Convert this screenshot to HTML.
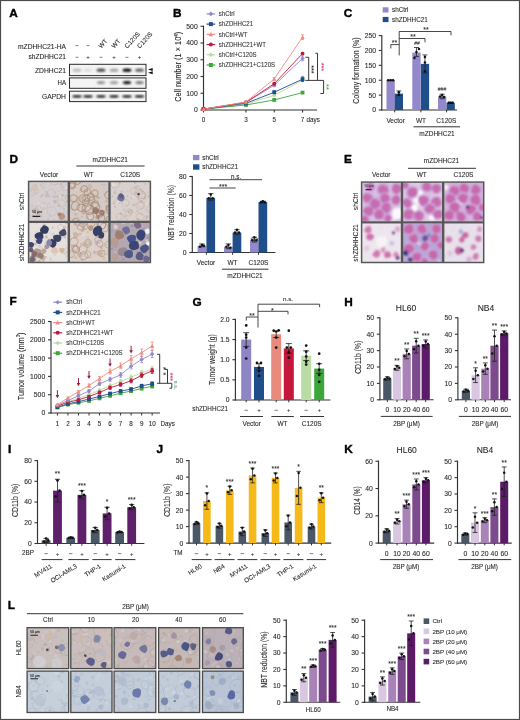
<!DOCTYPE html>
<html><head><meta charset="utf-8"><style>
html,body{margin:0;padding:0;background:#fff;overflow:hidden;}
svg{display:block;font-family:"Liberation Sans", sans-serif;filter:blur(0.35px);}
text{stroke-width:0.08px;}
</style></head><body>
<svg width="520" height="720" viewBox="0 0 520 720">
<rect width="520" height="720" fill="#fff"/>
<text x="9.20" y="16.72" font-size="11.8" font-weight="bold" fill="#000" stroke="#000" style="stroke-width:0.4px">A</text>
<text x="66.00" y="48.76" font-size="6.3" text-anchor="end" fill="#262626" textLength="48.00" lengthAdjust="spacingAndGlyphs" stroke="#262626">mZDHHC21-HA</text>
<text x="66.00" y="59.26" font-size="6.3" text-anchor="end" fill="#262626" textLength="37.50" lengthAdjust="spacingAndGlyphs" stroke="#262626">shZDHHC21</text>
<line x1="75.50" y1="45.60" x2="78.50" y2="45.60" stroke="#555" stroke-width="0.75"/>
<line x1="86.50" y1="45.60" x2="89.50" y2="45.60" stroke="#555" stroke-width="0.75"/>
<line x1="75.50" y1="57.30" x2="78.50" y2="57.30" stroke="#555" stroke-width="0.75"/>
<text x="88.00" y="59.45" font-size="6" text-anchor="middle" fill="#262626" stroke="#262626">+</text>
<line x1="99.50" y1="57.30" x2="102.50" y2="57.30" stroke="#555" stroke-width="0.75"/>
<text x="114.00" y="59.45" font-size="6" text-anchor="middle" fill="#262626" stroke="#262626">+</text>
<line x1="125.50" y1="57.30" x2="128.50" y2="57.30" stroke="#555" stroke-width="0.75"/>
<text x="139.50" y="59.45" font-size="6" text-anchor="middle" fill="#262626" stroke="#262626">+</text>
<text transform="translate(101.30,48.8) rotate(-48)" font-size="6.4" fill="#262626" stroke="#262626">WT</text>
<text transform="translate(114.30,48.8) rotate(-48)" font-size="6.4" fill="#262626" stroke="#262626">WT</text>
<text transform="translate(127.30,48.8) rotate(-48)" font-size="6.4" fill="#262626" stroke="#262626">C120S</text>
<text transform="translate(139.80,48.8) rotate(-48)" font-size="6.4" fill="#262626" stroke="#262626">C120S</text>
<text x="66.00" y="72.56" font-size="6.3" text-anchor="end" fill="#262626" textLength="31.00" lengthAdjust="spacingAndGlyphs" stroke="#262626">ZDHHC21</text>
<text x="66.00" y="85.46" font-size="6.3" text-anchor="end" fill="#262626" textLength="8.50" lengthAdjust="spacingAndGlyphs" stroke="#262626">HA</text>
<text x="66.00" y="98.76" font-size="6.3" text-anchor="end" fill="#262626" textLength="24.00" lengthAdjust="spacingAndGlyphs" stroke="#262626">GAPDH</text>
<defs><filter id="bl" x="-50%" y="-50%" width="200%" height="200%"><feGaussianBlur stdDeviation="0.9"/></filter><filter id="bl2" x="-50%" y="-50%" width="200%" height="200%"><feGaussianBlur stdDeviation="1.6"/></filter></defs>
<rect x="69.50" y="64.30" width="76.50" height="11.30" fill="#f4f4f4"/>
<rect x="69.50" y="77.90" width="76.50" height="10.40" fill="#f4f4f4"/>
<rect x="69.50" y="91.20" width="76.50" height="10.40" fill="#f4f4f4"/>
<ellipse cx="77.00" cy="70.20" rx="4.50" ry="1.60" fill="#000" opacity="0.24" filter="url(#bl)"/>
<ellipse cx="88.00" cy="70.20" rx="4.50" ry="1.60" fill="#000" opacity="0.09" filter="url(#bl)"/>
<ellipse cx="101.00" cy="70.20" rx="4.50" ry="1.60" fill="#000" opacity="0.72" filter="url(#bl)"/>
<ellipse cx="114.00" cy="70.20" rx="4.50" ry="1.60" fill="#000" opacity="0.34" filter="url(#bl)"/>
<ellipse cx="127.00" cy="70.20" rx="4.50" ry="1.60" fill="#000" opacity="1.0" filter="url(#bl)"/>
<ellipse cx="139.50" cy="70.20" rx="4.50" ry="1.60" fill="#000" opacity="0.62" filter="url(#bl)"/>
<ellipse cx="101.00" cy="82.60" rx="4.25" ry="1.60" fill="#000" opacity="0.4" filter="url(#bl)"/>
<ellipse cx="114.00" cy="82.60" rx="4.25" ry="1.60" fill="#000" opacity="0.36" filter="url(#bl)"/>
<ellipse cx="127.00" cy="82.60" rx="4.25" ry="1.60" fill="#000" opacity="0.95" filter="url(#bl)"/>
<ellipse cx="139.50" cy="82.60" rx="4.25" ry="1.60" fill="#000" opacity="0.5" filter="url(#bl)"/>
<ellipse cx="77.00" cy="96.40" rx="4.75" ry="1.10" fill="#000" opacity="1.0" filter="url(#bl)"/>
<ellipse cx="88.00" cy="96.40" rx="4.75" ry="1.10" fill="#000" opacity="1.0" filter="url(#bl)"/>
<ellipse cx="101.00" cy="96.40" rx="4.75" ry="1.10" fill="#000" opacity="1.0" filter="url(#bl)"/>
<ellipse cx="114.00" cy="96.40" rx="4.75" ry="1.10" fill="#000" opacity="1.0" filter="url(#bl)"/>
<ellipse cx="127.00" cy="96.40" rx="4.75" ry="1.10" fill="#000" opacity="1.0" filter="url(#bl)"/>
<ellipse cx="139.50" cy="96.40" rx="4.75" ry="1.10" fill="#000" opacity="1.0" filter="url(#bl)"/>
<rect x="69.50" y="64.30" width="76.50" height="11.30" fill="none" stroke="#2a2a2a" stroke-width="1.0"/>
<rect x="69.50" y="77.90" width="76.50" height="10.40" fill="none" stroke="#2a2a2a" stroke-width="1.0"/>
<rect x="69.50" y="91.20" width="76.50" height="10.40" fill="none" stroke="#2a2a2a" stroke-width="1.0"/>
<path d="M148,69.4 L152.7,67.9 L152.7,70.9 Z M148,72.7 L152.7,71.2 L152.7,74.2 Z" fill="#111"/>
<text x="172.90" y="16.82" font-size="11.8" font-weight="bold" fill="#000" stroke="#000" style="stroke-width:0.4px">B</text>
<line x1="203.50" y1="110.55" x2="203.50" y2="25.65" stroke="#333" stroke-width="1.15"/>
<line x1="200.50" y1="110.00" x2="203.50" y2="110.00" stroke="#333" stroke-width="1.1"/>
<text x="197.70" y="112.43" font-size="6.8" text-anchor="end" fill="#262626" stroke="#262626">0</text>
<line x1="200.50" y1="93.25" x2="203.50" y2="93.25" stroke="#333" stroke-width="1.1"/>
<text x="197.70" y="95.68" font-size="6.8" text-anchor="end" fill="#262626" stroke="#262626">100</text>
<line x1="200.50" y1="76.50" x2="203.50" y2="76.50" stroke="#333" stroke-width="1.1"/>
<text x="197.70" y="78.93" font-size="6.8" text-anchor="end" fill="#262626" stroke="#262626">200</text>
<line x1="200.50" y1="59.75" x2="203.50" y2="59.75" stroke="#333" stroke-width="1.1"/>
<text x="197.70" y="62.18" font-size="6.8" text-anchor="end" fill="#262626" stroke="#262626">300</text>
<line x1="200.50" y1="43.00" x2="203.50" y2="43.00" stroke="#333" stroke-width="1.1"/>
<text x="197.70" y="45.43" font-size="6.8" text-anchor="end" fill="#262626" stroke="#262626">400</text>
<line x1="200.50" y1="26.25" x2="203.50" y2="26.25" stroke="#333" stroke-width="1.1"/>
<text x="197.70" y="28.68" font-size="6.8" text-anchor="end" fill="#262626" stroke="#262626">500</text>
<line x1="203.00" y1="110.00" x2="317.00" y2="110.00" stroke="#333" stroke-width="1.1"/>
<line x1="203.50" y1="110.00" x2="203.50" y2="112.50" stroke="#333" stroke-width="1.1"/>
<text x="203.50" y="122.26" font-size="6.3" text-anchor="middle" fill="#262626" stroke="#262626">0</text>
<line x1="245.95" y1="110.00" x2="245.95" y2="112.50" stroke="#333" stroke-width="1.1"/>
<text x="245.95" y="122.26" font-size="6.3" text-anchor="middle" fill="#262626" stroke="#262626">3</text>
<line x1="274.25" y1="110.00" x2="274.25" y2="112.50" stroke="#333" stroke-width="1.1"/>
<text x="274.25" y="122.26" font-size="6.3" text-anchor="middle" fill="#262626" stroke="#262626">5</text>
<line x1="302.55" y1="110.00" x2="302.55" y2="112.50" stroke="#333" stroke-width="1.1"/>
<text x="302.55" y="122.26" font-size="6.3" text-anchor="middle" fill="#262626" stroke="#262626">7</text>
<text x="306.55" y="122.26" font-size="6.3" text-anchor="start" fill="#262626" stroke="#262626"> days</text>
<text transform="translate(178.0,66.8) rotate(-90)" font-size="9.2" fill="#262626" text-anchor="middle" x="0" y="3.3" textLength="70" lengthAdjust="spacingAndGlyphs" stroke="#262626">Cell number (1 × 10<tspan font-size="5.5" dy="-3.3">4</tspan><tspan dy="3.3">)</tspan></text>
<line x1="206.50" y1="13.90" x2="215.20" y2="13.90" stroke="#9488cc" stroke-width="1.2"/>
<path d="M208.60,13.90 L210.90,11.60 L213.20,13.90 L210.90,16.20Z" fill="#9488cc"/>
<text x="218.80" y="16.19" font-size="6.4" text-anchor="start" fill="#333" textLength="15.79" lengthAdjust="spacingAndGlyphs" stroke="#333">shCtrl</text>
<line x1="206.50" y1="24.12" x2="215.20" y2="24.12" stroke="#1f4e8b" stroke-width="1.2"/>
<rect x="208.90" y="22.12" width="4.00" height="4.00" fill="#1f4e8b"/>
<text x="218.80" y="26.41" font-size="6.4" text-anchor="start" fill="#333" textLength="34.28" lengthAdjust="spacingAndGlyphs" stroke="#333">shZDHHC21</text>
<line x1="206.50" y1="34.34" x2="215.20" y2="34.34" stroke="#ec8d80" stroke-width="1.2"/>
<path d="M208.70,36.34 L210.90,32.04 L213.10,36.34Z" fill="#ec8d80"/>
<text x="218.80" y="36.63" font-size="6.4" text-anchor="start" fill="#333" textLength="28.73" lengthAdjust="spacingAndGlyphs" stroke="#333">shCtrl+WT</text>
<line x1="206.50" y1="44.56" x2="215.20" y2="44.56" stroke="#c2163f" stroke-width="1.2"/>
<circle cx="210.90" cy="44.56" r="2.00" fill="#c2163f"/>
<text x="218.80" y="46.85" font-size="6.4" text-anchor="start" fill="#333" textLength="47.22" lengthAdjust="spacingAndGlyphs" stroke="#333">shZDHHC21+WT</text>
<line x1="206.50" y1="54.78" x2="215.20" y2="54.78" stroke="#b7dba3" stroke-width="1.2"/>
<path d="M208.60,54.78 L210.90,52.48 L213.20,54.78 L210.90,57.08Z" fill="#b7dba3"/>
<text x="218.80" y="57.07" font-size="6.4" text-anchor="start" fill="#333" textLength="37.82" lengthAdjust="spacingAndGlyphs" stroke="#333">shCtrl+C120S</text>
<line x1="206.50" y1="65.00" x2="215.20" y2="65.00" stroke="#3ea63c" stroke-width="1.2"/>
<rect x="208.90" y="63.00" width="4.00" height="4.00" fill="#3ea63c"/>
<text x="218.80" y="67.29" font-size="6.4" text-anchor="start" fill="#333" textLength="56.31" lengthAdjust="spacingAndGlyphs" stroke="#333">shZDHHC21+C120S</text>
<polyline points="203.50,109.16 245.95,104.14 274.25,95.26 302.55,80.19" stroke="#b7dba3" stroke-width="0.9" fill="none"/>
<path d="M201.30,109.16 L203.50,106.96 L205.70,109.16 L203.50,111.36Z" fill="#b7dba3"/>
<line x1="245.95" y1="104.64" x2="245.95" y2="103.64" stroke="#b7dba3" stroke-width="0.8"/>
<line x1="244.45" y1="103.64" x2="247.45" y2="103.64" stroke="#b7dba3" stroke-width="0.8"/>
<line x1="244.45" y1="104.64" x2="247.45" y2="104.64" stroke="#b7dba3" stroke-width="0.8"/>
<path d="M243.75,104.14 L245.95,101.94 L248.15,104.14 L245.95,106.34Z" fill="#b7dba3"/>
<line x1="274.25" y1="96.10" x2="274.25" y2="94.42" stroke="#b7dba3" stroke-width="0.8"/>
<line x1="272.75" y1="94.42" x2="275.75" y2="94.42" stroke="#b7dba3" stroke-width="0.8"/>
<line x1="272.75" y1="96.10" x2="275.75" y2="96.10" stroke="#b7dba3" stroke-width="0.8"/>
<path d="M272.05,95.26 L274.25,93.06 L276.45,95.26 L274.25,97.46Z" fill="#b7dba3"/>
<line x1="302.55" y1="81.19" x2="302.55" y2="79.18" stroke="#b7dba3" stroke-width="0.8"/>
<line x1="301.05" y1="79.18" x2="304.05" y2="79.18" stroke="#b7dba3" stroke-width="0.8"/>
<line x1="301.05" y1="81.19" x2="304.05" y2="81.19" stroke="#b7dba3" stroke-width="0.8"/>
<path d="M300.35,80.19 L302.55,77.98 L304.75,80.19 L302.55,82.39Z" fill="#b7dba3"/>
<polyline points="203.50,109.16 245.95,104.97 274.25,99.95 302.55,92.58" stroke="#3ea63c" stroke-width="0.9" fill="none"/>
<rect x="201.60" y="107.26" width="3.80" height="3.80" fill="#3ea63c"/>
<line x1="245.95" y1="105.48" x2="245.95" y2="104.47" stroke="#3ea63c" stroke-width="0.8"/>
<line x1="244.45" y1="104.47" x2="247.45" y2="104.47" stroke="#3ea63c" stroke-width="0.8"/>
<line x1="244.45" y1="105.48" x2="247.45" y2="105.48" stroke="#3ea63c" stroke-width="0.8"/>
<rect x="244.05" y="103.07" width="3.80" height="3.80" fill="#3ea63c"/>
<line x1="274.25" y1="100.79" x2="274.25" y2="99.11" stroke="#3ea63c" stroke-width="0.8"/>
<line x1="272.75" y1="99.11" x2="275.75" y2="99.11" stroke="#3ea63c" stroke-width="0.8"/>
<line x1="272.75" y1="100.79" x2="275.75" y2="100.79" stroke="#3ea63c" stroke-width="0.8"/>
<rect x="272.35" y="98.05" width="3.80" height="3.80" fill="#3ea63c"/>
<line x1="302.55" y1="93.58" x2="302.55" y2="91.58" stroke="#3ea63c" stroke-width="0.8"/>
<line x1="301.05" y1="91.58" x2="304.05" y2="91.58" stroke="#3ea63c" stroke-width="0.8"/>
<line x1="301.05" y1="93.58" x2="304.05" y2="93.58" stroke="#3ea63c" stroke-width="0.8"/>
<rect x="300.65" y="90.68" width="3.80" height="3.80" fill="#3ea63c"/>
<polyline points="203.50,109.16 245.95,103.30 274.25,92.25 302.55,79.18" stroke="#1f4e8b" stroke-width="0.9" fill="none"/>
<rect x="201.60" y="107.26" width="3.80" height="3.80" fill="#1f4e8b"/>
<line x1="245.95" y1="103.97" x2="245.95" y2="102.63" stroke="#1f4e8b" stroke-width="0.8"/>
<line x1="244.45" y1="102.63" x2="247.45" y2="102.63" stroke="#1f4e8b" stroke-width="0.8"/>
<line x1="244.45" y1="103.97" x2="247.45" y2="103.97" stroke="#1f4e8b" stroke-width="0.8"/>
<rect x="244.05" y="101.40" width="3.80" height="3.80" fill="#1f4e8b"/>
<line x1="274.25" y1="93.59" x2="274.25" y2="90.91" stroke="#1f4e8b" stroke-width="0.8"/>
<line x1="272.75" y1="90.91" x2="275.75" y2="90.91" stroke="#1f4e8b" stroke-width="0.8"/>
<line x1="272.75" y1="93.59" x2="275.75" y2="93.59" stroke="#1f4e8b" stroke-width="0.8"/>
<rect x="272.35" y="90.34" width="3.80" height="3.80" fill="#1f4e8b"/>
<line x1="302.55" y1="81.53" x2="302.55" y2="76.84" stroke="#1f4e8b" stroke-width="0.8"/>
<line x1="301.05" y1="76.84" x2="304.05" y2="76.84" stroke="#1f4e8b" stroke-width="0.8"/>
<line x1="301.05" y1="81.53" x2="304.05" y2="81.53" stroke="#1f4e8b" stroke-width="0.8"/>
<rect x="300.65" y="77.28" width="3.80" height="3.80" fill="#1f4e8b"/>
<polyline points="203.50,109.16 245.95,102.46 274.25,85.21 302.55,58.41" stroke="#9488cc" stroke-width="0.9" fill="none"/>
<path d="M201.30,109.16 L203.50,106.96 L205.70,109.16 L203.50,111.36Z" fill="#9488cc"/>
<line x1="245.95" y1="103.13" x2="245.95" y2="101.79" stroke="#9488cc" stroke-width="0.8"/>
<line x1="244.45" y1="101.79" x2="247.45" y2="101.79" stroke="#9488cc" stroke-width="0.8"/>
<line x1="244.45" y1="103.13" x2="247.45" y2="103.13" stroke="#9488cc" stroke-width="0.8"/>
<path d="M243.75,102.46 L245.95,100.26 L248.15,102.46 L245.95,104.66Z" fill="#9488cc"/>
<line x1="274.25" y1="86.55" x2="274.25" y2="83.87" stroke="#9488cc" stroke-width="0.8"/>
<line x1="272.75" y1="83.87" x2="275.75" y2="83.87" stroke="#9488cc" stroke-width="0.8"/>
<line x1="272.75" y1="86.55" x2="275.75" y2="86.55" stroke="#9488cc" stroke-width="0.8"/>
<path d="M272.05,85.21 L274.25,83.01 L276.45,85.21 L274.25,87.41Z" fill="#9488cc"/>
<line x1="302.55" y1="60.75" x2="302.55" y2="56.06" stroke="#9488cc" stroke-width="0.8"/>
<line x1="301.05" y1="56.06" x2="304.05" y2="56.06" stroke="#9488cc" stroke-width="0.8"/>
<line x1="301.05" y1="60.75" x2="304.05" y2="60.75" stroke="#9488cc" stroke-width="0.8"/>
<path d="M300.35,58.41 L302.55,56.21 L304.75,58.41 L302.55,60.61Z" fill="#9488cc"/>
<polyline points="203.50,109.16 245.95,102.30 274.25,83.70 302.55,53.55" stroke="#c2163f" stroke-width="0.9" fill="none"/>
<circle cx="203.50" cy="109.16" r="1.90" fill="#c2163f"/>
<line x1="245.95" y1="102.80" x2="245.95" y2="101.79" stroke="#c2163f" stroke-width="0.8"/>
<line x1="244.45" y1="101.79" x2="247.45" y2="101.79" stroke="#c2163f" stroke-width="0.8"/>
<line x1="244.45" y1="102.80" x2="247.45" y2="102.80" stroke="#c2163f" stroke-width="0.8"/>
<circle cx="245.95" cy="102.30" r="1.90" fill="#c2163f"/>
<line x1="274.25" y1="84.54" x2="274.25" y2="82.86" stroke="#c2163f" stroke-width="0.8"/>
<line x1="272.75" y1="82.86" x2="275.75" y2="82.86" stroke="#c2163f" stroke-width="0.8"/>
<line x1="272.75" y1="84.54" x2="275.75" y2="84.54" stroke="#c2163f" stroke-width="0.8"/>
<circle cx="274.25" cy="83.70" r="1.90" fill="#c2163f"/>
<line x1="302.55" y1="54.56" x2="302.55" y2="52.55" stroke="#c2163f" stroke-width="0.8"/>
<line x1="301.05" y1="52.55" x2="304.05" y2="52.55" stroke="#c2163f" stroke-width="0.8"/>
<line x1="301.05" y1="54.56" x2="304.05" y2="54.56" stroke="#c2163f" stroke-width="0.8"/>
<circle cx="302.55" cy="53.55" r="1.90" fill="#c2163f"/>
<polyline points="203.50,109.16 245.95,101.96 274.25,78.84 302.55,37.14" stroke="#ec8d80" stroke-width="0.9" fill="none"/>
<path d="M201.40,111.06 L203.50,106.96 L205.60,111.06Z" fill="#ec8d80"/>
<line x1="245.95" y1="102.63" x2="245.95" y2="101.29" stroke="#ec8d80" stroke-width="0.8"/>
<line x1="244.45" y1="101.29" x2="247.45" y2="101.29" stroke="#ec8d80" stroke-width="0.8"/>
<line x1="244.45" y1="102.63" x2="247.45" y2="102.63" stroke="#ec8d80" stroke-width="0.8"/>
<path d="M243.85,103.86 L245.95,99.76 L248.05,103.86Z" fill="#ec8d80"/>
<line x1="274.25" y1="80.19" x2="274.25" y2="77.50" stroke="#ec8d80" stroke-width="0.8"/>
<line x1="272.75" y1="77.50" x2="275.75" y2="77.50" stroke="#ec8d80" stroke-width="0.8"/>
<line x1="272.75" y1="80.19" x2="275.75" y2="80.19" stroke="#ec8d80" stroke-width="0.8"/>
<path d="M272.15,80.75 L274.25,76.64 L276.35,80.75Z" fill="#ec8d80"/>
<line x1="302.55" y1="39.48" x2="302.55" y2="34.79" stroke="#ec8d80" stroke-width="0.8"/>
<line x1="301.05" y1="34.79" x2="304.05" y2="34.79" stroke="#ec8d80" stroke-width="0.8"/>
<line x1="301.05" y1="39.48" x2="304.05" y2="39.48" stroke="#ec8d80" stroke-width="0.8"/>
<path d="M300.45,39.04 L302.55,34.94 L304.65,39.04Z" fill="#ec8d80"/>
<polyline points="305.40,57.30 308.70,57.30 308.70,80.40" stroke="#222" stroke-width="0.9" fill="none"/>
<polyline points="315.40,53.30 317.50,53.30 317.50,80.40" stroke="#222" stroke-width="0.9" fill="none"/>
<polyline points="305.40,80.40 323.60,80.40 323.60,93.50 320.40,93.50" stroke="#222" stroke-width="0.9" fill="none"/>
<text transform="translate(311.90,69.40) rotate(90)" x="0" y="2.58" font-size="7.2" text-anchor="middle" fill="#2a2a2a" stroke="#2a2a2a">***</text>
<text transform="translate(321.20,66.90) rotate(90)" x="0" y="2.58" font-size="7.2" text-anchor="middle" fill="#d83a62" stroke="#d83a62">***</text>
<text transform="translate(326.80,86.90) rotate(90)" x="0" y="2.58" font-size="7.2" text-anchor="middle" fill="#4aa848" stroke="#4aa848">**</text>
<text x="343.80" y="16.72" font-size="11.8" font-weight="bold" fill="#000" stroke="#000" style="stroke-width:0.4px">C</text>
<rect x="382.70" y="7.30" width="5.80" height="5.20" fill="#9488cc"/>
<text x="392.00" y="12.26" font-size="6.3" text-anchor="start" fill="#262626" stroke="#262626">shCtrl</text>
<rect x="382.70" y="16.90" width="5.80" height="5.20" fill="#1f4e8b"/>
<text x="392.00" y="21.86" font-size="6.3" text-anchor="start" fill="#262626" stroke="#262626">shZDHHC21</text>
<line x1="381.80" y1="110.55" x2="381.80" y2="35.00" stroke="#333" stroke-width="1.15"/>
<line x1="378.80" y1="110.00" x2="381.80" y2="110.00" stroke="#333" stroke-width="1.1"/>
<text x="376.00" y="112.43" font-size="6.8" text-anchor="end" fill="#262626" stroke="#262626">0</text>
<line x1="378.80" y1="95.12" x2="381.80" y2="95.12" stroke="#333" stroke-width="1.1"/>
<text x="376.00" y="97.55" font-size="6.8" text-anchor="end" fill="#262626" stroke="#262626">50</text>
<line x1="378.80" y1="80.24" x2="381.80" y2="80.24" stroke="#333" stroke-width="1.1"/>
<text x="376.00" y="82.67" font-size="6.8" text-anchor="end" fill="#262626" stroke="#262626">100</text>
<line x1="378.80" y1="65.36" x2="381.80" y2="65.36" stroke="#333" stroke-width="1.1"/>
<text x="376.00" y="67.79" font-size="6.8" text-anchor="end" fill="#262626" stroke="#262626">150</text>
<line x1="378.80" y1="50.48" x2="381.80" y2="50.48" stroke="#333" stroke-width="1.1"/>
<text x="376.00" y="52.91" font-size="6.8" text-anchor="end" fill="#262626" stroke="#262626">200</text>
<line x1="378.80" y1="35.60" x2="381.80" y2="35.60" stroke="#333" stroke-width="1.1"/>
<text x="376.00" y="38.03" font-size="6.8" text-anchor="end" fill="#262626" stroke="#262626">250</text>
<line x1="381.30" y1="110.00" x2="457.00" y2="110.00" stroke="#333" stroke-width="1.1"/>
<text transform="translate(356.1,70.6) rotate(-90)" font-size="9.2" fill="#262626" text-anchor="middle" y="3.3" textLength="66.3" lengthAdjust="spacingAndGlyphs" stroke="#262626">Colony formation (%)</text>
<rect x="386.50" y="80.24" width="8.30" height="29.76" fill="#9488cc"/>
<line x1="390.65" y1="80.24" x2="390.65" y2="80.24" stroke="#222" stroke-width="0.8"/>
<line x1="388.16" y1="80.24" x2="393.14" y2="80.24" stroke="#222" stroke-width="0.8"/>
<line x1="388.16" y1="80.24" x2="393.14" y2="80.24" stroke="#222" stroke-width="0.8"/>
<circle cx="388.15" cy="80.24" r="1.25" fill="#111"/>
<circle cx="390.65" cy="80.24" r="1.25" fill="#111"/>
<circle cx="393.15" cy="80.24" r="1.25" fill="#111"/>
<rect x="394.70" y="93.63" width="8.30" height="16.37" fill="#1f4e8b"/>
<line x1="398.85" y1="95.72" x2="398.85" y2="90.95" stroke="#222" stroke-width="0.8"/>
<line x1="396.36" y1="90.95" x2="401.34" y2="90.95" stroke="#222" stroke-width="0.8"/>
<line x1="396.36" y1="95.72" x2="401.34" y2="95.72" stroke="#222" stroke-width="0.8"/>
<circle cx="398.85" cy="94.82" r="1.25" fill="#111"/>
<circle cx="398.85" cy="92.14" r="1.25" fill="#111"/>
<rect x="412.30" y="52.56" width="8.30" height="57.44" fill="#9488cc"/>
<line x1="416.45" y1="56.43" x2="416.45" y2="47.50" stroke="#222" stroke-width="0.8"/>
<line x1="413.96" y1="47.50" x2="418.94" y2="47.50" stroke="#222" stroke-width="0.8"/>
<line x1="413.96" y1="56.43" x2="418.94" y2="56.43" stroke="#222" stroke-width="0.8"/>
<circle cx="414.45" cy="57.92" r="1.25" fill="#111"/>
<circle cx="416.45" cy="51.97" r="1.25" fill="#111"/>
<circle cx="418.95" cy="48.99" r="1.25" fill="#111"/>
<rect x="420.80" y="63.87" width="8.30" height="46.13" fill="#1f4e8b"/>
<line x1="424.95" y1="72.80" x2="424.95" y2="54.94" stroke="#222" stroke-width="0.8"/>
<line x1="422.46" y1="54.94" x2="427.44" y2="54.94" stroke="#222" stroke-width="0.8"/>
<line x1="422.46" y1="72.80" x2="427.44" y2="72.80" stroke="#222" stroke-width="0.8"/>
<circle cx="424.95" cy="71.31" r="1.25" fill="#111"/>
<circle cx="424.95" cy="62.38" r="1.25" fill="#111"/>
<circle cx="424.95" cy="57.03" r="1.25" fill="#111"/>
<rect x="438.00" y="96.61" width="8.30" height="13.39" fill="#9488cc"/>
<line x1="442.15" y1="98.69" x2="442.15" y2="94.23" stroke="#222" stroke-width="0.8"/>
<line x1="439.66" y1="94.23" x2="444.64" y2="94.23" stroke="#222" stroke-width="0.8"/>
<line x1="439.66" y1="98.69" x2="444.64" y2="98.69" stroke="#222" stroke-width="0.8"/>
<circle cx="440.15" cy="96.61" r="1.25" fill="#111"/>
<circle cx="442.15" cy="95.12" r="1.25" fill="#111"/>
<circle cx="444.15" cy="96.91" r="1.25" fill="#111"/>
<rect x="446.50" y="102.86" width="8.30" height="7.14" fill="#1f4e8b"/>
<line x1="450.65" y1="103.45" x2="450.65" y2="102.26" stroke="#222" stroke-width="0.8"/>
<line x1="448.16" y1="102.26" x2="453.14" y2="102.26" stroke="#222" stroke-width="0.8"/>
<line x1="448.16" y1="103.45" x2="453.14" y2="103.45" stroke="#222" stroke-width="0.8"/>
<circle cx="448.65" cy="102.86" r="1.25" fill="#111"/>
<circle cx="450.65" cy="102.86" r="1.25" fill="#111"/>
<circle cx="452.65" cy="102.86" r="1.25" fill="#111"/>
<line x1="394.70" y1="110.00" x2="394.70" y2="112.30" stroke="#333" stroke-width="1.0"/>
<line x1="420.90" y1="110.00" x2="420.90" y2="112.30" stroke="#333" stroke-width="1.0"/>
<line x1="446.60" y1="110.00" x2="446.60" y2="112.30" stroke="#333" stroke-width="1.0"/>
<text x="395.60" y="122.53" font-size="6.5" text-anchor="middle" fill="#262626" stroke="#262626">Vector</text>
<text x="421.00" y="122.53" font-size="6.5" text-anchor="middle" fill="#262626" stroke="#262626">WT</text>
<text x="446.30" y="122.53" font-size="6.5" text-anchor="middle" fill="#262626" stroke="#262626">C120S</text>
<line x1="413.50" y1="126.80" x2="460.00" y2="126.80" stroke="#333" stroke-width="1.0"/>
<text x="437.00" y="136.13" font-size="6.5" text-anchor="middle" fill="#262626" stroke="#262626">mZDHHC21</text>
<polyline points="399.20,55.40 399.20,31.50 451.00,31.50 451.00,35.40" stroke="#333" stroke-width="0.9" fill="none"/>
<polyline points="399.20,38.50 425.00,38.50 425.00,42.30" stroke="#333" stroke-width="0.9" fill="none"/>
<polyline points="390.80,48.50 390.80,44.60 399.20,44.60" stroke="#333" stroke-width="0.9" fill="none"/>
<text x="426.00" y="32.31" font-size="7" text-anchor="middle" fill="#262626" stroke="#262626">**</text>
<text x="413.00" y="39.21" font-size="7" text-anchor="middle" fill="#262626" stroke="#262626">**</text>
<text x="394.60" y="45.31" font-size="7" text-anchor="middle" fill="#262626" stroke="#262626">**</text>
<text x="417.00" y="44.79" font-size="5" text-anchor="middle" fill="#444" stroke="#444">##</text>
<text x="442.00" y="90.79" font-size="5" text-anchor="middle" fill="#444" stroke="#444">###</text>
<text x="9.60" y="162.62" font-size="11.8" font-weight="bold" fill="#000" stroke="#000" style="stroke-width:0.4px">D</text>
<text x="49.00" y="176.73" font-size="6.5" text-anchor="middle" fill="#262626" stroke="#262626">Vector</text>
<text x="88.80" y="176.73" font-size="6.5" text-anchor="middle" fill="#262626" stroke="#262626">WT</text>
<text x="130.20" y="176.73" font-size="6.5" text-anchor="middle" fill="#262626" stroke="#262626">C120S</text>
<line x1="76.30" y1="166.00" x2="144.60" y2="166.00" stroke="#333" stroke-width="1.0"/>
<text x="110.30" y="161.53" font-size="6.5" text-anchor="middle" fill="#262626" stroke="#262626">mZDHHC21</text>
<text transform="translate(21.60,201.40) rotate(-90)" x="0" y="2.65" font-size="7.4" text-anchor="middle" fill="#262626" textLength="17.50" lengthAdjust="spacingAndGlyphs" stroke="#262626">shCtrl</text>
<text transform="translate(21.60,242.50) rotate(-90)" x="0" y="2.65" font-size="7.4" text-anchor="middle" fill="#262626" textLength="37.50" lengthAdjust="spacingAndGlyphs" stroke="#262626">shZDHHC21</text>
<rect x="193.00" y="155.00" width="6.40" height="5.20" fill="#9488cc"/>
<text x="202.30" y="159.96" font-size="6.3" text-anchor="start" fill="#262626" stroke="#262626">shCtrl</text>
<rect x="193.00" y="164.30" width="6.40" height="5.40" fill="#1f4e8b"/>
<text x="202.30" y="169.26" font-size="6.3" text-anchor="start" fill="#262626" stroke="#262626">shZDHHC21</text>
<line x1="192.30" y1="253.05" x2="192.30" y2="175.90" stroke="#333" stroke-width="1.15"/>
<line x1="189.30" y1="252.50" x2="192.30" y2="252.50" stroke="#333" stroke-width="1.1"/>
<text x="186.50" y="254.93" font-size="6.8" text-anchor="end" fill="#262626" stroke="#262626">0</text>
<line x1="189.30" y1="233.50" x2="192.30" y2="233.50" stroke="#333" stroke-width="1.1"/>
<text x="186.50" y="235.93" font-size="6.8" text-anchor="end" fill="#262626" stroke="#262626">20</text>
<line x1="189.30" y1="214.50" x2="192.30" y2="214.50" stroke="#333" stroke-width="1.1"/>
<text x="186.50" y="216.93" font-size="6.8" text-anchor="end" fill="#262626" stroke="#262626">40</text>
<line x1="189.30" y1="195.50" x2="192.30" y2="195.50" stroke="#333" stroke-width="1.1"/>
<text x="186.50" y="197.93" font-size="6.8" text-anchor="end" fill="#262626" stroke="#262626">60</text>
<line x1="189.30" y1="176.50" x2="192.30" y2="176.50" stroke="#333" stroke-width="1.1"/>
<text x="186.50" y="178.93" font-size="6.8" text-anchor="end" fill="#262626" stroke="#262626">80</text>
<line x1="191.80" y1="252.50" x2="275.40" y2="252.50" stroke="#333" stroke-width="1.1"/>
<text transform="translate(170.5,212.8) rotate(-90)" font-size="9.2" fill="#262626" text-anchor="middle" y="3.3" textLength="55.6" lengthAdjust="spacingAndGlyphs" stroke="#262626">NBT reduction (%)</text>
<rect x="197.60" y="245.85" width="8.70" height="6.65" fill="#9488cc"/>
<line x1="201.95" y1="246.80" x2="201.95" y2="243.95" stroke="#222" stroke-width="0.8"/>
<line x1="199.34" y1="243.95" x2="204.56" y2="243.95" stroke="#222" stroke-width="0.8"/>
<line x1="199.34" y1="246.80" x2="204.56" y2="246.80" stroke="#222" stroke-width="0.8"/>
<circle cx="199.95" cy="246.80" r="1.25" fill="#111"/>
<circle cx="201.95" cy="244.90" r="1.25" fill="#111"/>
<circle cx="203.95" cy="245.85" r="1.25" fill="#111"/>
<rect x="206.40" y="197.88" width="8.70" height="54.62" fill="#1f4e8b"/>
<line x1="210.75" y1="200.25" x2="210.75" y2="193.60" stroke="#222" stroke-width="0.8"/>
<line x1="208.14" y1="193.60" x2="213.36" y2="193.60" stroke="#222" stroke-width="0.8"/>
<line x1="208.14" y1="200.25" x2="213.36" y2="200.25" stroke="#222" stroke-width="0.8"/>
<circle cx="208.75" cy="198.35" r="1.25" fill="#111"/>
<circle cx="210.75" cy="194.55" r="1.25" fill="#111"/>
<circle cx="212.75" cy="198.35" r="1.25" fill="#111"/>
<rect x="224.00" y="246.80" width="8.70" height="5.70" fill="#9488cc"/>
<line x1="228.35" y1="248.70" x2="228.35" y2="243.95" stroke="#222" stroke-width="0.8"/>
<line x1="225.74" y1="243.95" x2="230.96" y2="243.95" stroke="#222" stroke-width="0.8"/>
<line x1="225.74" y1="248.70" x2="230.96" y2="248.70" stroke="#222" stroke-width="0.8"/>
<circle cx="226.35" cy="246.80" r="1.25" fill="#111"/>
<circle cx="228.35" cy="244.90" r="1.25" fill="#111"/>
<circle cx="230.35" cy="247.75" r="1.25" fill="#111"/>
<rect x="232.60" y="232.55" width="8.70" height="19.95" fill="#1f4e8b"/>
<line x1="236.95" y1="234.45" x2="236.95" y2="229.70" stroke="#222" stroke-width="0.8"/>
<line x1="234.34" y1="229.70" x2="239.56" y2="229.70" stroke="#222" stroke-width="0.8"/>
<line x1="234.34" y1="234.45" x2="239.56" y2="234.45" stroke="#222" stroke-width="0.8"/>
<circle cx="234.95" cy="232.55" r="1.25" fill="#111"/>
<circle cx="236.95" cy="229.70" r="1.25" fill="#111"/>
<circle cx="238.95" cy="232.55" r="1.25" fill="#111"/>
<rect x="250.00" y="240.15" width="8.70" height="12.35" fill="#9488cc"/>
<line x1="254.35" y1="242.05" x2="254.35" y2="237.30" stroke="#222" stroke-width="0.8"/>
<line x1="251.74" y1="237.30" x2="256.96" y2="237.30" stroke="#222" stroke-width="0.8"/>
<line x1="251.74" y1="242.05" x2="256.96" y2="242.05" stroke="#222" stroke-width="0.8"/>
<circle cx="252.35" cy="240.15" r="1.25" fill="#111"/>
<circle cx="254.35" cy="237.30" r="1.25" fill="#111"/>
<circle cx="256.35" cy="240.15" r="1.25" fill="#111"/>
<rect x="258.50" y="202.15" width="8.70" height="50.35" fill="#1f4e8b"/>
<line x1="262.85" y1="203.10" x2="262.85" y2="201.20" stroke="#222" stroke-width="0.8"/>
<line x1="260.24" y1="201.20" x2="265.46" y2="201.20" stroke="#222" stroke-width="0.8"/>
<line x1="260.24" y1="203.10" x2="265.46" y2="203.10" stroke="#222" stroke-width="0.8"/>
<circle cx="260.85" cy="202.15" r="1.25" fill="#111"/>
<circle cx="262.85" cy="201.20" r="1.25" fill="#111"/>
<circle cx="264.85" cy="202.15" r="1.25" fill="#111"/>
<line x1="206.40" y1="252.50" x2="206.40" y2="254.80" stroke="#333" stroke-width="1.0"/>
<line x1="232.60" y1="252.50" x2="232.60" y2="254.80" stroke="#333" stroke-width="1.0"/>
<line x1="258.50" y1="252.50" x2="258.50" y2="254.80" stroke="#333" stroke-width="1.0"/>
<text x="206.00" y="264.63" font-size="6.5" text-anchor="middle" fill="#262626" stroke="#262626">Vector</text>
<text x="232.50" y="264.63" font-size="6.5" text-anchor="middle" fill="#262626" stroke="#262626">WT</text>
<text x="258.50" y="264.63" font-size="6.5" text-anchor="middle" fill="#262626" stroke="#262626">C120S</text>
<line x1="222.00" y1="269.20" x2="268.50" y2="269.20" stroke="#333" stroke-width="1.0"/>
<text x="245.00" y="278.33" font-size="6.5" text-anchor="middle" fill="#262626" stroke="#262626">mZDHHC21</text>
<line x1="209.40" y1="179.70" x2="262.10" y2="179.70" stroke="#333" stroke-width="0.9"/>
<line x1="209.40" y1="188.00" x2="235.70" y2="188.00" stroke="#333" stroke-width="0.9"/>
<text x="236.10" y="178.76" font-size="6.3" text-anchor="middle" fill="#262626" stroke="#262626">n.s.</text>
<text x="223.10" y="189.11" font-size="7" text-anchor="middle" fill="#262626" stroke="#262626">***</text>
<text x="254.50" y="242.51" font-size="7" text-anchor="middle" fill="#262626" stroke="#262626">***</text>
<text x="344.00" y="162.62" font-size="11.8" font-weight="bold" fill="#000" stroke="#000" style="stroke-width:0.4px">E</text>
<text x="381.30" y="176.93" font-size="6.5" text-anchor="middle" fill="#262626" stroke="#262626">Vector</text>
<text x="421.70" y="176.93" font-size="6.5" text-anchor="middle" fill="#262626" stroke="#262626">WT</text>
<text x="463.50" y="177.33" font-size="6.5" text-anchor="middle" fill="#262626" stroke="#262626">C120S</text>
<line x1="408.00" y1="168.30" x2="476.00" y2="168.30" stroke="#333" stroke-width="1.0"/>
<text x="441.50" y="163.13" font-size="6.5" text-anchor="middle" fill="#262626" stroke="#262626">mZDHHC21</text>
<text transform="translate(355.10,201.40) rotate(-90)" x="0" y="2.65" font-size="7.4" text-anchor="middle" fill="#262626" textLength="17.50" lengthAdjust="spacingAndGlyphs" stroke="#262626">shCtrl</text>
<text transform="translate(355.10,243.00) rotate(-90)" x="0" y="2.65" font-size="7.4" text-anchor="middle" fill="#262626" textLength="37.50" lengthAdjust="spacingAndGlyphs" stroke="#262626">shZDHHC21</text>
<defs><filter id="mb" x="-20%" y="-20%" width="140%" height="140%"><feGaussianBlur stdDeviation="0.75"/></filter><filter id="mb2" x="-20%" y="-20%" width="140%" height="140%"><feGaussianBlur stdDeviation="0.45"/></filter><filter id="mbE" x="-20%" y="-20%" width="140%" height="140%"><feGaussianBlur stdDeviation="0.95"/></filter></defs>
<clipPath id="mc1"><rect x="28.90" y="181.70" width="38.90" height="39.20"/></clipPath>
<g clip-path="url(#mc1)">
<rect x="27.90" y="180.70" width="40.90" height="41.20" fill="#d5cfd1"/>
<g filter="url(#mb)">
<circle cx="33.40" cy="215.61" r="1.44" fill="#bcaca4" opacity="0.40"/>
<circle cx="59.02" cy="200.16" r="1.02" fill="#e8e2e2" opacity="0.39"/>
<circle cx="29.06" cy="215.13" r="1.08" fill="#c8b8ae" opacity="0.66"/>
<circle cx="38.79" cy="213.74" r="1.25" fill="#c8b8ae" opacity="0.76"/>
<circle cx="29.15" cy="181.75" r="1.20" fill="#d0c8d2" opacity="0.66"/>
<circle cx="67.53" cy="210.61" r="1.18" fill="#d0c8d2" opacity="0.77"/>
<circle cx="50.51" cy="194.94" r="1.34" fill="#d0c8d2" opacity="0.78"/>
<circle cx="65.79" cy="197.85" r="1.61" fill="#c8b8ae" opacity="0.43"/>
<circle cx="68.50" cy="216.13" r="0.73" fill="#bcaca4" opacity="0.75"/>
<circle cx="67.71" cy="201.33" r="1.66" fill="#c4b09e" opacity="0.72"/>
<circle cx="55.32" cy="193.20" r="1.25" fill="#d0c8d2" opacity="0.73"/>
<circle cx="48.57" cy="204.97" r="0.64" fill="#e8e2e2" opacity="0.68"/>
<circle cx="44.44" cy="208.09" r="1.00" fill="#bcaca4" opacity="0.39"/>
<circle cx="55.05" cy="185.15" r="0.78" fill="#d0c8d2" opacity="0.52"/>
<circle cx="57.87" cy="200.04" r="0.94" fill="#c4b09e" opacity="0.62"/>
<circle cx="44.00" cy="187.72" r="1.15" fill="#c8b8ae" opacity="0.70"/>
<circle cx="49.97" cy="216.14" r="0.86" fill="#c4b09e" opacity="0.50"/>
<circle cx="62.56" cy="195.25" r="1.60" fill="#c4b09e" opacity="0.62"/>
<circle cx="57.73" cy="196.51" r="1.54" fill="#c4b09e" opacity="0.71"/>
<circle cx="49.11" cy="203.83" r="1.07" fill="#c8b8ae" opacity="0.57"/>
<circle cx="42.82" cy="203.54" r="1.64" fill="#d0c8d2" opacity="0.57"/>
<circle cx="42.49" cy="194.96" r="1.19" fill="#c4b09e" opacity="0.70"/>
<circle cx="41.44" cy="205.41" r="1.49" fill="#e8e2e2" opacity="0.60"/>
<circle cx="35.29" cy="184.47" r="1.21" fill="#bcaca4" opacity="0.36"/>
<circle cx="66.49" cy="183.60" r="1.55" fill="#d0c8d2" opacity="0.36"/>
<circle cx="58.80" cy="190.98" r="0.72" fill="#c4b09e" opacity="0.43"/>
<circle cx="39.77" cy="187.60" r="0.88" fill="#e8e2e2" opacity="0.65"/>
<circle cx="54.41" cy="192.83" r="1.37" fill="#d0c8d2" opacity="0.56"/>
<circle cx="28.87" cy="196.63" r="1.06" fill="#e8e2e2" opacity="0.47"/>
<circle cx="38.27" cy="210.78" r="1.67" fill="#c4b09e" opacity="0.54"/>
<circle cx="67.80" cy="189.99" r="1.04" fill="#c8b8ae" opacity="0.67"/>
<circle cx="34.45" cy="209.73" r="1.35" fill="#c4b09e" opacity="0.72"/>
<circle cx="67.86" cy="206.69" r="1.36" fill="#d0c8d2" opacity="0.45"/>
<circle cx="54.42" cy="196.97" r="1.23" fill="#bcaca4" opacity="0.65"/>
<circle cx="45.34" cy="211.08" r="0.74" fill="#e8e2e2" opacity="0.74"/>
<circle cx="40.43" cy="216.07" r="0.94" fill="#bcaca4" opacity="0.68"/>
<circle cx="44.92" cy="191.10" r="0.61" fill="#c8b8ae" opacity="0.62"/>
<circle cx="36.80" cy="217.81" r="1.11" fill="#c4b09e" opacity="0.58"/>
<circle cx="43.36" cy="194.99" r="0.83" fill="#d0c8d2" opacity="0.62"/>
<circle cx="48.04" cy="219.34" r="1.03" fill="#c4b09e" opacity="0.57"/>
<circle cx="41.21" cy="216.61" r="1.59" fill="#c8b8ae" opacity="0.42"/>
<circle cx="62.97" cy="214.12" r="1.22" fill="#e8e2e2" opacity="0.50"/>
<circle cx="36.61" cy="208.49" r="1.52" fill="#c4b09e" opacity="0.50"/>
<circle cx="63.99" cy="209.01" r="1.13" fill="#c4b09e" opacity="0.46"/>
<circle cx="57.57" cy="184.19" r="0.79" fill="#c4b09e" opacity="0.45"/>
<circle cx="58.95" cy="205.43" r="1.53" fill="#bcaca4" opacity="0.50"/>
<circle cx="32.56" cy="190.39" r="1.64" fill="#d0c8d2" opacity="0.41"/>
<circle cx="50.44" cy="185.00" r="0.64" fill="#c8b8ae" opacity="0.52"/>
<circle cx="68.44" cy="186.77" r="0.74" fill="#c8b8ae" opacity="0.63"/>
<circle cx="59.88" cy="196.28" r="1.23" fill="#e8e2e2" opacity="0.60"/>
<circle cx="66.85" cy="195.73" r="0.93" fill="#c4b09e" opacity="0.77"/>
<circle cx="46.62" cy="192.12" r="1.47" fill="#bcaca4" opacity="0.36"/>
<circle cx="55.32" cy="184.48" r="0.73" fill="#c8b8ae" opacity="0.43"/>
<circle cx="60.03" cy="204.88" r="0.78" fill="#d0c8d2" opacity="0.43"/>
<circle cx="37.77" cy="211.35" r="0.71" fill="#d0c8d2" opacity="0.71"/>
<circle cx="50.11" cy="214.42" r="1.21" fill="#d0c8d2" opacity="0.49"/>
<circle cx="36.39" cy="193.78" r="0.63" fill="#bcaca4" opacity="0.68"/>
<circle cx="41.00" cy="196.82" r="1.04" fill="#c8b8ae" opacity="0.76"/>
<circle cx="67.57" cy="220.66" r="0.72" fill="#e8e2e2" opacity="0.70"/>
<circle cx="59.72" cy="217.42" r="1.55" fill="#d0c8d2" opacity="0.65"/>
<circle cx="38.50" cy="203.01" r="0.94" fill="#e8e2e2" opacity="0.51"/>
<circle cx="61.44" cy="184.38" r="1.43" fill="#c8b8ae" opacity="0.64"/>
<circle cx="54.22" cy="219.46" r="1.03" fill="#bcaca4" opacity="0.37"/>
<circle cx="35.54" cy="213.36" r="1.24" fill="#bcaca4" opacity="0.46"/>
<circle cx="32.03" cy="205.89" r="1.49" fill="#c8b8ae" opacity="0.46"/>
<circle cx="28.73" cy="190.74" r="0.68" fill="#c4b09e" opacity="0.74"/>
<circle cx="57.72" cy="181.59" r="0.61" fill="#bcaca4" opacity="0.57"/>
<circle cx="63.18" cy="187.05" r="1.15" fill="#bcaca4" opacity="0.38"/>
<circle cx="66.72" cy="187.84" r="1.45" fill="#e8e2e2" opacity="0.72"/>
<circle cx="40.98" cy="185.10" r="1.17" fill="#c4b09e" opacity="0.48"/>
<path d="M69.0,183.0Q69.8,184.7 68.9,187.5Q68.1,190.2 66.1,190.6Q64.2,191.0 62.7,190.0Q61.2,188.9 60.9,187.8Q60.5,186.6 60.8,184.7Q61.1,182.9 63.3,182.1Q65.6,181.3 66.9,181.3Q68.1,181.3 69.0,183.0Z" fill="none" stroke="#b0907c" stroke-width="0.7" opacity="0.3"/>
<path d="M65.4,202.6Q65.8,204.2 65.2,205.2Q64.7,206.2 63.3,206.7Q62.0,207.2 60.2,206.7Q58.4,206.2 58.0,204.7Q57.7,203.3 58.2,202.1Q58.6,200.9 59.7,200.1Q60.8,199.4 62.9,200.2Q65.0,201.0 65.4,202.6Z" fill="none" stroke="#b0907c" stroke-width="0.7" opacity="0.3"/>
<path d="M47.5,204.7Q47.9,205.2 47.4,207.1Q46.9,209.0 45.6,209.6Q44.2,210.2 42.8,209.3Q41.3,208.4 40.8,207.3Q40.3,206.2 40.7,205.0Q41.1,203.9 42.7,202.9Q44.2,201.9 45.7,203.1Q47.2,204.2 47.5,204.7Z" fill="none" stroke="#b0907c" stroke-width="0.7" opacity="0.3"/>
<path d="M58.2,180.8Q58.6,181.8 58.2,182.9Q57.8,184.0 55.9,184.6Q54.0,185.2 52.8,184.7Q51.6,184.3 51.2,183.1Q50.9,182.0 51.6,180.5Q52.3,178.9 53.8,178.4Q55.3,177.9 56.5,178.9Q57.7,179.8 58.2,180.8Z" fill="none" stroke="#b0907c" stroke-width="0.7" opacity="0.3"/>
<path d="M38.3,189.4Q38.5,190.7 38.2,191.7Q37.8,192.7 36.0,193.4Q34.1,194.2 33.0,193.6Q32.0,193.0 31.5,191.6Q31.1,190.1 31.7,188.6Q32.3,187.0 33.5,187.0Q34.7,186.9 36.4,187.6Q38.0,188.2 38.3,189.4Z" fill="none" stroke="#b0907c" stroke-width="0.7" opacity="0.3"/>
<path d="M37.1,211.8Q37.8,213.6 37.3,215.2Q36.7,216.8 34.2,217.3Q31.8,217.7 30.4,216.9Q29.1,216.0 28.7,215.0Q28.4,214.0 28.5,212.1Q28.5,210.3 31.2,209.6Q33.9,209.0 35.1,209.5Q36.3,210.1 37.1,211.8Z" fill="none" stroke="#b0907c" stroke-width="0.7" opacity="0.3"/>
<path d="M35.3,191.4Q35.4,192.9 35.2,193.8Q35.0,194.7 34.0,195.5Q32.9,196.3 30.9,195.8Q28.9,195.3 28.6,194.1Q28.3,193.0 28.9,191.4Q29.4,189.8 30.8,189.3Q32.1,188.8 33.6,189.3Q35.2,189.8 35.3,191.4Z" fill="none" stroke="#b0907c" stroke-width="0.7" opacity="0.3"/>
<path d="M65.2,220.0Q66.3,221.7 65.3,223.5Q64.3,225.3 63.0,225.6Q61.8,225.8 60.4,225.7Q59.0,225.6 58.1,224.1Q57.1,222.6 57.7,220.5Q58.3,218.3 60.2,217.6Q62.2,217.0 63.1,217.6Q64.0,218.2 65.2,220.0Z" fill="none" stroke="#b0907c" stroke-width="0.7" opacity="0.3"/>
<path d="M55.0,191.3Q55.7,192.8 55.4,194.1Q55.1,195.3 53.3,196.2Q51.6,197.2 50.0,196.9Q48.4,196.5 47.8,194.6Q47.2,192.8 48.0,191.4Q48.8,190.0 49.8,189.7Q50.9,189.4 52.5,189.6Q54.2,189.7 55.0,191.3Z" fill="none" stroke="#b0907c" stroke-width="0.7" opacity="0.3"/>
<path d="M68.3,214.3Q68.8,216.6 68.0,217.7Q67.1,218.9 65.6,219.6Q64.1,220.3 63.2,219.4Q62.2,218.6 61.3,216.9Q60.4,215.3 61.2,214.2Q61.9,213.1 63.2,212.2Q64.5,211.3 66.2,211.7Q67.8,212.1 68.3,214.3Z" fill="none" stroke="#b0907c" stroke-width="0.7" opacity="0.3"/>
<path d="M56.1,210.1Q56.8,212.0 55.9,213.7Q55.1,215.4 53.3,215.9Q51.6,216.4 50.1,215.7Q48.6,215.1 47.6,213.1Q46.6,211.0 47.7,209.1Q48.8,207.2 50.7,206.7Q52.7,206.2 54.1,207.3Q55.4,208.3 56.1,210.1Z" fill="none" stroke="#b0907c" stroke-width="0.7" opacity="0.3"/>
<path d="M42.3,208.8Q42.7,210.4 41.8,212.3Q41.0,214.2 39.7,214.4Q38.3,214.6 36.5,214.2Q34.6,213.9 34.1,212.2Q33.6,210.5 34.5,208.8Q35.5,207.1 36.9,206.0Q38.3,205.0 40.1,206.1Q41.9,207.3 42.3,208.8Z" fill="none" stroke="#b0907c" stroke-width="0.7" opacity="0.3"/>
<path d="M65.0,215.5Q65.6,217.1 65.1,217.7Q64.6,218.4 63.2,219.2Q61.8,220.0 61.3,220.3Q60.7,220.5 59.7,219.2Q58.7,217.8 58.5,216.6Q58.2,215.3 58.9,214.6Q59.5,213.8 61.2,213.3Q63.0,212.8 63.7,213.4Q64.5,214.0 65.0,215.5Z" fill="#b89682"/>
<path d="M61.2,213.6Q61.4,213.9 61.4,214.6Q61.3,215.3 60.3,215.7Q59.4,216.1 59.0,216.2Q58.5,216.4 57.9,215.6Q57.2,214.7 57.2,214.3Q57.1,213.9 57.8,213.2Q58.6,212.5 59.1,212.3Q59.7,212.0 60.3,212.6Q60.9,213.3 61.2,213.6Z" fill="#a08068" opacity="0.8"/>
<path d="M38.2,186.8Q38.4,187.9 37.8,189.4Q37.2,190.9 36.0,191.4Q34.8,192.0 33.8,191.4Q32.9,190.8 32.3,189.8Q31.6,188.8 31.1,187.9Q30.7,187.0 31.6,185.5Q32.5,184.1 33.8,183.7Q35.1,183.4 36.5,184.5Q38.0,185.6 38.2,186.8Z" fill="#d4c2ae" opacity="0.7"/>
<path d="M45.3,184.2Q45.7,185.1 45.3,186.2Q44.9,187.3 44.3,187.7Q43.7,188.1 42.4,188.3Q41.0,188.6 40.9,187.7Q40.7,186.9 40.3,185.6Q39.9,184.2 40.9,183.5Q42.0,182.7 42.6,182.5Q43.2,182.4 44.1,182.8Q44.9,183.2 45.3,184.2Z" fill="#d6c6b0" opacity="0.6"/>
<path d="M49.3,194.7Q49.3,195.2 49.0,196.2Q48.7,197.2 48.2,197.5Q47.7,197.8 46.5,197.7Q45.3,197.6 45.1,197.0Q44.8,196.4 44.8,195.5Q44.8,194.7 45.2,193.9Q45.6,193.2 46.7,193.5Q47.8,193.8 48.5,194.0Q49.3,194.2 49.3,194.7Z" fill="#b8b0c4" opacity="0.5"/>
<path d="M56.8,201.0Q56.8,201.5 56.7,202.4Q56.6,203.2 56.0,203.6Q55.4,203.9 54.6,203.5Q53.8,203.1 53.6,202.5Q53.3,201.9 53.0,201.6Q52.8,201.3 53.2,200.8Q53.6,200.3 54.2,200.0Q54.9,199.7 55.9,200.1Q56.9,200.5 56.8,201.0Z" fill="#c0a898" opacity="0.6"/>
</g>
<text x="32.10" y="212.99" font-size="3.6" text-anchor="start" fill="#222" stroke="#222">50 μm</text>
<line x1="32.50" y1="216.30" x2="40.20" y2="216.30" stroke="#222" stroke-width="1.2"/>
</g>
<clipPath id="mc2"><rect x="69.80" y="181.70" width="38.70" height="39.20"/></clipPath>
<g clip-path="url(#mc2)">
<rect x="68.80" y="180.70" width="40.70" height="41.20" fill="#d4c9c3"/>
<g filter="url(#mb)">
<circle cx="107.71" cy="219.75" r="0.66" fill="#c8b8ae" opacity="0.51"/>
<circle cx="75.68" cy="214.03" r="1.54" fill="#bcaca4" opacity="0.62"/>
<circle cx="93.50" cy="204.65" r="0.77" fill="#d0c8d2" opacity="0.64"/>
<circle cx="101.51" cy="216.14" r="1.16" fill="#bcaca4" opacity="0.59"/>
<circle cx="86.91" cy="191.75" r="0.64" fill="#c8b8ae" opacity="0.51"/>
<circle cx="106.73" cy="218.10" r="1.07" fill="#c4b09e" opacity="0.42"/>
<circle cx="76.02" cy="190.20" r="0.79" fill="#e8e2e2" opacity="0.41"/>
<circle cx="89.57" cy="221.85" r="1.34" fill="#e8e2e2" opacity="0.80"/>
<circle cx="86.94" cy="197.78" r="1.18" fill="#bcaca4" opacity="0.71"/>
<circle cx="83.20" cy="221.12" r="1.66" fill="#e8e2e2" opacity="0.78"/>
<circle cx="85.07" cy="211.13" r="1.32" fill="#e8e2e2" opacity="0.57"/>
<circle cx="106.44" cy="201.33" r="1.51" fill="#bcaca4" opacity="0.65"/>
<circle cx="87.31" cy="217.91" r="0.99" fill="#c4b09e" opacity="0.68"/>
<circle cx="88.60" cy="189.84" r="0.96" fill="#e8e2e2" opacity="0.74"/>
<circle cx="93.89" cy="212.55" r="1.13" fill="#bcaca4" opacity="0.78"/>
<circle cx="97.54" cy="201.48" r="1.17" fill="#c4b09e" opacity="0.61"/>
<circle cx="81.49" cy="189.26" r="1.16" fill="#c4b09e" opacity="0.75"/>
<circle cx="100.72" cy="194.77" r="0.61" fill="#e8e2e2" opacity="0.80"/>
<circle cx="73.12" cy="204.37" r="0.65" fill="#c4b09e" opacity="0.45"/>
<circle cx="104.43" cy="185.08" r="1.17" fill="#bcaca4" opacity="0.46"/>
<circle cx="77.37" cy="216.98" r="1.07" fill="#c8b8ae" opacity="0.38"/>
<circle cx="83.46" cy="190.98" r="0.63" fill="#c8b8ae" opacity="0.78"/>
<circle cx="69.83" cy="210.75" r="0.62" fill="#bcaca4" opacity="0.41"/>
<circle cx="106.89" cy="210.97" r="1.18" fill="#c8b8ae" opacity="0.52"/>
<circle cx="70.56" cy="221.49" r="0.77" fill="#c8b8ae" opacity="0.35"/>
<circle cx="107.00" cy="206.56" r="1.42" fill="#bcaca4" opacity="0.50"/>
<circle cx="70.05" cy="199.18" r="1.44" fill="#c8b8ae" opacity="0.76"/>
<circle cx="99.56" cy="216.23" r="1.38" fill="#d0c8d2" opacity="0.78"/>
<circle cx="72.60" cy="209.02" r="1.52" fill="#c8b8ae" opacity="0.55"/>
<circle cx="104.40" cy="185.95" r="1.24" fill="#d0c8d2" opacity="0.57"/>
<circle cx="82.15" cy="216.73" r="0.98" fill="#bcaca4" opacity="0.62"/>
<circle cx="85.88" cy="181.44" r="1.21" fill="#e8e2e2" opacity="0.65"/>
<circle cx="79.10" cy="186.13" r="0.79" fill="#d0c8d2" opacity="0.64"/>
<circle cx="89.49" cy="221.22" r="1.63" fill="#e8e2e2" opacity="0.45"/>
<circle cx="86.90" cy="191.03" r="1.25" fill="#c4b09e" opacity="0.71"/>
<circle cx="94.19" cy="195.52" r="1.35" fill="#bcaca4" opacity="0.59"/>
<circle cx="69.00" cy="182.16" r="1.05" fill="#c8b8ae" opacity="0.58"/>
<circle cx="72.37" cy="184.90" r="0.62" fill="#e8e2e2" opacity="0.40"/>
<circle cx="69.79" cy="208.28" r="1.10" fill="#c4b09e" opacity="0.64"/>
<circle cx="77.45" cy="218.05" r="1.66" fill="#d0c8d2" opacity="0.54"/>
<circle cx="69.67" cy="205.06" r="1.57" fill="#c4b09e" opacity="0.61"/>
<circle cx="106.27" cy="208.03" r="1.13" fill="#c8b8ae" opacity="0.58"/>
<circle cx="106.30" cy="205.85" r="0.92" fill="#bcaca4" opacity="0.49"/>
<circle cx="104.39" cy="197.68" r="0.72" fill="#e8e2e2" opacity="0.73"/>
<circle cx="96.17" cy="181.35" r="1.10" fill="#d0c8d2" opacity="0.64"/>
<circle cx="87.66" cy="217.35" r="1.27" fill="#c8b8ae" opacity="0.48"/>
<circle cx="83.98" cy="219.23" r="0.68" fill="#d0c8d2" opacity="0.44"/>
<circle cx="92.06" cy="196.84" r="1.11" fill="#bcaca4" opacity="0.53"/>
<circle cx="73.75" cy="185.72" r="0.69" fill="#bcaca4" opacity="0.64"/>
<circle cx="107.86" cy="209.24" r="0.63" fill="#d0c8d2" opacity="0.70"/>
<circle cx="98.25" cy="201.22" r="0.99" fill="#d0c8d2" opacity="0.41"/>
<circle cx="84.06" cy="200.65" r="1.55" fill="#d0c8d2" opacity="0.77"/>
<circle cx="102.83" cy="192.93" r="0.85" fill="#d0c8d2" opacity="0.62"/>
<circle cx="91.13" cy="209.36" r="1.37" fill="#c8b8ae" opacity="0.61"/>
<circle cx="102.09" cy="184.65" r="0.99" fill="#c4b09e" opacity="0.42"/>
<circle cx="85.76" cy="183.45" r="0.69" fill="#c8b8ae" opacity="0.41"/>
<circle cx="80.86" cy="190.25" r="1.34" fill="#bcaca4" opacity="0.55"/>
<circle cx="90.13" cy="185.32" r="1.19" fill="#d0c8d2" opacity="0.39"/>
<circle cx="89.82" cy="210.17" r="0.88" fill="#e8e2e2" opacity="0.56"/>
<circle cx="97.42" cy="197.35" r="1.69" fill="#c4b09e" opacity="0.68"/>
<circle cx="87.79" cy="210.32" r="1.49" fill="#d0c8d2" opacity="0.75"/>
<circle cx="76.14" cy="201.72" r="1.13" fill="#d0c8d2" opacity="0.46"/>
<circle cx="98.56" cy="197.68" r="1.31" fill="#bcaca4" opacity="0.78"/>
<circle cx="82.26" cy="211.42" r="1.32" fill="#e8e2e2" opacity="0.59"/>
<circle cx="76.45" cy="214.33" r="1.02" fill="#c8b8ae" opacity="0.49"/>
<circle cx="90.11" cy="218.06" r="1.11" fill="#e8e2e2" opacity="0.72"/>
<circle cx="69.50" cy="219.56" r="1.40" fill="#c4b09e" opacity="0.52"/>
<circle cx="77.57" cy="220.77" r="1.03" fill="#c4b09e" opacity="0.70"/>
<circle cx="76.92" cy="211.36" r="1.24" fill="#e8e2e2" opacity="0.57"/>
<circle cx="93.71" cy="181.05" r="1.35" fill="#d0c8d2" opacity="0.46"/>
<path d="M94.8,199.2Q95.1,200.6 95.0,201.1Q95.0,201.7 93.2,202.6Q91.4,203.5 90.3,202.8Q89.2,202.0 88.9,200.8Q88.6,199.6 88.9,198.6Q89.2,197.7 90.2,197.2Q91.2,196.8 92.9,197.3Q94.5,197.9 94.8,199.2Z" fill="none" stroke="#a8866f" stroke-width="1.1" opacity="0.65"/>
<path d="M103.3,212.2Q103.9,213.9 102.9,215.2Q101.8,216.5 101.1,216.9Q100.5,217.3 98.9,216.7Q97.3,216.2 96.7,215.4Q96.1,214.5 97.0,212.5Q97.9,210.4 98.9,210.1Q99.9,209.8 101.3,210.2Q102.7,210.5 103.3,212.2Z" fill="none" stroke="#a8866f" stroke-width="1.1" opacity="0.65"/>
<path d="M84.9,206.6Q85.3,207.8 85.0,208.9Q84.6,210.1 83.0,210.9Q81.4,211.8 79.5,211.0Q77.7,210.2 77.2,209.1Q76.7,208.0 77.1,206.7Q77.5,205.5 79.1,204.6Q80.8,203.7 82.6,204.5Q84.5,205.3 84.9,206.6Z" fill="none" stroke="#a8866f" stroke-width="1.1" opacity="0.65"/>
<path d="M98.0,191.9Q98.0,192.9 97.9,194.2Q97.7,195.5 96.6,196.1Q95.4,196.8 93.9,196.2Q92.4,195.6 91.9,194.4Q91.5,193.3 91.9,192.0Q92.3,190.7 93.4,190.2Q94.6,189.6 96.2,190.2Q97.9,190.8 98.0,191.9Z" fill="none" stroke="#a8866f" stroke-width="1.1" opacity="0.65"/>
<path d="M90.9,205.7Q90.9,207.0 90.5,208.5Q90.1,210.0 88.2,210.9Q86.3,211.9 84.8,211.5Q83.4,211.1 82.5,209.6Q81.7,208.0 82.7,205.9Q83.7,203.9 85.5,203.4Q87.4,202.9 89.2,203.7Q90.9,204.4 90.9,205.7Z" fill="none" stroke="#a8866f" stroke-width="1.1" opacity="0.65"/>
<path d="M93.5,208.0Q94.2,210.1 93.2,212.0Q92.2,213.8 90.4,214.3Q88.6,214.7 87.4,214.0Q86.2,213.3 85.5,211.2Q84.7,209.1 85.4,207.9Q86.0,206.6 88.2,205.8Q90.3,205.1 91.6,205.4Q92.9,205.8 93.5,208.0Z" fill="none" stroke="#a8866f" stroke-width="1.1" opacity="0.65"/>
<path d="M78.6,219.4Q79.0,220.4 78.8,222.0Q78.6,223.7 76.8,224.2Q75.1,224.8 74.2,224.2Q73.4,223.7 72.8,222.7Q72.1,221.7 72.7,220.4Q73.4,219.0 74.7,218.6Q76.0,218.1 77.1,218.2Q78.2,218.3 78.6,219.4Z" fill="none" stroke="#a8866f" stroke-width="1.1" opacity="0.65"/>
<path d="M74.9,184.7Q75.3,185.4 74.9,186.7Q74.5,187.9 73.4,188.5Q72.3,189.1 70.8,188.6Q69.3,188.1 68.7,187.1Q68.1,186.1 68.6,185.1Q69.1,184.1 70.8,183.3Q72.5,182.4 73.4,183.2Q74.4,183.9 74.9,184.7Z" fill="none" stroke="#a8866f" stroke-width="1.1" opacity="0.65"/>
<path d="M93.5,215.4Q93.9,216.7 93.6,217.9Q93.2,219.0 91.8,219.5Q90.3,219.9 88.9,219.3Q87.5,218.6 86.9,217.1Q86.4,215.6 87.0,214.5Q87.6,213.4 89.4,212.8Q91.1,212.2 92.1,213.1Q93.2,214.1 93.5,215.4Z" fill="none" stroke="#a8866f" stroke-width="1.1" opacity="0.65"/>
<path d="M88.3,201.1Q89.0,201.7 88.7,203.0Q88.4,204.4 86.7,205.2Q85.1,206.0 84.4,205.5Q83.7,205.0 83.1,203.5Q82.5,201.9 82.6,201.3Q82.8,200.6 83.8,200.0Q84.9,199.4 86.3,199.9Q87.6,200.5 88.3,201.1Z" fill="none" stroke="#a8866f" stroke-width="1.1" opacity="0.65"/>
<path d="M111.8,207.0Q112.3,208.4 112.0,209.2Q111.7,210.1 110.8,210.5Q109.9,211.0 108.8,210.7Q107.7,210.3 106.7,208.7Q105.8,207.0 106.4,206.2Q106.9,205.3 108.4,205.1Q109.8,204.8 110.6,205.2Q111.4,205.6 111.8,207.0Z" fill="none" stroke="#a8866f" stroke-width="1.1" opacity="0.65"/>
<path d="M75.5,182.7Q76.0,183.6 75.7,185.2Q75.5,186.8 73.8,187.5Q72.1,188.2 71.0,187.4Q70.0,186.6 69.8,185.1Q69.6,183.7 69.6,183.0Q69.6,182.3 71.3,181.7Q73.0,181.1 74.0,181.5Q75.0,181.9 75.5,182.7Z" fill="none" stroke="#a8866f" stroke-width="1.1" opacity="0.65"/>
<path d="M89.4,196.9Q90.3,198.8 89.5,199.9Q88.8,201.0 87.7,201.6Q86.6,202.2 84.9,201.1Q83.1,200.0 82.7,198.9Q82.2,197.8 83.1,196.7Q84.0,195.6 85.1,195.1Q86.3,194.6 87.4,194.8Q88.5,195.0 89.4,196.9Z" fill="none" stroke="#a8866f" stroke-width="1.1" opacity="0.65"/>
<path d="M99.6,205.7Q99.7,207.2 99.5,208.2Q99.3,209.2 96.9,210.3Q94.6,211.4 93.5,210.4Q92.5,209.3 91.9,208.3Q91.4,207.3 91.9,205.3Q92.4,203.4 93.5,202.6Q94.6,201.9 97.0,203.1Q99.5,204.2 99.6,205.7Z" fill="none" stroke="#a8866f" stroke-width="1.1" opacity="0.65"/>
<path d="M90.5,191.2Q91.3,192.9 90.9,193.8Q90.6,194.7 89.1,195.2Q87.5,195.8 86.3,195.4Q85.1,195.0 84.5,193.7Q83.9,192.4 84.2,191.3Q84.5,190.2 85.9,189.3Q87.2,188.4 88.4,189.0Q89.6,189.6 90.5,191.2Z" fill="none" stroke="#a8866f" stroke-width="1.1" opacity="0.65"/>
<path d="M94.0,195.7Q94.4,197.4 93.9,198.7Q93.3,200.0 91.8,200.3Q90.2,200.6 89.1,200.0Q88.1,199.5 87.5,198.1Q87.0,196.7 87.2,195.5Q87.5,194.3 88.8,193.5Q90.2,192.7 91.9,193.4Q93.6,194.0 94.0,195.7Z" fill="none" stroke="#a8866f" stroke-width="1.1" opacity="0.65"/>
<path d="M78.9,203.6Q79.7,205.2 79.0,207.4Q78.3,209.6 76.5,209.9Q74.7,210.2 73.4,210.0Q72.1,209.8 71.6,208.0Q71.1,206.2 71.9,204.3Q72.7,202.3 73.7,201.9Q74.7,201.5 76.4,201.8Q78.0,202.0 78.9,203.6Z" fill="none" stroke="#a8866f" stroke-width="1.1" opacity="0.65"/>
<path d="M85.2,197.5Q85.8,199.3 85.3,200.3Q84.8,201.3 84.0,202.0Q83.1,202.6 81.6,202.0Q80.1,201.3 79.2,199.9Q78.2,198.5 79.0,197.2Q79.9,195.8 81.5,195.2Q83.1,194.5 83.8,195.1Q84.6,195.7 85.2,197.5Z" fill="none" stroke="#a8866f" stroke-width="1.1" opacity="0.65"/>
<path d="M112.1,218.6Q112.8,220.1 112.2,221.3Q111.5,222.4 110.2,222.7Q109.0,223.0 108.0,222.6Q107.1,222.2 106.4,220.8Q105.8,219.4 106.3,218.3Q106.7,217.1 107.8,216.5Q108.9,215.8 110.1,216.4Q111.3,217.1 112.1,218.6Z" fill="none" stroke="#a8866f" stroke-width="1.1" opacity="0.65"/>
<path d="M87.4,187.8Q87.9,189.1 87.6,190.1Q87.3,191.2 85.5,191.7Q83.7,192.2 82.5,191.7Q81.3,191.2 81.1,190.1Q80.8,189.0 81.2,187.7Q81.5,186.5 83.0,185.9Q84.5,185.4 85.7,186.0Q86.9,186.6 87.4,187.8Z" fill="none" stroke="#a8866f" stroke-width="1.1" opacity="0.65"/>
<path d="M80.5,179.2Q80.8,180.1 80.6,181.7Q80.3,183.3 78.7,184.1Q77.0,184.9 75.6,183.8Q74.2,182.7 73.9,181.7Q73.7,180.7 74.2,179.2Q74.7,177.8 75.6,177.4Q76.6,177.0 78.4,177.6Q80.2,178.2 80.5,179.2Z" fill="none" stroke="#a8866f" stroke-width="1.1" opacity="0.65"/>
<path d="M111.0,193.8Q111.9,195.8 111.7,196.6Q111.5,197.3 109.9,198.2Q108.4,199.2 106.8,198.4Q105.1,197.7 104.8,196.0Q104.4,194.3 105.4,193.3Q106.4,192.2 107.1,191.6Q107.8,191.0 109.0,191.4Q110.1,191.7 111.0,193.8Z" fill="none" stroke="#a8866f" stroke-width="1.1" opacity="0.65"/>
<path d="M113.9,208.3Q115.0,209.6 114.2,211.8Q113.5,214.0 112.1,214.7Q110.7,215.5 109.4,214.7Q108.1,213.9 106.7,212.1Q105.4,210.4 106.5,208.5Q107.7,206.7 108.8,206.2Q110.0,205.6 111.3,206.3Q112.7,206.9 113.9,208.3Z" fill="none" stroke="#a8866f" stroke-width="1.1" opacity="0.65"/>
<path d="M104.6,217.1Q104.9,219.1 104.3,220.0Q103.8,220.9 102.8,221.4Q101.9,221.9 100.7,221.7Q99.5,221.6 98.7,220.0Q97.8,218.4 98.5,217.0Q99.2,215.7 100.3,215.1Q101.5,214.5 102.9,214.9Q104.3,215.2 104.6,217.1Z" fill="none" stroke="#a8866f" stroke-width="1.1" opacity="0.65"/>
<path d="M77.1,196.6Q77.6,197.9 76.7,199.4Q75.9,201.0 74.6,201.5Q73.3,202.0 71.5,201.2Q69.6,200.4 69.6,199.1Q69.6,197.9 70.2,196.7Q70.8,195.5 71.9,195.1Q72.9,194.7 74.8,195.0Q76.6,195.4 77.1,196.6Z" fill="none" stroke="#a8866f" stroke-width="1.1" opacity="0.65"/>
<path d="M98.2,203.0Q98.6,204.2 98.1,205.4Q97.5,206.6 96.6,207.4Q95.6,208.1 93.7,207.2Q91.7,206.4 91.8,205.2Q91.8,204.1 91.9,203.0Q92.0,201.8 94.0,201.3Q95.9,200.8 96.8,201.3Q97.8,201.7 98.2,203.0Z" fill="none" stroke="#a8866f" stroke-width="1.1" opacity="0.65"/>
<path d="M99.0,209.8Q99.5,210.2 99.3,211.6Q99.0,213.0 97.7,213.7Q96.5,214.3 95.2,214.0Q93.9,213.7 93.0,212.9Q92.0,212.2 92.4,210.7Q92.8,209.1 93.3,208.2Q93.8,207.2 95.3,207.2Q96.9,207.2 97.7,208.3Q98.5,209.3 99.0,209.8Z" fill="#8e6a58" opacity="0.75"/>
<path d="M104.7,211.6Q104.9,212.9 104.7,213.9Q104.5,214.9 103.1,215.2Q101.6,215.6 100.8,215.5Q100.0,215.4 99.5,214.4Q99.0,213.4 99.2,212.4Q99.3,211.3 99.5,210.8Q99.8,210.3 101.1,210.1Q102.5,209.9 103.5,210.2Q104.5,210.4 104.7,211.6Z" fill="#8c6a58" opacity="0.7"/>
<path d="M100.1,216.1Q100.2,217.1 99.8,217.9Q99.4,218.7 98.9,219.0Q98.4,219.3 97.2,219.1Q96.0,218.9 95.6,218.2Q95.2,217.4 95.5,216.7Q95.8,216.1 96.2,215.5Q96.7,214.9 97.7,214.7Q98.7,214.5 99.3,214.8Q100.0,215.1 100.1,216.1Z" fill="#9a7868" opacity="0.6"/>
<path d="M82.0,197.6Q82.1,198.2 81.5,199.2Q80.9,200.2 80.0,200.9Q79.2,201.6 78.0,201.2Q76.8,200.9 76.8,200.4Q76.7,200.0 76.3,199.2Q75.8,198.4 76.8,197.4Q77.8,196.4 78.4,196.1Q79.1,195.7 80.5,196.4Q81.9,197.0 82.0,197.6Z" fill="#c4a794" opacity="0.6"/>
<path d="M92.5,186.4Q92.9,187.3 92.3,187.9Q91.8,188.5 91.0,188.9Q90.1,189.3 89.3,189.5Q88.4,189.8 87.6,188.7Q86.7,187.7 87.0,186.8Q87.2,185.8 87.7,184.9Q88.3,184.0 89.1,183.7Q90.0,183.3 91.1,184.4Q92.2,185.5 92.5,186.4Z" fill="#c8b0a0" opacity="0.6"/>
<path d="M86.9,210.7Q87.1,211.3 86.4,212.5Q85.7,213.7 84.9,214.0Q84.2,214.4 83.0,214.2Q81.8,214.1 81.6,213.3Q81.3,212.6 81.1,211.7Q81.0,210.8 81.6,210.2Q82.3,209.5 83.1,209.0Q83.9,208.5 85.3,209.3Q86.8,210.1 86.9,210.7Z" fill="#b09080" opacity="0.5"/>
</g>
</g>
<clipPath id="mc3"><rect x="110.50" y="181.70" width="39.60" height="39.20"/></clipPath>
<g clip-path="url(#mc3)">
<rect x="109.50" y="180.70" width="41.60" height="41.20" fill="#d9d1ce"/>
<g filter="url(#mb)">
<circle cx="119.40" cy="203.12" r="1.01" fill="#c4b09e" opacity="0.56"/>
<circle cx="133.66" cy="205.65" r="1.60" fill="#d0c8d2" opacity="0.47"/>
<circle cx="119.25" cy="221.72" r="1.12" fill="#c4b09e" opacity="0.56"/>
<circle cx="136.09" cy="186.91" r="1.30" fill="#c4b09e" opacity="0.53"/>
<circle cx="110.13" cy="212.72" r="0.78" fill="#c4b09e" opacity="0.37"/>
<circle cx="141.95" cy="214.63" r="0.90" fill="#c4b09e" opacity="0.67"/>
<circle cx="146.06" cy="210.12" r="1.61" fill="#d0c8d2" opacity="0.68"/>
<circle cx="133.50" cy="220.42" r="0.75" fill="#bcaca4" opacity="0.39"/>
<circle cx="115.16" cy="189.64" r="1.66" fill="#d0c8d2" opacity="0.70"/>
<circle cx="145.08" cy="198.05" r="1.52" fill="#c4b09e" opacity="0.51"/>
<circle cx="133.84" cy="204.77" r="1.59" fill="#c8b8ae" opacity="0.74"/>
<circle cx="150.73" cy="208.36" r="0.78" fill="#bcaca4" opacity="0.78"/>
<circle cx="147.14" cy="204.15" r="1.39" fill="#e8e2e2" opacity="0.63"/>
<circle cx="150.60" cy="191.70" r="0.74" fill="#d0c8d2" opacity="0.73"/>
<circle cx="150.68" cy="184.35" r="1.48" fill="#d0c8d2" opacity="0.75"/>
<circle cx="110.34" cy="198.30" r="1.06" fill="#c8b8ae" opacity="0.37"/>
<circle cx="135.06" cy="182.55" r="1.39" fill="#bcaca4" opacity="0.60"/>
<circle cx="147.85" cy="192.20" r="0.86" fill="#c8b8ae" opacity="0.49"/>
<circle cx="112.70" cy="205.41" r="0.63" fill="#e8e2e2" opacity="0.79"/>
<circle cx="121.63" cy="191.55" r="1.36" fill="#bcaca4" opacity="0.49"/>
<circle cx="149.38" cy="217.64" r="1.02" fill="#d0c8d2" opacity="0.74"/>
<circle cx="125.57" cy="216.41" r="1.35" fill="#c8b8ae" opacity="0.63"/>
<circle cx="148.63" cy="201.59" r="1.07" fill="#e8e2e2" opacity="0.77"/>
<circle cx="127.70" cy="191.34" r="0.93" fill="#bcaca4" opacity="0.36"/>
<circle cx="126.77" cy="204.59" r="0.62" fill="#c4b09e" opacity="0.62"/>
<circle cx="115.04" cy="206.80" r="0.97" fill="#bcaca4" opacity="0.66"/>
<circle cx="124.17" cy="209.83" r="1.41" fill="#c8b8ae" opacity="0.62"/>
<circle cx="149.22" cy="181.58" r="1.01" fill="#d0c8d2" opacity="0.48"/>
<circle cx="134.52" cy="188.01" r="0.80" fill="#bcaca4" opacity="0.73"/>
<circle cx="120.49" cy="213.14" r="0.72" fill="#c8b8ae" opacity="0.79"/>
<circle cx="137.94" cy="186.11" r="1.15" fill="#bcaca4" opacity="0.46"/>
<circle cx="117.30" cy="198.63" r="1.37" fill="#c8b8ae" opacity="0.62"/>
<circle cx="148.98" cy="208.51" r="0.85" fill="#e8e2e2" opacity="0.39"/>
<circle cx="140.37" cy="189.68" r="1.23" fill="#bcaca4" opacity="0.45"/>
<circle cx="114.53" cy="202.52" r="0.81" fill="#c4b09e" opacity="0.43"/>
<circle cx="121.09" cy="213.96" r="1.31" fill="#c4b09e" opacity="0.51"/>
<circle cx="114.90" cy="192.73" r="1.47" fill="#bcaca4" opacity="0.56"/>
<circle cx="135.88" cy="192.66" r="1.23" fill="#c8b8ae" opacity="0.76"/>
<circle cx="115.99" cy="180.89" r="1.64" fill="#c4b09e" opacity="0.79"/>
<circle cx="127.57" cy="219.85" r="1.62" fill="#e8e2e2" opacity="0.36"/>
<circle cx="128.50" cy="211.74" r="1.42" fill="#bcaca4" opacity="0.59"/>
<circle cx="146.51" cy="216.20" r="1.54" fill="#bcaca4" opacity="0.40"/>
<circle cx="119.67" cy="182.15" r="1.48" fill="#c4b09e" opacity="0.77"/>
<circle cx="146.80" cy="217.77" r="1.23" fill="#c8b8ae" opacity="0.57"/>
<circle cx="114.53" cy="201.43" r="0.86" fill="#c8b8ae" opacity="0.59"/>
<circle cx="126.71" cy="219.39" r="1.27" fill="#bcaca4" opacity="0.41"/>
<circle cx="149.93" cy="202.99" r="1.49" fill="#c8b8ae" opacity="0.51"/>
<circle cx="117.71" cy="202.73" r="1.50" fill="#e8e2e2" opacity="0.46"/>
<circle cx="120.89" cy="217.35" r="0.74" fill="#c8b8ae" opacity="0.57"/>
<circle cx="133.25" cy="197.19" r="1.43" fill="#e8e2e2" opacity="0.47"/>
<circle cx="131.43" cy="198.13" r="1.12" fill="#c8b8ae" opacity="0.74"/>
<circle cx="141.75" cy="182.60" r="0.65" fill="#d0c8d2" opacity="0.79"/>
<circle cx="145.05" cy="184.25" r="1.15" fill="#bcaca4" opacity="0.42"/>
<circle cx="112.49" cy="196.59" r="1.03" fill="#bcaca4" opacity="0.51"/>
<circle cx="117.45" cy="194.25" r="0.74" fill="#c4b09e" opacity="0.35"/>
<circle cx="139.58" cy="213.47" r="1.22" fill="#c8b8ae" opacity="0.52"/>
<circle cx="134.64" cy="212.94" r="1.02" fill="#c8b8ae" opacity="0.63"/>
<circle cx="127.45" cy="196.04" r="1.15" fill="#bcaca4" opacity="0.54"/>
<circle cx="138.38" cy="199.69" r="0.87" fill="#c4b09e" opacity="0.47"/>
<circle cx="134.04" cy="213.79" r="0.85" fill="#e8e2e2" opacity="0.75"/>
<circle cx="148.46" cy="196.12" r="1.59" fill="#bcaca4" opacity="0.40"/>
<circle cx="138.23" cy="219.39" r="1.40" fill="#c4b09e" opacity="0.71"/>
<circle cx="137.27" cy="210.93" r="1.22" fill="#c8b8ae" opacity="0.72"/>
<circle cx="139.31" cy="200.21" r="0.86" fill="#d0c8d2" opacity="0.37"/>
<circle cx="113.32" cy="184.79" r="1.57" fill="#e8e2e2" opacity="0.72"/>
<circle cx="123.71" cy="215.81" r="0.63" fill="#c8b8ae" opacity="0.65"/>
<circle cx="144.29" cy="219.94" r="1.24" fill="#c8b8ae" opacity="0.37"/>
<circle cx="141.42" cy="201.77" r="1.39" fill="#c8b8ae" opacity="0.60"/>
<circle cx="113.66" cy="203.50" r="1.21" fill="#c4b09e" opacity="0.43"/>
<circle cx="112.72" cy="221.83" r="1.31" fill="#d0c8d2" opacity="0.63"/>
<path d="M145.0,195.2Q145.3,196.5 144.6,197.8Q144.0,199.2 142.7,200.2Q141.4,201.2 139.9,200.5Q138.5,199.9 137.8,198.6Q137.2,197.4 138.0,195.4Q138.8,193.4 140.1,193.0Q141.4,192.7 143.0,193.2Q144.7,193.8 145.0,195.2Z" fill="none" stroke="#b0907c" stroke-width="0.8" opacity="0.35"/>
<path d="M119.0,182.5Q119.6,184.8 119.0,186.0Q118.5,187.2 117.1,187.7Q115.7,188.2 114.0,187.9Q112.2,187.6 111.5,185.9Q110.7,184.2 111.2,182.1Q111.7,179.9 113.1,179.5Q114.5,179.0 116.5,179.6Q118.4,180.1 119.0,182.5Z" fill="none" stroke="#b0907c" stroke-width="0.8" opacity="0.35"/>
<path d="M137.2,189.5Q137.7,190.3 137.2,192.0Q136.6,193.6 135.4,194.2Q134.2,194.9 132.7,194.1Q131.2,193.4 130.7,191.8Q130.3,190.3 130.9,189.4Q131.4,188.4 133.1,187.8Q134.7,187.2 135.7,187.9Q136.8,188.6 137.2,189.5Z" fill="none" stroke="#b0907c" stroke-width="0.8" opacity="0.35"/>
<path d="M144.0,215.7Q144.4,217.2 143.6,218.3Q142.7,219.4 141.6,220.2Q140.5,221.0 138.5,220.3Q136.4,219.6 136.3,217.8Q136.1,216.0 136.5,215.2Q136.8,214.4 138.0,213.4Q139.3,212.5 141.4,213.3Q143.6,214.1 144.0,215.7Z" fill="none" stroke="#b0907c" stroke-width="0.8" opacity="0.35"/>
<path d="M123.3,215.5Q123.8,216.9 123.2,218.0Q122.6,219.0 120.8,219.9Q119.0,220.8 118.0,220.5Q117.0,220.1 116.6,218.4Q116.1,216.8 116.4,215.7Q116.6,214.5 118.1,214.0Q119.6,213.4 121.2,213.7Q122.9,214.1 123.3,215.5Z" fill="none" stroke="#b0907c" stroke-width="0.8" opacity="0.35"/>
<path d="M128.7,201.5Q129.3,202.8 129.1,204.1Q128.9,205.5 126.9,206.0Q124.9,206.5 123.7,205.8Q122.5,205.1 122.1,203.9Q121.7,202.7 122.1,201.7Q122.6,200.8 124.2,200.0Q125.8,199.3 126.9,199.7Q128.0,200.2 128.7,201.5Z" fill="none" stroke="#b0907c" stroke-width="0.8" opacity="0.35"/>
<path d="M153.7,206.7Q154.6,207.9 154.2,209.8Q153.8,211.7 151.9,212.4Q150.0,213.1 148.9,212.7Q147.8,212.4 147.1,210.4Q146.4,208.5 147.2,206.8Q147.9,205.1 148.7,204.6Q149.5,204.1 151.1,204.7Q152.8,205.4 153.7,206.7Z" fill="none" stroke="#b0907c" stroke-width="0.8" opacity="0.35"/>
<path d="M143.5,204.2Q144.2,205.8 143.6,206.9Q143.0,208.1 141.9,209.0Q140.9,210.0 138.7,209.1Q136.4,208.2 136.1,206.6Q135.8,205.0 136.2,204.0Q136.6,202.9 138.6,202.3Q140.6,201.7 141.7,202.2Q142.8,202.6 143.5,204.2Z" fill="none" stroke="#b0907c" stroke-width="0.8" opacity="0.35"/>
<path d="M145.7,193.6Q146.1,194.8 145.2,196.4Q144.4,198.1 142.9,198.3Q141.4,198.6 140.6,198.2Q139.8,197.8 138.8,196.8Q137.8,195.8 138.8,194.0Q139.7,192.1 140.6,191.6Q141.4,191.1 143.4,191.7Q145.4,192.3 145.7,193.6Z" fill="none" stroke="#b0907c" stroke-width="0.8" opacity="0.35"/>
<path d="M144.4,203.8Q144.6,205.1 144.2,206.5Q143.8,208.0 142.7,208.4Q141.7,208.7 140.1,208.0Q138.5,207.3 137.8,206.0Q137.1,204.7 138.2,203.4Q139.2,202.2 140.2,201.8Q141.2,201.5 142.8,202.0Q144.3,202.5 144.4,203.8Z" fill="none" stroke="#b0907c" stroke-width="0.8" opacity="0.35"/>
<path d="M142.6,190.8Q143.3,192.6 142.2,194.3Q141.1,195.9 139.4,196.8Q137.8,197.6 136.4,196.8Q135.0,196.1 134.5,194.4Q134.0,192.7 134.7,191.2Q135.5,189.6 137.0,188.6Q138.4,187.7 140.1,188.4Q141.8,189.1 142.6,190.8Z" fill="none" stroke="#b0907c" stroke-width="0.8" opacity="0.35"/>
<path d="M153.8,217.5Q154.1,218.8 153.7,219.5Q153.3,220.1 152.0,220.8Q150.8,221.5 149.1,221.3Q147.4,221.1 146.8,219.8Q146.3,218.6 147.2,217.1Q148.2,215.6 149.6,215.1Q151.0,214.5 152.3,215.3Q153.6,216.1 153.8,217.5Z" fill="none" stroke="#b0907c" stroke-width="0.8" opacity="0.35"/>
<path d="M145.0,193.6Q145.8,195.6 145.1,196.8Q144.4,198.0 142.6,198.4Q140.8,198.8 139.6,198.5Q138.5,198.1 137.5,196.7Q136.5,195.2 136.9,193.1Q137.3,191.1 139.0,190.5Q140.8,189.9 142.5,190.8Q144.2,191.6 145.0,193.6Z" fill="none" stroke="#b0907c" stroke-width="0.8" opacity="0.35"/>
<path d="M132.1,210.5Q133.2,211.7 132.2,213.6Q131.2,215.5 130.1,216.0Q129.0,216.5 127.5,215.8Q125.9,215.0 125.5,214.2Q125.0,213.3 125.8,211.4Q126.5,209.4 127.6,209.0Q128.7,208.6 129.8,209.0Q131.0,209.4 132.1,210.5Z" fill="none" stroke="#b0907c" stroke-width="0.8" opacity="0.35"/>
<path d="M124.2,196.2Q124.9,197.5 124.6,198.4Q124.4,199.4 123.4,200.6Q122.5,201.8 121.2,201.5Q119.9,201.2 118.5,200.2Q117.0,199.3 117.4,197.7Q117.7,196.1 118.2,195.1Q118.7,194.1 119.7,193.4Q120.7,192.6 122.1,193.7Q123.5,194.9 124.2,196.2Z" fill="#727299"/>
<path d="M123.4,195.4Q123.8,196.2 123.5,197.0Q123.3,197.9 122.8,198.1Q122.3,198.2 121.2,198.2Q120.1,198.1 119.5,197.4Q119.0,196.7 119.2,195.8Q119.5,194.9 119.8,194.6Q120.1,194.3 121.2,194.0Q122.4,193.6 122.7,194.1Q123.1,194.6 123.4,195.4Z" fill="#565e88"/>
<path d="M139.8,194.0Q140.1,194.3 139.7,194.7Q139.3,195.0 139.2,195.1Q139.0,195.3 138.5,195.3Q138.1,195.3 137.7,195.1Q137.3,195.0 137.3,194.3Q137.4,193.5 137.8,193.2Q138.1,192.9 138.6,192.8Q139.0,192.7 139.3,193.2Q139.5,193.7 139.8,194.0Z" fill="#4a3a5a"/>
<path d="M133.3,210.9Q133.6,211.4 132.8,212.6Q132.0,213.7 131.7,214.3Q131.4,214.9 130.5,214.7Q129.6,214.4 128.6,213.7Q127.6,213.0 127.9,211.7Q128.3,210.3 128.7,209.5Q129.2,208.7 130.4,208.8Q131.5,208.8 132.3,209.6Q133.0,210.4 133.3,210.9Z" fill="#c8b4a8" opacity="0.6"/>
</g>
</g>
<clipPath id="mc4"><rect x="28.90" y="222.90" width="38.90" height="39.30"/></clipPath>
<g clip-path="url(#mc4)">
<rect x="27.90" y="221.90" width="40.90" height="41.30" fill="#e6e0dd"/>
<g filter="url(#mb)">
<circle cx="37.55" cy="226.16" r="1.04" fill="#e8e2e2" opacity="0.39"/>
<circle cx="28.71" cy="244.59" r="0.92" fill="#c8b8ae" opacity="0.45"/>
<circle cx="49.85" cy="233.33" r="0.79" fill="#c8b8ae" opacity="0.47"/>
<circle cx="66.47" cy="222.96" r="1.30" fill="#bcaca4" opacity="0.71"/>
<circle cx="35.81" cy="234.70" r="1.29" fill="#bcaca4" opacity="0.39"/>
<circle cx="52.68" cy="249.64" r="1.16" fill="#e8e2e2" opacity="0.46"/>
<circle cx="39.35" cy="260.91" r="1.50" fill="#c4b09e" opacity="0.73"/>
<circle cx="28.19" cy="233.96" r="1.38" fill="#bcaca4" opacity="0.73"/>
<circle cx="48.69" cy="239.00" r="1.26" fill="#d0c8d2" opacity="0.55"/>
<circle cx="37.44" cy="232.62" r="1.48" fill="#c8b8ae" opacity="0.37"/>
<circle cx="53.52" cy="233.48" r="1.19" fill="#d0c8d2" opacity="0.67"/>
<circle cx="33.83" cy="249.73" r="0.67" fill="#e8e2e2" opacity="0.64"/>
<circle cx="45.94" cy="229.49" r="1.08" fill="#c4b09e" opacity="0.49"/>
<circle cx="50.74" cy="259.25" r="0.71" fill="#c8b8ae" opacity="0.67"/>
<circle cx="39.25" cy="245.94" r="1.55" fill="#c8b8ae" opacity="0.50"/>
<circle cx="35.16" cy="240.86" r="0.65" fill="#c8b8ae" opacity="0.75"/>
<circle cx="66.95" cy="252.25" r="1.66" fill="#c8b8ae" opacity="0.50"/>
<circle cx="41.06" cy="228.22" r="1.32" fill="#c4b09e" opacity="0.66"/>
<circle cx="31.08" cy="247.41" r="1.58" fill="#bcaca4" opacity="0.41"/>
<circle cx="43.51" cy="261.62" r="0.96" fill="#c8b8ae" opacity="0.51"/>
<circle cx="46.50" cy="236.98" r="1.48" fill="#bcaca4" opacity="0.61"/>
<circle cx="45.87" cy="230.46" r="1.61" fill="#c8b8ae" opacity="0.38"/>
<circle cx="30.16" cy="228.87" r="1.34" fill="#e8e2e2" opacity="0.62"/>
<circle cx="50.24" cy="245.96" r="0.95" fill="#c8b8ae" opacity="0.41"/>
<circle cx="49.55" cy="253.86" r="1.05" fill="#e8e2e2" opacity="0.56"/>
<circle cx="37.79" cy="238.86" r="0.64" fill="#d0c8d2" opacity="0.55"/>
<circle cx="54.38" cy="239.57" r="0.84" fill="#e8e2e2" opacity="0.36"/>
<circle cx="38.30" cy="231.91" r="0.83" fill="#e8e2e2" opacity="0.54"/>
<circle cx="38.60" cy="235.32" r="1.58" fill="#bcaca4" opacity="0.60"/>
<circle cx="68.41" cy="238.54" r="1.59" fill="#c8b8ae" opacity="0.57"/>
<circle cx="31.70" cy="230.61" r="1.56" fill="#e8e2e2" opacity="0.50"/>
<circle cx="54.77" cy="254.92" r="1.31" fill="#d0c8d2" opacity="0.59"/>
<circle cx="54.68" cy="250.23" r="0.90" fill="#d0c8d2" opacity="0.78"/>
<circle cx="30.94" cy="262.01" r="1.66" fill="#e8e2e2" opacity="0.37"/>
<circle cx="64.67" cy="227.17" r="1.67" fill="#c8b8ae" opacity="0.74"/>
<circle cx="56.03" cy="241.09" r="1.12" fill="#d0c8d2" opacity="0.77"/>
<circle cx="36.84" cy="222.04" r="1.61" fill="#c8b8ae" opacity="0.62"/>
<circle cx="38.43" cy="238.25" r="1.45" fill="#d0c8d2" opacity="0.75"/>
<circle cx="50.42" cy="258.19" r="0.82" fill="#c4b09e" opacity="0.50"/>
<circle cx="64.37" cy="253.85" r="1.12" fill="#c4b09e" opacity="0.55"/>
<circle cx="31.13" cy="250.62" r="0.72" fill="#c4b09e" opacity="0.74"/>
<circle cx="52.77" cy="227.63" r="1.00" fill="#c4b09e" opacity="0.76"/>
<circle cx="40.04" cy="236.23" r="0.68" fill="#c4b09e" opacity="0.55"/>
<circle cx="36.30" cy="262.23" r="1.03" fill="#d0c8d2" opacity="0.73"/>
<circle cx="44.26" cy="225.09" r="1.61" fill="#bcaca4" opacity="0.58"/>
<circle cx="45.65" cy="257.33" r="1.45" fill="#c8b8ae" opacity="0.63"/>
<circle cx="66.38" cy="248.21" r="1.62" fill="#d0c8d2" opacity="0.54"/>
<circle cx="60.55" cy="228.81" r="1.56" fill="#e8e2e2" opacity="0.67"/>
<circle cx="41.26" cy="257.41" r="0.88" fill="#c8b8ae" opacity="0.67"/>
<circle cx="28.13" cy="234.78" r="1.20" fill="#d0c8d2" opacity="0.70"/>
<circle cx="52.48" cy="243.64" r="1.17" fill="#d0c8d2" opacity="0.73"/>
<circle cx="42.49" cy="253.56" r="1.68" fill="#c8b8ae" opacity="0.65"/>
<circle cx="52.83" cy="234.84" r="1.60" fill="#d0c8d2" opacity="0.70"/>
<circle cx="51.15" cy="260.59" r="1.16" fill="#d0c8d2" opacity="0.63"/>
<circle cx="45.98" cy="227.71" r="1.45" fill="#bcaca4" opacity="0.79"/>
<circle cx="41.81" cy="239.80" r="1.27" fill="#c4b09e" opacity="0.43"/>
<circle cx="64.79" cy="237.26" r="1.23" fill="#bcaca4" opacity="0.65"/>
<circle cx="64.02" cy="225.08" r="1.31" fill="#e8e2e2" opacity="0.50"/>
<circle cx="43.11" cy="229.11" r="1.57" fill="#c4b09e" opacity="0.36"/>
<circle cx="66.73" cy="256.17" r="1.48" fill="#c8b8ae" opacity="0.42"/>
<circle cx="51.79" cy="242.35" r="1.23" fill="#c8b8ae" opacity="0.69"/>
<circle cx="67.51" cy="226.72" r="1.32" fill="#e8e2e2" opacity="0.63"/>
<circle cx="61.90" cy="234.41" r="1.62" fill="#d0c8d2" opacity="0.75"/>
<circle cx="37.61" cy="242.13" r="0.84" fill="#bcaca4" opacity="0.45"/>
<circle cx="41.26" cy="247.79" r="1.70" fill="#d0c8d2" opacity="0.58"/>
<circle cx="67.55" cy="234.83" r="1.08" fill="#c4b09e" opacity="0.36"/>
<circle cx="35.42" cy="244.21" r="1.36" fill="#c4b09e" opacity="0.72"/>
<circle cx="44.43" cy="237.95" r="0.63" fill="#c4b09e" opacity="0.38"/>
<circle cx="67.73" cy="262.70" r="1.61" fill="#c4b09e" opacity="0.71"/>
<circle cx="65.13" cy="253.10" r="1.13" fill="#d0c8d2" opacity="0.75"/>
<path d="M63.0,225.6Q63.8,227.0 63.5,228.2Q63.1,229.3 61.5,230.0Q60.0,230.6 58.8,229.8Q57.7,229.0 57.5,228.1Q57.3,227.3 57.6,226.5Q57.9,225.8 58.9,225.1Q60.0,224.4 61.1,224.3Q62.2,224.3 63.0,225.6Z" fill="none" stroke="#b0907c" stroke-width="0.8" opacity="0.35"/>
<path d="M42.4,258.0Q43.1,259.9 42.3,261.4Q41.4,262.9 40.2,263.0Q38.9,263.2 37.6,262.6Q36.3,261.9 35.9,260.6Q35.6,259.4 35.8,258.2Q36.0,257.1 37.6,256.6Q39.3,256.1 40.5,256.1Q41.6,256.2 42.4,258.0Z" fill="none" stroke="#b0907c" stroke-width="0.8" opacity="0.35"/>
<path d="M41.0,236.8Q41.4,238.5 41.0,239.4Q40.6,240.3 39.7,241.0Q38.8,241.7 37.3,241.5Q35.8,241.3 35.2,239.9Q34.6,238.4 35.1,236.5Q35.6,234.6 36.5,234.4Q37.4,234.1 39.0,234.6Q40.6,235.1 41.0,236.8Z" fill="none" stroke="#b0907c" stroke-width="0.8" opacity="0.35"/>
<path d="M38.1,255.1Q39.2,257.1 38.1,258.5Q36.9,259.9 35.5,260.4Q34.1,260.9 33.1,260.0Q32.2,259.1 31.3,257.7Q30.5,256.4 31.1,255.2Q31.6,254.0 33.6,253.3Q35.6,252.6 36.3,252.9Q37.0,253.1 38.1,255.1Z" fill="none" stroke="#b0907c" stroke-width="0.8" opacity="0.35"/>
<path d="M40.9,256.2Q41.9,257.7 41.0,259.2Q40.2,260.7 38.7,261.3Q37.2,262.0 35.9,261.1Q34.5,260.3 34.3,259.0Q34.0,257.7 34.7,256.5Q35.4,255.3 37.1,255.0Q38.7,254.6 39.3,254.7Q40.0,254.8 40.9,256.2Z" fill="none" stroke="#b0907c" stroke-width="0.8" opacity="0.35"/>
<path d="M50.9,242.7Q51.6,244.1 51.5,245.4Q51.5,246.6 49.5,247.4Q47.5,248.2 46.8,248.0Q46.0,247.9 45.4,245.9Q44.7,243.9 44.8,243.2Q44.9,242.5 46.7,241.7Q48.5,240.8 49.4,241.1Q50.2,241.3 50.9,242.7Z" fill="none" stroke="#b0907c" stroke-width="0.8" opacity="0.35"/>
<path d="M41.4,250.8Q41.5,251.8 41.2,253.5Q40.9,255.2 38.8,256.6Q36.8,258.1 35.4,257.2Q34.1,256.4 33.2,255.6Q32.3,254.9 32.3,253.6Q32.3,252.4 33.9,250.1Q35.4,247.9 36.9,248.3Q38.5,248.7 39.9,249.3Q41.3,249.9 41.4,250.8Z" fill="#b39a8c"/>
<path d="M46.3,250.0Q46.8,251.2 46.4,251.7Q46.0,252.2 44.9,253.3Q43.8,254.4 43.2,254.1Q42.6,253.9 41.8,253.0Q41.0,252.1 41.2,250.8Q41.5,249.5 42.1,249.0Q42.7,248.5 43.5,248.5Q44.3,248.4 45.1,248.7Q45.8,248.9 46.3,250.0Z" fill="#c0a597"/>
<path d="M35.6,257.9Q36.1,259.6 35.6,260.4Q35.1,261.3 33.9,261.8Q32.7,262.2 32.3,262.2Q31.8,262.1 30.4,260.8Q28.9,259.4 29.3,258.2Q29.7,256.9 30.1,256.6Q30.5,256.2 32.1,255.3Q33.6,254.5 34.4,255.4Q35.1,256.3 35.6,257.9Z" fill="#9f8c8c"/>
<path d="M45.3,257.1Q45.6,258.4 45.1,259.3Q44.7,260.3 44.0,260.8Q43.4,261.3 42.2,260.6Q41.1,259.9 40.6,259.2Q40.1,258.4 40.3,257.6Q40.5,256.7 41.2,256.0Q41.8,255.3 42.4,255.3Q43.0,255.2 44.0,255.5Q45.0,255.8 45.3,257.1Z" fill="#c9b2a4"/>
<path d="M57.7,249.7Q58.5,251.3 58.4,252.1Q58.3,252.9 57.1,253.2Q56.0,253.4 54.0,253.5Q52.0,253.5 51.4,252.5Q50.8,251.5 50.8,250.7Q50.8,249.9 52.1,248.4Q53.3,246.9 54.6,247.2Q55.9,247.5 56.5,247.8Q57.0,248.1 57.7,249.7Z" fill="#e0c6ae"/>
<path d="M64.9,249.4Q64.9,250.4 64.5,251.3Q64.0,252.3 63.1,253.0Q62.1,253.8 61.2,253.1Q60.4,252.4 60.0,252.1Q59.6,251.7 59.2,250.7Q58.9,249.7 59.4,248.8Q59.9,248.0 61.1,247.8Q62.2,247.6 63.5,248.0Q64.8,248.5 64.9,249.4Z" fill="#d6b69e"/>
<path d="M48.7,227.9Q49.3,229.1 48.3,231.2Q47.3,233.3 46.9,233.6Q46.4,233.8 43.9,233.8Q41.3,233.9 40.6,232.2Q39.8,230.4 40.0,229.8Q40.2,229.3 41.5,227.4Q42.8,225.5 43.7,225.3Q44.7,225.1 46.4,225.9Q48.2,226.7 48.7,227.9Z" fill="#373e60"/>
<path d="M43.2,234.6Q43.2,236.0 43.5,237.1Q43.7,238.3 41.7,239.3Q39.6,240.4 38.9,240.2Q38.1,240.0 36.4,238.8Q34.6,237.7 34.6,236.0Q34.5,234.4 36.0,233.5Q37.5,232.7 39.0,232.2Q40.4,231.7 41.8,232.4Q43.2,233.2 43.2,234.6Z" fill="#353d62"/>
<path d="M42.3,239.2Q42.8,240.1 42.1,241.7Q41.5,243.2 41.1,243.5Q40.7,243.8 39.3,244.0Q38.0,244.1 37.0,243.3Q36.0,242.5 36.0,241.4Q36.1,240.3 37.0,238.9Q37.9,237.6 39.4,237.3Q41.0,237.1 41.4,237.7Q41.7,238.4 42.3,239.2Z" fill="#3d4a78"/>
<path d="M66.0,230.9Q66.6,232.7 66.4,233.9Q66.2,235.1 65.1,235.6Q64.0,236.1 62.7,236.3Q61.4,236.6 60.0,235.2Q58.6,233.9 58.8,232.9Q58.9,231.9 60.1,230.9Q61.4,229.8 62.8,229.2Q64.2,228.6 64.8,228.9Q65.4,229.2 66.0,230.9Z" fill="#464c6e"/>
<path d="M61.3,237.1Q61.6,238.9 60.9,239.9Q60.2,240.9 59.5,241.6Q58.8,242.2 56.8,241.7Q54.7,241.2 54.1,240.5Q53.5,239.7 53.1,237.9Q52.7,236.1 54.3,235.3Q55.9,234.5 56.8,234.7Q57.7,234.8 59.3,235.0Q61.0,235.2 61.3,237.1Z" fill="#3b4266"/>
<path d="M56.4,241.9Q56.7,243.7 56.3,244.5Q56.0,245.4 55.1,246.6Q54.1,247.9 52.6,247.7Q51.1,247.5 49.7,245.6Q48.3,243.7 48.3,242.9Q48.3,242.1 49.9,240.2Q51.5,238.3 52.2,238.9Q52.9,239.6 54.5,239.8Q56.1,240.0 56.4,241.9Z" fill="#383e64"/>
<path d="M51.9,241.4Q52.2,242.3 52.0,243.6Q51.9,245.0 50.7,245.4Q49.6,245.9 48.4,245.7Q47.3,245.6 46.8,244.9Q46.3,244.2 46.3,243.1Q46.2,241.9 47.1,240.6Q47.9,239.4 48.7,239.3Q49.5,239.2 50.5,239.9Q51.6,240.6 51.9,241.4Z" fill="#8886a8"/>
<path d="M34.1,244.0Q34.1,245.1 33.6,246.1Q33.1,247.1 32.3,247.6Q31.5,248.1 30.8,247.8Q30.0,247.5 29.1,246.9Q28.2,246.3 28.3,245.0Q28.4,243.8 28.9,243.0Q29.4,242.2 30.4,242.0Q31.4,241.7 32.7,242.4Q34.0,243.0 34.1,244.0Z" fill="#3a4a7a"/>
<path d="M33.1,249.0Q33.5,250.0 33.4,250.7Q33.4,251.4 32.3,252.0Q31.1,252.6 30.2,252.1Q29.2,251.7 29.0,251.3Q28.8,250.9 28.7,250.1Q28.7,249.3 29.1,248.7Q29.6,248.1 30.4,247.8Q31.3,247.6 32.0,247.8Q32.8,248.1 33.1,249.0Z" fill="#6a5a70"/>
<path d="M37.5,252.9Q38.0,253.5 37.0,255.0Q36.1,256.4 35.0,256.8Q33.9,257.1 33.2,257.5Q32.6,257.9 32.0,256.7Q31.4,255.5 31.4,254.0Q31.4,252.4 31.8,251.5Q32.3,250.6 33.2,250.6Q34.0,250.6 35.5,251.5Q37.0,252.3 37.5,252.9Z" fill="#7a6264" opacity="0.8"/>
<path d="M43.5,254.9Q44.0,255.5 43.5,256.8Q42.9,258.1 42.6,258.6Q42.2,259.2 41.1,258.8Q40.1,258.4 38.9,258.2Q37.8,258.0 37.7,256.4Q37.6,254.8 38.4,253.7Q39.1,252.6 40.2,252.7Q41.2,252.9 42.1,253.6Q43.1,254.4 43.5,254.9Z" fill="#8a7068" opacity="0.8"/>
<path d="M35.0,258.9Q35.2,259.7 34.6,260.8Q34.1,261.9 32.9,262.4Q31.8,262.8 31.0,262.5Q30.2,262.2 29.8,261.8Q29.5,261.4 29.5,260.4Q29.5,259.4 29.9,258.6Q30.4,257.8 31.4,257.2Q32.4,256.7 33.6,257.4Q34.8,258.1 35.0,258.9Z" fill="#6a5a6a" opacity="0.8"/>
<path d="M49.2,246.2Q49.5,246.7 49.0,247.7Q48.4,248.8 47.6,248.9Q46.8,249.0 45.9,249.0Q45.0,249.0 44.6,248.1Q44.1,247.2 44.4,246.5Q44.7,245.8 45.2,245.1Q45.8,244.3 46.6,244.3Q47.5,244.3 48.2,245.1Q48.9,245.8 49.2,246.2Z" fill="#8a7a88" opacity="0.7"/>
</g>
</g>
<clipPath id="mc5"><rect x="69.80" y="222.90" width="38.70" height="39.30"/></clipPath>
<g clip-path="url(#mc5)">
<rect x="68.80" y="221.90" width="40.70" height="41.30" fill="#dbd1ca"/>
<g filter="url(#mb)">
<circle cx="94.15" cy="252.54" r="1.47" fill="#c4b09e" opacity="0.36"/>
<circle cx="87.75" cy="260.86" r="1.31" fill="#e8e2e2" opacity="0.40"/>
<circle cx="87.89" cy="232.08" r="1.20" fill="#c4b09e" opacity="0.46"/>
<circle cx="98.56" cy="238.76" r="0.80" fill="#d0c8d2" opacity="0.42"/>
<circle cx="101.24" cy="227.63" r="1.28" fill="#e8e2e2" opacity="0.41"/>
<circle cx="108.37" cy="222.12" r="1.45" fill="#e8e2e2" opacity="0.74"/>
<circle cx="80.57" cy="261.61" r="1.19" fill="#e8e2e2" opacity="0.43"/>
<circle cx="108.22" cy="230.03" r="1.66" fill="#d0c8d2" opacity="0.48"/>
<circle cx="83.50" cy="228.75" r="0.76" fill="#c8b8ae" opacity="0.50"/>
<circle cx="102.07" cy="246.11" r="1.26" fill="#bcaca4" opacity="0.38"/>
<circle cx="83.26" cy="234.54" r="1.37" fill="#e8e2e2" opacity="0.57"/>
<circle cx="97.48" cy="224.25" r="1.67" fill="#c8b8ae" opacity="0.78"/>
<circle cx="83.36" cy="238.60" r="1.20" fill="#d0c8d2" opacity="0.51"/>
<circle cx="92.35" cy="222.27" r="0.65" fill="#e8e2e2" opacity="0.63"/>
<circle cx="107.64" cy="226.82" r="0.87" fill="#d0c8d2" opacity="0.50"/>
<circle cx="83.24" cy="243.57" r="1.45" fill="#c8b8ae" opacity="0.62"/>
<circle cx="100.59" cy="237.07" r="0.93" fill="#d0c8d2" opacity="0.78"/>
<circle cx="72.51" cy="235.97" r="1.27" fill="#e8e2e2" opacity="0.50"/>
<circle cx="106.41" cy="244.41" r="0.94" fill="#bcaca4" opacity="0.49"/>
<circle cx="101.31" cy="247.79" r="1.39" fill="#bcaca4" opacity="0.80"/>
<circle cx="75.37" cy="223.91" r="1.69" fill="#c4b09e" opacity="0.77"/>
<circle cx="70.10" cy="252.49" r="0.98" fill="#bcaca4" opacity="0.56"/>
<circle cx="85.97" cy="224.20" r="1.61" fill="#c8b8ae" opacity="0.71"/>
<circle cx="82.40" cy="230.45" r="1.68" fill="#c4b09e" opacity="0.78"/>
<circle cx="94.46" cy="254.44" r="0.72" fill="#d0c8d2" opacity="0.52"/>
<circle cx="71.19" cy="239.27" r="0.76" fill="#c4b09e" opacity="0.73"/>
<circle cx="108.52" cy="240.63" r="1.14" fill="#bcaca4" opacity="0.57"/>
<circle cx="80.64" cy="238.58" r="0.76" fill="#d0c8d2" opacity="0.72"/>
<circle cx="90.44" cy="229.31" r="1.63" fill="#bcaca4" opacity="0.43"/>
<circle cx="88.82" cy="243.18" r="1.20" fill="#c4b09e" opacity="0.51"/>
<circle cx="100.79" cy="253.90" r="1.36" fill="#c8b8ae" opacity="0.69"/>
<circle cx="83.59" cy="250.99" r="0.91" fill="#d0c8d2" opacity="0.47"/>
<circle cx="108.72" cy="251.47" r="1.65" fill="#bcaca4" opacity="0.64"/>
<circle cx="92.43" cy="222.38" r="1.20" fill="#bcaca4" opacity="0.50"/>
<circle cx="79.94" cy="233.83" r="1.15" fill="#bcaca4" opacity="0.51"/>
<circle cx="95.01" cy="252.37" r="1.51" fill="#bcaca4" opacity="0.77"/>
<circle cx="75.82" cy="257.71" r="1.09" fill="#bcaca4" opacity="0.78"/>
<circle cx="89.89" cy="243.76" r="0.78" fill="#bcaca4" opacity="0.77"/>
<circle cx="88.22" cy="250.46" r="1.39" fill="#d0c8d2" opacity="0.43"/>
<circle cx="100.56" cy="245.89" r="1.33" fill="#d0c8d2" opacity="0.49"/>
<circle cx="91.32" cy="257.71" r="0.90" fill="#c8b8ae" opacity="0.44"/>
<circle cx="92.67" cy="247.67" r="0.80" fill="#e8e2e2" opacity="0.63"/>
<circle cx="70.50" cy="241.38" r="0.85" fill="#c8b8ae" opacity="0.75"/>
<circle cx="73.31" cy="261.88" r="1.13" fill="#c4b09e" opacity="0.37"/>
<circle cx="87.74" cy="237.61" r="1.27" fill="#c4b09e" opacity="0.44"/>
<circle cx="98.02" cy="237.35" r="0.99" fill="#bcaca4" opacity="0.74"/>
<circle cx="104.06" cy="250.35" r="1.20" fill="#c8b8ae" opacity="0.60"/>
<circle cx="81.07" cy="234.10" r="1.16" fill="#c4b09e" opacity="0.48"/>
<circle cx="83.11" cy="227.23" r="1.05" fill="#c4b09e" opacity="0.64"/>
<circle cx="83.84" cy="227.77" r="1.26" fill="#c4b09e" opacity="0.56"/>
<circle cx="76.91" cy="227.39" r="0.70" fill="#c8b8ae" opacity="0.52"/>
<circle cx="82.07" cy="259.75" r="1.19" fill="#bcaca4" opacity="0.63"/>
<circle cx="105.08" cy="237.42" r="1.07" fill="#e8e2e2" opacity="0.57"/>
<circle cx="88.32" cy="251.15" r="1.02" fill="#e8e2e2" opacity="0.62"/>
<circle cx="79.37" cy="262.41" r="1.15" fill="#d0c8d2" opacity="0.36"/>
<circle cx="107.27" cy="234.60" r="1.62" fill="#e8e2e2" opacity="0.56"/>
<circle cx="73.76" cy="247.58" r="1.09" fill="#bcaca4" opacity="0.37"/>
<circle cx="74.35" cy="238.11" r="1.13" fill="#c4b09e" opacity="0.47"/>
<circle cx="106.86" cy="254.19" r="0.87" fill="#bcaca4" opacity="0.73"/>
<circle cx="98.16" cy="233.70" r="1.14" fill="#d0c8d2" opacity="0.58"/>
<circle cx="103.94" cy="258.27" r="1.58" fill="#c8b8ae" opacity="0.69"/>
<circle cx="81.04" cy="243.93" r="0.97" fill="#bcaca4" opacity="0.68"/>
<circle cx="69.88" cy="236.35" r="1.35" fill="#c4b09e" opacity="0.41"/>
<circle cx="68.92" cy="244.75" r="1.35" fill="#c8b8ae" opacity="0.75"/>
<circle cx="91.01" cy="222.50" r="1.46" fill="#d0c8d2" opacity="0.62"/>
<circle cx="96.84" cy="261.27" r="1.31" fill="#d0c8d2" opacity="0.56"/>
<circle cx="96.57" cy="251.62" r="1.59" fill="#d0c8d2" opacity="0.72"/>
<circle cx="71.49" cy="256.44" r="1.36" fill="#d0c8d2" opacity="0.61"/>
<circle cx="95.19" cy="241.41" r="0.94" fill="#e8e2e2" opacity="0.57"/>
<circle cx="91.15" cy="242.45" r="0.96" fill="#e8e2e2" opacity="0.54"/>
<path d="M94.9,221.4Q94.8,222.5 94.9,224.1Q95.0,225.6 93.1,226.4Q91.3,227.3 89.9,226.9Q88.6,226.6 87.8,224.8Q86.9,223.0 87.1,221.8Q87.2,220.5 89.4,219.8Q91.6,219.1 93.3,219.7Q95.0,220.3 94.9,221.4Z" fill="none" stroke="#b0907c" stroke-width="1.0" opacity="0.65"/>
<path d="M101.1,238.5Q101.6,239.3 101.2,240.4Q100.7,241.6 99.3,242.6Q97.8,243.5 96.6,242.7Q95.3,241.9 95.0,240.8Q94.8,239.8 95.0,238.6Q95.3,237.5 96.2,237.1Q97.2,236.8 98.9,237.2Q100.6,237.6 101.1,238.5Z" fill="none" stroke="#b0907c" stroke-width="1.0" opacity="0.65"/>
<path d="M87.0,247.6Q87.3,248.5 86.7,250.7Q86.2,252.9 84.8,253.7Q83.4,254.4 81.6,253.4Q79.7,252.3 79.2,251.3Q78.6,250.3 79.5,248.0Q80.3,245.7 82.2,245.1Q84.1,244.4 85.4,245.6Q86.7,246.7 87.0,247.6Z" fill="none" stroke="#b0907c" stroke-width="1.0" opacity="0.65"/>
<path d="M87.4,225.6Q87.7,226.3 87.5,227.4Q87.4,228.4 85.9,229.1Q84.4,229.8 83.3,229.4Q82.3,229.0 81.9,227.4Q81.6,225.9 81.8,225.1Q82.1,224.2 83.2,223.7Q84.2,223.1 85.6,224.0Q87.1,224.9 87.4,225.6Z" fill="none" stroke="#b0907c" stroke-width="1.0" opacity="0.65"/>
<path d="M104.7,252.5Q105.0,254.0 104.8,254.7Q104.5,255.4 103.2,256.2Q101.9,257.0 100.7,256.6Q99.4,256.2 98.8,254.6Q98.2,253.0 98.6,252.0Q99.1,251.0 100.3,250.6Q101.5,250.2 103.0,250.6Q104.5,250.9 104.7,252.5Z" fill="none" stroke="#b0907c" stroke-width="1.0" opacity="0.65"/>
<path d="M87.0,220.3Q87.6,221.8 87.3,223.3Q86.9,224.8 85.4,225.8Q84.0,226.9 81.8,226.5Q79.5,226.2 79.1,224.2Q78.7,222.1 79.3,220.7Q79.9,219.4 82.2,218.3Q84.4,217.3 85.4,218.1Q86.3,218.8 87.0,220.3Z" fill="none" stroke="#b0907c" stroke-width="1.0" opacity="0.65"/>
<path d="M78.6,248.1Q79.5,249.9 79.0,250.7Q78.4,251.5 77.5,252.1Q76.7,252.7 75.0,252.0Q73.3,251.3 72.9,250.7Q72.5,250.0 72.9,248.5Q73.3,246.9 74.5,246.6Q75.7,246.2 76.7,246.3Q77.7,246.4 78.6,248.1Z" fill="none" stroke="#b0907c" stroke-width="1.0" opacity="0.65"/>
<path d="M107.6,225.4Q108.4,227.3 108.2,229.0Q108.0,230.7 106.6,231.5Q105.1,232.2 102.9,231.5Q100.7,230.8 99.9,229.1Q99.2,227.4 100.1,225.7Q101.1,224.0 102.2,223.7Q103.4,223.4 105.0,223.4Q106.7,223.5 107.6,225.4Z" fill="none" stroke="#b0907c" stroke-width="1.0" opacity="0.65"/>
<path d="M90.6,253.2Q90.9,254.0 90.5,255.6Q90.2,257.2 89.2,257.6Q88.2,257.9 86.7,257.5Q85.3,257.1 85.0,256.1Q84.7,255.0 85.2,253.2Q85.6,251.4 86.8,251.0Q87.9,250.6 89.1,251.5Q90.3,252.5 90.6,253.2Z" fill="none" stroke="#b0907c" stroke-width="1.0" opacity="0.65"/>
<path d="M105.5,223.3Q106.2,225.3 105.6,226.6Q105.1,227.9 104.1,228.5Q103.1,229.0 101.2,228.4Q99.3,227.8 98.5,226.0Q97.8,224.1 98.3,223.2Q98.8,222.4 100.6,221.8Q102.4,221.2 103.5,221.3Q104.7,221.4 105.5,223.3Z" fill="none" stroke="#b0907c" stroke-width="1.0" opacity="0.65"/>
<path d="M105.8,223.1Q105.8,223.9 105.2,226.2Q104.6,228.5 103.2,228.9Q101.7,229.3 99.9,228.8Q98.1,228.4 97.7,226.5Q97.2,224.6 97.2,223.3Q97.2,222.0 99.6,220.8Q102.1,219.5 103.9,220.8Q105.7,222.2 105.8,223.1Z" fill="none" stroke="#b0907c" stroke-width="1.0" opacity="0.65"/>
<path d="M77.9,240.2Q78.0,241.3 77.7,242.8Q77.4,244.4 75.6,245.4Q73.8,246.5 71.8,245.6Q69.7,244.8 69.6,243.1Q69.5,241.5 70.1,240.2Q70.8,238.9 72.5,238.0Q74.2,237.1 76.0,238.1Q77.8,239.1 77.9,240.2Z" fill="none" stroke="#b0907c" stroke-width="1.0" opacity="0.65"/>
<path d="M73.9,253.2Q74.2,254.7 74.2,255.8Q74.1,256.9 72.8,257.2Q71.5,257.5 70.0,257.5Q68.6,257.5 68.1,255.6Q67.5,253.7 67.6,253.0Q67.7,252.2 68.9,251.2Q70.1,250.2 71.8,251.0Q73.5,251.7 73.9,253.2Z" fill="none" stroke="#b0907c" stroke-width="1.0" opacity="0.65"/>
<path d="M83.8,225.1Q84.4,226.5 84.1,228.2Q83.8,229.9 82.8,230.1Q81.7,230.4 79.5,229.7Q77.2,229.1 77.2,228.0Q77.1,227.0 78.1,225.4Q79.0,223.9 80.0,223.5Q80.9,223.2 82.1,223.5Q83.2,223.7 83.8,225.1Z" fill="none" stroke="#b0907c" stroke-width="1.0" opacity="0.65"/>
<path d="M77.6,247.1Q77.9,248.5 77.6,249.4Q77.2,250.4 76.3,250.9Q75.4,251.3 73.9,250.8Q72.4,250.2 71.9,249.1Q71.4,248.0 71.7,246.8Q72.0,245.6 73.1,245.1Q74.3,244.7 75.7,245.2Q77.2,245.7 77.6,247.1Z" fill="none" stroke="#b0907c" stroke-width="1.0" opacity="0.65"/>
<path d="M91.1,240.8Q91.4,241.5 90.7,243.0Q89.9,244.5 89.4,245.0Q88.9,245.6 87.4,245.2Q86.0,244.8 85.4,243.6Q84.8,242.4 85.0,241.3Q85.2,240.1 86.5,239.6Q87.7,239.0 89.2,239.5Q90.7,240.1 91.1,240.8Z" fill="none" stroke="#b0907c" stroke-width="1.0" opacity="0.65"/>
<path d="M87.7,254.8Q88.4,256.3 87.8,257.3Q87.3,258.3 85.5,259.2Q83.8,260.0 82.3,259.7Q80.8,259.4 80.0,258.1Q79.2,256.8 80.0,254.7Q80.8,252.5 82.7,251.9Q84.5,251.2 85.7,252.2Q87.0,253.2 87.7,254.8Z" fill="none" stroke="#b0907c" stroke-width="1.0" opacity="0.65"/>
<path d="M91.0,242.7Q91.3,243.5 91.0,244.7Q90.7,245.9 89.2,246.8Q87.7,247.6 86.9,247.3Q86.1,247.0 85.3,245.4Q84.5,243.8 85.0,242.7Q85.5,241.6 86.8,241.2Q88.2,240.7 89.4,241.3Q90.6,242.0 91.0,242.7Z" fill="none" stroke="#b0907c" stroke-width="1.0" opacity="0.65"/>
<path d="M110.2,243.2Q110.9,244.5 110.1,246.0Q109.3,247.5 108.3,247.8Q107.3,248.1 106.6,247.7Q105.9,247.3 105.1,245.9Q104.4,244.6 105.0,243.3Q105.6,242.0 106.6,241.7Q107.6,241.4 108.6,241.6Q109.6,241.9 110.2,243.2Z" fill="none" stroke="#b0907c" stroke-width="1.0" opacity="0.65"/>
<path d="M80.6,221.9Q80.9,223.3 80.7,224.1Q80.5,224.9 78.8,225.4Q77.1,225.9 76.2,225.3Q75.4,224.8 75.1,224.0Q74.8,223.2 75.0,221.7Q75.1,220.2 76.4,219.5Q77.7,218.8 79.0,219.6Q80.3,220.4 80.6,221.9Z" fill="none" stroke="#b0907c" stroke-width="1.0" opacity="0.65"/>
<path d="M102.5,242.5Q103.2,244.1 103.0,245.2Q102.8,246.2 101.0,246.8Q99.1,247.4 98.1,246.4Q97.0,245.5 96.8,245.0Q96.6,244.4 97.1,242.6Q97.6,240.7 98.3,240.3Q99.0,240.0 100.4,240.4Q101.7,240.9 102.5,242.5Z" fill="none" stroke="#b0907c" stroke-width="1.0" opacity="0.65"/>
<path d="M79.2,247.8Q80.0,249.6 79.2,250.9Q78.5,252.2 77.4,252.8Q76.3,253.4 74.6,252.6Q72.9,251.9 72.4,250.7Q72.0,249.5 72.8,247.7Q73.5,246.0 74.5,245.8Q75.6,245.5 77.0,245.8Q78.3,246.1 79.2,247.8Z" fill="none" stroke="#b0907c" stroke-width="1.0" opacity="0.65"/>
<path d="M102.1,229.3Q102.4,231.1 101.7,232.3Q100.9,233.5 99.2,234.6Q97.5,235.8 96.4,236.2Q95.4,236.7 94.1,235.1Q92.8,233.5 92.8,231.9Q92.7,230.3 93.7,228.5Q94.7,226.6 97.1,226.0Q99.5,225.4 100.7,226.4Q101.9,227.5 102.1,229.3Z" fill="#363f6a"/>
<path d="M104.2,234.8Q104.2,235.9 103.9,236.7Q103.5,237.6 102.8,238.2Q102.2,238.7 100.6,238.5Q99.1,238.3 98.6,237.5Q98.2,236.6 98.3,235.3Q98.5,233.9 99.3,232.9Q100.1,231.9 101.1,231.7Q102.2,231.4 103.2,232.6Q104.3,233.7 104.2,234.8Z" fill="#3a4064"/>
<path d="M93.3,227.0Q93.4,228.3 93.2,228.9Q93.0,229.4 91.8,230.4Q90.7,231.4 89.9,230.7Q89.1,230.1 88.5,229.2Q87.9,228.3 87.6,227.9Q87.3,227.5 88.7,226.5Q90.0,225.4 90.3,225.2Q90.6,225.0 91.9,225.3Q93.1,225.6 93.3,227.0Z" fill="#b08e72" opacity="0.8"/>
<path d="M79.1,234.2Q79.9,234.9 78.8,235.9Q77.8,237.0 76.8,238.0Q75.9,239.0 74.9,238.2Q73.9,237.4 73.5,236.8Q73.0,236.2 72.8,234.6Q72.7,233.0 73.7,232.6Q74.7,232.1 75.2,231.8Q75.7,231.5 77.1,232.5Q78.4,233.5 79.1,234.2Z" fill="#c4a48e" opacity="0.6"/>
<path d="M88.3,244.2Q88.5,244.8 88.0,246.0Q87.4,247.1 86.7,247.3Q86.0,247.5 84.8,247.3Q83.7,247.1 83.5,246.5Q83.3,245.9 83.1,244.6Q82.9,243.2 83.4,242.9Q84.0,242.6 84.9,242.5Q85.8,242.3 86.9,243.0Q88.0,243.6 88.3,244.2Z" fill="#c8ad9c" opacity="0.6"/>
<path d="M82.1,253.8Q82.3,255.3 82.3,256.3Q82.4,257.2 81.1,257.3Q79.8,257.4 78.9,257.1Q78.0,256.8 77.7,256.1Q77.4,255.4 77.0,254.5Q76.5,253.7 77.4,252.8Q78.3,251.9 79.2,252.2Q80.2,252.4 81.1,252.4Q81.9,252.4 82.1,253.8Z" fill="#bea08c" opacity="0.6"/>
<path d="M102.9,251.8Q103.8,252.9 102.9,254.4Q102.0,255.8 101.1,256.2Q100.2,256.5 99.4,256.3Q98.5,256.1 97.3,254.9Q96.0,253.8 96.4,252.5Q96.8,251.2 97.9,250.7Q98.9,250.2 99.8,250.1Q100.8,250.0 101.5,250.3Q102.1,250.6 102.9,251.8Z" fill="#c3a896" opacity="0.6"/>
<path d="M99.0,241.7Q99.6,242.5 99.2,243.2Q98.9,244.0 98.1,244.5Q97.3,245.1 96.7,245.1Q96.0,245.1 95.3,244.8Q94.6,244.4 94.5,243.0Q94.4,241.6 94.7,241.3Q95.0,240.9 95.8,240.7Q96.7,240.5 97.6,240.7Q98.5,240.9 99.0,241.7Z" fill="#b0a8c0" opacity="0.5"/>
</g>
</g>
<clipPath id="mc6"><rect x="110.50" y="222.90" width="39.60" height="39.30"/></clipPath>
<g clip-path="url(#mc6)">
<rect x="109.50" y="221.90" width="41.60" height="41.30" fill="#b4a8b0"/>
<g filter="url(#mb)">
<circle cx="142.50" cy="255.85" r="1.13" fill="#8a8aa8" opacity="0.37"/>
<circle cx="115.56" cy="246.12" r="1.66" fill="#8a8aa8" opacity="0.49"/>
<circle cx="110.41" cy="242.09" r="0.82" fill="#c8b0a8" opacity="0.76"/>
<circle cx="131.93" cy="225.79" r="1.22" fill="#8a8aa8" opacity="0.65"/>
<circle cx="134.88" cy="225.54" r="1.07" fill="#b8a0a0" opacity="0.51"/>
<circle cx="126.55" cy="232.25" r="1.37" fill="#d8d0d8" opacity="0.67"/>
<circle cx="142.63" cy="225.93" r="0.65" fill="#d8d0d8" opacity="0.72"/>
<circle cx="147.47" cy="242.00" r="1.52" fill="#d8d0d8" opacity="0.58"/>
<circle cx="136.31" cy="250.72" r="1.49" fill="#b8a0a0" opacity="0.64"/>
<circle cx="119.69" cy="239.65" r="0.99" fill="#b8a0a0" opacity="0.39"/>
<circle cx="146.11" cy="243.59" r="0.73" fill="#8a8aa8" opacity="0.49"/>
<circle cx="117.66" cy="241.88" r="0.75" fill="#d8d0d8" opacity="0.73"/>
<circle cx="145.94" cy="243.46" r="0.81" fill="#d8d0d8" opacity="0.36"/>
<circle cx="123.35" cy="259.25" r="1.28" fill="#8a8aa8" opacity="0.52"/>
<circle cx="131.44" cy="233.84" r="1.35" fill="#c8b0a8" opacity="0.37"/>
<circle cx="127.09" cy="252.72" r="1.04" fill="#c8b0a8" opacity="0.46"/>
<circle cx="150.24" cy="258.75" r="1.34" fill="#c8b0a8" opacity="0.55"/>
<circle cx="144.08" cy="254.78" r="1.17" fill="#c8b0a8" opacity="0.49"/>
<circle cx="143.47" cy="260.75" r="0.81" fill="#8a8aa8" opacity="0.55"/>
<circle cx="139.56" cy="261.76" r="0.62" fill="#b8a0a0" opacity="0.46"/>
<circle cx="142.85" cy="229.65" r="1.15" fill="#8a8aa8" opacity="0.77"/>
<circle cx="120.10" cy="238.86" r="1.57" fill="#c8b0a8" opacity="0.47"/>
<circle cx="129.25" cy="241.66" r="0.76" fill="#c8b0a8" opacity="0.57"/>
<circle cx="135.89" cy="241.20" r="1.00" fill="#d8d0d8" opacity="0.79"/>
<circle cx="147.90" cy="237.43" r="1.26" fill="#8a8aa8" opacity="0.64"/>
<circle cx="150.06" cy="252.02" r="0.77" fill="#8a8aa8" opacity="0.60"/>
<circle cx="135.45" cy="261.74" r="0.80" fill="#b8a0a0" opacity="0.66"/>
<circle cx="124.93" cy="262.48" r="1.15" fill="#b8a0a0" opacity="0.76"/>
<circle cx="115.92" cy="233.02" r="0.62" fill="#c8b0a8" opacity="0.38"/>
<circle cx="119.15" cy="237.22" r="1.66" fill="#d8d0d8" opacity="0.62"/>
<circle cx="115.50" cy="247.84" r="0.71" fill="#b8a0a0" opacity="0.37"/>
<circle cx="129.38" cy="251.81" r="0.68" fill="#b8a0a0" opacity="0.67"/>
<circle cx="114.78" cy="256.29" r="0.69" fill="#8a8aa8" opacity="0.76"/>
<circle cx="146.66" cy="240.57" r="1.36" fill="#d8d0d8" opacity="0.72"/>
<circle cx="117.35" cy="260.48" r="1.13" fill="#c8b0a8" opacity="0.55"/>
<circle cx="121.00" cy="251.33" r="0.67" fill="#8a8aa8" opacity="0.79"/>
<circle cx="121.40" cy="260.71" r="0.69" fill="#8a8aa8" opacity="0.48"/>
<circle cx="149.69" cy="239.69" r="1.61" fill="#b8a0a0" opacity="0.67"/>
<circle cx="119.88" cy="246.87" r="0.86" fill="#b8a0a0" opacity="0.68"/>
<circle cx="123.49" cy="223.22" r="1.65" fill="#d8d0d8" opacity="0.67"/>
<circle cx="123.79" cy="225.10" r="1.40" fill="#b8a0a0" opacity="0.53"/>
<circle cx="115.14" cy="252.59" r="1.30" fill="#d8d0d8" opacity="0.38"/>
<circle cx="131.14" cy="223.16" r="1.18" fill="#d8d0d8" opacity="0.43"/>
<circle cx="140.24" cy="242.85" r="1.54" fill="#d8d0d8" opacity="0.78"/>
<circle cx="138.44" cy="251.44" r="0.74" fill="#d8d0d8" opacity="0.69"/>
<circle cx="150.83" cy="245.07" r="0.61" fill="#c8b0a8" opacity="0.43"/>
<circle cx="123.03" cy="237.64" r="1.09" fill="#c8b0a8" opacity="0.73"/>
<circle cx="131.58" cy="257.01" r="0.75" fill="#d8d0d8" opacity="0.64"/>
<circle cx="143.00" cy="237.27" r="1.33" fill="#d8d0d8" opacity="0.42"/>
<circle cx="135.52" cy="237.79" r="0.67" fill="#b8a0a0" opacity="0.56"/>
<circle cx="111.96" cy="248.78" r="1.19" fill="#8a8aa8" opacity="0.62"/>
<circle cx="111.99" cy="231.18" r="1.05" fill="#8a8aa8" opacity="0.39"/>
<circle cx="112.72" cy="245.58" r="0.66" fill="#c8b0a8" opacity="0.40"/>
<circle cx="114.17" cy="262.51" r="0.66" fill="#b8a0a0" opacity="0.69"/>
<circle cx="137.62" cy="252.03" r="1.32" fill="#8a8aa8" opacity="0.47"/>
<circle cx="119.15" cy="255.59" r="1.32" fill="#d8d0d8" opacity="0.48"/>
<circle cx="110.05" cy="243.67" r="1.41" fill="#8a8aa8" opacity="0.70"/>
<circle cx="113.40" cy="246.49" r="0.64" fill="#8a8aa8" opacity="0.66"/>
<circle cx="118.91" cy="253.41" r="1.00" fill="#8a8aa8" opacity="0.55"/>
<circle cx="144.13" cy="224.04" r="0.75" fill="#b8a0a0" opacity="0.50"/>
<path d="M123.4,233.4Q124.4,234.9 124.2,236.3Q123.9,237.8 122.0,238.6Q120.0,239.4 118.9,239.5Q117.8,239.7 116.3,238.5Q114.8,237.3 115.1,234.8Q115.5,232.2 116.1,231.1Q116.7,230.0 119.0,230.4Q121.2,230.7 121.8,231.3Q122.4,231.9 123.4,233.4Z" fill="#a07e72"/>
<path d="M118.6,241.3Q118.8,243.5 118.5,244.3Q118.2,245.1 116.3,246.0Q114.3,247.0 113.7,247.0Q113.0,247.0 111.5,245.9Q109.9,244.8 109.9,242.5Q109.8,240.1 110.8,239.1Q111.8,238.1 113.3,237.8Q114.7,237.6 116.6,238.4Q118.5,239.1 118.6,241.3Z" fill="#b89c94"/>
<path d="M127.4,249.7Q128.2,251.5 127.5,252.6Q126.9,253.7 125.3,254.9Q123.7,256.1 121.7,256.1Q119.6,256.1 118.6,255.1Q117.6,254.2 117.7,252.4Q117.8,250.7 119.1,249.1Q120.5,247.6 122.0,247.4Q123.6,247.3 125.1,247.6Q126.5,247.9 127.4,249.7Z" fill="#9a8890"/>
<path d="M118.9,256.0Q118.9,257.6 118.2,258.6Q117.6,259.6 116.9,260.5Q116.3,261.5 114.4,260.9Q112.5,260.3 112.0,259.5Q111.6,258.7 111.8,257.3Q112.0,255.8 112.7,254.3Q113.5,252.7 114.6,253.1Q115.7,253.6 117.2,254.0Q118.8,254.4 118.9,256.0Z" fill="#b8a09a"/>
<path d="M129.5,229.0Q130.4,231.1 129.9,232.0Q129.5,232.8 127.9,233.8Q126.3,234.7 125.5,234.5Q124.7,234.3 123.7,232.5Q122.6,230.8 122.1,229.8Q121.6,228.8 123.2,227.7Q124.8,226.6 126.2,226.6Q127.5,226.7 128.1,226.8Q128.6,226.9 129.5,229.0Z" fill="#6e6e98"/>
<path d="M141.0,224.6Q141.9,226.2 141.0,227.0Q140.2,227.8 138.9,228.3Q137.6,228.9 136.9,228.6Q136.3,228.4 135.4,227.6Q134.5,226.8 134.0,225.8Q133.5,224.7 134.2,223.5Q134.9,222.2 136.7,221.7Q138.5,221.2 139.3,222.1Q140.1,223.0 141.0,224.6Z" fill="#7a6a88"/>
<path d="M145.4,233.7Q145.4,236.1 144.7,237.6Q144.1,239.0 142.8,240.0Q141.5,240.9 140.4,240.7Q139.4,240.4 137.8,239.0Q136.2,237.5 136.2,235.1Q136.3,232.8 137.9,231.3Q139.5,229.9 140.4,229.6Q141.2,229.4 143.3,230.4Q145.3,231.4 145.4,233.7Z" fill="#3a4474"/>
<path d="M136.0,237.8Q135.9,240.1 135.5,241.1Q135.1,242.1 133.9,243.0Q132.6,243.8 131.2,243.8Q129.9,243.8 128.6,241.7Q127.3,239.6 126.8,238.6Q126.4,237.7 128.2,236.2Q130.0,234.8 131.4,234.7Q132.9,234.7 134.5,235.1Q136.2,235.6 136.0,237.8Z" fill="#46528a"/>
<path d="M138.6,243.7Q139.1,246.2 139.0,247.4Q139.0,248.7 136.4,249.6Q133.8,250.5 132.3,250.0Q130.9,249.5 130.0,248.8Q129.1,248.1 128.9,246.1Q128.6,244.1 130.3,242.8Q132.0,241.6 133.2,241.2Q134.4,240.9 136.3,241.1Q138.2,241.3 138.6,243.7Z" fill="#3a4476"/>
<path d="M148.6,246.6Q149.4,248.5 148.6,249.6Q147.8,250.7 146.2,252.3Q144.7,253.8 143.5,253.1Q142.3,252.4 141.3,251.4Q140.2,250.5 140.0,248.8Q139.8,247.1 141.3,246.2Q142.9,245.3 144.5,244.5Q146.1,243.8 146.9,244.2Q147.7,244.7 148.6,246.6Z" fill="#485284"/>
<path d="M132.8,252.0Q132.9,253.3 132.9,255.0Q133.0,256.7 131.7,257.5Q130.3,258.3 128.3,258.1Q126.2,257.8 125.1,256.7Q124.0,255.5 123.9,254.0Q123.7,252.5 125.4,251.4Q127.0,250.4 128.4,250.1Q129.8,249.7 131.3,250.3Q132.7,250.8 132.8,252.0Z" fill="#505a88"/>
<path d="M143.3,254.4Q143.9,254.9 143.4,257.4Q143.0,259.9 142.1,260.1Q141.3,260.3 139.8,260.2Q138.2,260.1 136.8,259.3Q135.4,258.4 135.6,256.6Q135.8,254.9 136.8,253.4Q137.8,252.0 138.9,251.6Q140.1,251.1 141.4,252.5Q142.8,254.0 143.3,254.4Z" fill="#5a5a84"/>
<path d="M150.0,257.7Q150.3,258.2 149.7,259.5Q149.0,260.9 148.3,261.7Q147.5,262.6 145.7,262.2Q143.9,261.8 143.6,260.9Q143.3,260.0 143.3,259.1Q143.3,258.2 144.1,256.8Q144.9,255.5 145.6,255.6Q146.3,255.7 148.0,256.5Q149.7,257.3 150.0,257.7Z" fill="#6a6a90"/>
<path d="M149.7,230.1Q149.8,230.7 149.9,231.8Q149.9,232.8 148.8,233.5Q147.6,234.3 147.1,234.2Q146.5,234.1 145.7,232.9Q144.9,231.8 144.9,230.8Q145.0,229.8 145.5,229.4Q146.1,229.0 147.0,228.7Q148.0,228.3 148.8,228.8Q149.7,229.4 149.7,230.1Z" fill="#eeeef4"/>
<path d="M149.9,243.1Q150.1,243.5 149.8,244.3Q149.5,245.1 148.9,245.4Q148.4,245.7 147.6,245.4Q146.9,245.1 146.3,244.5Q145.7,243.9 146.0,243.4Q146.3,242.8 146.5,242.4Q146.7,242.1 147.9,241.7Q149.1,241.3 149.4,242.0Q149.7,242.6 149.9,243.1Z" fill="#f2f2f6"/>
<path d="M117.8,226.0Q118.3,226.6 117.9,227.8Q117.6,229.0 116.8,229.1Q116.0,229.2 115.1,229.1Q114.2,229.1 113.8,228.3Q113.5,227.5 113.5,226.8Q113.5,226.0 113.7,225.4Q113.9,224.8 114.8,224.6Q115.6,224.4 116.5,224.9Q117.4,225.4 117.8,226.0Z" fill="#d8cccc"/>
</g>
</g>
<rect x="28.60" y="181.40" width="121.80" height="81.10" fill="none" stroke="#575757" stroke-width="1.5"/>
<line x1="68.80" y1="181.40" x2="68.80" y2="262.50" stroke="#575757" stroke-width="2.4"/>
<line x1="109.50" y1="181.40" x2="109.50" y2="262.50" stroke="#575757" stroke-width="2.4"/>
<line x1="28.60" y1="221.90" x2="150.40" y2="221.90" stroke="#575757" stroke-width="2.4"/>
<clipPath id="mc7"><rect x="361.90" y="182.40" width="39.10" height="39.00"/></clipPath>
<g clip-path="url(#mc7)">
<rect x="360.90" y="181.40" width="41.10" height="41.00" fill="#d6c2e2"/>
<g filter="url(#mbE)">
<circle cx="379.49" cy="204.35" r="1.52" fill="#d8b8e0" opacity="0.48"/>
<circle cx="396.04" cy="189.19" r="1.40" fill="#d8b8e0" opacity="0.55"/>
<circle cx="393.49" cy="185.26" r="0.90" fill="#c0b0dc" opacity="0.52"/>
<circle cx="397.49" cy="207.41" r="1.20" fill="#d8b8e0" opacity="0.69"/>
<circle cx="387.78" cy="206.64" r="0.76" fill="#c0b0dc" opacity="0.63"/>
<circle cx="363.50" cy="182.86" r="1.48" fill="#c0b0dc" opacity="0.61"/>
<circle cx="374.31" cy="205.63" r="0.80" fill="#e8d8ee" opacity="0.56"/>
<circle cx="381.44" cy="208.56" r="1.06" fill="#b8a8d8" opacity="0.46"/>
<circle cx="383.56" cy="219.60" r="0.68" fill="#b8a8d8" opacity="0.43"/>
<circle cx="370.34" cy="193.25" r="0.67" fill="#c0b0dc" opacity="0.46"/>
<circle cx="395.69" cy="197.25" r="1.56" fill="#c0b0dc" opacity="0.39"/>
<circle cx="399.00" cy="183.55" r="0.98" fill="#d8b8e0" opacity="0.47"/>
<circle cx="384.17" cy="189.54" r="1.27" fill="#b8a8d8" opacity="0.33"/>
<circle cx="374.57" cy="220.93" r="1.36" fill="#c0b0dc" opacity="0.35"/>
<circle cx="389.96" cy="181.85" r="1.06" fill="#d8b8e0" opacity="0.37"/>
<circle cx="383.89" cy="199.74" r="0.79" fill="#e8d8ee" opacity="0.47"/>
<circle cx="376.67" cy="197.59" r="1.59" fill="#c0b0dc" opacity="0.41"/>
<circle cx="400.81" cy="214.34" r="0.90" fill="#c0b0dc" opacity="0.38"/>
<circle cx="377.10" cy="216.43" r="1.24" fill="#c0b0dc" opacity="0.32"/>
<circle cx="366.92" cy="199.50" r="0.61" fill="#b8a8d8" opacity="0.63"/>
<circle cx="376.77" cy="184.45" r="0.81" fill="#e8d8ee" opacity="0.31"/>
<circle cx="376.05" cy="206.91" r="0.73" fill="#d8b8e0" opacity="0.63"/>
<circle cx="366.48" cy="197.23" r="1.23" fill="#b8a8d8" opacity="0.66"/>
<circle cx="394.51" cy="191.63" r="0.79" fill="#e8d8ee" opacity="0.57"/>
<circle cx="376.86" cy="201.18" r="0.68" fill="#c0b0dc" opacity="0.34"/>
<circle cx="362.49" cy="220.87" r="0.84" fill="#d8b8e0" opacity="0.40"/>
<circle cx="394.75" cy="205.86" r="0.89" fill="#e8d8ee" opacity="0.67"/>
<circle cx="401.06" cy="186.58" r="1.08" fill="#c0b0dc" opacity="0.41"/>
<circle cx="398.60" cy="189.76" r="0.62" fill="#b8a8d8" opacity="0.46"/>
<circle cx="371.14" cy="183.31" r="0.88" fill="#e8d8ee" opacity="0.34"/>
<circle cx="366.59" cy="199.86" r="0.93" fill="#e8d8ee" opacity="0.54"/>
<circle cx="398.86" cy="200.87" r="0.96" fill="#b8a8d8" opacity="0.69"/>
<circle cx="361.77" cy="207.48" r="1.08" fill="#b8a8d8" opacity="0.43"/>
<circle cx="401.97" cy="184.49" r="1.15" fill="#c0b0dc" opacity="0.66"/>
<circle cx="391.19" cy="210.25" r="1.39" fill="#b8a8d8" opacity="0.44"/>
<circle cx="389.06" cy="218.33" r="1.47" fill="#d8b8e0" opacity="0.68"/>
<circle cx="362.14" cy="201.90" r="0.61" fill="#d8b8e0" opacity="0.45"/>
<circle cx="361.41" cy="184.36" r="0.69" fill="#c0b0dc" opacity="0.70"/>
<circle cx="397.06" cy="211.26" r="0.99" fill="#d8b8e0" opacity="0.48"/>
<circle cx="395.36" cy="184.84" r="1.35" fill="#c0b0dc" opacity="0.42"/>
<circle cx="364.51" cy="182.31" r="1.56" fill="#c0b0dc" opacity="0.50"/>
<circle cx="386.16" cy="219.14" r="0.86" fill="#c0b0dc" opacity="0.45"/>
<circle cx="366.79" cy="206.48" r="1.12" fill="#b8a8d8" opacity="0.56"/>
<circle cx="379.06" cy="217.96" r="0.93" fill="#b8a8d8" opacity="0.38"/>
<circle cx="378.61" cy="214.45" r="1.51" fill="#e8d8ee" opacity="0.45"/>
<circle cx="384.87" cy="194.38" r="0.74" fill="#d8b8e0" opacity="0.44"/>
<circle cx="397.71" cy="183.06" r="0.66" fill="#b8a8d8" opacity="0.63"/>
<circle cx="365.54" cy="200.73" r="1.53" fill="#d8b8e0" opacity="0.45"/>
<circle cx="382.27" cy="208.96" r="1.32" fill="#d8b8e0" opacity="0.43"/>
<circle cx="394.96" cy="192.80" r="1.21" fill="#b8a8d8" opacity="0.53"/>
<path d="M403.4,212.4Q404.5,213.7 403.5,215.3Q402.5,216.9 400.5,218.3Q398.5,219.7 396.1,219.3Q393.7,218.9 393.2,218.0Q392.7,217.1 392.1,214.5Q391.6,211.8 393.0,210.0Q394.4,208.2 397.1,207.7Q399.8,207.2 401.0,209.2Q402.2,211.1 403.4,212.4Z" fill="#fbf8fb"/>
<path d="M394.6,218.4Q394.4,219.4 394.4,220.2Q394.5,221.1 392.8,222.0Q391.1,222.9 390.3,222.9Q389.4,222.9 388.2,221.6Q387.0,220.4 386.9,219.0Q386.9,217.7 387.7,216.7Q388.5,215.7 390.3,216.0Q392.2,216.2 393.4,216.8Q394.7,217.4 394.6,218.4Z" fill="#f6f0f6"/>
<path d="M388.8,185.9Q389.6,188.1 389.0,191.3Q388.4,194.5 386.5,195.2Q384.6,196.0 381.4,195.4Q378.2,194.8 377.3,192.5Q376.3,190.2 376.8,188.4Q377.2,186.7 378.7,184.6Q380.1,182.6 382.4,182.5Q384.7,182.4 386.4,183.1Q388.0,183.7 388.8,185.9Z" fill="#cea8da"/>
<path d="M388.2,188.8Q389.1,190.8 388.3,192.0Q387.5,193.2 386.1,194.2Q384.6,195.3 382.1,194.3Q379.6,193.3 379.0,192.7Q378.4,192.2 377.9,189.6Q377.5,187.1 379.0,186.2Q380.6,185.2 382.6,185.0Q384.5,184.8 385.9,185.7Q387.2,186.7 388.2,188.8Z" fill="#c66cb0"/>
<path d="M402.7,186.3Q403.5,187.9 402.7,189.7Q401.8,191.4 399.8,193.3Q397.8,195.2 395.1,194.4Q392.4,193.6 391.4,191.5Q390.4,189.3 391.1,187.3Q391.9,185.4 392.3,184.4Q392.7,183.4 395.0,182.6Q397.2,181.8 399.5,183.2Q401.9,184.7 402.7,186.3Z" fill="#cea8da"/>
<path d="M401.5,187.8Q401.8,189.4 401.3,190.3Q400.7,191.3 398.7,192.8Q396.7,194.2 395.7,194.0Q394.6,193.7 393.1,191.4Q391.6,189.1 392.0,187.9Q392.4,186.8 393.3,185.4Q394.2,184.0 396.0,184.1Q397.7,184.2 399.5,185.2Q401.3,186.2 401.5,187.8Z" fill="#c66cb0"/>
<path d="M373.4,196.0Q374.6,197.9 373.5,200.2Q372.5,202.5 370.3,203.2Q368.2,203.9 366.3,203.7Q364.5,203.6 362.6,201.3Q360.7,199.0 361.1,197.9Q361.5,196.7 362.6,195.1Q363.6,193.4 366.8,192.5Q370.0,191.6 371.2,192.9Q372.3,194.2 373.4,196.0Z" fill="#cea8da"/>
<path d="M371.9,196.1Q372.9,197.4 371.7,199.6Q370.5,201.8 369.2,202.2Q367.9,202.6 366.9,202.6Q366.0,202.6 364.5,201.0Q363.0,199.4 362.8,198.1Q362.6,196.8 363.4,195.4Q364.1,194.1 365.9,193.6Q367.6,193.1 369.2,193.9Q370.9,194.8 371.9,196.1Z" fill="#c66cb0"/>
<path d="M390.4,196.8Q390.9,198.3 390.3,200.1Q389.6,201.9 387.6,203.0Q385.5,204.0 383.9,204.2Q382.2,204.3 380.3,202.2Q378.4,200.0 378.7,197.4Q378.9,194.9 380.7,193.7Q382.6,192.6 384.6,192.1Q386.6,191.6 388.3,193.5Q390.0,195.3 390.4,196.8Z" fill="#cea8da"/>
<path d="M388.8,196.1Q390.3,197.7 389.9,199.5Q389.6,201.3 387.0,202.0Q384.5,202.7 383.5,203.0Q382.5,203.2 381.6,201.7Q380.6,200.2 380.4,198.0Q380.3,195.7 381.6,194.9Q382.9,194.0 384.1,193.4Q385.3,192.9 386.3,193.7Q387.3,194.5 388.8,196.1Z" fill="#c66cb0"/>
<path d="M400.9,198.0Q402.4,200.4 400.7,202.2Q399.1,204.1 398.0,205.0Q397.0,206.0 394.9,205.6Q392.8,205.1 392.0,203.7Q391.3,202.4 391.0,200.7Q390.7,199.0 391.9,196.8Q393.1,194.6 395.0,194.6Q397.0,194.5 398.3,195.1Q399.5,195.7 400.9,198.0Z" fill="#cea8da"/>
<path d="M400.0,198.5Q401.1,200.7 399.7,201.8Q398.4,203.0 398.1,203.8Q397.9,204.6 395.7,204.4Q393.5,204.1 392.6,202.9Q391.8,201.7 391.7,200.0Q391.7,198.2 392.9,197.3Q394.1,196.3 395.7,195.6Q397.3,194.9 398.1,195.6Q398.9,196.4 400.0,198.5Z" fill="#c66cb0"/>
<path d="M380.8,201.5Q381.5,204.6 380.9,205.8Q380.2,207.0 378.1,208.4Q375.9,209.7 373.0,209.5Q370.1,209.3 368.9,207.4Q367.7,205.6 368.3,203.4Q368.8,201.1 370.3,199.4Q371.8,197.7 374.8,197.4Q377.8,197.1 378.9,197.7Q380.0,198.3 380.8,201.5Z" fill="#cea8da"/>
<path d="M380.2,202.5Q380.8,204.5 379.6,206.2Q378.4,207.8 376.6,208.9Q374.8,209.9 373.1,209.3Q371.4,208.6 370.6,206.8Q369.7,204.9 370.1,203.3Q370.6,201.7 371.2,200.5Q371.8,199.3 373.2,198.9Q374.5,198.6 377.0,199.5Q379.5,200.4 380.2,202.5Z" fill="#c66cb0"/>
<path d="M391.8,205.1Q393.2,207.0 391.9,209.6Q390.6,212.2 388.7,213.3Q386.8,214.4 384.9,213.8Q383.0,213.2 381.3,210.9Q379.6,208.6 379.8,206.7Q380.1,204.9 382.3,203.7Q384.6,202.5 386.2,201.9Q387.8,201.3 389.1,202.3Q390.5,203.3 391.8,205.1Z" fill="#cea8da"/>
<path d="M390.2,205.1Q390.7,206.9 390.3,208.7Q389.8,210.6 388.8,212.0Q387.9,213.4 385.7,212.8Q383.5,212.3 382.3,210.4Q381.0,208.5 381.4,206.7Q381.8,204.9 383.2,204.3Q384.6,203.7 386.0,203.1Q387.4,202.5 388.5,202.9Q389.7,203.3 390.2,205.1Z" fill="#c66cb0"/>
<path d="M373.6,208.5Q374.8,210.0 374.4,212.2Q374.0,214.3 371.6,215.6Q369.2,216.8 366.7,216.2Q364.2,215.7 363.3,214.5Q362.3,213.3 362.5,211.3Q362.7,209.4 364.2,207.3Q365.7,205.2 367.3,204.8Q368.9,204.4 370.7,205.7Q372.4,207.0 373.6,208.5Z" fill="#cea8da"/>
<path d="M372.9,209.0Q372.9,210.5 373.1,212.2Q373.2,213.9 371.5,215.3Q369.8,216.7 367.8,215.6Q365.8,214.6 364.3,213.2Q362.8,211.7 362.8,211.0Q362.8,210.3 364.3,208.6Q365.8,206.8 368.1,206.8Q370.4,206.8 371.7,207.1Q373.0,207.4 372.9,209.0Z" fill="#c66cb0"/>
<path d="M384.6,212.7Q385.3,215.0 384.2,217.4Q383.1,219.9 381.4,220.0Q379.7,220.1 377.6,219.8Q375.5,219.6 374.7,218.3Q374.0,217.0 373.8,214.6Q373.6,212.2 374.5,210.4Q375.5,208.6 377.7,208.5Q379.9,208.3 381.9,209.4Q384.0,210.5 384.6,212.7Z" fill="#cea8da"/>
<path d="M383.5,213.4Q384.1,215.0 383.2,217.0Q382.4,219.0 380.8,219.0Q379.3,219.0 378.2,219.3Q377.1,219.7 375.5,217.5Q373.8,215.4 374.1,214.2Q374.4,213.0 375.6,211.3Q376.8,209.6 378.5,209.4Q380.2,209.1 381.5,210.5Q382.9,211.8 383.5,213.4Z" fill="#c66cb0"/>
<path d="M375.0,184.7Q376.1,186.1 374.9,188.8Q373.7,191.5 372.9,191.4Q372.0,191.3 370.0,191.6Q368.0,191.8 366.7,190.0Q365.4,188.3 365.5,186.7Q365.6,185.1 366.0,183.9Q366.3,182.7 368.8,182.1Q371.2,181.4 372.6,182.3Q374.0,183.2 375.0,184.7Z" fill="#cea8da"/>
<path d="M373.5,185.1Q374.0,186.3 373.6,188.3Q373.2,190.2 372.3,190.2Q371.5,190.3 369.5,190.2Q367.4,190.2 366.9,189.0Q366.4,187.7 366.5,186.7Q366.5,185.7 367.6,184.5Q368.7,183.2 370.0,182.8Q371.3,182.3 372.2,183.2Q373.0,184.0 373.5,185.1Z" fill="#c66cb0"/>
<path d="M369.3,217.8Q370.6,220.1 369.7,221.3Q368.9,222.5 367.9,223.6Q367.0,224.7 365.2,224.3Q363.5,223.9 361.7,222.4Q360.0,221.0 360.2,219.1Q360.4,217.3 361.8,216.2Q363.1,215.1 364.1,214.5Q365.1,214.0 366.5,214.7Q368.0,215.5 369.3,217.8Z" fill="#cea8da"/>
<path d="M368.3,218.3Q369.0,219.9 368.4,220.6Q367.8,221.3 366.9,222.4Q365.9,223.4 364.6,223.0Q363.4,222.5 362.2,221.4Q361.0,220.4 361.1,218.7Q361.2,217.1 362.4,216.4Q363.7,215.8 364.9,215.8Q366.1,215.9 366.8,216.3Q367.6,216.7 368.3,218.3Z" fill="#c66cb0"/>
<path d="M392.6,217.8Q393.2,219.6 392.6,220.3Q392.0,221.0 390.5,222.1Q389.1,223.1 387.4,222.9Q385.7,222.7 384.6,221.8Q383.4,220.8 383.5,218.4Q383.5,216.0 384.8,214.8Q386.1,213.6 387.1,213.4Q388.0,213.1 390.0,214.6Q392.0,216.1 392.6,217.8Z" fill="#cea8da"/>
<path d="M391.0,216.4Q391.5,217.5 391.1,219.2Q390.7,220.9 389.2,221.6Q387.7,222.3 386.8,221.6Q385.9,220.9 385.0,220.3Q384.1,219.7 384.4,218.8Q384.7,217.9 385.5,216.3Q386.3,214.6 387.0,214.6Q387.8,214.6 389.1,215.0Q390.4,215.3 391.0,216.4Z" fill="#c66cb0"/>
</g>
<text x="364.50" y="187.42" font-size="3.4" text-anchor="start" fill="#444" stroke="#444">50 μm</text>
<line x1="365.50" y1="189.60" x2="371.50" y2="189.60" stroke="#4a1a5a" stroke-width="1.4"/>
</g>
<clipPath id="mc8"><rect x="403.00" y="182.40" width="39.20" height="39.00"/></clipPath>
<g clip-path="url(#mc8)">
<rect x="402.00" y="181.40" width="41.20" height="41.00" fill="#dcc8e6"/>
<g filter="url(#mbE)">
<circle cx="421.55" cy="208.36" r="1.27" fill="#e8d8ee" opacity="0.45"/>
<circle cx="443.06" cy="201.18" r="1.24" fill="#d8b8e0" opacity="0.58"/>
<circle cx="426.78" cy="204.29" r="1.26" fill="#e8d8ee" opacity="0.69"/>
<circle cx="417.15" cy="195.33" r="0.81" fill="#e8d8ee" opacity="0.33"/>
<circle cx="430.30" cy="195.22" r="1.00" fill="#c0b0dc" opacity="0.31"/>
<circle cx="404.50" cy="218.92" r="1.11" fill="#c0b0dc" opacity="0.70"/>
<circle cx="419.46" cy="199.59" r="1.26" fill="#e8d8ee" opacity="0.52"/>
<circle cx="438.34" cy="204.28" r="1.58" fill="#c0b0dc" opacity="0.52"/>
<circle cx="422.90" cy="184.83" r="1.21" fill="#d8b8e0" opacity="0.49"/>
<circle cx="417.84" cy="182.65" r="1.33" fill="#e8d8ee" opacity="0.69"/>
<circle cx="429.34" cy="196.01" r="0.96" fill="#d8b8e0" opacity="0.57"/>
<circle cx="406.69" cy="191.03" r="0.96" fill="#e8d8ee" opacity="0.31"/>
<circle cx="435.89" cy="199.04" r="1.12" fill="#e8d8ee" opacity="0.57"/>
<circle cx="403.79" cy="189.78" r="1.21" fill="#e8d8ee" opacity="0.37"/>
<circle cx="430.67" cy="182.91" r="0.88" fill="#b8a8d8" opacity="0.54"/>
<circle cx="431.91" cy="202.47" r="0.97" fill="#b8a8d8" opacity="0.41"/>
<circle cx="421.62" cy="220.71" r="1.08" fill="#e8d8ee" opacity="0.49"/>
<circle cx="424.61" cy="188.86" r="1.37" fill="#e8d8ee" opacity="0.66"/>
<circle cx="402.27" cy="192.40" r="1.37" fill="#b8a8d8" opacity="0.37"/>
<circle cx="434.75" cy="201.96" r="0.85" fill="#c0b0dc" opacity="0.69"/>
<circle cx="443.14" cy="202.05" r="0.62" fill="#b8a8d8" opacity="0.65"/>
<circle cx="429.55" cy="192.86" r="0.72" fill="#d8b8e0" opacity="0.50"/>
<circle cx="416.57" cy="209.47" r="1.04" fill="#e8d8ee" opacity="0.48"/>
<circle cx="427.42" cy="183.29" r="0.93" fill="#d8b8e0" opacity="0.58"/>
<circle cx="410.82" cy="193.09" r="0.85" fill="#c0b0dc" opacity="0.58"/>
<circle cx="407.43" cy="217.74" r="1.02" fill="#e8d8ee" opacity="0.38"/>
<circle cx="421.44" cy="183.81" r="1.17" fill="#b8a8d8" opacity="0.60"/>
<circle cx="419.21" cy="205.53" r="1.50" fill="#e8d8ee" opacity="0.53"/>
<circle cx="416.32" cy="196.51" r="1.34" fill="#e8d8ee" opacity="0.31"/>
<circle cx="431.26" cy="218.46" r="1.40" fill="#c0b0dc" opacity="0.66"/>
<circle cx="424.04" cy="213.75" r="0.98" fill="#c0b0dc" opacity="0.58"/>
<circle cx="409.78" cy="192.50" r="1.39" fill="#d8b8e0" opacity="0.55"/>
<circle cx="407.14" cy="203.30" r="1.30" fill="#d8b8e0" opacity="0.53"/>
<circle cx="404.96" cy="195.99" r="0.68" fill="#b8a8d8" opacity="0.36"/>
<circle cx="405.73" cy="194.21" r="1.30" fill="#d8b8e0" opacity="0.45"/>
<circle cx="403.23" cy="201.40" r="1.04" fill="#e8d8ee" opacity="0.32"/>
<circle cx="426.48" cy="200.14" r="1.48" fill="#c0b0dc" opacity="0.68"/>
<circle cx="402.32" cy="196.17" r="0.88" fill="#e8d8ee" opacity="0.58"/>
<circle cx="414.20" cy="202.57" r="0.75" fill="#b8a8d8" opacity="0.36"/>
<circle cx="421.14" cy="206.27" r="1.44" fill="#e8d8ee" opacity="0.48"/>
<circle cx="434.36" cy="183.42" r="1.37" fill="#d8b8e0" opacity="0.52"/>
<circle cx="433.37" cy="197.61" r="1.27" fill="#c0b0dc" opacity="0.69"/>
<circle cx="424.82" cy="209.31" r="0.95" fill="#c0b0dc" opacity="0.43"/>
<circle cx="422.60" cy="196.19" r="0.91" fill="#e8d8ee" opacity="0.49"/>
<circle cx="435.00" cy="186.91" r="1.09" fill="#d8b8e0" opacity="0.62"/>
<circle cx="413.77" cy="219.78" r="1.20" fill="#d8b8e0" opacity="0.63"/>
<circle cx="434.52" cy="206.30" r="0.75" fill="#b8a8d8" opacity="0.56"/>
<circle cx="436.72" cy="206.35" r="1.38" fill="#d8b8e0" opacity="0.47"/>
<circle cx="429.13" cy="195.33" r="1.37" fill="#d8b8e0" opacity="0.45"/>
<circle cx="418.46" cy="214.49" r="0.77" fill="#e8d8ee" opacity="0.63"/>
<path d="M422.5,192.3Q423.0,194.0 422.6,196.6Q422.1,199.1 420.7,199.6Q419.2,200.1 417.3,199.8Q415.4,199.4 414.4,197.5Q413.5,195.6 414.2,194.1Q414.8,192.6 415.9,191.3Q417.0,190.0 418.7,190.1Q420.4,190.3 421.2,190.5Q421.9,190.6 422.5,192.3Z" fill="#fdfbfd"/>
<path d="M417.2,206.3Q417.6,207.3 417.3,209.5Q417.1,211.6 415.3,212.1Q413.5,212.6 412.7,211.8Q411.9,210.9 410.9,209.7Q409.8,208.5 410.0,207.5Q410.2,206.6 410.8,205.9Q411.5,205.3 412.6,204.5Q413.7,203.8 415.3,204.5Q416.8,205.3 417.2,206.3Z" fill="#fdfbfd"/>
<path d="M434.5,216.0Q435.2,217.3 434.6,218.9Q433.9,220.4 433.5,220.7Q433.0,220.9 431.9,220.6Q430.8,220.3 429.7,219.3Q428.6,218.3 428.3,217.7Q428.0,217.1 429.2,215.8Q430.4,214.6 431.6,214.7Q432.8,214.8 433.3,214.7Q433.9,214.7 434.5,216.0Z" fill="#fcfafc"/>
<path d="M422.1,201.4Q422.1,202.2 422.0,203.4Q422.0,204.7 420.5,205.5Q419.0,206.3 418.5,206.1Q418.0,205.9 416.6,204.7Q415.3,203.6 415.5,202.2Q415.8,200.8 416.7,199.7Q417.6,198.7 418.7,198.8Q419.8,199.0 420.9,199.8Q422.0,200.6 422.1,201.4Z" fill="#faf6fa"/>
<path d="M418.3,199.4Q418.8,200.3 418.6,201.5Q418.4,202.7 417.2,203.0Q416.1,203.3 415.2,203.0Q414.4,202.7 413.8,202.5Q413.2,202.2 413.0,200.5Q412.8,198.9 413.6,198.7Q414.3,198.4 415.4,198.1Q416.4,197.8 417.1,198.1Q417.8,198.5 418.3,199.4Z" fill="#fcf8fc"/>
<path d="M418.4,189.6Q418.8,191.2 418.2,193.8Q417.6,196.4 415.8,197.8Q414.0,199.2 410.8,198.8Q407.7,198.4 406.7,196.1Q405.8,193.8 406.0,191.3Q406.2,188.9 407.8,188.0Q409.5,187.1 411.1,186.6Q412.8,186.1 415.4,187.0Q418.0,188.0 418.4,189.6Z" fill="#cea8da"/>
<path d="M417.4,191.4Q417.6,192.9 417.1,194.2Q416.6,195.4 414.2,196.4Q411.9,197.4 410.6,197.2Q409.3,197.1 408.5,195.8Q407.7,194.5 407.6,192.5Q407.5,190.5 408.3,189.3Q409.2,188.1 411.8,187.4Q414.5,186.7 415.9,188.3Q417.2,189.9 417.4,191.4Z" fill="#c66cb0"/>
<path d="M432.5,184.7Q433.1,185.5 432.1,189.0Q431.1,192.4 429.3,192.9Q427.5,193.4 425.2,192.4Q422.9,191.4 421.6,190.6Q420.2,189.9 420.8,187.2Q421.5,184.6 422.3,183.1Q423.0,181.6 425.9,181.2Q428.9,180.8 430.3,182.4Q431.8,184.0 432.5,184.7Z" fill="#cea8da"/>
<path d="M430.8,185.2Q431.2,186.9 431.2,188.5Q431.3,190.0 429.7,190.6Q428.1,191.1 426.0,190.9Q424.0,190.7 423.3,189.8Q422.7,188.9 422.4,187.4Q422.2,186.0 423.5,184.2Q424.8,182.5 425.7,182.1Q426.7,181.8 428.5,182.7Q430.4,183.6 430.8,185.2Z" fill="#c66cb0"/>
<path d="M441.7,186.0Q442.9,187.8 442.3,189.7Q441.6,191.7 439.1,193.1Q436.6,194.5 434.7,194.1Q432.8,193.7 431.8,191.6Q430.7,189.5 430.9,188.2Q431.2,186.9 431.7,185.4Q432.2,183.9 434.5,183.1Q436.8,182.3 438.7,183.2Q440.5,184.2 441.7,186.0Z" fill="#cea8da"/>
<path d="M440.5,186.8Q441.1,188.9 440.3,190.2Q439.5,191.4 438.5,192.5Q437.5,193.5 436.2,193.2Q434.8,192.9 433.6,191.4Q432.3,189.9 431.9,188.7Q431.4,187.5 432.8,185.9Q434.1,184.4 435.4,184.4Q436.7,184.4 438.3,184.5Q439.8,184.6 440.5,186.8Z" fill="#c66cb0"/>
<path d="M413.1,201.4Q413.4,202.6 413.2,204.6Q413.0,206.6 410.2,208.0Q407.5,209.4 406.5,208.8Q405.6,208.3 403.8,206.1Q402.0,204.0 402.1,202.9Q402.2,201.8 403.4,199.8Q404.6,197.8 406.5,197.4Q408.4,197.1 410.6,198.7Q412.8,200.3 413.1,201.4Z" fill="#cea8da"/>
<path d="M411.0,201.9Q411.4,203.7 411.6,204.9Q411.9,206.0 410.2,207.0Q408.6,208.0 407.3,207.8Q405.9,207.5 404.4,205.6Q402.8,203.7 402.7,202.1Q402.7,200.5 404.2,199.6Q405.6,198.8 406.4,198.5Q407.1,198.3 408.8,199.2Q410.5,200.2 411.0,201.9Z" fill="#c66cb0"/>
<path d="M429.5,198.2Q429.6,200.1 428.8,202.6Q428.0,205.2 426.6,206.0Q425.2,206.8 423.0,206.8Q420.8,206.8 419.3,204.9Q417.9,203.0 417.9,200.5Q418.0,198.0 418.5,196.3Q419.0,194.5 422.1,194.4Q425.3,194.3 427.4,195.3Q429.5,196.3 429.5,198.2Z" fill="#cea8da"/>
<path d="M428.2,198.3Q429.4,199.5 428.6,201.2Q427.9,202.9 425.8,204.5Q423.7,206.1 422.6,206.0Q421.5,205.8 419.9,203.6Q418.3,201.4 418.4,199.3Q418.5,197.2 419.3,197.1Q420.1,197.1 422.2,196.1Q424.3,195.2 425.7,196.2Q427.0,197.1 428.2,198.3Z" fill="#c66cb0"/>
<path d="M441.4,200.1Q442.0,201.5 441.9,203.9Q441.8,206.4 440.2,207.7Q438.6,208.9 435.4,207.8Q432.2,206.8 431.4,205.9Q430.5,205.1 430.5,202.8Q430.5,200.5 431.3,199.1Q432.2,197.8 435.5,196.9Q438.7,196.0 439.8,197.4Q440.8,198.7 441.4,200.1Z" fill="#cea8da"/>
<path d="M440.7,200.7Q441.6,202.5 441.4,203.8Q441.3,205.0 438.8,205.9Q436.2,206.9 434.9,206.9Q433.5,206.9 432.2,205.0Q430.8,203.1 430.7,202.2Q430.7,201.4 432.3,199.3Q433.9,197.3 436.4,197.1Q438.8,196.9 439.3,197.9Q439.8,198.9 440.7,200.7Z" fill="#c66cb0"/>
<path d="M435.2,205.4Q435.8,207.4 435.4,209.9Q435.0,212.3 432.9,214.1Q430.8,215.8 429.0,215.3Q427.2,214.8 425.2,212.3Q423.1,209.7 423.4,207.8Q423.7,206.0 425.5,204.4Q427.3,202.9 429.6,203.0Q431.9,203.1 433.3,203.3Q434.7,203.4 435.2,205.4Z" fill="#cea8da"/>
<path d="M434.7,207.6Q434.9,208.8 434.4,210.1Q433.8,211.4 431.8,212.3Q429.8,213.2 428.4,213.1Q427.0,212.9 425.7,211.5Q424.3,210.1 424.5,209.0Q424.7,207.9 425.9,206.4Q427.1,205.0 428.4,204.3Q429.8,203.7 432.1,205.0Q434.4,206.4 434.7,207.6Z" fill="#c66cb0"/>
<path d="M415.1,211.9Q415.9,212.9 414.4,216.0Q412.9,219.2 410.9,220.2Q409.0,221.2 407.8,221.0Q406.5,220.8 404.7,219.4Q402.9,218.1 402.8,214.6Q402.7,211.2 404.6,210.0Q406.4,208.8 408.3,207.9Q410.2,207.0 412.2,209.0Q414.2,210.9 415.1,211.9Z" fill="#cea8da"/>
<path d="M414.0,213.0Q415.0,215.5 414.4,216.9Q413.9,218.3 411.8,218.8Q409.7,219.3 407.3,219.1Q404.8,218.9 403.8,217.3Q402.9,215.6 403.6,213.5Q404.3,211.4 405.4,210.4Q406.5,209.4 408.3,209.4Q410.2,209.4 411.6,209.9Q413.1,210.5 414.0,213.0Z" fill="#c66cb0"/>
<path d="M424.2,214.4Q425.0,217.2 424.0,218.5Q422.9,219.7 421.2,220.9Q419.5,222.2 417.3,222.1Q415.1,222.0 413.6,219.9Q412.2,217.8 412.3,215.6Q412.5,213.4 414.4,212.1Q416.3,210.8 417.5,210.1Q418.6,209.4 421.0,210.5Q423.5,211.5 424.2,214.4Z" fill="#cea8da"/>
<path d="M423.0,213.7Q423.9,214.8 423.3,217.4Q422.6,219.9 420.7,220.5Q418.8,221.0 417.4,220.2Q415.9,219.4 415.2,218.9Q414.4,218.4 414.0,215.7Q413.6,213.0 414.6,212.8Q415.6,212.7 416.9,211.5Q418.3,210.4 420.2,211.5Q422.2,212.6 423.0,213.7Z" fill="#c66cb0"/>
<path d="M444.1,212.6Q444.6,213.8 443.5,216.1Q442.4,218.3 440.3,219.0Q438.1,219.7 436.2,219.6Q434.2,219.5 433.3,217.5Q432.3,215.5 432.3,214.2Q432.4,212.9 433.3,211.4Q434.2,210.0 436.2,209.3Q438.2,208.6 441.0,210.0Q443.7,211.3 444.1,212.6Z" fill="#cea8da"/>
<path d="M441.9,213.0Q442.5,214.3 442.2,215.4Q442.0,216.5 440.8,217.6Q439.6,218.6 437.6,218.5Q435.6,218.4 434.3,216.8Q432.9,215.2 433.3,213.4Q433.7,211.7 434.7,211.3Q435.8,210.9 437.8,210.1Q439.9,209.3 440.7,210.5Q441.4,211.8 441.9,213.0Z" fill="#c66cb0"/>
<path d="M409.3,184.3Q410.3,186.7 409.6,187.6Q409.0,188.6 406.8,189.3Q404.7,190.1 404.2,190.0Q403.7,189.9 402.0,188.5Q400.2,187.2 400.1,185.0Q400.0,182.8 401.7,181.6Q403.3,180.3 404.5,180.6Q405.6,180.9 407.0,181.5Q408.4,182.0 409.3,184.3Z" fill="#cea8da"/>
<path d="M407.9,183.6Q408.4,185.1 408.3,186.1Q408.1,187.0 407.3,187.8Q406.4,188.6 405.1,188.6Q403.7,188.5 402.8,187.6Q401.9,186.7 401.6,185.0Q401.3,183.4 402.4,183.0Q403.6,182.6 404.9,182.4Q406.2,182.1 406.8,182.2Q407.4,182.2 407.9,183.6Z" fill="#c66cb0"/>
</g>
</g>
<clipPath id="mc9"><rect x="444.20" y="182.40" width="39.20" height="39.00"/></clipPath>
<g clip-path="url(#mc9)">
<rect x="443.20" y="181.40" width="41.20" height="41.00" fill="#d0b2da"/>
<g filter="url(#mbE)">
<circle cx="453.87" cy="209.50" r="1.28" fill="#e8d8ee" opacity="0.56"/>
<circle cx="470.65" cy="217.04" r="1.24" fill="#e8d8ee" opacity="0.35"/>
<circle cx="465.09" cy="190.17" r="0.89" fill="#d8b8e0" opacity="0.35"/>
<circle cx="471.39" cy="222.32" r="1.59" fill="#e8d8ee" opacity="0.33"/>
<circle cx="475.92" cy="217.82" r="0.86" fill="#d8b8e0" opacity="0.60"/>
<circle cx="482.31" cy="213.94" r="0.86" fill="#e8d8ee" opacity="0.49"/>
<circle cx="474.31" cy="204.53" r="1.03" fill="#b8a8d8" opacity="0.66"/>
<circle cx="469.51" cy="208.27" r="0.95" fill="#b8a8d8" opacity="0.58"/>
<circle cx="466.03" cy="212.08" r="0.73" fill="#d8b8e0" opacity="0.51"/>
<circle cx="455.28" cy="188.76" r="0.96" fill="#b8a8d8" opacity="0.48"/>
<circle cx="468.15" cy="197.63" r="0.73" fill="#d8b8e0" opacity="0.52"/>
<circle cx="466.49" cy="217.75" r="1.30" fill="#e8d8ee" opacity="0.33"/>
<circle cx="470.03" cy="220.50" r="0.99" fill="#d8b8e0" opacity="0.67"/>
<circle cx="444.98" cy="187.21" r="1.41" fill="#d8b8e0" opacity="0.56"/>
<circle cx="449.78" cy="198.35" r="1.47" fill="#b8a8d8" opacity="0.38"/>
<circle cx="478.37" cy="196.77" r="1.32" fill="#e8d8ee" opacity="0.66"/>
<circle cx="472.20" cy="191.14" r="1.10" fill="#c0b0dc" opacity="0.53"/>
<circle cx="467.56" cy="196.13" r="1.33" fill="#b8a8d8" opacity="0.37"/>
<circle cx="451.15" cy="213.68" r="1.16" fill="#e8d8ee" opacity="0.37"/>
<circle cx="460.88" cy="205.80" r="1.41" fill="#c0b0dc" opacity="0.69"/>
<circle cx="477.20" cy="207.85" r="1.13" fill="#e8d8ee" opacity="0.70"/>
<circle cx="448.21" cy="193.76" r="0.87" fill="#c0b0dc" opacity="0.68"/>
<circle cx="464.71" cy="216.32" r="0.64" fill="#b8a8d8" opacity="0.43"/>
<circle cx="463.66" cy="221.16" r="1.12" fill="#d8b8e0" opacity="0.39"/>
<circle cx="451.74" cy="214.15" r="0.98" fill="#e8d8ee" opacity="0.60"/>
<circle cx="453.84" cy="209.45" r="1.45" fill="#b8a8d8" opacity="0.47"/>
<circle cx="452.91" cy="213.09" r="1.19" fill="#d8b8e0" opacity="0.38"/>
<circle cx="457.65" cy="182.96" r="1.00" fill="#c0b0dc" opacity="0.33"/>
<circle cx="445.08" cy="219.17" r="1.25" fill="#b8a8d8" opacity="0.38"/>
<circle cx="463.01" cy="204.14" r="0.93" fill="#b8a8d8" opacity="0.51"/>
<circle cx="482.40" cy="187.48" r="0.65" fill="#b8a8d8" opacity="0.63"/>
<circle cx="452.19" cy="193.84" r="0.99" fill="#c0b0dc" opacity="0.44"/>
<circle cx="447.31" cy="201.53" r="1.19" fill="#d8b8e0" opacity="0.32"/>
<circle cx="465.24" cy="186.70" r="1.40" fill="#b8a8d8" opacity="0.37"/>
<circle cx="479.75" cy="211.73" r="1.50" fill="#e8d8ee" opacity="0.66"/>
<circle cx="471.28" cy="185.08" r="1.53" fill="#c0b0dc" opacity="0.44"/>
<circle cx="476.23" cy="190.16" r="1.32" fill="#e8d8ee" opacity="0.51"/>
<circle cx="481.12" cy="199.46" r="1.17" fill="#c0b0dc" opacity="0.64"/>
<circle cx="480.18" cy="186.13" r="0.74" fill="#b8a8d8" opacity="0.51"/>
<circle cx="455.54" cy="220.84" r="0.90" fill="#c0b0dc" opacity="0.45"/>
<circle cx="481.59" cy="188.25" r="0.62" fill="#b8a8d8" opacity="0.65"/>
<circle cx="484.38" cy="214.57" r="1.02" fill="#b8a8d8" opacity="0.67"/>
<circle cx="444.88" cy="185.28" r="1.01" fill="#d8b8e0" opacity="0.49"/>
<circle cx="454.23" cy="213.58" r="1.05" fill="#c0b0dc" opacity="0.51"/>
<circle cx="465.13" cy="192.73" r="0.83" fill="#e8d8ee" opacity="0.68"/>
<circle cx="482.44" cy="196.77" r="0.76" fill="#d8b8e0" opacity="0.46"/>
<circle cx="449.59" cy="205.11" r="1.56" fill="#d8b8e0" opacity="0.38"/>
<circle cx="458.67" cy="200.92" r="0.79" fill="#c0b0dc" opacity="0.49"/>
<circle cx="463.83" cy="186.54" r="0.61" fill="#e8d8ee" opacity="0.42"/>
<circle cx="479.67" cy="201.77" r="1.12" fill="#c0b0dc" opacity="0.39"/>
<path d="M461.9,202.1Q462.4,203.0 462.3,203.8Q462.1,204.6 461.4,205.1Q460.8,205.5 459.6,205.5Q458.4,205.6 457.9,204.7Q457.5,203.8 457.0,202.6Q456.5,201.5 457.1,200.9Q457.8,200.4 459.0,200.2Q460.1,200.1 460.7,200.6Q461.3,201.1 461.9,202.1Z" fill="#f8f4f8"/>
<path d="M448.4,186.5Q448.8,187.3 448.2,188.1Q447.7,189.0 447.2,189.7Q446.8,190.4 445.3,190.4Q443.9,190.4 443.4,189.2Q443.0,188.0 442.8,186.8Q442.6,185.6 443.4,184.9Q444.3,184.3 445.3,184.3Q446.3,184.3 447.2,184.9Q448.0,185.6 448.4,186.5Z" fill="#f4f0f4"/>
<path d="M460.7,188.0Q461.0,190.1 460.3,193.0Q459.6,195.9 458.6,196.7Q457.5,197.4 454.3,197.0Q451.1,196.6 449.3,194.5Q447.6,192.5 447.7,190.6Q447.8,188.8 449.6,186.9Q451.3,184.9 453.6,184.2Q455.8,183.5 458.1,184.7Q460.4,185.9 460.7,188.0Z" fill="#cea8da"/>
<path d="M459.3,188.8Q460.6,190.4 459.5,192.9Q458.4,195.5 457.2,195.5Q455.9,195.6 454.0,195.6Q452.2,195.6 450.6,193.8Q448.9,192.0 449.6,190.0Q450.3,187.9 451.0,187.0Q451.8,186.2 454.0,186.2Q456.2,186.3 457.1,186.8Q458.1,187.2 459.3,188.8Z" fill="#c868ae"/>
<path d="M469.6,186.7Q470.3,188.1 469.0,190.7Q467.7,193.4 465.8,194.0Q463.9,194.7 462.8,195.0Q461.6,195.2 460.4,193.4Q459.3,191.7 458.9,189.7Q458.5,187.7 459.7,185.6Q460.9,183.6 462.6,183.3Q464.2,182.9 466.6,184.2Q468.9,185.4 469.6,186.7Z" fill="#cea8da"/>
<path d="M468.6,186.6Q469.4,187.9 468.5,190.3Q467.6,192.8 466.1,193.4Q464.6,194.0 462.6,193.5Q460.7,193.0 460.5,191.9Q460.4,190.8 459.9,188.7Q459.5,186.6 460.5,185.2Q461.5,183.8 462.9,183.5Q464.3,183.2 466.1,184.2Q467.9,185.3 468.6,186.6Z" fill="#c868ae"/>
<path d="M480.8,186.8Q481.8,188.9 481.2,191.5Q480.6,194.1 478.1,194.9Q475.6,195.8 474.0,195.1Q472.4,194.4 471.3,192.8Q470.1,191.3 469.9,188.7Q469.7,186.1 470.7,185.2Q471.7,184.2 473.8,183.9Q476.0,183.6 477.9,184.2Q479.7,184.8 480.8,186.8Z" fill="#cea8da"/>
<path d="M479.8,187.5Q481.1,188.6 480.3,190.8Q479.5,193.0 477.8,193.7Q476.1,194.4 474.9,194.3Q473.7,194.1 472.4,193.5Q471.1,192.9 471.2,191.0Q471.4,189.1 472.6,186.8Q473.8,184.5 475.1,184.6Q476.5,184.8 477.6,185.6Q478.6,186.4 479.8,187.5Z" fill="#c868ae"/>
<path d="M455.7,197.0Q456.2,199.2 456.2,200.9Q456.3,202.6 454.5,203.7Q452.7,204.8 449.4,204.6Q446.1,204.5 445.3,203.6Q444.4,202.6 444.2,199.6Q444.1,196.6 446.1,194.6Q448.2,192.6 449.9,192.5Q451.7,192.5 453.4,193.7Q455.1,194.9 455.7,197.0Z" fill="#cea8da"/>
<path d="M455.1,198.0Q455.4,199.9 454.6,200.8Q453.7,201.7 452.0,202.8Q450.3,204.0 449.2,203.6Q448.0,203.3 446.7,202.0Q445.5,200.7 445.6,198.6Q445.6,196.5 446.6,195.4Q447.6,194.2 449.3,194.1Q450.9,194.0 452.9,195.1Q454.8,196.2 455.1,198.0Z" fill="#c868ae"/>
<path d="M468.9,196.2Q469.9,198.8 468.9,200.5Q467.8,202.2 466.4,202.9Q464.9,203.6 462.5,203.6Q460.0,203.5 458.7,201.1Q457.4,198.7 456.9,197.4Q456.5,196.1 457.9,194.0Q459.4,192.0 461.2,191.5Q463.0,191.1 465.4,192.3Q467.8,193.6 468.9,196.2Z" fill="#cea8da"/>
<path d="M467.8,196.2Q467.8,196.8 467.2,199.4Q466.6,202.0 465.2,202.4Q463.7,202.8 462.6,203.0Q461.4,203.1 459.7,201.5Q457.9,199.9 458.2,197.9Q458.5,195.9 460.0,194.8Q461.5,193.6 463.1,193.7Q464.8,193.8 466.2,194.7Q467.7,195.6 467.8,196.2Z" fill="#c868ae"/>
<path d="M482.4,198.2Q483.3,200.0 482.2,202.3Q481.0,204.6 479.8,205.8Q478.6,206.9 475.4,206.2Q472.2,205.5 471.2,204.6Q470.1,203.6 469.8,199.9Q469.6,196.2 471.1,195.6Q472.7,195.0 475.3,194.6Q477.9,194.2 479.7,195.4Q481.5,196.5 482.4,198.2Z" fill="#cea8da"/>
<path d="M479.9,198.6Q480.6,201.3 480.1,203.0Q479.7,204.6 478.9,205.0Q478.1,205.3 475.7,205.4Q473.4,205.5 471.7,203.2Q470.1,200.9 470.3,199.6Q470.5,198.3 471.5,197.1Q472.5,195.9 474.1,195.1Q475.7,194.3 477.4,195.1Q479.2,195.8 479.9,198.6Z" fill="#c868ae"/>
<path d="M461.2,204.8Q461.6,206.1 460.9,208.0Q460.2,210.0 457.9,212.1Q455.6,214.3 452.9,213.4Q450.1,212.5 449.4,210.2Q448.6,207.8 448.5,206.1Q448.4,204.4 449.6,203.4Q450.9,202.4 453.0,201.4Q455.1,200.4 458.0,201.9Q460.9,203.4 461.2,204.8Z" fill="#cea8da"/>
<path d="M459.5,205.8Q459.6,207.4 459.1,209.3Q458.6,211.2 457.7,211.9Q456.7,212.6 454.7,212.3Q452.8,212.0 451.0,210.7Q449.3,209.4 449.4,207.9Q449.5,206.4 450.4,204.5Q451.3,202.6 453.9,202.5Q456.5,202.4 457.9,203.3Q459.3,204.2 459.5,205.8Z" fill="#c868ae"/>
<path d="M476.3,206.4Q477.2,208.7 476.8,211.4Q476.4,214.1 474.1,214.7Q471.9,215.2 469.5,215.0Q467.2,214.7 466.4,213.3Q465.6,211.9 465.2,209.7Q464.8,207.5 466.3,206.2Q467.7,204.9 470.6,204.3Q473.4,203.7 474.5,203.9Q475.5,204.1 476.3,206.4Z" fill="#cea8da"/>
<path d="M476.0,207.8Q476.0,208.7 475.5,211.0Q475.1,213.3 473.1,213.7Q471.1,214.2 469.6,214.3Q468.2,214.4 467.2,213.0Q466.1,211.5 466.1,209.7Q466.1,207.8 467.9,206.4Q469.8,205.0 471.2,204.9Q472.6,204.9 474.3,205.9Q476.0,206.9 476.0,207.8Z" fill="#c868ae"/>
<path d="M454.3,213.6Q455.9,216.6 455.0,218.4Q454.2,220.2 452.7,220.9Q451.2,221.5 449.1,221.6Q447.0,221.6 445.1,219.3Q443.1,216.9 443.3,214.6Q443.5,212.4 444.4,211.6Q445.3,210.8 447.8,210.0Q450.3,209.3 451.5,209.9Q452.7,210.5 454.3,213.6Z" fill="#cea8da"/>
<path d="M453.8,214.5Q453.9,216.6 453.2,217.8Q452.5,218.9 451.8,219.6Q451.0,220.3 449.2,219.9Q447.3,219.6 445.6,218.3Q443.9,216.9 443.6,215.9Q443.2,214.8 444.5,213.4Q445.8,212.1 447.7,211.0Q449.5,209.9 451.5,211.1Q453.6,212.4 453.8,214.5Z" fill="#c868ae"/>
<path d="M466.3,214.2Q467.7,216.4 467.3,218.2Q466.9,220.1 464.9,221.1Q463.0,222.0 459.8,222.0Q456.6,222.0 455.7,220.1Q454.9,218.2 455.0,215.7Q455.2,213.3 456.1,212.7Q457.1,212.1 460.1,211.7Q463.0,211.4 463.9,211.7Q464.8,212.0 466.3,214.2Z" fill="#cea8da"/>
<path d="M465.2,215.8Q466.2,217.7 465.2,219.2Q464.1,220.6 463.5,221.1Q462.9,221.6 460.8,221.8Q458.6,222.0 457.5,219.5Q456.3,217.1 456.4,215.8Q456.5,214.5 456.7,213.4Q457.0,212.3 459.2,212.1Q461.4,211.9 462.8,212.9Q464.2,213.9 465.2,215.8Z" fill="#c868ae"/>
<path d="M482.8,215.1Q483.2,216.4 481.8,218.6Q480.5,220.8 478.7,221.4Q476.9,222.0 475.9,222.0Q474.9,222.0 473.6,220.6Q472.3,219.3 472.0,216.7Q471.7,214.2 472.4,213.0Q473.2,211.9 475.1,211.1Q476.9,210.3 479.6,212.1Q482.3,213.9 482.8,215.1Z" fill="#cea8da"/>
<path d="M481.1,215.1Q481.6,216.4 481.1,217.9Q480.7,219.3 479.6,220.0Q478.5,220.8 476.4,220.6Q474.3,220.4 473.9,219.6Q473.5,218.8 473.3,216.6Q473.1,214.4 474.2,213.2Q475.3,212.0 476.7,212.1Q478.1,212.2 479.3,213.0Q480.6,213.8 481.1,215.1Z" fill="#c868ae"/>
<path d="M487.3,205.7Q488.0,207.4 487.2,208.6Q486.4,209.7 484.2,211.4Q482.0,213.1 480.3,212.5Q478.6,211.8 478.1,211.0Q477.5,210.2 477.1,208.4Q476.6,206.5 478.0,204.8Q479.4,203.0 481.2,202.8Q483.1,202.6 484.9,203.3Q486.6,203.9 487.3,205.7Z" fill="#cea8da"/>
<path d="M485.5,205.8Q486.0,207.3 485.5,208.4Q485.1,209.5 484.2,210.5Q483.4,211.5 481.5,210.8Q479.6,210.1 479.2,209.6Q478.9,209.0 479.0,207.3Q479.1,205.6 479.5,205.1Q479.9,204.5 481.0,204.2Q482.1,203.9 483.5,204.2Q484.9,204.4 485.5,205.8Z" fill="#c868ae"/>
<path d="M469.2,206.6Q469.5,207.6 469.4,208.0Q469.4,208.4 468.9,208.6Q468.4,208.8 467.5,208.8Q466.7,208.9 466.3,208.4Q465.9,208.0 465.9,207.5Q465.9,207.0 466.2,206.4Q466.6,205.8 467.1,205.4Q467.6,205.0 468.2,205.3Q468.8,205.6 469.2,206.6Z" fill="#4e2d6c"/>
<path d="M483.0,217.1Q483.1,217.5 483.0,218.3Q483.0,219.1 482.3,219.1Q481.6,219.2 481.3,219.1Q480.9,219.0 480.6,218.8Q480.4,218.5 480.3,217.8Q480.3,217.1 480.7,216.7Q481.1,216.2 481.5,216.1Q481.8,215.9 482.3,216.3Q482.8,216.8 483.0,217.1Z" fill="#4e2d6c"/>
</g>
</g>
<clipPath id="mc10"><rect x="361.90" y="223.40" width="39.10" height="38.80"/></clipPath>
<g clip-path="url(#mc10)">
<rect x="360.90" y="222.40" width="41.10" height="40.80" fill="#ede6ee"/>
<g filter="url(#mbE)">
<circle cx="365.29" cy="251.07" r="1.19" fill="#e0d8ec" opacity="0.38"/>
<circle cx="371.41" cy="252.35" r="1.19" fill="#f4eef6" opacity="0.44"/>
<circle cx="396.77" cy="238.47" r="1.42" fill="#f4eef6" opacity="0.37"/>
<circle cx="397.95" cy="237.01" r="0.83" fill="#d8cce4" opacity="0.49"/>
<circle cx="367.05" cy="244.89" r="1.20" fill="#e0d8ec" opacity="0.30"/>
<circle cx="363.77" cy="246.67" r="0.63" fill="#f4eef6" opacity="0.36"/>
<circle cx="401.10" cy="238.87" r="1.49" fill="#f4eef6" opacity="0.57"/>
<circle cx="364.78" cy="248.55" r="1.40" fill="#d8cce4" opacity="0.48"/>
<circle cx="386.95" cy="229.79" r="0.69" fill="#f4eef6" opacity="0.45"/>
<circle cx="368.87" cy="240.87" r="0.80" fill="#f4eef6" opacity="0.45"/>
<circle cx="365.11" cy="255.78" r="0.68" fill="#f4eef6" opacity="0.34"/>
<circle cx="367.55" cy="239.20" r="1.22" fill="#d8cce4" opacity="0.33"/>
<circle cx="380.65" cy="250.36" r="1.08" fill="#f4eef6" opacity="0.39"/>
<circle cx="379.80" cy="239.44" r="1.34" fill="#f4eef6" opacity="0.44"/>
<circle cx="370.61" cy="257.71" r="1.45" fill="#e0d8ec" opacity="0.47"/>
<circle cx="381.00" cy="233.28" r="1.00" fill="#d8cce4" opacity="0.42"/>
<circle cx="401.48" cy="223.25" r="1.24" fill="#f4eef6" opacity="0.58"/>
<circle cx="371.73" cy="234.73" r="0.77" fill="#d8cce4" opacity="0.47"/>
<circle cx="393.69" cy="226.29" r="0.69" fill="#e0d8ec" opacity="0.39"/>
<circle cx="401.30" cy="246.31" r="0.85" fill="#f4eef6" opacity="0.60"/>
<circle cx="365.58" cy="261.42" r="1.30" fill="#e0d8ec" opacity="0.37"/>
<circle cx="396.78" cy="233.19" r="0.82" fill="#d8cce4" opacity="0.50"/>
<circle cx="374.55" cy="251.83" r="1.41" fill="#e0d8ec" opacity="0.47"/>
<circle cx="385.39" cy="260.85" r="1.28" fill="#d8cce4" opacity="0.49"/>
<circle cx="369.01" cy="242.40" r="0.82" fill="#f4eef6" opacity="0.46"/>
<circle cx="392.69" cy="235.23" r="1.42" fill="#d8cce4" opacity="0.31"/>
<circle cx="387.33" cy="239.92" r="1.30" fill="#e0d8ec" opacity="0.38"/>
<circle cx="365.14" cy="230.59" r="1.22" fill="#e0d8ec" opacity="0.36"/>
<circle cx="380.92" cy="227.53" r="1.41" fill="#e0d8ec" opacity="0.54"/>
<circle cx="371.45" cy="237.44" r="0.98" fill="#e0d8ec" opacity="0.43"/>
<path d="M386.9,238.5Q388.4,240.0 387.3,242.0Q386.2,243.9 383.9,246.2Q381.7,248.4 379.6,247.5Q377.6,246.5 376.6,244.3Q375.7,242.0 376.0,240.1Q376.3,238.3 377.7,237.2Q379.1,236.2 381.6,236.2Q384.1,236.2 384.8,236.6Q385.4,236.9 386.9,238.5Z" fill="#f7f3f7"/>
<path d="M371.2,228.5Q371.8,230.7 371.3,231.8Q370.9,232.8 369.2,232.9Q367.6,233.1 366.5,232.7Q365.5,232.4 364.8,232.2Q364.2,232.0 364.3,230.5Q364.5,229.1 365.4,227.9Q366.3,226.7 367.9,226.1Q369.5,225.5 370.1,225.9Q370.6,226.2 371.2,228.5Z" fill="#d27ab0"/>
<path d="M373.7,235.6Q374.6,236.8 373.5,238.1Q372.4,239.3 371.9,239.8Q371.5,240.3 370.0,240.5Q368.4,240.7 367.4,239.5Q366.3,238.3 366.3,236.6Q366.3,234.8 366.9,234.5Q367.5,234.2 368.7,233.8Q370.0,233.4 371.4,233.9Q372.8,234.4 373.7,235.6Z" fill="#ce70aa"/>
<path d="M380.0,252.5Q380.3,254.3 380.0,255.1Q379.7,255.9 378.5,257.1Q377.2,258.2 376.2,257.7Q375.1,257.2 373.7,256.2Q372.2,255.3 372.3,254.4Q372.4,253.4 374.0,251.9Q375.6,250.3 376.3,250.0Q377.1,249.8 378.3,250.2Q379.6,250.7 380.0,252.5Z" fill="#d277ae"/>
<path d="M390.8,253.9Q391.9,255.7 391.0,256.4Q390.1,257.2 389.1,257.5Q388.1,257.9 386.7,257.9Q385.3,257.9 384.7,256.7Q384.1,255.5 384.1,254.7Q384.0,253.9 384.7,252.9Q385.3,251.8 386.9,251.4Q388.5,251.0 389.1,251.6Q389.8,252.2 390.8,253.9Z" fill="#cf70a8"/>
<path d="M398.5,253.9Q399.0,255.2 398.9,255.9Q398.8,256.7 397.7,257.4Q396.6,258.1 395.8,257.6Q395.1,257.1 393.9,256.3Q392.8,255.5 393.1,254.7Q393.4,253.8 393.7,253.2Q394.0,252.6 395.0,252.0Q396.0,251.5 397.0,252.0Q398.1,252.6 398.5,253.9Z" fill="#d68ab8"/>
<path d="M385.3,248.8Q385.4,250.5 385.3,251.2Q385.2,251.9 384.0,252.6Q382.9,253.2 382.3,252.8Q381.6,252.3 381.3,251.8Q380.9,251.3 380.6,250.4Q380.2,249.6 380.8,248.6Q381.5,247.6 382.6,247.2Q383.8,246.8 384.5,247.0Q385.2,247.2 385.3,248.8Z" fill="#dd96c0"/>
<path d="M400.4,228.1Q400.9,228.4 400.2,230.0Q399.6,231.7 399.1,231.9Q398.6,232.1 397.1,231.7Q395.6,231.3 395.0,230.4Q394.3,229.5 394.6,229.0Q394.9,228.4 395.7,227.2Q396.5,225.9 397.2,225.9Q397.9,225.9 398.9,226.8Q399.9,227.8 400.4,228.1Z" fill="#e0a8cc"/>
<path d="M394.3,242.4Q394.7,242.8 394.2,243.7Q393.8,244.7 392.9,245.2Q391.9,245.6 391.2,245.7Q390.5,245.7 390.1,244.7Q389.6,243.7 389.6,243.2Q389.6,242.6 389.8,241.9Q390.0,241.2 391.2,240.9Q392.5,240.7 393.3,241.3Q394.0,242.0 394.3,242.4Z" fill="#c8c0dc"/>
<path d="M394.8,232.4Q394.8,233.2 394.8,233.6Q394.7,234.0 394.1,234.3Q393.4,234.5 393.2,234.4Q393.0,234.2 392.4,233.9Q391.8,233.7 392.0,233.1Q392.2,232.4 392.5,231.8Q392.8,231.2 393.4,231.3Q394.1,231.4 394.4,231.4Q394.7,231.5 394.8,232.4Z" fill="#50306a"/>
<path d="M399.4,256.9Q399.6,257.5 399.4,258.3Q399.2,259.0 398.5,259.6Q397.8,260.2 397.2,259.7Q396.5,259.2 396.0,258.9Q395.5,258.7 395.6,258.1Q395.6,257.5 396.3,256.9Q396.9,256.3 397.4,256.1Q397.8,255.9 398.5,256.1Q399.1,256.4 399.4,256.9Z" fill="#553070"/>
<path d="M369.5,247.7Q369.6,248.4 369.3,249.4Q369.0,250.3 368.1,251.1Q367.2,251.9 366.5,251.4Q365.9,251.0 365.0,250.6Q364.2,250.2 364.0,249.1Q363.8,248.0 364.7,247.0Q365.5,246.1 366.8,245.7Q368.1,245.2 368.8,246.1Q369.5,247.0 369.5,247.7Z" fill="#e6c8dc"/>
</g>
</g>
<clipPath id="mc11"><rect x="403.00" y="223.40" width="39.20" height="38.80"/></clipPath>
<g clip-path="url(#mc11)">
<rect x="402.00" y="222.40" width="41.20" height="40.80" fill="#b8a6d6"/>
<g filter="url(#mbE)">
<circle cx="441.77" cy="222.88" r="1.34" fill="#a8a0d8" opacity="0.67"/>
<circle cx="411.84" cy="224.64" r="1.40" fill="#a8a0d8" opacity="0.64"/>
<circle cx="443.19" cy="232.18" r="0.94" fill="#9890d0" opacity="0.44"/>
<circle cx="418.16" cy="236.45" r="1.54" fill="#a8a0d8" opacity="0.65"/>
<circle cx="434.86" cy="231.51" r="1.52" fill="#9890d0" opacity="0.47"/>
<circle cx="425.78" cy="256.70" r="1.09" fill="#d0c0e4" opacity="0.53"/>
<circle cx="416.83" cy="245.64" r="1.53" fill="#9890d0" opacity="0.48"/>
<circle cx="434.01" cy="255.43" r="0.67" fill="#a8a0d8" opacity="0.38"/>
<circle cx="424.00" cy="247.45" r="1.38" fill="#9890d0" opacity="0.31"/>
<circle cx="423.84" cy="228.59" r="1.46" fill="#a8a0d8" opacity="0.46"/>
<circle cx="405.03" cy="252.00" r="1.52" fill="#d0c0e4" opacity="0.46"/>
<circle cx="422.68" cy="229.71" r="1.55" fill="#d0c0e4" opacity="0.33"/>
<circle cx="414.78" cy="229.11" r="1.23" fill="#d0c0e4" opacity="0.66"/>
<circle cx="415.85" cy="240.42" r="0.67" fill="#d0c0e4" opacity="0.49"/>
<circle cx="406.75" cy="242.49" r="0.98" fill="#d0c0e4" opacity="0.67"/>
<circle cx="432.53" cy="234.12" r="0.64" fill="#a8a0d8" opacity="0.68"/>
<circle cx="408.53" cy="242.80" r="1.08" fill="#d0c0e4" opacity="0.32"/>
<circle cx="404.54" cy="256.82" r="1.17" fill="#d0c0e4" opacity="0.39"/>
<circle cx="433.11" cy="240.72" r="1.32" fill="#9890d0" opacity="0.33"/>
<circle cx="402.37" cy="235.99" r="1.25" fill="#d0c0e4" opacity="0.47"/>
<circle cx="404.31" cy="260.55" r="0.90" fill="#d0c0e4" opacity="0.42"/>
<circle cx="435.86" cy="255.07" r="1.49" fill="#d0c0e4" opacity="0.31"/>
<circle cx="429.57" cy="236.60" r="0.99" fill="#9890d0" opacity="0.30"/>
<circle cx="412.34" cy="242.76" r="1.11" fill="#d0c0e4" opacity="0.67"/>
<circle cx="430.20" cy="235.24" r="0.92" fill="#9890d0" opacity="0.44"/>
<circle cx="411.27" cy="260.16" r="1.46" fill="#9890d0" opacity="0.64"/>
<circle cx="432.03" cy="226.82" r="1.44" fill="#9890d0" opacity="0.46"/>
<circle cx="438.03" cy="257.39" r="0.94" fill="#d0c0e4" opacity="0.44"/>
<circle cx="432.39" cy="244.75" r="1.08" fill="#a8a0d8" opacity="0.46"/>
<circle cx="434.47" cy="222.59" r="1.38" fill="#a8a0d8" opacity="0.58"/>
<circle cx="421.03" cy="228.92" r="0.80" fill="#9890d0" opacity="0.52"/>
<circle cx="432.96" cy="237.45" r="0.83" fill="#9890d0" opacity="0.56"/>
<circle cx="427.90" cy="263.02" r="1.32" fill="#9890d0" opacity="0.36"/>
<circle cx="431.15" cy="254.16" r="0.94" fill="#9890d0" opacity="0.69"/>
<circle cx="429.28" cy="239.04" r="0.87" fill="#a8a0d8" opacity="0.60"/>
<circle cx="416.71" cy="230.02" r="1.07" fill="#9890d0" opacity="0.53"/>
<circle cx="410.76" cy="225.14" r="0.85" fill="#9890d0" opacity="0.57"/>
<circle cx="434.72" cy="251.84" r="1.14" fill="#a8a0d8" opacity="0.43"/>
<circle cx="427.29" cy="258.24" r="0.97" fill="#a8a0d8" opacity="0.47"/>
<circle cx="438.14" cy="237.59" r="1.17" fill="#9890d0" opacity="0.37"/>
<circle cx="443.07" cy="259.92" r="1.07" fill="#a8a0d8" opacity="0.47"/>
<circle cx="419.43" cy="260.13" r="1.58" fill="#a8a0d8" opacity="0.57"/>
<circle cx="442.27" cy="240.84" r="1.00" fill="#9890d0" opacity="0.37"/>
<circle cx="429.56" cy="262.96" r="1.21" fill="#d0c0e4" opacity="0.48"/>
<circle cx="415.84" cy="258.57" r="1.20" fill="#d0c0e4" opacity="0.46"/>
<circle cx="435.20" cy="238.93" r="1.24" fill="#a8a0d8" opacity="0.37"/>
<circle cx="441.28" cy="240.76" r="1.08" fill="#9890d0" opacity="0.53"/>
<circle cx="423.42" cy="231.11" r="0.82" fill="#9890d0" opacity="0.50"/>
<circle cx="429.14" cy="250.77" r="1.28" fill="#d0c0e4" opacity="0.66"/>
<circle cx="437.73" cy="232.77" r="1.53" fill="#d0c0e4" opacity="0.66"/>
<path d="M415.2,226.2Q415.9,227.6 414.6,230.4Q413.2,233.2 411.6,234.5Q410.0,235.9 408.3,235.5Q406.7,235.1 405.3,233.4Q403.8,231.6 403.4,228.3Q403.0,225.0 404.5,223.9Q406.0,222.7 407.9,222.7Q409.8,222.7 412.1,223.7Q414.5,224.8 415.2,226.2Z" fill="#c8a8dc"/>
<path d="M413.3,227.2Q414.0,229.4 413.3,230.9Q412.6,232.3 410.8,233.4Q409.1,234.6 407.6,233.6Q406.0,232.7 404.8,232.0Q403.6,231.2 403.8,229.3Q403.9,227.4 404.9,226.4Q406.0,225.5 407.6,224.5Q409.2,223.5 410.9,224.2Q412.6,224.9 413.3,227.2Z" fill="#c866a8"/>
<path d="M427.4,226.2Q428.0,227.6 426.9,230.3Q425.8,232.9 424.7,233.6Q423.6,234.3 421.4,234.0Q419.1,233.7 417.7,232.8Q416.2,231.9 416.7,228.9Q417.3,225.9 418.0,224.7Q418.8,223.5 421.6,223.4Q424.3,223.3 425.6,224.1Q426.9,224.9 427.4,226.2Z" fill="#c8a8dc"/>
<path d="M425.8,227.9Q426.8,229.6 426.2,231.0Q425.6,232.4 424.8,233.0Q423.9,233.6 422.1,233.3Q420.2,233.1 418.9,231.9Q417.5,230.8 417.5,228.9Q417.4,227.0 418.4,226.1Q419.3,225.2 421.3,224.5Q423.2,223.8 424.0,225.0Q424.8,226.1 425.8,227.9Z" fill="#c866a8"/>
<path d="M441.9,227.2Q442.9,230.1 441.6,231.8Q440.4,233.6 439.0,233.9Q437.6,234.1 435.0,233.7Q432.4,233.3 431.8,232.7Q431.1,232.1 430.8,230.1Q430.6,228.2 432.0,225.7Q433.5,223.2 435.2,223.3Q437.0,223.4 439.0,223.9Q441.0,224.4 441.9,227.2Z" fill="#c8a8dc"/>
<path d="M440.1,226.6Q440.5,228.0 440.6,230.0Q440.7,232.0 438.5,233.1Q436.3,234.3 435.7,233.8Q435.0,233.4 433.6,232.4Q432.2,231.3 432.3,229.0Q432.3,226.7 433.3,225.5Q434.3,224.4 435.8,224.4Q437.2,224.4 438.5,224.8Q439.8,225.2 440.1,226.6Z" fill="#c866a8"/>
<path d="M418.9,237.4Q420.3,240.2 419.0,242.0Q417.8,243.7 416.1,244.1Q414.4,244.6 413.0,244.6Q411.7,244.7 409.9,243.2Q408.0,241.8 408.4,238.8Q408.9,235.7 410.3,234.1Q411.8,232.6 413.7,233.0Q415.6,233.5 416.6,234.0Q417.6,234.6 418.9,237.4Z" fill="#c8a8dc"/>
<path d="M417.3,237.3Q418.0,239.5 417.9,240.6Q417.8,241.7 416.3,242.6Q414.9,243.4 413.1,242.9Q411.3,242.4 410.1,240.8Q408.9,239.3 409.1,237.8Q409.3,236.3 410.6,235.6Q411.9,234.8 413.8,234.2Q415.8,233.7 416.2,234.4Q416.6,235.1 417.3,237.3Z" fill="#c866a8"/>
<path d="M439.6,235.7Q440.2,237.7 439.7,240.2Q439.2,242.6 438.0,243.4Q436.9,244.2 434.3,243.6Q431.6,243.1 430.2,241.7Q428.8,240.3 428.9,237.8Q429.0,235.3 430.9,234.2Q432.9,233.1 433.8,233.0Q434.6,232.8 436.8,233.2Q439.0,233.7 439.6,235.7Z" fill="#c8a8dc"/>
<path d="M438.5,236.7Q439.6,238.3 438.8,240.1Q438.0,242.0 436.2,242.7Q434.4,243.5 433.5,242.8Q432.5,242.2 431.5,241.5Q430.4,240.9 430.3,239.0Q430.2,237.1 431.7,235.5Q433.2,233.9 434.7,234.1Q436.3,234.4 436.9,234.7Q437.5,235.1 438.5,236.7Z" fill="#c866a8"/>
<path d="M414.4,247.3Q414.9,249.5 414.4,250.3Q414.0,251.1 411.3,252.7Q408.6,254.2 407.8,254.2Q407.1,254.2 405.2,253.1Q403.3,252.0 403.3,248.8Q403.3,245.6 405.0,244.4Q406.7,243.1 408.9,242.6Q411.1,242.0 412.5,243.6Q413.9,245.1 414.4,247.3Z" fill="#c8a8dc"/>
<path d="M413.6,247.2Q414.7,249.6 413.7,250.5Q412.7,251.4 411.3,252.5Q409.9,253.6 408.2,253.2Q406.5,252.8 405.1,250.9Q403.6,249.0 403.6,247.8Q403.5,246.6 405.4,245.4Q407.4,244.2 408.6,243.9Q409.8,243.6 411.1,244.2Q412.4,244.8 413.6,247.2Z" fill="#c866a8"/>
<path d="M430.4,245.0Q431.2,247.6 430.4,248.6Q429.6,249.5 428.4,250.8Q427.1,252.1 424.5,251.9Q422.0,251.7 420.7,250.3Q419.5,248.9 419.1,246.9Q418.7,244.9 420.1,243.5Q421.5,242.0 424.1,241.2Q426.7,240.3 428.2,241.4Q429.6,242.4 430.4,245.0Z" fill="#c8a8dc"/>
<path d="M429.1,245.0Q429.1,246.1 428.3,248.0Q427.5,249.9 426.4,250.3Q425.3,250.6 424.2,250.8Q423.2,250.9 421.6,249.1Q420.0,247.4 420.6,246.5Q421.2,245.6 422.2,243.8Q423.1,241.9 424.9,242.3Q426.7,242.7 427.9,243.3Q429.1,243.8 429.1,245.0Z" fill="#c866a8"/>
<path d="M422.4,254.5Q423.4,257.5 422.4,259.3Q421.4,261.1 420.4,261.8Q419.5,262.5 416.5,262.2Q413.4,261.8 412.6,260.6Q411.8,259.3 411.5,256.1Q411.3,252.9 412.7,251.6Q414.0,250.4 415.3,250.7Q416.7,250.9 419.1,251.2Q421.5,251.5 422.4,254.5Z" fill="#c8a8dc"/>
<path d="M421.3,255.3Q421.6,256.8 420.7,258.4Q419.9,260.0 419.4,260.7Q418.8,261.3 416.3,261.0Q413.8,260.6 413.1,258.9Q412.4,257.3 412.9,255.7Q413.4,254.1 413.7,253.6Q414.0,253.2 416.3,252.8Q418.6,252.5 419.8,253.1Q421.0,253.7 421.3,255.3Z" fill="#c866a8"/>
<path d="M438.6,252.8Q439.1,253.6 438.3,256.4Q437.5,259.2 435.3,259.8Q433.1,260.4 431.3,260.5Q429.5,260.6 428.7,259.0Q427.8,257.5 427.8,255.0Q427.7,252.5 428.9,250.4Q430.1,248.4 431.9,248.6Q433.7,248.8 435.9,250.4Q438.2,251.9 438.6,252.8Z" fill="#c8a8dc"/>
<path d="M437.4,253.3Q438.1,255.6 437.3,257.0Q436.4,258.4 434.7,259.2Q432.9,260.0 431.9,259.2Q430.8,258.4 429.8,257.3Q428.7,256.1 428.8,254.4Q428.9,252.6 429.6,251.8Q430.4,251.1 431.9,250.6Q433.4,250.2 435.1,250.6Q436.8,251.0 437.4,253.3Z" fill="#c866a8"/>
<path d="M445.1,243.9Q446.2,246.3 445.9,247.5Q445.5,248.6 443.8,249.4Q442.2,250.2 440.3,250.0Q438.3,249.8 437.2,248.5Q436.1,247.2 436.3,245.8Q436.4,244.5 437.3,242.9Q438.2,241.3 439.7,240.8Q441.3,240.3 442.6,240.9Q444.0,241.5 445.1,243.9Z" fill="#c8a8dc"/>
<path d="M444.4,244.3Q444.8,245.3 444.6,246.3Q444.4,247.3 443.1,248.4Q441.8,249.5 440.8,249.1Q439.8,248.8 438.4,247.5Q436.9,246.3 437.1,244.8Q437.4,243.4 438.3,243.0Q439.2,242.5 440.2,242.0Q441.2,241.6 442.6,242.4Q443.9,243.3 444.4,244.3Z" fill="#c866a8"/>
<path d="M430.0,259.5Q430.4,260.6 429.6,262.3Q428.8,264.1 426.9,265.4Q425.0,266.7 423.5,266.3Q421.9,265.8 421.0,264.3Q420.1,262.9 420.3,261.5Q420.6,260.1 422.1,258.6Q423.6,257.1 425.0,257.0Q426.5,256.8 428.0,257.6Q429.6,258.4 430.0,259.5Z" fill="#c8a8dc"/>
<path d="M428.0,260.9Q428.1,261.8 427.6,262.9Q427.2,264.0 426.7,264.7Q426.2,265.5 424.5,264.7Q422.9,264.0 422.2,263.0Q421.6,262.0 421.5,260.9Q421.3,259.8 422.0,259.4Q422.7,258.9 423.9,258.5Q425.0,258.1 426.4,259.0Q427.8,259.9 428.0,260.9Z" fill="#c866a8"/>
<path d="M428.0,237.2Q428.5,238.3 428.1,239.1Q427.7,239.9 426.4,241.0Q425.1,242.0 424.3,241.3Q423.5,240.5 422.9,240.5Q422.4,240.4 422.3,239.0Q422.3,237.6 423.0,236.6Q423.7,235.6 424.5,235.3Q425.3,235.1 426.4,235.6Q427.5,236.2 428.0,237.2Z" fill="#6050a0"/>
<path d="M430.8,234.5Q430.6,235.1 430.6,236.0Q430.6,236.9 429.9,237.0Q429.2,237.1 428.3,237.1Q427.4,237.1 427.2,236.4Q426.9,235.7 427.0,235.5Q427.1,235.2 427.5,234.6Q427.9,234.0 428.6,233.6Q429.4,233.2 430.1,233.6Q430.9,234.0 430.8,234.5Z" fill="#8a80c0"/>
<path d="M407.8,251.9Q408.3,252.9 408.1,254.3Q408.0,255.7 407.1,255.7Q406.2,255.8 405.2,255.6Q404.2,255.4 403.5,254.8Q402.8,254.3 402.8,253.0Q402.8,251.7 403.3,251.3Q403.8,250.9 405.0,250.6Q406.2,250.3 406.8,250.6Q407.4,250.9 407.8,251.9Z" fill="#303080"/>
<path d="M412.4,258.7Q412.9,259.5 412.3,260.4Q411.8,261.2 411.3,261.4Q410.9,261.6 410.4,261.5Q409.9,261.5 409.1,261.0Q408.3,260.5 408.2,259.7Q408.1,259.0 409.0,258.3Q409.8,257.6 410.6,257.7Q411.3,257.7 411.6,257.8Q411.9,257.9 412.4,258.7Z" fill="#302070"/>
<path d="M420.8,243.0Q421.1,243.5 420.8,243.8Q420.5,244.1 419.8,244.9Q419.2,245.7 418.6,245.5Q417.9,245.3 417.7,244.8Q417.5,244.3 417.1,243.4Q416.8,242.6 417.2,242.3Q417.7,241.9 418.6,241.8Q419.4,241.8 420.0,242.1Q420.5,242.5 420.8,243.0Z" fill="#d8d0e8"/>
<path d="M440.7,261.0Q441.0,261.7 440.8,262.0Q440.6,262.2 440.0,262.6Q439.4,263.0 438.6,263.0Q437.8,263.0 437.6,262.6Q437.5,262.3 437.3,261.4Q437.2,260.6 437.7,260.2Q438.1,259.8 438.6,259.7Q439.1,259.6 439.7,259.9Q440.3,260.2 440.7,261.0Z" fill="#e0d8ec"/>
</g>
</g>
<clipPath id="mc12"><rect x="444.20" y="223.40" width="39.20" height="38.80"/></clipPath>
<g clip-path="url(#mc12)">
<rect x="443.20" y="222.40" width="41.20" height="40.80" fill="#e8e0eb"/>
<g filter="url(#mbE)">
<circle cx="458.09" cy="242.00" r="1.02" fill="#f4eef6" opacity="0.30"/>
<circle cx="478.39" cy="251.41" r="0.84" fill="#d0d0e8" opacity="0.30"/>
<circle cx="455.64" cy="236.07" r="0.74" fill="#c8c8e4" opacity="0.54"/>
<circle cx="444.11" cy="231.39" r="1.20" fill="#d0d0e8" opacity="0.66"/>
<circle cx="476.47" cy="249.63" r="0.63" fill="#f4eef6" opacity="0.54"/>
<circle cx="472.19" cy="262.61" r="1.38" fill="#f4eef6" opacity="0.40"/>
<circle cx="475.66" cy="236.59" r="1.02" fill="#c8c8e4" opacity="0.37"/>
<circle cx="466.38" cy="246.01" r="0.88" fill="#d0d0e8" opacity="0.63"/>
<circle cx="475.76" cy="243.75" r="0.83" fill="#d0d0e8" opacity="0.42"/>
<circle cx="456.24" cy="240.91" r="0.76" fill="#f4eef6" opacity="0.59"/>
<circle cx="443.74" cy="256.77" r="1.09" fill="#f4eef6" opacity="0.58"/>
<circle cx="448.27" cy="256.38" r="0.68" fill="#c8c8e4" opacity="0.31"/>
<circle cx="449.13" cy="231.88" r="1.01" fill="#f4eef6" opacity="0.31"/>
<circle cx="444.97" cy="248.93" r="1.20" fill="#f4eef6" opacity="0.50"/>
<circle cx="482.45" cy="254.34" r="1.26" fill="#d0d0e8" opacity="0.39"/>
<circle cx="447.36" cy="226.20" r="0.72" fill="#d0d0e8" opacity="0.46"/>
<circle cx="445.12" cy="256.80" r="1.34" fill="#d0d0e8" opacity="0.68"/>
<circle cx="474.73" cy="228.65" r="1.24" fill="#f4eef6" opacity="0.40"/>
<circle cx="467.18" cy="232.15" r="0.84" fill="#d0d0e8" opacity="0.34"/>
<circle cx="449.27" cy="238.24" r="0.64" fill="#f4eef6" opacity="0.65"/>
<circle cx="462.42" cy="233.00" r="0.66" fill="#c8c8e4" opacity="0.38"/>
<circle cx="470.69" cy="260.14" r="1.10" fill="#d0d0e8" opacity="0.62"/>
<circle cx="447.88" cy="248.21" r="0.88" fill="#f4eef6" opacity="0.47"/>
<circle cx="477.83" cy="232.09" r="1.48" fill="#f4eef6" opacity="0.47"/>
<circle cx="452.46" cy="229.93" r="1.27" fill="#d0d0e8" opacity="0.64"/>
<circle cx="451.80" cy="239.80" r="0.62" fill="#f4eef6" opacity="0.53"/>
<circle cx="483.34" cy="256.98" r="1.35" fill="#f4eef6" opacity="0.59"/>
<circle cx="453.15" cy="248.69" r="0.81" fill="#f4eef6" opacity="0.50"/>
<circle cx="463.40" cy="225.64" r="1.23" fill="#c8c8e4" opacity="0.34"/>
<circle cx="470.40" cy="224.77" r="0.68" fill="#f4eef6" opacity="0.59"/>
<circle cx="445.36" cy="236.06" r="0.77" fill="#c8c8e4" opacity="0.45"/>
<circle cx="454.87" cy="225.04" r="0.79" fill="#d0d0e8" opacity="0.59"/>
<circle cx="469.20" cy="231.44" r="1.00" fill="#c8c8e4" opacity="0.38"/>
<circle cx="454.29" cy="248.52" r="0.99" fill="#d0d0e8" opacity="0.36"/>
<circle cx="482.60" cy="250.63" r="0.82" fill="#c8c8e4" opacity="0.62"/>
<path d="M451.8,238.3Q452.5,239.5 452.0,240.8Q451.5,242.2 450.2,242.3Q448.8,242.5 448.4,242.6Q448.0,242.8 446.5,241.4Q445.0,240.1 445.4,239.1Q445.7,238.2 446.2,237.4Q446.8,236.7 448.3,236.5Q449.9,236.3 450.4,236.7Q451.0,237.1 451.8,238.3Z" fill="#cf78ae"/>
<path d="M468.5,234.2Q468.5,235.0 468.2,236.4Q467.9,237.8 467.2,237.8Q466.4,237.9 464.6,237.9Q462.8,238.0 462.2,237.1Q461.6,236.1 462.0,234.9Q462.4,233.7 463.1,233.1Q463.9,232.6 465.3,232.3Q466.6,232.0 467.5,232.7Q468.4,233.5 468.5,234.2Z" fill="#c968a4"/>
<path d="M464.4,238.5Q465.0,239.3 464.6,240.3Q464.1,241.2 463.5,241.9Q462.9,242.5 461.5,242.4Q460.1,242.3 459.6,241.8Q459.0,241.3 459.1,240.1Q459.2,238.8 459.7,238.1Q460.3,237.4 461.2,237.0Q462.1,236.6 462.9,237.2Q463.7,237.8 464.4,238.5Z" fill="#c86aa4"/>
<path d="M481.2,238.0Q481.1,239.3 481.3,240.0Q481.5,240.7 480.0,241.4Q478.5,242.0 477.5,241.8Q476.5,241.6 476.1,241.0Q475.7,240.4 475.3,239.2Q475.0,238.0 475.7,236.9Q476.4,235.9 477.9,235.6Q479.5,235.3 480.4,236.0Q481.3,236.7 481.2,238.0Z" fill="#d07cb0"/>
<path d="M476.2,245.7Q476.8,246.1 476.6,247.2Q476.4,248.3 474.9,249.2Q473.3,250.1 472.7,249.9Q472.2,249.8 471.2,248.9Q470.2,247.9 470.5,247.3Q470.9,246.6 471.6,245.2Q472.3,243.8 472.8,244.0Q473.3,244.3 474.4,244.8Q475.5,245.4 476.2,245.7Z" fill="#d384b4"/>
<path d="M462.2,249.4Q462.2,250.5 462.0,252.0Q461.7,253.6 460.3,254.2Q458.9,254.8 457.4,254.6Q455.9,254.3 455.4,252.7Q454.9,251.1 454.8,250.5Q454.7,250.0 455.6,248.2Q456.4,246.5 458.1,246.7Q459.7,246.9 461.0,247.6Q462.2,248.3 462.2,249.4Z" fill="#c168a2"/>
<path d="M463.7,249.8Q463.7,250.5 463.5,251.4Q463.3,252.2 462.7,252.3Q462.1,252.4 461.6,252.3Q461.2,252.2 460.6,251.4Q460.0,250.6 460.1,250.0Q460.2,249.5 460.7,249.1Q461.1,248.7 461.4,248.5Q461.7,248.3 462.7,248.7Q463.7,249.1 463.7,249.8Z" fill="#402060"/>
<path d="M478.5,255.1Q478.8,256.7 478.5,257.5Q478.1,258.3 477.4,259.0Q476.7,259.7 475.6,259.9Q474.5,260.1 473.4,259.0Q472.2,258.0 472.8,256.4Q473.3,254.8 474.1,253.9Q474.9,253.0 475.7,253.0Q476.5,252.9 477.4,253.2Q478.3,253.4 478.5,255.1Z" fill="#cf7cb0"/>
<path d="M481.9,228.5Q482.3,229.9 481.8,230.5Q481.4,231.2 480.5,231.8Q479.5,232.4 478.3,232.2Q477.1,232.0 477.1,231.3Q477.0,230.6 477.0,229.6Q477.0,228.6 477.6,227.5Q478.3,226.4 479.2,226.2Q480.2,226.1 480.8,226.7Q481.5,227.2 481.9,228.5Z" fill="#d994c0"/>
<path d="M463.1,231.0Q463.0,231.6 462.8,232.2Q462.6,232.8 461.7,233.4Q460.9,233.9 460.1,233.7Q459.3,233.6 459.1,233.2Q458.9,232.8 458.8,232.0Q458.6,231.3 459.3,230.1Q459.9,229.0 460.5,229.0Q461.0,229.0 462.1,229.7Q463.2,230.4 463.1,231.0Z" fill="#a8acd4"/>
<path d="M452.6,252.2Q453.1,253.1 452.6,254.3Q452.2,255.4 451.1,255.7Q450.1,256.1 449.6,255.9Q449.2,255.7 448.3,254.7Q447.4,253.7 447.3,253.1Q447.3,252.4 447.9,251.4Q448.5,250.4 449.3,250.6Q450.1,250.8 451.1,251.1Q452.0,251.4 452.6,252.2Z" fill="#dcc4dc"/>
<path d="M471.5,257.8Q471.8,259.0 471.8,260.0Q471.7,261.0 471.2,261.8Q470.6,262.6 469.0,262.1Q467.5,261.5 466.7,261.1Q465.9,260.6 466.2,259.6Q466.5,258.6 466.9,257.7Q467.3,256.8 468.9,256.8Q470.4,256.7 470.8,256.7Q471.2,256.6 471.5,257.8Z" fill="#d8b0d0"/>
</g>
</g>
<rect x="361.60" y="182.10" width="122.10" height="80.40" fill="none" stroke="#575757" stroke-width="1.5"/>
<line x1="402.00" y1="182.10" x2="402.00" y2="262.50" stroke="#575757" stroke-width="2.4"/>
<line x1="443.20" y1="182.10" x2="443.20" y2="262.50" stroke="#575757" stroke-width="2.4"/>
<line x1="361.60" y1="222.40" x2="483.70" y2="222.40" stroke="#575757" stroke-width="2.4"/>
<clipPath id="mc13"><rect x="27.10" y="627.70" width="41.60" height="40.90"/></clipPath>
<g clip-path="url(#mc13)">
<rect x="26.10" y="626.70" width="43.60" height="42.90" fill="#c9c0be"/>
<g filter="url(#mb)">
<circle cx="33.29" cy="656.29" r="1.53" fill="#b4b0c0" opacity="0.64"/>
<circle cx="69.25" cy="647.06" r="1.95" fill="#d8d0d0" opacity="0.50"/>
<circle cx="36.39" cy="626.84" r="1.18" fill="#d0c4bc" opacity="0.47"/>
<circle cx="32.42" cy="658.93" r="1.90" fill="#b8a8a4" opacity="0.47"/>
<circle cx="69.50" cy="659.76" r="1.23" fill="#b4b0c0" opacity="0.31"/>
<circle cx="40.44" cy="648.04" r="0.85" fill="#c0b0a0" opacity="0.31"/>
<circle cx="58.41" cy="630.50" r="1.75" fill="#b8a8a4" opacity="0.48"/>
<circle cx="50.17" cy="641.41" r="1.33" fill="#d8d0d0" opacity="0.57"/>
<circle cx="46.59" cy="661.88" r="0.80" fill="#d8d0d0" opacity="0.38"/>
<circle cx="68.34" cy="665.05" r="1.68" fill="#d0c4bc" opacity="0.70"/>
<circle cx="29.19" cy="650.73" r="1.43" fill="#b4b0c0" opacity="0.38"/>
<circle cx="66.35" cy="664.78" r="1.23" fill="#c0b0a0" opacity="0.68"/>
<circle cx="47.96" cy="640.34" r="1.33" fill="#c0b0a0" opacity="0.31"/>
<circle cx="30.17" cy="657.51" r="1.99" fill="#b4b0c0" opacity="0.30"/>
<circle cx="29.16" cy="652.41" r="1.38" fill="#d0c4bc" opacity="0.54"/>
<circle cx="50.36" cy="653.41" r="0.93" fill="#d8d0d0" opacity="0.55"/>
<circle cx="62.45" cy="640.96" r="1.69" fill="#c0b0a0" opacity="0.40"/>
<circle cx="33.45" cy="666.30" r="0.93" fill="#b4b0c0" opacity="0.45"/>
<circle cx="55.89" cy="655.70" r="1.87" fill="#d8d0d0" opacity="0.46"/>
<circle cx="69.23" cy="667.95" r="1.47" fill="#c0b0a0" opacity="0.50"/>
<circle cx="42.47" cy="637.31" r="1.84" fill="#d8d0d0" opacity="0.52"/>
<circle cx="45.25" cy="644.18" r="1.66" fill="#b8a8a4" opacity="0.63"/>
<circle cx="28.37" cy="637.77" r="1.08" fill="#b4b0c0" opacity="0.40"/>
<circle cx="43.30" cy="664.04" r="1.54" fill="#d8d0d0" opacity="0.69"/>
<circle cx="58.62" cy="647.25" r="1.03" fill="#d0c4bc" opacity="0.66"/>
<circle cx="46.99" cy="667.58" r="1.87" fill="#c0b0a0" opacity="0.62"/>
<circle cx="64.53" cy="652.50" r="1.25" fill="#d0c4bc" opacity="0.66"/>
<circle cx="46.89" cy="632.65" r="1.46" fill="#d8d0d0" opacity="0.61"/>
<circle cx="26.55" cy="656.10" r="1.94" fill="#b8a8a4" opacity="0.41"/>
<circle cx="40.32" cy="637.41" r="1.94" fill="#b4b0c0" opacity="0.40"/>
<circle cx="43.78" cy="667.83" r="1.88" fill="#d8d0d0" opacity="0.36"/>
<circle cx="43.41" cy="634.71" r="1.53" fill="#d8d0d0" opacity="0.33"/>
<circle cx="31.29" cy="638.77" r="1.10" fill="#c0b0a0" opacity="0.46"/>
<circle cx="64.81" cy="653.35" r="0.94" fill="#b4b0c0" opacity="0.38"/>
<circle cx="58.55" cy="659.18" r="1.49" fill="#d0c4bc" opacity="0.65"/>
<circle cx="59.86" cy="660.62" r="0.71" fill="#b4b0c0" opacity="0.65"/>
<circle cx="43.45" cy="651.02" r="1.81" fill="#d8d0d0" opacity="0.40"/>
<circle cx="56.48" cy="640.15" r="0.75" fill="#b4b0c0" opacity="0.36"/>
<circle cx="57.76" cy="669.19" r="1.76" fill="#d0c4bc" opacity="0.50"/>
<circle cx="51.08" cy="650.10" r="0.78" fill="#d0c4bc" opacity="0.59"/>
<circle cx="68.27" cy="640.01" r="1.61" fill="#d0c4bc" opacity="0.60"/>
<circle cx="34.36" cy="653.15" r="1.12" fill="#d8d0d0" opacity="0.44"/>
<circle cx="39.97" cy="669.31" r="0.84" fill="#b8a8a4" opacity="0.56"/>
<circle cx="53.42" cy="661.35" r="1.97" fill="#d0c4bc" opacity="0.55"/>
<circle cx="26.96" cy="654.36" r="1.28" fill="#d0c4bc" opacity="0.51"/>
<circle cx="64.28" cy="629.72" r="0.73" fill="#b4b0c0" opacity="0.32"/>
<circle cx="38.12" cy="651.99" r="1.23" fill="#b4b0c0" opacity="0.48"/>
<circle cx="36.41" cy="643.23" r="1.33" fill="#b8a8a4" opacity="0.31"/>
<circle cx="33.64" cy="642.70" r="1.49" fill="#d8d0d0" opacity="0.61"/>
<circle cx="53.43" cy="659.24" r="1.57" fill="#d0c4bc" opacity="0.58"/>
<circle cx="55.88" cy="637.22" r="1.89" fill="#b4b0c0" opacity="0.42"/>
<circle cx="42.75" cy="649.19" r="1.62" fill="#b8a8a4" opacity="0.36"/>
<circle cx="34.91" cy="664.27" r="1.63" fill="#b8a8a4" opacity="0.52"/>
<circle cx="29.57" cy="639.68" r="1.93" fill="#b4b0c0" opacity="0.69"/>
<circle cx="69.30" cy="633.84" r="1.26" fill="#c0b0a0" opacity="0.45"/>
<circle cx="51.46" cy="634.80" r="0.81" fill="#b8a8a4" opacity="0.43"/>
<circle cx="37.18" cy="662.97" r="0.90" fill="#d0c4bc" opacity="0.38"/>
<circle cx="52.17" cy="638.60" r="1.19" fill="#b4b0c0" opacity="0.49"/>
<circle cx="45.15" cy="653.17" r="1.06" fill="#d8d0d0" opacity="0.57"/>
<circle cx="53.21" cy="630.95" r="1.97" fill="#d8d0d0" opacity="0.31"/>
<circle cx="61.43" cy="666.80" r="1.62" fill="#b8a8a4" opacity="0.33"/>
<circle cx="51.39" cy="643.78" r="1.27" fill="#b4b0c0" opacity="0.40"/>
<circle cx="26.43" cy="650.05" r="0.82" fill="#c0b0a0" opacity="0.38"/>
<circle cx="42.26" cy="626.83" r="0.92" fill="#d0c4bc" opacity="0.62"/>
<circle cx="61.95" cy="649.41" r="0.76" fill="#d8d0d0" opacity="0.47"/>
<circle cx="64.58" cy="637.18" r="1.45" fill="#d0c4bc" opacity="0.67"/>
<circle cx="64.62" cy="627.46" r="1.46" fill="#b8a8a4" opacity="0.47"/>
<circle cx="62.41" cy="669.13" r="1.56" fill="#d8d0d0" opacity="0.32"/>
<circle cx="61.64" cy="652.72" r="1.51" fill="#b4b0c0" opacity="0.57"/>
<circle cx="55.58" cy="633.25" r="0.90" fill="#c0b0a0" opacity="0.42"/>
<path d="M57.2,663.6Q57.8,664.8 57.0,666.7Q56.2,668.7 55.2,669.0Q54.1,669.4 52.8,669.3Q51.5,669.2 50.4,667.3Q49.3,665.3 50.0,664.4Q50.6,663.5 52.6,662.5Q54.6,661.5 55.6,662.0Q56.7,662.4 57.2,663.6Z" fill="none" stroke="#a89088" stroke-width="0.8" opacity="0.35"/>
<path d="M61.6,647.8Q62.2,649.9 62.0,650.7Q61.8,651.4 60.0,652.5Q58.2,653.6 57.0,653.2Q55.7,652.9 55.0,651.1Q54.4,649.3 55.0,647.4Q55.7,645.5 57.4,645.2Q59.2,644.9 60.1,645.3Q61.0,645.6 61.6,647.8Z" fill="none" stroke="#a89088" stroke-width="0.8" opacity="0.35"/>
<path d="M72.0,648.7Q72.6,651.2 71.4,653.5Q70.2,655.9 67.8,655.7Q65.4,655.5 63.6,655.2Q61.8,654.9 60.4,652.1Q59.1,649.3 60.7,647.1Q62.2,645.0 65.0,644.0Q67.7,643.0 69.6,644.6Q71.4,646.1 72.0,648.7Z" fill="none" stroke="#a89088" stroke-width="0.8" opacity="0.35"/>
<path d="M76.3,649.1Q77.5,651.4 76.2,652.9Q74.9,654.4 72.9,655.4Q70.9,656.4 68.3,655.9Q65.7,655.3 65.3,653.2Q64.9,651.0 65.1,649.2Q65.3,647.4 68.1,646.2Q70.8,645.0 73.0,645.9Q75.1,646.8 76.3,649.1Z" fill="none" stroke="#a89088" stroke-width="0.8" opacity="0.35"/>
<path d="M34.7,666.0Q35.5,668.5 34.9,669.4Q34.3,670.3 32.2,671.7Q30.2,673.1 27.7,672.0Q25.3,670.9 25.0,668.9Q24.8,667.0 25.4,665.3Q26.0,663.7 28.0,662.9Q30.0,662.1 32.0,662.8Q34.0,663.5 34.7,666.0Z" fill="none" stroke="#a89088" stroke-width="0.8" opacity="0.35"/>
<path d="M32.0,661.4Q32.7,663.6 31.7,665.6Q30.7,667.7 28.9,668.0Q27.1,668.2 25.4,668.0Q23.7,667.8 22.3,665.1Q20.9,662.4 22.4,660.2Q24.0,658.1 24.9,657.3Q25.9,656.6 28.6,657.9Q31.4,659.3 32.0,661.4Z" fill="none" stroke="#a89088" stroke-width="0.8" opacity="0.35"/>
<path d="M33.7,640.3Q34.0,642.3 33.3,644.6Q32.6,646.8 29.9,647.9Q27.3,649.1 24.6,647.7Q21.9,646.2 21.7,644.5Q21.5,642.7 22.5,639.8Q23.4,636.8 26.2,636.6Q28.9,636.5 31.1,637.4Q33.4,638.3 33.7,640.3Z" fill="none" stroke="#a89088" stroke-width="0.8" opacity="0.35"/>
<path d="M33.3,636.8Q34.9,638.4 34.2,640.9Q33.5,643.3 31.3,644.2Q29.2,645.0 27.1,644.6Q25.1,644.3 24.1,641.6Q23.2,638.9 24.1,637.1Q25.0,635.2 27.0,634.5Q29.0,633.8 30.4,634.5Q31.8,635.2 33.3,636.8Z" fill="none" stroke="#a89088" stroke-width="0.8" opacity="0.35"/>
<path d="M32.7,654.8Q33.4,655.9 32.1,658.2Q30.7,660.5 28.9,661.4Q27.1,662.3 25.6,661.5Q24.1,660.8 23.5,658.3Q22.8,655.8 23.5,654.3Q24.2,652.9 25.8,652.4Q27.4,651.9 29.7,652.8Q32.0,653.7 32.7,654.8Z" fill="none" stroke="#a89088" stroke-width="0.8" opacity="0.35"/>
<path d="M49.1,647.2Q50.0,649.4 49.5,650.8Q49.0,652.3 47.8,652.9Q46.6,653.5 44.7,652.6Q42.8,651.6 42.2,650.2Q41.6,648.8 42.5,647.0Q43.3,645.2 44.4,644.8Q45.6,644.4 46.9,644.8Q48.2,645.1 49.1,647.2Z" fill="none" stroke="#a89088" stroke-width="0.8" opacity="0.35"/>
<path d="M48.7,649.0Q48.9,649.5 48.6,650.2Q48.2,650.9 48.1,651.1Q47.9,651.3 47.3,651.3Q46.8,651.3 46.4,650.7Q45.9,650.1 45.9,649.6Q45.8,649.1 46.1,648.9Q46.3,648.7 47.0,648.6Q47.6,648.5 48.0,648.5Q48.4,648.6 48.7,649.0Z" fill="#6a4a50"/>
<path d="M64.9,646.7Q65.4,648.7 64.6,649.5Q63.8,650.3 63.2,650.9Q62.6,651.5 60.9,651.2Q59.2,650.8 58.8,649.8Q58.5,648.7 58.0,647.7Q57.5,646.6 58.8,645.6Q60.1,644.5 60.9,644.1Q61.7,643.7 63.0,644.2Q64.3,644.6 64.9,646.7Z" fill="#8a90b0"/>
<path d="M58.3,646.8Q58.7,647.6 58.3,648.0Q57.9,648.5 57.5,648.9Q57.1,649.4 56.3,649.1Q55.5,648.9 55.2,648.3Q55.0,647.6 54.9,647.3Q54.9,646.9 55.1,646.2Q55.3,645.5 56.2,645.6Q57.1,645.6 57.5,645.9Q57.8,646.1 58.3,646.8Z" fill="#7a6a70"/>
<path d="M45.5,660.4Q45.9,662.3 45.3,663.8Q44.7,665.3 41.9,666.9Q39.0,668.5 36.9,668.1Q34.9,667.7 33.6,665.9Q32.4,664.2 32.8,662.1Q33.1,660.0 34.5,658.0Q35.8,656.1 37.7,655.8Q39.7,655.5 42.4,657.0Q45.1,658.5 45.5,660.4Z" fill="#d2d0d4" opacity="0.8"/>
<path d="M61.7,661.5Q62.0,663.0 62.5,665.1Q62.9,667.3 60.8,668.6Q58.7,669.9 56.7,669.7Q54.7,669.6 52.9,667.8Q51.0,666.1 51.4,663.9Q51.7,661.7 52.6,660.2Q53.4,658.7 56.3,658.2Q59.2,657.7 60.3,658.8Q61.4,660.0 61.7,661.5Z" fill="#d0d0d6" opacity="0.7"/>
<path d="M53.4,634.6Q54.6,636.8 54.2,637.6Q53.7,638.3 51.5,639.7Q49.3,641.0 47.3,640.4Q45.2,639.8 44.5,639.1Q43.9,638.4 44.2,636.4Q44.5,634.5 46.2,633.0Q47.9,631.5 48.8,631.0Q49.7,630.5 51.0,631.4Q52.3,632.4 53.4,634.6Z" fill="#cdb8a8" opacity="0.6"/>
</g>
<text x="29.90" y="633.19" font-size="3.6" text-anchor="start" fill="#222" stroke="#222">50 μm</text>
<line x1="30.50" y1="635.30" x2="37.90" y2="635.30" stroke="#222" stroke-width="1.1"/>
</g>
<rect x="27.10" y="627.70" width="41.60" height="40.90" fill="none" stroke="#484848" stroke-width="1.3"/>
<clipPath id="mc14"><rect x="70.80" y="627.70" width="41.20" height="40.90"/></clipPath>
<g clip-path="url(#mc14)">
<rect x="69.80" y="626.70" width="43.20" height="42.90" fill="#c9bebc"/>
<g filter="url(#mb)">
<circle cx="111.19" cy="632.72" r="0.73" fill="#b4b0c0" opacity="0.37"/>
<circle cx="75.01" cy="654.65" r="1.15" fill="#b8a8a4" opacity="0.39"/>
<circle cx="111.25" cy="640.40" r="1.48" fill="#d0c4bc" opacity="0.57"/>
<circle cx="109.71" cy="657.08" r="0.76" fill="#b8a8a4" opacity="0.54"/>
<circle cx="83.22" cy="634.86" r="1.80" fill="#d0c4bc" opacity="0.51"/>
<circle cx="101.29" cy="668.87" r="1.94" fill="#b8a8a4" opacity="0.58"/>
<circle cx="96.25" cy="637.79" r="1.94" fill="#c0b0a0" opacity="0.66"/>
<circle cx="107.41" cy="667.72" r="1.37" fill="#c0b0a0" opacity="0.63"/>
<circle cx="98.64" cy="634.64" r="0.76" fill="#d0c4bc" opacity="0.66"/>
<circle cx="87.92" cy="637.49" r="1.07" fill="#b4b0c0" opacity="0.46"/>
<circle cx="109.74" cy="634.63" r="1.43" fill="#b4b0c0" opacity="0.53"/>
<circle cx="82.64" cy="652.25" r="1.41" fill="#b4b0c0" opacity="0.60"/>
<circle cx="108.65" cy="645.03" r="0.82" fill="#b4b0c0" opacity="0.44"/>
<circle cx="88.45" cy="643.98" r="1.91" fill="#d8d0d0" opacity="0.50"/>
<circle cx="87.11" cy="630.84" r="1.86" fill="#d8d0d0" opacity="0.31"/>
<circle cx="86.05" cy="634.37" r="1.88" fill="#d8d0d0" opacity="0.48"/>
<circle cx="72.51" cy="632.47" r="1.71" fill="#d8d0d0" opacity="0.56"/>
<circle cx="74.16" cy="635.07" r="0.86" fill="#d8d0d0" opacity="0.67"/>
<circle cx="89.70" cy="663.02" r="1.35" fill="#d0c4bc" opacity="0.35"/>
<circle cx="82.08" cy="656.04" r="1.82" fill="#b4b0c0" opacity="0.59"/>
<circle cx="97.59" cy="641.88" r="1.72" fill="#d0c4bc" opacity="0.40"/>
<circle cx="74.96" cy="634.72" r="1.16" fill="#b8a8a4" opacity="0.44"/>
<circle cx="77.20" cy="656.39" r="1.26" fill="#c0b0a0" opacity="0.37"/>
<circle cx="73.10" cy="634.88" r="1.58" fill="#d8d0d0" opacity="0.51"/>
<circle cx="90.82" cy="629.62" r="0.73" fill="#b8a8a4" opacity="0.53"/>
<circle cx="96.52" cy="643.98" r="0.85" fill="#d0c4bc" opacity="0.63"/>
<circle cx="71.45" cy="642.91" r="1.80" fill="#b8a8a4" opacity="0.38"/>
<circle cx="102.36" cy="653.94" r="0.76" fill="#b4b0c0" opacity="0.49"/>
<circle cx="80.56" cy="636.60" r="1.05" fill="#b8a8a4" opacity="0.67"/>
<circle cx="94.25" cy="634.35" r="1.95" fill="#c0b0a0" opacity="0.32"/>
<circle cx="91.35" cy="652.60" r="0.75" fill="#b4b0c0" opacity="0.58"/>
<circle cx="81.77" cy="659.67" r="0.98" fill="#b4b0c0" opacity="0.64"/>
<circle cx="79.88" cy="649.63" r="0.88" fill="#c0b0a0" opacity="0.40"/>
<circle cx="111.75" cy="656.27" r="1.61" fill="#d0c4bc" opacity="0.56"/>
<circle cx="77.38" cy="661.13" r="1.86" fill="#d0c4bc" opacity="0.56"/>
<circle cx="81.85" cy="662.93" r="1.04" fill="#c0b0a0" opacity="0.41"/>
<circle cx="76.67" cy="662.68" r="1.36" fill="#b4b0c0" opacity="0.63"/>
<circle cx="111.87" cy="634.87" r="1.23" fill="#b8a8a4" opacity="0.45"/>
<circle cx="98.13" cy="635.06" r="0.91" fill="#b8a8a4" opacity="0.67"/>
<circle cx="84.41" cy="629.03" r="1.38" fill="#d8d0d0" opacity="0.38"/>
<circle cx="85.44" cy="667.57" r="0.70" fill="#c0b0a0" opacity="0.61"/>
<circle cx="70.74" cy="667.39" r="1.59" fill="#b8a8a4" opacity="0.34"/>
<circle cx="72.68" cy="634.35" r="1.36" fill="#c0b0a0" opacity="0.66"/>
<circle cx="87.60" cy="653.40" r="1.66" fill="#c0b0a0" opacity="0.43"/>
<circle cx="99.01" cy="660.72" r="0.77" fill="#d8d0d0" opacity="0.62"/>
<circle cx="97.98" cy="640.49" r="1.07" fill="#d8d0d0" opacity="0.40"/>
<circle cx="74.89" cy="640.20" r="1.86" fill="#c0b0a0" opacity="0.35"/>
<circle cx="108.98" cy="662.08" r="1.89" fill="#d8d0d0" opacity="0.49"/>
<circle cx="87.72" cy="641.89" r="1.76" fill="#c0b0a0" opacity="0.39"/>
<circle cx="79.62" cy="653.35" r="1.89" fill="#b8a8a4" opacity="0.49"/>
<circle cx="81.89" cy="649.99" r="0.82" fill="#d8d0d0" opacity="0.60"/>
<circle cx="93.83" cy="645.78" r="1.03" fill="#d8d0d0" opacity="0.63"/>
<circle cx="74.70" cy="647.32" r="1.74" fill="#d0c4bc" opacity="0.45"/>
<circle cx="98.95" cy="635.54" r="0.87" fill="#d0c4bc" opacity="0.66"/>
<circle cx="88.55" cy="649.81" r="1.21" fill="#b4b0c0" opacity="0.62"/>
<circle cx="98.78" cy="642.18" r="1.07" fill="#b8a8a4" opacity="0.67"/>
<circle cx="74.78" cy="662.88" r="1.68" fill="#b8a8a4" opacity="0.39"/>
<circle cx="90.21" cy="653.98" r="1.52" fill="#b8a8a4" opacity="0.60"/>
<circle cx="76.78" cy="660.50" r="1.40" fill="#d0c4bc" opacity="0.58"/>
<circle cx="110.10" cy="641.17" r="1.22" fill="#d0c4bc" opacity="0.59"/>
<circle cx="103.32" cy="655.34" r="1.29" fill="#b4b0c0" opacity="0.40"/>
<circle cx="107.33" cy="660.28" r="0.99" fill="#d0c4bc" opacity="0.41"/>
<circle cx="82.38" cy="628.68" r="1.91" fill="#d0c4bc" opacity="0.52"/>
<circle cx="85.12" cy="660.93" r="1.18" fill="#b8a8a4" opacity="0.53"/>
<circle cx="79.64" cy="644.53" r="0.87" fill="#d8d0d0" opacity="0.32"/>
<circle cx="95.93" cy="639.91" r="1.71" fill="#d8d0d0" opacity="0.62"/>
<circle cx="91.79" cy="666.08" r="1.21" fill="#b8a8a4" opacity="0.45"/>
<circle cx="97.84" cy="637.89" r="0.71" fill="#b4b0c0" opacity="0.70"/>
<circle cx="84.30" cy="647.44" r="0.91" fill="#d0c4bc" opacity="0.36"/>
<circle cx="74.12" cy="642.61" r="1.32" fill="#d8d0d0" opacity="0.59"/>
<path d="M105.9,654.1Q106.0,655.8 104.9,658.1Q103.7,660.4 101.4,661.2Q99.1,662.0 97.3,660.9Q95.5,659.8 95.2,658.0Q94.9,656.1 95.2,653.5Q95.5,650.9 97.7,650.0Q99.9,649.0 102.8,650.7Q105.7,652.3 105.9,654.1Z" fill="none" stroke="#a89088" stroke-width="0.8" opacity="0.35"/>
<path d="M79.1,661.5Q80.0,663.3 78.7,666.1Q77.4,669.0 74.9,669.8Q72.3,670.7 70.6,669.7Q68.9,668.7 67.7,667.2Q66.6,665.7 67.0,663.0Q67.3,660.4 70.7,659.3Q74.0,658.1 76.1,658.9Q78.2,659.7 79.1,661.5Z" fill="none" stroke="#a89088" stroke-width="0.8" opacity="0.35"/>
<path d="M89.1,624.4Q90.0,626.2 89.6,628.8Q89.2,631.3 86.5,632.1Q83.8,632.9 82.9,632.2Q82.1,631.4 81.0,629.6Q79.8,627.7 80.4,625.8Q81.0,624.0 82.4,622.5Q83.8,621.0 86.0,621.8Q88.3,622.6 89.1,624.4Z" fill="none" stroke="#a89088" stroke-width="0.8" opacity="0.35"/>
<path d="M102.5,646.1Q102.7,647.8 102.2,649.1Q101.6,650.5 99.7,651.7Q97.9,653.0 96.6,652.2Q95.3,651.5 94.1,650.0Q92.9,648.5 93.9,646.0Q94.9,643.5 96.3,642.9Q97.6,642.3 100.0,643.4Q102.3,644.4 102.5,646.1Z" fill="none" stroke="#a89088" stroke-width="0.8" opacity="0.35"/>
<path d="M94.4,651.1Q94.7,652.4 93.7,654.8Q92.6,657.1 91.8,657.8Q90.9,658.6 88.4,657.7Q85.8,656.8 84.7,654.8Q83.5,652.8 85.2,650.8Q86.9,648.9 87.9,648.0Q88.9,647.2 91.5,648.5Q94.1,649.8 94.4,651.1Z" fill="none" stroke="#a89088" stroke-width="0.8" opacity="0.35"/>
<path d="M104.6,627.7Q105.7,629.8 105.0,633.2Q104.3,636.7 101.3,637.2Q98.4,637.6 96.7,637.0Q95.0,636.5 94.0,633.5Q93.0,630.5 94.2,628.1Q95.5,625.7 97.2,624.9Q98.9,624.1 101.1,624.9Q103.4,625.7 104.6,627.7Z" fill="none" stroke="#a89088" stroke-width="0.8" opacity="0.35"/>
<path d="M80.3,627.5Q80.8,630.1 79.4,631.8Q78.1,633.5 77.0,633.8Q75.8,634.2 72.6,633.2Q69.5,632.3 69.1,631.3Q68.7,630.3 69.6,627.2Q70.5,624.1 72.5,623.3Q74.5,622.6 77.2,623.7Q79.9,624.9 80.3,627.5Z" fill="none" stroke="#a89088" stroke-width="0.8" opacity="0.35"/>
<path d="M81.4,635.7Q81.8,636.5 81.2,638.8Q80.6,641.2 78.6,641.8Q76.7,642.4 74.7,641.2Q72.7,640.0 72.0,639.0Q71.2,638.1 72.1,636.6Q72.9,635.2 75.0,634.2Q77.1,633.2 79.0,634.0Q80.9,634.9 81.4,635.7Z" fill="none" stroke="#a89088" stroke-width="0.8" opacity="0.35"/>
<path d="M91.3,639.9Q91.6,641.6 90.5,644.0Q89.3,646.4 88.0,646.6Q86.6,646.8 84.6,645.9Q82.5,645.0 82.0,642.7Q81.5,640.4 82.0,638.7Q82.5,637.0 84.2,636.3Q85.9,635.7 88.5,637.0Q91.0,638.2 91.3,639.9Z" fill="none" stroke="#a89088" stroke-width="0.8" opacity="0.35"/>
<path d="M118.5,638.3Q119.3,640.4 118.3,642.7Q117.2,644.9 115.0,646.0Q112.8,647.2 110.3,646.1Q107.8,645.1 107.0,642.5Q106.3,640.0 106.7,638.6Q107.1,637.3 109.1,635.6Q111.1,634.0 114.3,635.1Q117.6,636.2 118.5,638.3Z" fill="none" stroke="#a89088" stroke-width="0.8" opacity="0.35"/>
<path d="M94.8,660.3Q94.9,661.5 94.6,663.1Q94.3,664.7 92.8,665.5Q91.3,666.3 89.6,665.3Q87.9,664.3 87.4,663.8Q86.8,663.3 86.2,662.0Q85.6,660.8 87.0,659.3Q88.5,657.8 89.6,657.6Q90.7,657.4 92.7,658.3Q94.7,659.1 94.8,660.3Z" fill="#5c5c8e"/>
<path d="M100.7,637.8Q100.5,638.6 100.3,639.9Q100.0,641.2 99.2,641.8Q98.4,642.3 96.9,642.5Q95.3,642.7 94.3,641.9Q93.3,641.1 93.6,639.1Q93.9,637.2 94.7,636.0Q95.4,634.8 97.0,635.1Q98.5,635.3 99.7,636.1Q100.8,636.9 100.7,637.8Z" fill="#8088b0"/>
<path d="M106.6,663.6Q106.6,664.3 106.4,665.5Q106.1,666.7 105.4,667.7Q104.7,668.7 103.6,668.0Q102.6,667.4 101.9,666.9Q101.1,666.4 100.7,665.5Q100.3,664.6 101.2,663.4Q102.0,662.2 103.4,662.0Q104.8,661.7 105.7,662.3Q106.6,662.8 106.6,663.6Z" fill="#5e5e86"/>
<path d="M86.5,655.2Q86.8,655.7 86.7,656.1Q86.6,656.4 86.2,656.7Q85.9,657.0 85.4,657.0Q84.8,656.9 84.5,656.6Q84.2,656.4 84.0,655.7Q83.8,655.0 84.2,654.8Q84.7,654.5 85.1,654.3Q85.6,654.1 85.8,654.4Q86.1,654.7 86.5,655.2Z" fill="#5a4050"/>
<path d="M110.3,633.7Q110.4,635.2 109.8,636.7Q109.2,638.1 108.0,639.2Q106.8,640.4 105.3,640.4Q103.7,640.5 102.5,638.7Q101.4,636.9 101.8,635.2Q102.3,633.5 102.8,632.9Q103.3,632.3 104.6,631.1Q105.8,629.9 108.1,631.1Q110.3,632.2 110.3,633.7Z" fill="#d0c0b4" opacity="0.7"/>
<path d="M83.3,636.9Q83.4,638.9 82.8,639.9Q82.1,640.9 80.9,641.9Q79.7,642.8 78.3,643.0Q76.9,643.2 75.1,641.4Q73.3,639.6 73.9,638.1Q74.5,636.6 76.0,635.2Q77.4,633.8 78.7,632.9Q80.0,632.1 81.6,633.5Q83.1,634.9 83.3,636.9Z" fill="#cdbcb2" opacity="0.6"/>
<path d="M104.1,650.2Q105.1,651.2 104.8,652.8Q104.5,654.5 103.1,654.7Q101.8,655.0 100.5,655.4Q99.3,655.8 98.4,654.6Q97.5,653.4 97.6,651.9Q97.7,650.4 98.4,649.0Q99.0,647.6 100.0,648.0Q101.0,648.4 102.1,648.8Q103.1,649.3 104.1,650.2Z" fill="#b8b8c8" opacity="0.6"/>
</g>
</g>
<rect x="70.80" y="627.70" width="41.20" height="40.90" fill="none" stroke="#484848" stroke-width="1.3"/>
<clipPath id="mc15"><rect x="114.10" y="627.70" width="41.70" height="40.90"/></clipPath>
<g clip-path="url(#mc15)">
<rect x="113.10" y="626.70" width="43.70" height="42.90" fill="#c6baba"/>
<g filter="url(#mb)">
<circle cx="153.52" cy="667.40" r="1.86" fill="#b8a8a4" opacity="0.31"/>
<circle cx="126.50" cy="642.97" r="1.17" fill="#d8d0d0" opacity="0.41"/>
<circle cx="113.72" cy="653.30" r="1.87" fill="#b8a8a4" opacity="0.33"/>
<circle cx="144.13" cy="644.77" r="1.37" fill="#b4b0c0" opacity="0.44"/>
<circle cx="115.62" cy="660.30" r="1.47" fill="#d8d0d0" opacity="0.55"/>
<circle cx="155.52" cy="642.26" r="1.69" fill="#c0b0a0" opacity="0.69"/>
<circle cx="125.39" cy="668.51" r="1.44" fill="#b4b0c0" opacity="0.37"/>
<circle cx="134.21" cy="660.65" r="1.58" fill="#d8d0d0" opacity="0.37"/>
<circle cx="120.90" cy="640.57" r="1.76" fill="#d8d0d0" opacity="0.53"/>
<circle cx="116.70" cy="644.98" r="1.44" fill="#d0c4bc" opacity="0.41"/>
<circle cx="138.88" cy="631.38" r="1.87" fill="#d0c4bc" opacity="0.42"/>
<circle cx="147.08" cy="650.25" r="1.04" fill="#b8a8a4" opacity="0.55"/>
<circle cx="118.32" cy="660.81" r="1.34" fill="#c0b0a0" opacity="0.52"/>
<circle cx="153.25" cy="652.13" r="1.93" fill="#d8d0d0" opacity="0.48"/>
<circle cx="114.58" cy="653.76" r="1.21" fill="#d8d0d0" opacity="0.62"/>
<circle cx="143.13" cy="668.47" r="1.75" fill="#b8a8a4" opacity="0.52"/>
<circle cx="156.29" cy="658.83" r="1.15" fill="#b4b0c0" opacity="0.50"/>
<circle cx="114.72" cy="638.04" r="1.41" fill="#b4b0c0" opacity="0.68"/>
<circle cx="122.54" cy="631.14" r="1.39" fill="#d8d0d0" opacity="0.58"/>
<circle cx="137.48" cy="636.94" r="0.83" fill="#d8d0d0" opacity="0.66"/>
<circle cx="132.53" cy="641.41" r="1.86" fill="#d8d0d0" opacity="0.66"/>
<circle cx="143.15" cy="644.40" r="1.60" fill="#d8d0d0" opacity="0.52"/>
<circle cx="131.68" cy="639.52" r="1.82" fill="#d0c4bc" opacity="0.52"/>
<circle cx="149.22" cy="631.35" r="1.52" fill="#c0b0a0" opacity="0.69"/>
<circle cx="144.95" cy="645.17" r="0.91" fill="#b8a8a4" opacity="0.44"/>
<circle cx="143.19" cy="631.58" r="1.85" fill="#b4b0c0" opacity="0.62"/>
<circle cx="156.29" cy="638.37" r="1.14" fill="#b8a8a4" opacity="0.61"/>
<circle cx="119.30" cy="663.91" r="0.96" fill="#b8a8a4" opacity="0.37"/>
<circle cx="132.74" cy="644.83" r="0.81" fill="#c0b0a0" opacity="0.49"/>
<circle cx="143.21" cy="649.83" r="1.42" fill="#d0c4bc" opacity="0.51"/>
<circle cx="124.70" cy="669.34" r="0.99" fill="#b8a8a4" opacity="0.65"/>
<circle cx="134.85" cy="660.03" r="1.58" fill="#d0c4bc" opacity="0.46"/>
<circle cx="142.87" cy="644.18" r="1.75" fill="#c0b0a0" opacity="0.68"/>
<circle cx="128.01" cy="643.33" r="1.25" fill="#b4b0c0" opacity="0.60"/>
<circle cx="151.70" cy="649.81" r="1.60" fill="#b4b0c0" opacity="0.39"/>
<circle cx="124.63" cy="663.26" r="1.35" fill="#b8a8a4" opacity="0.55"/>
<circle cx="156.35" cy="638.61" r="1.70" fill="#b8a8a4" opacity="0.64"/>
<circle cx="124.43" cy="663.20" r="1.02" fill="#d0c4bc" opacity="0.55"/>
<circle cx="114.97" cy="661.33" r="1.06" fill="#c0b0a0" opacity="0.53"/>
<circle cx="140.28" cy="660.17" r="0.93" fill="#d0c4bc" opacity="0.46"/>
<circle cx="142.79" cy="639.27" r="0.80" fill="#d0c4bc" opacity="0.37"/>
<circle cx="155.76" cy="665.82" r="0.94" fill="#b8a8a4" opacity="0.35"/>
<circle cx="142.95" cy="666.69" r="1.08" fill="#c0b0a0" opacity="0.53"/>
<circle cx="146.78" cy="661.95" r="1.48" fill="#d0c4bc" opacity="0.34"/>
<circle cx="114.38" cy="641.74" r="0.91" fill="#d8d0d0" opacity="0.38"/>
<circle cx="131.74" cy="640.29" r="1.51" fill="#d0c4bc" opacity="0.53"/>
<circle cx="154.12" cy="655.16" r="1.39" fill="#d8d0d0" opacity="0.60"/>
<circle cx="153.54" cy="640.08" r="1.85" fill="#d8d0d0" opacity="0.44"/>
<circle cx="156.01" cy="640.01" r="1.90" fill="#b4b0c0" opacity="0.46"/>
<circle cx="144.75" cy="659.23" r="1.40" fill="#d8d0d0" opacity="0.43"/>
<circle cx="131.57" cy="628.44" r="1.66" fill="#b4b0c0" opacity="0.63"/>
<circle cx="138.85" cy="644.48" r="1.02" fill="#c0b0a0" opacity="0.31"/>
<circle cx="126.05" cy="661.81" r="1.22" fill="#c0b0a0" opacity="0.53"/>
<circle cx="155.38" cy="649.71" r="1.51" fill="#b4b0c0" opacity="0.63"/>
<circle cx="121.04" cy="645.58" r="0.95" fill="#b4b0c0" opacity="0.69"/>
<circle cx="133.04" cy="626.84" r="1.53" fill="#c0b0a0" opacity="0.32"/>
<circle cx="114.59" cy="643.45" r="1.97" fill="#c0b0a0" opacity="0.59"/>
<circle cx="119.38" cy="668.91" r="1.68" fill="#d0c4bc" opacity="0.49"/>
<circle cx="145.92" cy="666.50" r="1.25" fill="#d8d0d0" opacity="0.69"/>
<circle cx="148.00" cy="631.73" r="0.72" fill="#d0c4bc" opacity="0.54"/>
<circle cx="136.33" cy="635.17" r="1.15" fill="#c0b0a0" opacity="0.41"/>
<circle cx="125.53" cy="647.86" r="1.41" fill="#d0c4bc" opacity="0.42"/>
<circle cx="155.18" cy="627.65" r="1.73" fill="#d0c4bc" opacity="0.62"/>
<circle cx="137.66" cy="629.42" r="1.71" fill="#d8d0d0" opacity="0.57"/>
<circle cx="118.01" cy="666.21" r="1.96" fill="#b8a8a4" opacity="0.68"/>
<circle cx="138.56" cy="662.28" r="1.95" fill="#b8a8a4" opacity="0.59"/>
<circle cx="154.93" cy="653.81" r="1.37" fill="#c0b0a0" opacity="0.52"/>
<circle cx="131.53" cy="653.95" r="0.71" fill="#d8d0d0" opacity="0.67"/>
<circle cx="141.94" cy="655.75" r="1.55" fill="#d8d0d0" opacity="0.37"/>
<circle cx="122.60" cy="629.33" r="1.56" fill="#d8d0d0" opacity="0.40"/>
<path d="M158.8,649.9Q159.8,651.4 158.8,653.6Q157.8,655.8 156.7,656.5Q155.6,657.2 153.6,657.2Q151.7,657.2 150.5,654.4Q149.3,651.5 150.7,650.1Q152.1,648.8 153.3,648.1Q154.4,647.5 156.1,648.0Q157.8,648.4 158.8,649.9Z" fill="none" stroke="#a89088" stroke-width="0.8" opacity="0.35"/>
<path d="M117.2,631.8Q118.1,633.9 118.0,635.1Q118.0,636.2 115.7,636.9Q113.3,637.6 111.4,636.9Q109.4,636.2 109.3,635.0Q109.2,633.9 109.8,631.6Q110.4,629.3 112.2,628.5Q113.9,627.8 115.1,628.7Q116.3,629.6 117.2,631.8Z" fill="none" stroke="#a89088" stroke-width="0.8" opacity="0.35"/>
<path d="M146.9,628.3Q148.3,631.1 146.8,632.7Q145.3,634.3 143.8,634.8Q142.3,635.3 140.1,634.5Q137.8,633.7 136.9,632.2Q136.0,630.7 137.4,628.4Q138.8,626.0 140.6,625.3Q142.5,624.5 144.1,625.0Q145.6,625.5 146.9,628.3Z" fill="none" stroke="#a89088" stroke-width="0.8" opacity="0.35"/>
<path d="M152.9,639.6Q153.3,642.0 153.4,643.1Q153.5,644.3 151.5,645.2Q149.5,646.1 147.6,645.6Q145.7,645.1 144.4,642.5Q143.2,639.9 144.2,638.1Q145.3,636.2 146.4,635.5Q147.5,634.8 150.0,636.1Q152.5,637.3 152.9,639.6Z" fill="none" stroke="#a89088" stroke-width="0.8" opacity="0.35"/>
<path d="M154.5,663.7Q155.0,665.3 154.4,668.1Q153.7,670.9 152.0,671.9Q150.3,672.9 147.4,671.6Q144.4,670.3 143.2,669.3Q141.9,668.2 143.1,665.5Q144.3,662.8 147.1,661.4Q149.9,660.1 151.9,661.1Q154.0,662.1 154.5,663.7Z" fill="none" stroke="#a89088" stroke-width="0.8" opacity="0.35"/>
<path d="M133.6,641.3Q134.1,644.0 133.4,645.4Q132.8,646.9 130.0,648.6Q127.3,650.3 124.5,648.8Q121.8,647.4 121.2,645.1Q120.6,642.8 122.0,640.6Q123.4,638.4 125.0,637.3Q126.6,636.1 129.9,637.4Q133.2,638.7 133.6,641.3Z" fill="none" stroke="#a89088" stroke-width="0.8" opacity="0.35"/>
<path d="M157.9,659.5Q158.4,662.1 157.2,663.5Q156.0,665.0 154.6,666.0Q153.1,667.0 151.6,666.2Q150.0,665.4 148.6,663.9Q147.2,662.4 148.5,659.4Q149.8,656.5 151.9,655.8Q154.0,655.1 155.7,656.0Q157.4,657.0 157.9,659.5Z" fill="none" stroke="#a89088" stroke-width="0.8" opacity="0.35"/>
<path d="M142.1,635.0Q142.3,636.5 142.0,638.9Q141.6,641.4 138.0,642.7Q134.4,644.0 132.9,643.5Q131.4,643.0 130.4,640.4Q129.4,637.7 130.0,635.5Q130.7,633.4 133.8,631.8Q136.9,630.2 139.4,631.9Q141.8,633.5 142.1,635.0Z" fill="none" stroke="#a89088" stroke-width="0.8" opacity="0.35"/>
<path d="M149.6,626.6Q150.4,627.9 149.6,629.5Q148.8,631.1 147.7,632.2Q146.5,633.4 144.7,632.6Q143.0,631.8 142.0,629.8Q141.1,627.8 142.1,626.1Q143.0,624.5 144.0,624.4Q145.1,624.2 146.9,624.8Q148.7,625.3 149.6,626.6Z" fill="none" stroke="#a89088" stroke-width="0.8" opacity="0.35"/>
<path d="M142.6,668.6Q143.3,670.5 142.6,671.7Q141.9,673.0 140.7,673.6Q139.6,674.2 138.1,673.4Q136.6,672.6 136.1,671.9Q135.6,671.2 136.3,669.0Q136.9,666.8 138.5,666.4Q140.1,666.1 141.0,666.4Q141.9,666.6 142.6,668.6Z" fill="none" stroke="#a89088" stroke-width="0.8" opacity="0.35"/>
<path d="M126.5,654.3Q126.2,655.7 125.5,656.9Q124.8,658.2 124.1,658.8Q123.4,659.4 121.7,658.7Q120.0,658.0 119.2,657.6Q118.5,657.2 118.1,655.5Q117.7,653.7 119.4,652.5Q121.2,651.3 121.8,651.0Q122.4,650.7 124.6,651.8Q126.8,653.0 126.5,654.3Z" fill="#686894"/>
<path d="M147.2,648.4Q147.4,649.6 147.0,650.7Q146.5,651.8 145.8,652.6Q145.2,653.5 143.8,652.8Q142.5,652.2 141.0,651.1Q139.6,650.0 139.3,648.7Q139.0,647.4 140.4,646.5Q141.7,645.7 143.7,645.1Q145.7,644.5 146.3,645.8Q147.0,647.2 147.2,648.4Z" fill="#74749a"/>
<path d="M130.2,642.8Q129.9,643.3 130.0,644.3Q130.0,645.3 128.9,646.2Q127.8,647.1 126.7,646.9Q125.5,646.8 124.7,645.7Q124.0,644.6 124.4,644.0Q124.8,643.4 125.7,642.5Q126.5,641.6 126.9,641.4Q127.2,641.3 128.8,641.9Q130.4,642.4 130.2,642.8Z" fill="#7a7098"/>
<path d="M137.9,634.8Q138.3,636.4 137.6,637.2Q137.0,638.0 135.9,639.0Q134.9,639.9 133.1,639.6Q131.3,639.2 131.0,638.0Q130.8,636.8 130.3,635.7Q129.8,634.6 130.8,633.2Q131.8,631.9 133.3,632.0Q134.9,632.2 136.2,632.7Q137.5,633.2 137.9,634.8Z" fill="#b8a6a0" opacity="0.7"/>
<path d="M139.9,657.9Q140.7,659.3 140.1,661.0Q139.5,662.6 137.7,663.2Q135.9,663.7 134.8,663.0Q133.7,662.3 133.3,661.7Q132.8,661.1 132.2,659.9Q131.6,658.6 133.1,657.2Q134.6,655.8 135.9,655.6Q137.2,655.5 138.2,656.0Q139.1,656.6 139.9,657.9Z" fill="#b49c94" opacity="0.6"/>
<path d="M151.9,631.8Q152.3,632.6 151.8,633.2Q151.4,633.8 150.6,634.8Q149.9,635.7 148.9,635.5Q147.8,635.3 146.9,634.2Q146.0,633.1 146.4,632.2Q146.9,631.3 147.0,630.8Q147.1,630.2 148.4,630.0Q149.7,629.8 150.6,630.4Q151.5,631.0 151.9,631.8Z" fill="#c8c0c8" opacity="0.6"/>
</g>
</g>
<rect x="114.10" y="627.70" width="41.70" height="40.90" fill="none" stroke="#484848" stroke-width="1.3"/>
<clipPath id="mc16"><rect x="158.60" y="627.70" width="41.10" height="40.90"/></clipPath>
<g clip-path="url(#mc16)">
<rect x="157.60" y="626.70" width="43.10" height="42.90" fill="#c5b9b7"/>
<g filter="url(#mb)">
<circle cx="188.30" cy="662.73" r="0.94" fill="#d8d0d0" opacity="0.38"/>
<circle cx="186.52" cy="630.64" r="1.69" fill="#d8d0d0" opacity="0.62"/>
<circle cx="169.81" cy="666.26" r="0.72" fill="#b4b0c0" opacity="0.65"/>
<circle cx="200.18" cy="631.66" r="1.37" fill="#b4b0c0" opacity="0.60"/>
<circle cx="176.75" cy="639.77" r="1.94" fill="#b8a8a4" opacity="0.57"/>
<circle cx="168.54" cy="652.93" r="1.59" fill="#c0b0a0" opacity="0.33"/>
<circle cx="185.57" cy="655.05" r="0.74" fill="#d8d0d0" opacity="0.43"/>
<circle cx="196.17" cy="629.69" r="0.83" fill="#d0c4bc" opacity="0.62"/>
<circle cx="192.91" cy="669.26" r="1.82" fill="#c0b0a0" opacity="0.52"/>
<circle cx="169.40" cy="635.20" r="1.45" fill="#d8d0d0" opacity="0.56"/>
<circle cx="171.58" cy="635.19" r="1.49" fill="#d8d0d0" opacity="0.49"/>
<circle cx="168.78" cy="648.53" r="0.99" fill="#d8d0d0" opacity="0.33"/>
<circle cx="163.49" cy="640.14" r="1.40" fill="#d8d0d0" opacity="0.46"/>
<circle cx="191.85" cy="644.01" r="1.31" fill="#c0b0a0" opacity="0.40"/>
<circle cx="165.60" cy="651.34" r="1.26" fill="#d8d0d0" opacity="0.66"/>
<circle cx="159.05" cy="664.07" r="1.61" fill="#b4b0c0" opacity="0.48"/>
<circle cx="190.53" cy="628.31" r="1.99" fill="#b4b0c0" opacity="0.62"/>
<circle cx="180.82" cy="651.43" r="1.23" fill="#b4b0c0" opacity="0.64"/>
<circle cx="169.74" cy="642.66" r="0.89" fill="#b8a8a4" opacity="0.62"/>
<circle cx="185.23" cy="627.44" r="1.04" fill="#d0c4bc" opacity="0.31"/>
<circle cx="185.43" cy="643.87" r="1.21" fill="#c0b0a0" opacity="0.41"/>
<circle cx="174.07" cy="659.31" r="1.11" fill="#b8a8a4" opacity="0.46"/>
<circle cx="158.44" cy="646.54" r="0.79" fill="#d8d0d0" opacity="0.64"/>
<circle cx="180.42" cy="665.28" r="0.98" fill="#b4b0c0" opacity="0.35"/>
<circle cx="193.17" cy="631.54" r="0.81" fill="#d8d0d0" opacity="0.67"/>
<circle cx="181.60" cy="656.76" r="0.76" fill="#c0b0a0" opacity="0.62"/>
<circle cx="162.08" cy="634.54" r="0.88" fill="#d0c4bc" opacity="0.61"/>
<circle cx="183.34" cy="649.12" r="1.38" fill="#c0b0a0" opacity="0.40"/>
<circle cx="185.79" cy="646.16" r="1.54" fill="#b4b0c0" opacity="0.67"/>
<circle cx="186.03" cy="658.41" r="0.90" fill="#b8a8a4" opacity="0.38"/>
<circle cx="164.21" cy="632.35" r="1.96" fill="#c0b0a0" opacity="0.68"/>
<circle cx="194.21" cy="654.21" r="0.88" fill="#b8a8a4" opacity="0.42"/>
<circle cx="189.82" cy="652.80" r="1.93" fill="#d8d0d0" opacity="0.67"/>
<circle cx="177.50" cy="634.76" r="1.19" fill="#d0c4bc" opacity="0.53"/>
<circle cx="178.09" cy="641.32" r="1.69" fill="#d8d0d0" opacity="0.65"/>
<circle cx="197.77" cy="633.94" r="0.95" fill="#d8d0d0" opacity="0.31"/>
<circle cx="169.50" cy="647.11" r="1.51" fill="#d0c4bc" opacity="0.40"/>
<circle cx="171.78" cy="636.88" r="1.93" fill="#d0c4bc" opacity="0.41"/>
<circle cx="158.88" cy="641.47" r="1.48" fill="#c0b0a0" opacity="0.67"/>
<circle cx="173.31" cy="636.50" r="1.76" fill="#d0c4bc" opacity="0.46"/>
<circle cx="160.83" cy="642.06" r="1.79" fill="#b4b0c0" opacity="0.44"/>
<circle cx="176.94" cy="650.91" r="1.01" fill="#b8a8a4" opacity="0.37"/>
<circle cx="158.92" cy="659.83" r="1.71" fill="#d0c4bc" opacity="0.63"/>
<circle cx="182.74" cy="642.12" r="0.95" fill="#d0c4bc" opacity="0.39"/>
<circle cx="163.69" cy="631.59" r="1.78" fill="#d8d0d0" opacity="0.51"/>
<circle cx="183.93" cy="657.05" r="0.90" fill="#d0c4bc" opacity="0.64"/>
<circle cx="169.99" cy="664.44" r="1.07" fill="#d0c4bc" opacity="0.36"/>
<circle cx="183.92" cy="664.95" r="0.80" fill="#b4b0c0" opacity="0.67"/>
<circle cx="168.25" cy="659.81" r="1.94" fill="#b4b0c0" opacity="0.36"/>
<circle cx="180.76" cy="636.58" r="1.48" fill="#b8a8a4" opacity="0.54"/>
<circle cx="185.63" cy="641.43" r="1.65" fill="#d0c4bc" opacity="0.69"/>
<circle cx="167.44" cy="651.51" r="1.15" fill="#d0c4bc" opacity="0.47"/>
<circle cx="199.58" cy="637.62" r="1.32" fill="#b4b0c0" opacity="0.52"/>
<circle cx="177.76" cy="642.32" r="0.96" fill="#d8d0d0" opacity="0.69"/>
<circle cx="164.68" cy="662.04" r="1.81" fill="#c0b0a0" opacity="0.65"/>
<circle cx="163.57" cy="629.82" r="1.39" fill="#d0c4bc" opacity="0.40"/>
<circle cx="197.31" cy="646.07" r="1.51" fill="#c0b0a0" opacity="0.53"/>
<circle cx="164.99" cy="642.56" r="1.82" fill="#b4b0c0" opacity="0.55"/>
<circle cx="163.10" cy="633.58" r="1.55" fill="#b4b0c0" opacity="0.68"/>
<circle cx="185.37" cy="632.05" r="1.26" fill="#d0c4bc" opacity="0.42"/>
<circle cx="198.36" cy="657.30" r="1.32" fill="#d8d0d0" opacity="0.65"/>
<circle cx="176.31" cy="648.30" r="1.67" fill="#d0c4bc" opacity="0.39"/>
<circle cx="191.87" cy="631.68" r="0.85" fill="#b8a8a4" opacity="0.35"/>
<circle cx="188.81" cy="660.85" r="0.88" fill="#b8a8a4" opacity="0.44"/>
<circle cx="184.62" cy="644.33" r="1.89" fill="#d8d0d0" opacity="0.63"/>
<circle cx="199.29" cy="635.59" r="0.83" fill="#b4b0c0" opacity="0.61"/>
<circle cx="163.93" cy="640.58" r="0.83" fill="#d8d0d0" opacity="0.69"/>
<circle cx="198.48" cy="662.87" r="1.50" fill="#b4b0c0" opacity="0.65"/>
<circle cx="189.90" cy="630.78" r="1.87" fill="#c0b0a0" opacity="0.69"/>
<circle cx="175.59" cy="649.08" r="1.85" fill="#c0b0a0" opacity="0.45"/>
<path d="M205.5,651.8Q205.9,654.0 204.6,655.8Q203.2,657.6 202.3,657.8Q201.3,657.9 198.6,657.0Q195.8,656.1 195.4,655.2Q194.9,654.2 196.0,651.4Q197.1,648.6 199.2,648.2Q201.3,647.8 203.2,648.7Q205.1,649.6 205.5,651.8Z" fill="none" stroke="#a89088" stroke-width="0.8" opacity="0.35"/>
<path d="M163.8,631.5Q164.6,633.6 164.4,635.2Q164.1,636.8 162.3,637.8Q160.5,638.8 158.3,637.8Q156.2,636.7 155.4,635.6Q154.7,634.5 155.6,632.4Q156.5,630.3 158.4,629.4Q160.3,628.5 161.6,628.9Q163.0,629.4 163.8,631.5Z" fill="none" stroke="#a89088" stroke-width="0.8" opacity="0.35"/>
<path d="M171.2,630.1Q171.6,631.0 171.2,632.9Q170.9,634.9 169.5,635.3Q168.1,635.7 165.9,634.8Q163.7,633.8 163.4,632.8Q163.2,631.8 163.5,630.5Q163.8,629.3 165.2,628.1Q166.6,626.9 168.7,628.0Q170.8,629.2 171.2,630.1Z" fill="none" stroke="#a89088" stroke-width="0.8" opacity="0.35"/>
<path d="M195.5,649.2Q195.6,650.3 195.2,651.9Q194.8,653.4 193.0,654.6Q191.1,655.8 189.1,654.7Q187.2,653.6 187.1,652.1Q186.9,650.7 187.3,649.4Q187.7,648.0 189.4,647.2Q191.1,646.3 193.2,647.1Q195.3,648.0 195.5,649.2Z" fill="none" stroke="#a89088" stroke-width="0.8" opacity="0.35"/>
<path d="M200.6,638.1Q201.1,640.3 200.1,642.1Q199.2,644.0 198.0,644.6Q196.9,645.2 194.7,644.2Q192.4,643.3 190.9,640.6Q189.3,637.9 190.3,636.9Q191.3,635.8 193.0,634.2Q194.8,632.6 197.5,634.3Q200.1,636.0 200.6,638.1Z" fill="none" stroke="#a89088" stroke-width="0.8" opacity="0.35"/>
<path d="M197.5,638.4Q198.8,640.5 197.7,642.5Q196.7,644.5 194.5,645.3Q192.3,646.2 190.6,644.9Q189.0,643.6 189.0,642.6Q189.0,641.6 189.8,639.0Q190.6,636.4 191.6,636.0Q192.6,635.7 194.4,636.0Q196.2,636.3 197.5,638.4Z" fill="none" stroke="#a89088" stroke-width="0.8" opacity="0.35"/>
<path d="M169.5,653.0Q170.7,655.1 170.5,657.8Q170.2,660.4 168.2,661.9Q166.1,663.3 162.3,661.8Q158.6,660.4 158.2,657.8Q157.9,655.3 158.5,653.9Q159.2,652.5 161.5,650.7Q163.8,649.0 166.0,650.0Q168.2,651.0 169.5,653.0Z" fill="none" stroke="#a89088" stroke-width="0.8" opacity="0.35"/>
<path d="M178.2,668.4Q179.2,670.1 178.9,671.6Q178.5,673.0 176.3,673.9Q174.1,674.8 172.0,674.5Q169.9,674.2 169.2,672.0Q168.5,669.7 168.8,667.6Q169.2,665.5 171.1,665.2Q173.0,664.9 175.1,665.8Q177.2,666.6 178.2,668.4Z" fill="none" stroke="#a89088" stroke-width="0.8" opacity="0.35"/>
<path d="M182.8,660.2Q184.4,662.4 183.7,664.7Q183.0,666.9 180.8,668.0Q178.7,669.0 175.8,668.1Q172.8,667.1 172.1,665.9Q171.3,664.8 172.3,661.7Q173.3,658.7 175.6,658.2Q177.9,657.7 179.6,657.9Q181.3,658.0 182.8,660.2Z" fill="none" stroke="#a89088" stroke-width="0.8" opacity="0.35"/>
<path d="M194.5,649.6Q195.3,650.8 194.1,652.5Q193.0,654.1 192.3,654.5Q191.7,654.9 190.3,654.8Q188.8,654.6 188.1,652.9Q187.4,651.1 187.6,649.7Q187.7,648.2 189.7,647.7Q191.7,647.2 192.7,647.8Q193.7,648.5 194.5,649.6Z" fill="none" stroke="#a89088" stroke-width="0.8" opacity="0.35"/>
<path d="M189.7,645.0Q189.7,645.7 189.0,647.6Q188.3,649.5 187.7,650.4Q187.1,651.3 185.8,650.9Q184.4,650.6 183.0,649.6Q181.5,648.6 181.3,646.8Q181.1,645.1 182.7,643.3Q184.3,641.6 185.7,642.1Q187.2,642.7 188.5,643.5Q189.7,644.3 189.7,645.0Z" fill="#4a5686"/>
<path d="M167.8,653.4Q168.1,655.0 167.6,655.5Q167.0,656.0 165.7,656.8Q164.4,657.5 163.1,657.6Q161.8,657.6 161.1,656.1Q160.4,654.5 160.4,653.1Q160.4,651.7 161.2,651.1Q161.9,650.5 163.8,650.5Q165.7,650.5 166.6,651.2Q167.5,651.8 167.8,653.4Z" fill="#565c8a"/>
<path d="M174.0,650.1Q174.2,650.7 173.7,652.8Q173.3,654.9 172.1,655.2Q170.9,655.4 169.9,655.2Q168.8,655.0 167.5,654.0Q166.2,653.0 166.6,651.7Q166.9,650.5 167.7,649.0Q168.5,647.6 169.8,647.9Q171.1,648.2 172.5,648.9Q173.9,649.5 174.0,650.1Z" fill="#565c8a"/>
<path d="M196.4,644.8Q196.3,645.7 195.8,647.4Q195.3,649.1 194.6,649.7Q193.9,650.3 192.8,650.2Q191.8,650.2 191.0,648.6Q190.3,647.0 190.3,645.9Q190.3,644.8 190.6,644.0Q190.9,643.1 192.5,643.3Q194.0,643.5 195.3,643.7Q196.5,644.0 196.4,644.8Z" fill="#5c6282"/>
<path d="M181.6,656.9Q182.1,658.0 181.9,659.2Q181.7,660.4 180.3,660.8Q178.9,661.2 177.8,661.2Q176.8,661.3 175.8,660.0Q174.8,658.7 174.7,657.9Q174.7,657.1 176.1,656.0Q177.5,654.8 178.7,654.7Q179.9,654.7 180.5,655.2Q181.1,655.7 181.6,656.9Z" fill="#a48474"/>
<path d="M176.9,635.1Q177.0,636.1 176.9,636.9Q176.8,637.6 175.2,638.4Q173.6,639.1 173.1,638.9Q172.6,638.7 171.7,638.1Q170.7,637.4 170.6,636.2Q170.5,635.0 171.6,634.0Q172.6,633.0 173.2,632.3Q173.7,631.7 175.3,632.9Q176.8,634.1 176.9,635.1Z" fill="#9a8a98" opacity="0.8"/>
<path d="M191.9,658.8Q192.4,659.8 191.9,661.3Q191.5,662.9 190.2,663.3Q188.9,663.7 187.9,663.8Q186.8,664.0 186.2,662.8Q185.5,661.7 185.5,660.3Q185.5,658.8 185.7,658.3Q185.9,657.7 187.7,657.7Q189.4,657.6 190.4,657.7Q191.4,657.8 191.9,658.8Z" fill="#b09080" opacity="0.7"/>
</g>
</g>
<rect x="158.60" y="627.70" width="41.10" height="40.90" fill="none" stroke="#484848" stroke-width="1.3"/>
<clipPath id="mc17"><rect x="202.50" y="627.70" width="40.80" height="40.90"/></clipPath>
<g clip-path="url(#mc17)">
<rect x="201.50" y="626.70" width="42.80" height="42.90" fill="#bab0b8"/>
<g filter="url(#mb)">
<circle cx="217.63" cy="666.46" r="1.80" fill="#d8d0d0" opacity="0.67"/>
<circle cx="214.54" cy="647.02" r="1.82" fill="#c0b0a0" opacity="0.31"/>
<circle cx="225.67" cy="630.82" r="1.82" fill="#d0c4bc" opacity="0.57"/>
<circle cx="237.12" cy="648.68" r="1.73" fill="#d0c4bc" opacity="0.43"/>
<circle cx="240.82" cy="650.24" r="1.37" fill="#d0c4bc" opacity="0.34"/>
<circle cx="243.15" cy="653.99" r="0.83" fill="#d0c4bc" opacity="0.44"/>
<circle cx="216.62" cy="655.71" r="1.50" fill="#b8a8a4" opacity="0.33"/>
<circle cx="225.60" cy="648.79" r="0.87" fill="#b8a8a4" opacity="0.52"/>
<circle cx="204.81" cy="651.66" r="1.70" fill="#d0c4bc" opacity="0.48"/>
<circle cx="235.94" cy="652.93" r="1.55" fill="#b4b0c0" opacity="0.32"/>
<circle cx="236.44" cy="638.83" r="0.76" fill="#b4b0c0" opacity="0.63"/>
<circle cx="217.63" cy="668.17" r="0.72" fill="#d8d0d0" opacity="0.47"/>
<circle cx="226.16" cy="667.36" r="1.79" fill="#b8a8a4" opacity="0.34"/>
<circle cx="230.80" cy="664.55" r="1.68" fill="#d8d0d0" opacity="0.67"/>
<circle cx="239.34" cy="659.24" r="0.97" fill="#d0c4bc" opacity="0.66"/>
<circle cx="235.31" cy="649.13" r="1.18" fill="#c0b0a0" opacity="0.50"/>
<circle cx="221.08" cy="655.93" r="1.28" fill="#c0b0a0" opacity="0.50"/>
<circle cx="241.17" cy="663.94" r="1.04" fill="#c0b0a0" opacity="0.62"/>
<circle cx="231.81" cy="650.99" r="1.49" fill="#d8d0d0" opacity="0.53"/>
<circle cx="209.05" cy="653.50" r="1.37" fill="#c0b0a0" opacity="0.54"/>
<circle cx="202.88" cy="648.99" r="0.91" fill="#b8a8a4" opacity="0.41"/>
<circle cx="241.72" cy="652.98" r="0.80" fill="#b4b0c0" opacity="0.57"/>
<circle cx="227.11" cy="654.70" r="1.41" fill="#d8d0d0" opacity="0.41"/>
<circle cx="205.50" cy="652.17" r="1.60" fill="#d8d0d0" opacity="0.69"/>
<circle cx="231.71" cy="654.04" r="1.78" fill="#b8a8a4" opacity="0.33"/>
<circle cx="240.55" cy="640.71" r="0.92" fill="#d8d0d0" opacity="0.41"/>
<circle cx="232.23" cy="656.34" r="1.08" fill="#b4b0c0" opacity="0.54"/>
<circle cx="235.48" cy="642.37" r="1.03" fill="#b8a8a4" opacity="0.64"/>
<circle cx="213.33" cy="645.43" r="1.37" fill="#b8a8a4" opacity="0.67"/>
<circle cx="204.44" cy="652.54" r="0.89" fill="#b4b0c0" opacity="0.68"/>
<circle cx="211.61" cy="646.00" r="1.76" fill="#b8a8a4" opacity="0.42"/>
<circle cx="214.94" cy="665.88" r="1.71" fill="#c0b0a0" opacity="0.47"/>
<circle cx="211.65" cy="654.64" r="1.93" fill="#d0c4bc" opacity="0.46"/>
<circle cx="202.02" cy="667.60" r="0.88" fill="#b8a8a4" opacity="0.58"/>
<circle cx="239.83" cy="640.16" r="1.87" fill="#b8a8a4" opacity="0.33"/>
<circle cx="217.55" cy="669.01" r="0.85" fill="#d0c4bc" opacity="0.63"/>
<circle cx="202.88" cy="657.06" r="1.69" fill="#b4b0c0" opacity="0.32"/>
<circle cx="243.00" cy="629.87" r="0.81" fill="#b8a8a4" opacity="0.49"/>
<circle cx="209.14" cy="643.63" r="1.51" fill="#c0b0a0" opacity="0.60"/>
<circle cx="232.82" cy="633.65" r="1.61" fill="#d0c4bc" opacity="0.35"/>
<circle cx="243.69" cy="639.88" r="1.92" fill="#d0c4bc" opacity="0.63"/>
<circle cx="210.18" cy="629.95" r="1.19" fill="#b4b0c0" opacity="0.33"/>
<circle cx="229.23" cy="659.42" r="1.20" fill="#d8d0d0" opacity="0.50"/>
<circle cx="213.54" cy="664.61" r="1.60" fill="#d8d0d0" opacity="0.33"/>
<circle cx="238.78" cy="646.55" r="0.88" fill="#d8d0d0" opacity="0.44"/>
<circle cx="244.19" cy="633.64" r="1.68" fill="#c0b0a0" opacity="0.49"/>
<circle cx="231.47" cy="658.28" r="1.14" fill="#b4b0c0" opacity="0.54"/>
<circle cx="237.22" cy="663.58" r="1.17" fill="#d8d0d0" opacity="0.44"/>
<circle cx="221.86" cy="628.71" r="0.73" fill="#b8a8a4" opacity="0.35"/>
<circle cx="218.26" cy="661.04" r="1.51" fill="#b8a8a4" opacity="0.68"/>
<circle cx="219.41" cy="644.82" r="2.00" fill="#b8a8a4" opacity="0.33"/>
<circle cx="219.92" cy="646.60" r="0.75" fill="#c0b0a0" opacity="0.45"/>
<circle cx="201.85" cy="627.12" r="1.13" fill="#b8a8a4" opacity="0.32"/>
<circle cx="234.17" cy="631.09" r="1.33" fill="#d0c4bc" opacity="0.35"/>
<circle cx="238.88" cy="665.00" r="1.37" fill="#c0b0a0" opacity="0.69"/>
<circle cx="224.02" cy="647.55" r="1.26" fill="#d8d0d0" opacity="0.60"/>
<circle cx="226.10" cy="633.43" r="1.50" fill="#b8a8a4" opacity="0.41"/>
<circle cx="217.56" cy="644.86" r="1.96" fill="#c0b0a0" opacity="0.59"/>
<circle cx="232.02" cy="665.42" r="0.85" fill="#c0b0a0" opacity="0.70"/>
<circle cx="202.21" cy="637.92" r="1.85" fill="#b4b0c0" opacity="0.51"/>
<circle cx="216.27" cy="662.62" r="1.96" fill="#d0c4bc" opacity="0.52"/>
<circle cx="204.08" cy="630.98" r="1.83" fill="#b8a8a4" opacity="0.37"/>
<circle cx="244.05" cy="662.67" r="1.39" fill="#d0c4bc" opacity="0.58"/>
<circle cx="207.12" cy="632.84" r="1.45" fill="#d0c4bc" opacity="0.41"/>
<circle cx="231.30" cy="653.85" r="0.85" fill="#b4b0c0" opacity="0.51"/>
<circle cx="228.06" cy="635.57" r="1.91" fill="#b8a8a4" opacity="0.35"/>
<circle cx="219.27" cy="661.16" r="0.73" fill="#c0b0a0" opacity="0.61"/>
<circle cx="232.13" cy="643.84" r="1.16" fill="#d0c4bc" opacity="0.43"/>
<circle cx="202.49" cy="631.07" r="1.97" fill="#d0c4bc" opacity="0.63"/>
<circle cx="204.49" cy="653.46" r="1.26" fill="#b4b0c0" opacity="0.53"/>
<path d="M231.1,665.9Q231.8,668.8 231.1,670.5Q230.5,672.2 227.7,672.8Q225.0,673.4 223.5,672.5Q222.0,671.7 221.3,669.7Q220.7,667.7 221.3,666.1Q221.9,664.4 223.6,662.9Q225.3,661.4 227.8,662.2Q230.4,663.1 231.1,665.9Z" fill="none" stroke="#a89088" stroke-width="0.8" opacity="0.35"/>
<path d="M226.8,668.1Q227.3,670.0 226.6,671.9Q226.0,673.9 224.1,674.9Q222.2,675.9 220.2,675.1Q218.2,674.3 216.9,671.7Q215.6,669.1 216.2,667.7Q216.9,666.4 218.6,665.5Q220.3,664.6 223.3,665.4Q226.3,666.2 226.8,668.1Z" fill="none" stroke="#a89088" stroke-width="0.8" opacity="0.35"/>
<path d="M249.4,650.4Q250.2,653.6 249.8,655.0Q249.3,656.3 246.4,657.9Q243.6,659.4 241.9,658.7Q240.2,657.9 239.1,654.8Q238.1,651.6 239.4,649.8Q240.8,647.9 242.8,647.0Q244.9,646.1 246.7,646.7Q248.6,647.3 249.4,650.4Z" fill="none" stroke="#a89088" stroke-width="0.8" opacity="0.35"/>
<path d="M214.4,629.5Q216.0,631.8 214.4,635.0Q212.7,638.2 210.7,639.1Q208.7,640.0 207.3,639.0Q205.9,638.0 204.0,634.5Q202.1,631.0 203.4,629.1Q204.7,627.3 207.0,626.2Q209.3,625.2 211.0,626.2Q212.7,627.2 214.4,629.5Z" fill="none" stroke="#a89088" stroke-width="0.8" opacity="0.35"/>
<path d="M219.0,652.4Q219.4,653.7 219.3,656.4Q219.2,659.0 216.1,659.9Q212.9,660.7 210.5,659.7Q208.1,658.7 207.5,657.3Q207.0,655.9 208.0,652.1Q209.0,648.3 211.0,647.8Q212.9,647.2 215.7,649.2Q218.5,651.2 219.0,652.4Z" fill="none" stroke="#a89088" stroke-width="0.8" opacity="0.35"/>
<path d="M213.7,639.0Q214.6,641.1 213.7,642.3Q212.9,643.5 210.9,644.7Q209.0,646.0 207.6,645.4Q206.2,644.9 205.0,642.6Q203.8,640.4 204.6,639.0Q205.4,637.6 207.3,636.7Q209.2,635.9 211.0,636.4Q212.7,636.8 213.7,639.0Z" fill="none" stroke="#a89088" stroke-width="0.8" opacity="0.35"/>
<path d="M247.5,668.5Q248.7,670.3 247.8,671.8Q247.0,673.2 245.8,673.9Q244.5,674.6 243.0,674.2Q241.5,673.8 240.5,671.5Q239.5,669.2 240.1,668.5Q240.6,667.7 242.2,666.5Q243.8,665.3 245.0,666.0Q246.2,666.7 247.5,668.5Z" fill="none" stroke="#a89088" stroke-width="0.8" opacity="0.35"/>
<path d="M242.0,640.5Q242.2,642.2 241.8,644.1Q241.3,646.0 240.3,646.3Q239.2,646.6 236.9,645.5Q234.5,644.4 233.9,643.5Q233.2,642.6 234.0,641.3Q234.7,640.0 236.6,638.6Q238.4,637.2 240.0,638.0Q241.7,638.9 242.0,640.5Z" fill="none" stroke="#a89088" stroke-width="0.8" opacity="0.35"/>
<path d="M223.0,667.1Q223.6,669.0 223.3,670.5Q223.0,672.1 221.6,673.0Q220.2,674.0 218.0,673.5Q215.8,673.0 214.9,671.4Q214.0,669.8 214.9,667.7Q215.7,665.6 217.8,664.6Q219.8,663.7 221.1,664.4Q222.4,665.1 223.0,667.1Z" fill="none" stroke="#a89088" stroke-width="0.8" opacity="0.35"/>
<path d="M223.0,657.9Q223.6,659.2 223.5,660.8Q223.3,662.5 221.1,663.2Q218.8,663.9 217.9,663.8Q216.9,663.7 216.2,662.3Q215.5,661.0 215.6,659.3Q215.7,657.5 217.6,656.7Q219.4,655.8 220.9,656.2Q222.4,656.6 223.0,657.9Z" fill="none" stroke="#a89088" stroke-width="0.8" opacity="0.35"/>
<path d="M232.0,629.8Q232.3,631.5 232.3,632.2Q232.3,632.9 231.1,633.7Q229.8,634.5 228.4,634.2Q227.0,634.0 225.8,633.3Q224.6,632.6 224.8,631.4Q225.1,630.2 226.2,628.5Q227.3,626.8 228.7,627.2Q230.0,627.7 230.8,627.9Q231.6,628.2 232.0,629.8Z" fill="#565c8a"/>
<path d="M223.1,655.6Q223.3,656.6 222.3,658.3Q221.4,660.0 220.7,659.9Q220.0,659.8 218.3,660.4Q216.5,660.9 215.5,660.1Q214.5,659.2 214.9,657.7Q215.2,656.2 216.1,654.9Q216.9,653.5 218.0,652.6Q219.2,651.7 221.0,653.1Q222.9,654.5 223.1,655.6Z" fill="#48487a"/>
<path d="M231.8,663.1Q232.3,664.4 232.0,665.4Q231.8,666.3 230.8,667.0Q229.8,667.7 228.7,667.6Q227.6,667.5 226.8,666.4Q226.0,665.3 225.7,664.4Q225.4,663.5 226.2,662.3Q227.0,661.2 228.6,661.1Q230.2,661.0 230.8,661.4Q231.4,661.7 231.8,663.1Z" fill="#575784"/>
<path d="M237.1,640.8Q237.7,642.1 236.7,642.7Q235.8,643.2 235.2,644.1Q234.6,645.0 233.6,644.8Q232.6,644.5 231.8,643.3Q230.9,642.1 231.2,640.9Q231.5,639.7 232.3,639.1Q233.1,638.5 234.2,638.3Q235.2,638.1 235.8,638.7Q236.5,639.4 237.1,640.8Z" fill="#6a6a90"/>
<path d="M210.9,639.8Q211.3,640.8 210.9,642.2Q210.4,643.7 210.0,643.9Q209.6,644.2 208.2,644.2Q206.8,644.2 205.9,643.0Q205.1,641.8 205.3,641.3Q205.5,640.8 206.3,639.8Q207.0,638.8 208.4,638.4Q209.7,638.0 210.2,638.4Q210.6,638.7 210.9,639.8Z" fill="#8080a0"/>
<path d="M215.7,648.3Q215.9,649.6 215.8,650.4Q215.6,651.3 214.3,652.3Q212.9,653.4 212.2,653.1Q211.4,652.7 210.4,651.7Q209.5,650.7 209.5,649.3Q209.6,647.9 209.8,647.5Q210.1,647.1 211.3,646.5Q212.5,645.9 214.0,646.4Q215.5,647.0 215.7,648.3Z" fill="#a08070" opacity="0.7"/>
<path d="M225.5,646.6Q225.7,647.2 225.1,648.4Q224.5,649.7 223.5,650.4Q222.5,651.1 221.4,650.5Q220.4,650.0 220.0,649.6Q219.5,649.3 219.4,648.2Q219.3,647.1 220.1,646.2Q220.8,645.4 221.8,645.0Q222.8,644.6 224.1,645.3Q225.4,646.0 225.5,646.6Z" fill="#9a90a8" opacity="0.7"/>
<path d="M210.0,661.3Q210.8,661.9 210.1,663.3Q209.5,664.8 208.5,665.1Q207.5,665.5 206.4,665.4Q205.3,665.4 205.0,664.4Q204.8,663.4 204.8,662.7Q204.8,661.9 205.5,661.2Q206.1,660.5 207.3,660.3Q208.5,660.0 208.9,660.4Q209.3,660.7 210.0,661.3Z" fill="#a09098" opacity="0.7"/>
</g>
</g>
<rect x="202.50" y="627.70" width="40.80" height="40.90" fill="none" stroke="#484848" stroke-width="1.3"/>
<clipPath id="mc18"><rect x="27.10" y="671.10" width="41.60" height="41.40"/></clipPath>
<g clip-path="url(#mc18)">
<rect x="26.10" y="670.10" width="43.60" height="43.40" fill="#c6d0da"/>
<g filter="url(#mb)">
<circle cx="58.68" cy="678.90" r="0.97" fill="#b0bccc" opacity="0.35"/>
<circle cx="67.57" cy="690.81" r="1.65" fill="#d4dce4" opacity="0.55"/>
<circle cx="67.68" cy="712.93" r="1.23" fill="#d4dce4" opacity="0.61"/>
<circle cx="68.47" cy="671.35" r="1.92" fill="#d4dce4" opacity="0.36"/>
<circle cx="35.54" cy="691.07" r="1.69" fill="#c0c8d4" opacity="0.45"/>
<circle cx="62.19" cy="671.44" r="1.96" fill="#a8b4c8" opacity="0.64"/>
<circle cx="49.50" cy="692.21" r="1.54" fill="#c0c8d4" opacity="0.54"/>
<circle cx="50.56" cy="705.51" r="1.81" fill="#c0c8d4" opacity="0.47"/>
<circle cx="56.32" cy="672.54" r="1.94" fill="#d4dce4" opacity="0.68"/>
<circle cx="42.86" cy="688.68" r="1.37" fill="#b0bccc" opacity="0.34"/>
<circle cx="31.59" cy="693.91" r="1.71" fill="#b0bccc" opacity="0.46"/>
<circle cx="42.23" cy="704.00" r="1.99" fill="#b0bccc" opacity="0.64"/>
<circle cx="40.35" cy="687.77" r="0.76" fill="#c0c8d4" opacity="0.58"/>
<circle cx="51.46" cy="671.86" r="0.83" fill="#d4dce4" opacity="0.62"/>
<circle cx="68.01" cy="699.56" r="1.06" fill="#c0c8d4" opacity="0.44"/>
<circle cx="46.58" cy="687.03" r="0.74" fill="#b0bccc" opacity="0.36"/>
<circle cx="26.46" cy="674.94" r="1.95" fill="#c0c8d4" opacity="0.31"/>
<circle cx="34.08" cy="696.61" r="1.60" fill="#c0c8d4" opacity="0.32"/>
<circle cx="68.50" cy="677.21" r="1.08" fill="#b0bccc" opacity="0.33"/>
<circle cx="63.96" cy="708.29" r="1.80" fill="#c0c8d4" opacity="0.52"/>
<circle cx="61.23" cy="682.11" r="1.77" fill="#a8b4c8" opacity="0.56"/>
<circle cx="49.95" cy="687.25" r="0.83" fill="#d4dce4" opacity="0.48"/>
<circle cx="39.45" cy="676.41" r="1.47" fill="#c0c8d4" opacity="0.46"/>
<circle cx="61.29" cy="700.47" r="1.37" fill="#b0bccc" opacity="0.59"/>
<circle cx="66.58" cy="672.02" r="0.89" fill="#d4dce4" opacity="0.43"/>
<circle cx="34.84" cy="684.16" r="1.31" fill="#c0c8d4" opacity="0.40"/>
<circle cx="48.99" cy="712.42" r="0.83" fill="#b0bccc" opacity="0.39"/>
<circle cx="59.13" cy="676.30" r="1.65" fill="#b0bccc" opacity="0.69"/>
<circle cx="68.50" cy="701.68" r="0.91" fill="#d4dce4" opacity="0.68"/>
<circle cx="69.06" cy="672.41" r="1.33" fill="#b0bccc" opacity="0.47"/>
<circle cx="58.22" cy="684.96" r="1.00" fill="#b0bccc" opacity="0.42"/>
<circle cx="44.29" cy="699.35" r="1.27" fill="#c0c8d4" opacity="0.43"/>
<circle cx="37.26" cy="703.91" r="1.06" fill="#a8b4c8" opacity="0.69"/>
<circle cx="51.40" cy="690.62" r="0.76" fill="#a8b4c8" opacity="0.46"/>
<circle cx="64.65" cy="703.98" r="2.00" fill="#a8b4c8" opacity="0.37"/>
<circle cx="39.03" cy="712.42" r="1.44" fill="#c0c8d4" opacity="0.58"/>
<circle cx="27.33" cy="700.88" r="1.69" fill="#c0c8d4" opacity="0.42"/>
<circle cx="62.34" cy="703.17" r="1.37" fill="#b0bccc" opacity="0.65"/>
<circle cx="58.53" cy="699.84" r="1.47" fill="#b0bccc" opacity="0.35"/>
<circle cx="55.87" cy="711.52" r="0.81" fill="#a8b4c8" opacity="0.35"/>
<circle cx="43.36" cy="711.17" r="1.54" fill="#d4dce4" opacity="0.61"/>
<circle cx="37.08" cy="696.03" r="1.68" fill="#c0c8d4" opacity="0.56"/>
<circle cx="42.19" cy="690.37" r="1.05" fill="#b0bccc" opacity="0.42"/>
<circle cx="50.14" cy="710.14" r="1.55" fill="#a8b4c8" opacity="0.70"/>
<circle cx="62.19" cy="712.34" r="1.47" fill="#c0c8d4" opacity="0.34"/>
<circle cx="47.13" cy="679.78" r="1.79" fill="#c0c8d4" opacity="0.49"/>
<circle cx="33.19" cy="682.10" r="1.48" fill="#d4dce4" opacity="0.61"/>
<circle cx="30.73" cy="703.85" r="1.54" fill="#c0c8d4" opacity="0.65"/>
<circle cx="33.84" cy="685.40" r="1.24" fill="#c0c8d4" opacity="0.50"/>
<circle cx="38.11" cy="699.77" r="1.94" fill="#d4dce4" opacity="0.52"/>
<circle cx="39.09" cy="697.97" r="0.79" fill="#b0bccc" opacity="0.68"/>
<circle cx="32.47" cy="698.14" r="1.93" fill="#a8b4c8" opacity="0.56"/>
<circle cx="47.75" cy="685.71" r="1.16" fill="#b0bccc" opacity="0.57"/>
<circle cx="69.00" cy="703.16" r="1.62" fill="#b0bccc" opacity="0.45"/>
<circle cx="58.28" cy="685.21" r="1.18" fill="#d4dce4" opacity="0.51"/>
<circle cx="66.39" cy="695.55" r="1.16" fill="#b0bccc" opacity="0.60"/>
<circle cx="58.23" cy="670.74" r="1.38" fill="#c0c8d4" opacity="0.50"/>
<circle cx="60.25" cy="695.40" r="0.84" fill="#c0c8d4" opacity="0.46"/>
<circle cx="28.42" cy="683.51" r="1.47" fill="#c0c8d4" opacity="0.53"/>
<circle cx="51.78" cy="672.55" r="1.06" fill="#d4dce4" opacity="0.36"/>
<path d="M35.7,710.0Q36.0,711.3 35.6,712.5Q35.3,713.7 33.2,714.8Q31.2,715.8 30.3,715.2Q29.4,714.6 28.5,713.3Q27.6,712.1 28.1,710.4Q28.7,708.8 30.8,708.3Q32.9,707.8 34.1,708.2Q35.3,708.7 35.7,710.0Z" fill="none" stroke="#98a4b8" stroke-width="0.8" opacity="0.4"/>
<path d="M53.9,709.5Q54.3,711.2 54.0,712.9Q53.8,714.6 52.2,715.2Q50.6,715.8 48.1,714.7Q45.7,713.6 45.0,712.2Q44.3,710.8 45.2,709.7Q46.0,708.5 48.0,707.7Q50.0,706.9 51.7,707.3Q53.5,707.7 53.9,709.5Z" fill="none" stroke="#98a4b8" stroke-width="0.8" opacity="0.4"/>
<path d="M71.4,709.1Q72.3,711.2 71.0,712.7Q69.6,714.2 67.6,714.9Q65.7,715.7 64.3,714.8Q63.0,713.9 61.9,711.6Q60.8,709.3 61.4,708.5Q62.1,707.6 63.6,706.2Q65.1,704.9 67.8,705.9Q70.5,707.0 71.4,709.1Z" fill="none" stroke="#98a4b8" stroke-width="0.8" opacity="0.4"/>
<path d="M38.7,684.8Q38.8,685.7 38.3,688.7Q37.8,691.7 35.7,691.9Q33.5,692.1 31.6,691.4Q29.8,690.7 29.0,688.7Q28.2,686.7 28.4,684.8Q28.6,682.8 30.9,682.0Q33.3,681.1 36.0,682.5Q38.6,683.9 38.7,684.8Z" fill="none" stroke="#98a4b8" stroke-width="0.8" opacity="0.4"/>
<path d="M44.5,679.7Q45.3,681.9 44.4,683.2Q43.5,684.5 42.3,684.8Q41.2,685.0 39.5,684.6Q37.8,684.1 36.7,682.3Q35.7,680.6 36.8,679.1Q37.9,677.5 39.1,677.3Q40.4,677.1 42.1,677.3Q43.7,677.5 44.5,679.7Z" fill="none" stroke="#98a4b8" stroke-width="0.8" opacity="0.4"/>
<path d="M40.0,693.9Q40.5,694.9 40.4,696.9Q40.3,698.9 37.2,700.2Q34.1,701.6 32.6,699.9Q31.0,698.3 30.5,697.5Q29.9,696.6 30.2,694.4Q30.4,692.2 32.9,691.2Q35.5,690.2 37.5,691.6Q39.5,693.0 40.0,693.9Z" fill="none" stroke="#98a4b8" stroke-width="0.8" opacity="0.4"/>
<path d="M38.5,675.7Q39.1,676.7 38.0,678.7Q36.9,680.7 36.1,681.0Q35.3,681.3 33.7,680.5Q32.0,679.8 31.1,678.2Q30.3,676.7 31.3,675.5Q32.4,674.2 33.6,673.4Q34.9,672.5 36.4,673.6Q37.9,674.6 38.5,675.7Z" fill="none" stroke="#98a4b8" stroke-width="0.8" opacity="0.4"/>
<path d="M41.6,704.0Q42.2,706.1 41.1,707.1Q40.0,708.2 38.3,709.0Q36.7,709.8 35.7,709.2Q34.7,708.6 33.4,706.8Q32.1,704.9 32.4,703.4Q32.7,701.9 35.0,701.1Q37.3,700.3 39.1,701.1Q40.9,701.9 41.6,704.0Z" fill="none" stroke="#98a4b8" stroke-width="0.8" opacity="0.4"/>
<path d="M45.3,695.9Q46.1,697.4 45.4,699.4Q44.6,701.4 43.2,702.2Q41.8,702.9 40.5,702.5Q39.1,702.1 38.0,700.7Q36.9,699.2 37.5,697.4Q38.1,695.6 40.0,695.0Q41.9,694.5 43.2,694.4Q44.4,694.4 45.3,695.9Z" fill="none" stroke="#98a4b8" stroke-width="0.8" opacity="0.4"/>
<path d="M74.3,705.7Q75.8,709.1 75.1,710.2Q74.5,711.4 72.3,712.6Q70.1,713.8 67.5,713.3Q65.0,712.9 64.3,710.3Q63.7,707.7 64.8,705.2Q66.0,702.7 68.4,702.3Q70.7,702.0 71.8,702.2Q72.8,702.4 74.3,705.7Z" fill="none" stroke="#98a4b8" stroke-width="0.8" opacity="0.4"/>
<path d="M44.8,699.8Q46.0,701.6 45.0,703.5Q44.1,705.5 42.7,705.9Q41.3,706.3 38.9,706.1Q36.5,705.9 35.7,704.8Q34.9,703.8 34.4,702.0Q33.9,700.1 35.1,698.5Q36.3,697.0 38.4,695.8Q40.6,694.5 42.1,696.2Q43.6,697.9 44.8,699.8Z" fill="#b8c4d2" opacity="0.8"/>
<path d="M62.9,684.0Q63.8,686.1 63.0,687.8Q62.2,689.6 60.3,690.6Q58.4,691.5 56.2,691.8Q54.0,692.1 53.0,689.6Q52.1,687.1 51.6,685.2Q51.1,683.2 52.9,682.4Q54.8,681.5 57.0,681.1Q59.2,680.8 60.5,681.4Q61.9,682.0 62.9,684.0Z" fill="#ccd4de" opacity="0.8"/>
<path d="M48.0,690.6Q48.1,691.0 48.0,691.5Q47.9,692.1 47.7,692.1Q47.5,692.0 47.0,692.0Q46.5,691.9 46.2,691.6Q45.9,691.2 45.9,690.9Q46.0,690.5 46.4,690.3Q46.8,690.0 47.1,690.0Q47.5,690.0 47.7,690.1Q47.9,690.3 48.0,690.6Z" fill="#556" opacity="0.6"/>
</g>
<text x="29.90" y="676.59" font-size="3.6" text-anchor="start" fill="#222" stroke="#222">50 μm</text>
<line x1="30.50" y1="678.70" x2="37.90" y2="678.70" stroke="#222" stroke-width="1.1"/>
</g>
<rect x="27.10" y="671.10" width="41.60" height="41.40" fill="none" stroke="#484848" stroke-width="1.3"/>
<clipPath id="mc19"><rect x="70.80" y="671.10" width="41.20" height="41.40"/></clipPath>
<g clip-path="url(#mc19)">
<rect x="69.80" y="670.10" width="43.20" height="43.40" fill="#c4cedb"/>
<g filter="url(#mb)">
<circle cx="97.82" cy="700.54" r="1.94" fill="#d4dce4" opacity="0.33"/>
<circle cx="80.79" cy="693.52" r="1.03" fill="#c0c8d4" opacity="0.37"/>
<circle cx="109.10" cy="691.42" r="0.79" fill="#b0bccc" opacity="0.54"/>
<circle cx="88.17" cy="688.24" r="0.77" fill="#c0c8d4" opacity="0.70"/>
<circle cx="70.32" cy="712.39" r="1.54" fill="#a8b4c8" opacity="0.36"/>
<circle cx="110.42" cy="696.57" r="1.00" fill="#d4dce4" opacity="0.34"/>
<circle cx="86.73" cy="683.21" r="1.67" fill="#b0bccc" opacity="0.61"/>
<circle cx="92.72" cy="677.49" r="1.62" fill="#a8b4c8" opacity="0.52"/>
<circle cx="72.00" cy="712.44" r="1.55" fill="#c0c8d4" opacity="0.61"/>
<circle cx="84.76" cy="695.01" r="1.24" fill="#a8b4c8" opacity="0.70"/>
<circle cx="107.49" cy="690.39" r="0.72" fill="#d4dce4" opacity="0.61"/>
<circle cx="77.48" cy="685.61" r="1.37" fill="#d4dce4" opacity="0.37"/>
<circle cx="102.82" cy="691.33" r="0.82" fill="#a8b4c8" opacity="0.61"/>
<circle cx="86.78" cy="697.70" r="1.09" fill="#b0bccc" opacity="0.42"/>
<circle cx="89.82" cy="692.37" r="1.46" fill="#a8b4c8" opacity="0.39"/>
<circle cx="103.21" cy="694.16" r="1.86" fill="#b0bccc" opacity="0.30"/>
<circle cx="72.28" cy="704.70" r="1.09" fill="#b0bccc" opacity="0.31"/>
<circle cx="88.07" cy="702.48" r="1.66" fill="#d4dce4" opacity="0.66"/>
<circle cx="106.26" cy="702.31" r="1.51" fill="#d4dce4" opacity="0.45"/>
<circle cx="112.57" cy="702.50" r="1.78" fill="#b0bccc" opacity="0.44"/>
<circle cx="112.70" cy="678.06" r="1.81" fill="#a8b4c8" opacity="0.39"/>
<circle cx="110.84" cy="696.35" r="1.32" fill="#d4dce4" opacity="0.54"/>
<circle cx="106.77" cy="671.42" r="1.34" fill="#a8b4c8" opacity="0.51"/>
<circle cx="79.04" cy="712.73" r="1.75" fill="#d4dce4" opacity="0.50"/>
<circle cx="104.81" cy="701.29" r="1.13" fill="#b0bccc" opacity="0.66"/>
<circle cx="75.20" cy="696.49" r="1.49" fill="#b0bccc" opacity="0.40"/>
<circle cx="83.53" cy="672.00" r="0.83" fill="#b0bccc" opacity="0.45"/>
<circle cx="78.62" cy="702.80" r="1.66" fill="#b0bccc" opacity="0.37"/>
<circle cx="88.98" cy="672.29" r="1.48" fill="#c0c8d4" opacity="0.54"/>
<circle cx="79.39" cy="710.46" r="0.96" fill="#c0c8d4" opacity="0.45"/>
<circle cx="97.23" cy="679.15" r="1.60" fill="#d4dce4" opacity="0.30"/>
<circle cx="80.20" cy="678.80" r="1.12" fill="#c0c8d4" opacity="0.49"/>
<circle cx="72.66" cy="695.92" r="1.46" fill="#b0bccc" opacity="0.58"/>
<circle cx="97.10" cy="672.14" r="1.49" fill="#c0c8d4" opacity="0.52"/>
<circle cx="89.14" cy="698.69" r="0.87" fill="#c0c8d4" opacity="0.67"/>
<circle cx="100.11" cy="701.27" r="1.95" fill="#c0c8d4" opacity="0.63"/>
<circle cx="96.69" cy="709.92" r="1.35" fill="#a8b4c8" opacity="0.60"/>
<circle cx="110.51" cy="704.74" r="0.94" fill="#d4dce4" opacity="0.69"/>
<circle cx="101.51" cy="694.24" r="1.01" fill="#a8b4c8" opacity="0.34"/>
<circle cx="99.68" cy="697.99" r="1.69" fill="#c0c8d4" opacity="0.41"/>
<circle cx="81.11" cy="706.25" r="0.84" fill="#c0c8d4" opacity="0.51"/>
<circle cx="102.76" cy="689.47" r="1.01" fill="#a8b4c8" opacity="0.67"/>
<circle cx="74.59" cy="703.83" r="1.09" fill="#c0c8d4" opacity="0.70"/>
<circle cx="109.99" cy="682.00" r="0.75" fill="#d4dce4" opacity="0.56"/>
<circle cx="102.40" cy="712.02" r="0.86" fill="#d4dce4" opacity="0.68"/>
<circle cx="93.12" cy="684.70" r="1.53" fill="#b0bccc" opacity="0.59"/>
<circle cx="70.80" cy="679.98" r="1.76" fill="#a8b4c8" opacity="0.50"/>
<circle cx="101.41" cy="688.57" r="0.81" fill="#b0bccc" opacity="0.45"/>
<circle cx="98.84" cy="675.49" r="1.78" fill="#d4dce4" opacity="0.37"/>
<circle cx="94.00" cy="691.22" r="1.54" fill="#b0bccc" opacity="0.45"/>
<circle cx="95.13" cy="691.47" r="0.90" fill="#c0c8d4" opacity="0.44"/>
<circle cx="81.93" cy="702.15" r="1.47" fill="#a8b4c8" opacity="0.38"/>
<circle cx="87.53" cy="690.10" r="0.88" fill="#c0c8d4" opacity="0.56"/>
<circle cx="88.59" cy="707.01" r="1.57" fill="#c0c8d4" opacity="0.69"/>
<circle cx="88.59" cy="707.65" r="1.87" fill="#b0bccc" opacity="0.36"/>
<circle cx="99.48" cy="703.98" r="1.70" fill="#d4dce4" opacity="0.66"/>
<circle cx="91.01" cy="692.20" r="1.92" fill="#a8b4c8" opacity="0.60"/>
<circle cx="81.38" cy="674.17" r="1.88" fill="#b0bccc" opacity="0.50"/>
<circle cx="87.90" cy="709.82" r="1.42" fill="#b0bccc" opacity="0.56"/>
<circle cx="77.75" cy="692.04" r="1.33" fill="#b0bccc" opacity="0.42"/>
<path d="M110.6,703.6Q111.5,706.3 110.6,707.9Q109.6,709.5 107.4,710.9Q105.3,712.3 102.9,710.7Q100.6,709.1 99.3,707.5Q98.0,706.0 99.3,702.6Q100.6,699.3 102.0,699.2Q103.4,699.2 106.6,700.1Q109.8,701.0 110.6,703.6Z" fill="none" stroke="#98a4b8" stroke-width="0.8" opacity="0.4"/>
<path d="M83.6,697.5Q84.4,699.2 83.5,701.2Q82.5,703.2 80.5,704.3Q78.4,705.5 76.9,704.9Q75.4,704.3 74.6,701.9Q73.8,699.4 74.3,697.4Q74.8,695.4 77.3,694.9Q79.9,694.3 81.4,695.1Q82.8,695.8 83.6,697.5Z" fill="none" stroke="#98a4b8" stroke-width="0.8" opacity="0.4"/>
<path d="M83.0,688.2Q84.4,690.3 83.7,693.0Q82.9,695.7 81.3,696.5Q79.6,697.3 76.4,696.5Q73.1,695.8 72.6,693.9Q72.1,692.0 73.0,688.8Q73.9,685.6 75.6,685.5Q77.2,685.4 79.4,685.8Q81.5,686.2 83.0,688.2Z" fill="none" stroke="#98a4b8" stroke-width="0.8" opacity="0.4"/>
<path d="M94.6,693.0Q94.8,694.4 93.7,696.4Q92.7,698.3 91.1,699.0Q89.6,699.7 87.3,698.9Q84.9,698.0 84.3,696.0Q83.7,694.0 84.9,691.8Q86.1,689.6 87.9,689.3Q89.7,688.9 92.0,690.2Q94.4,691.6 94.6,693.0Z" fill="none" stroke="#98a4b8" stroke-width="0.8" opacity="0.4"/>
<path d="M108.4,668.3Q108.9,669.7 108.7,671.0Q108.5,672.2 106.2,673.0Q103.9,673.8 102.9,673.0Q101.9,672.2 101.4,670.8Q100.9,669.4 101.7,667.4Q102.6,665.4 104.1,665.3Q105.7,665.2 106.8,666.1Q107.9,667.0 108.4,668.3Z" fill="none" stroke="#98a4b8" stroke-width="0.8" opacity="0.4"/>
<path d="M101.2,689.7Q101.3,691.2 101.3,692.1Q101.3,692.9 99.5,693.7Q97.8,694.5 96.5,694.2Q95.3,694.0 94.3,692.2Q93.4,690.4 93.9,689.2Q94.4,688.0 96.4,687.4Q98.4,686.8 99.7,687.4Q101.1,688.1 101.2,689.7Z" fill="none" stroke="#98a4b8" stroke-width="0.8" opacity="0.4"/>
<path d="M78.4,682.4Q79.2,684.7 78.4,687.1Q77.7,689.4 76.2,690.4Q74.6,691.3 71.6,690.0Q68.5,688.6 67.9,686.2Q67.3,683.8 68.2,682.4Q69.1,680.9 70.5,679.8Q72.0,678.7 74.8,679.4Q77.6,680.2 78.4,682.4Z" fill="none" stroke="#98a4b8" stroke-width="0.8" opacity="0.4"/>
<path d="M103.9,692.6Q105.0,694.9 103.7,696.9Q102.4,698.8 100.1,699.5Q97.9,700.2 96.0,698.7Q94.1,697.2 93.4,695.7Q92.8,694.2 94.2,691.4Q95.7,688.6 97.0,688.7Q98.3,688.7 100.6,689.5Q102.9,690.3 103.9,692.6Z" fill="none" stroke="#98a4b8" stroke-width="0.8" opacity="0.4"/>
<path d="M76.5,686.5Q76.9,687.4 76.8,689.3Q76.8,691.3 74.3,692.7Q71.8,694.2 69.9,692.8Q68.1,691.3 67.6,690.2Q67.0,689.1 67.4,687.0Q67.8,684.8 70.0,683.8Q72.3,682.8 74.3,684.1Q76.2,685.5 76.5,686.5Z" fill="none" stroke="#98a4b8" stroke-width="0.8" opacity="0.4"/>
<path d="M75.9,670.0Q77.1,671.2 76.0,673.5Q74.8,675.9 73.9,676.0Q72.9,676.0 71.5,676.0Q70.0,676.0 68.9,674.6Q67.8,673.3 68.7,670.7Q69.5,668.2 70.6,668.2Q71.6,668.3 73.2,668.5Q74.7,668.8 75.9,670.0Z" fill="none" stroke="#98a4b8" stroke-width="0.8" opacity="0.4"/>
<path d="M89.4,698.5Q90.4,699.8 89.3,700.8Q88.2,701.9 86.6,703.0Q85.0,704.1 84.0,703.9Q83.0,703.7 81.9,702.4Q80.8,701.1 80.4,699.2Q80.0,697.4 81.1,696.9Q82.1,696.5 83.6,695.5Q85.1,694.4 86.8,695.8Q88.5,697.3 89.4,698.5Z" fill="#7482b0"/>
<path d="M80.2,677.6Q80.5,678.4 79.7,679.8Q79.0,681.3 78.0,682.2Q77.0,683.2 75.9,682.4Q74.8,681.7 74.4,681.4Q74.0,681.0 73.9,679.7Q73.9,678.4 74.9,677.1Q75.9,675.8 76.6,675.8Q77.4,675.7 78.7,676.3Q79.9,676.8 80.2,677.6Z" fill="#98a8c8"/>
<path d="M102.7,689.5Q103.3,691.5 103.3,693.0Q103.2,694.6 100.9,695.8Q98.6,696.9 97.7,696.3Q96.9,695.7 95.3,694.3Q93.7,692.9 93.8,691.5Q94.0,690.1 95.1,688.4Q96.3,686.7 98.5,686.5Q100.7,686.3 101.4,686.9Q102.1,687.5 102.7,689.5Z" fill="#b4c0d2" opacity="0.8"/>
<path d="M103.8,706.0Q104.1,706.9 103.3,708.0Q102.4,709.1 102.2,709.5Q102.0,709.9 101.0,709.9Q99.9,709.9 99.0,708.8Q98.1,707.8 98.1,706.9Q98.2,706.1 99.0,705.3Q99.8,704.6 100.5,704.3Q101.2,704.0 102.3,704.6Q103.4,705.2 103.8,706.0Z" fill="#a8b4c8" opacity="0.7"/>
</g>
</g>
<rect x="70.80" y="671.10" width="41.20" height="41.40" fill="none" stroke="#484848" stroke-width="1.3"/>
<clipPath id="mc20"><rect x="114.10" y="671.10" width="41.70" height="41.40"/></clipPath>
<g clip-path="url(#mc20)">
<rect x="113.10" y="670.10" width="43.70" height="43.40" fill="#c2ccd8"/>
<g filter="url(#mb)">
<circle cx="118.04" cy="675.78" r="1.48" fill="#d4dce4" opacity="0.39"/>
<circle cx="140.98" cy="703.24" r="0.97" fill="#d4dce4" opacity="0.46"/>
<circle cx="149.91" cy="675.79" r="0.94" fill="#b0bccc" opacity="0.46"/>
<circle cx="116.14" cy="688.35" r="1.87" fill="#d4dce4" opacity="0.37"/>
<circle cx="153.87" cy="692.66" r="1.64" fill="#a8b4c8" opacity="0.54"/>
<circle cx="153.20" cy="689.58" r="0.96" fill="#a8b4c8" opacity="0.55"/>
<circle cx="124.47" cy="692.68" r="1.88" fill="#a8b4c8" opacity="0.59"/>
<circle cx="138.27" cy="708.56" r="0.96" fill="#b0bccc" opacity="0.31"/>
<circle cx="146.48" cy="705.10" r="1.19" fill="#c0c8d4" opacity="0.62"/>
<circle cx="149.66" cy="686.86" r="1.36" fill="#d4dce4" opacity="0.39"/>
<circle cx="126.59" cy="695.58" r="1.67" fill="#c0c8d4" opacity="0.68"/>
<circle cx="122.81" cy="672.76" r="1.95" fill="#a8b4c8" opacity="0.57"/>
<circle cx="146.38" cy="687.40" r="1.35" fill="#d4dce4" opacity="0.59"/>
<circle cx="135.87" cy="693.74" r="1.28" fill="#c0c8d4" opacity="0.36"/>
<circle cx="131.33" cy="690.30" r="1.90" fill="#c0c8d4" opacity="0.39"/>
<circle cx="155.21" cy="670.76" r="1.23" fill="#a8b4c8" opacity="0.48"/>
<circle cx="149.35" cy="699.33" r="1.36" fill="#b0bccc" opacity="0.56"/>
<circle cx="132.99" cy="699.36" r="0.81" fill="#c0c8d4" opacity="0.38"/>
<circle cx="117.58" cy="675.80" r="1.57" fill="#a8b4c8" opacity="0.65"/>
<circle cx="139.62" cy="689.50" r="0.90" fill="#d4dce4" opacity="0.37"/>
<circle cx="135.87" cy="673.87" r="1.36" fill="#c0c8d4" opacity="0.66"/>
<circle cx="155.87" cy="701.17" r="1.22" fill="#c0c8d4" opacity="0.64"/>
<circle cx="116.10" cy="680.57" r="1.39" fill="#a8b4c8" opacity="0.51"/>
<circle cx="149.88" cy="708.74" r="1.72" fill="#c0c8d4" opacity="0.42"/>
<circle cx="150.45" cy="711.69" r="0.88" fill="#b0bccc" opacity="0.46"/>
<circle cx="152.59" cy="675.87" r="1.33" fill="#d4dce4" opacity="0.31"/>
<circle cx="145.88" cy="696.86" r="1.32" fill="#b0bccc" opacity="0.49"/>
<circle cx="123.67" cy="675.43" r="1.99" fill="#b0bccc" opacity="0.32"/>
<circle cx="148.63" cy="691.09" r="1.14" fill="#c0c8d4" opacity="0.44"/>
<circle cx="146.93" cy="712.10" r="1.70" fill="#a8b4c8" opacity="0.58"/>
<circle cx="146.38" cy="678.47" r="1.13" fill="#b0bccc" opacity="0.35"/>
<circle cx="116.37" cy="696.29" r="1.44" fill="#a8b4c8" opacity="0.57"/>
<circle cx="130.76" cy="706.28" r="1.93" fill="#d4dce4" opacity="0.39"/>
<circle cx="128.80" cy="695.47" r="0.97" fill="#b0bccc" opacity="0.41"/>
<circle cx="134.90" cy="679.82" r="1.11" fill="#a8b4c8" opacity="0.41"/>
<circle cx="129.34" cy="676.58" r="1.26" fill="#a8b4c8" opacity="0.31"/>
<circle cx="127.44" cy="700.43" r="0.99" fill="#a8b4c8" opacity="0.53"/>
<circle cx="150.81" cy="677.29" r="1.94" fill="#d4dce4" opacity="0.45"/>
<circle cx="139.35" cy="670.23" r="1.20" fill="#b0bccc" opacity="0.31"/>
<circle cx="127.00" cy="675.51" r="1.10" fill="#a8b4c8" opacity="0.61"/>
<circle cx="139.09" cy="705.45" r="1.99" fill="#a8b4c8" opacity="0.35"/>
<circle cx="116.69" cy="677.13" r="0.78" fill="#a8b4c8" opacity="0.43"/>
<circle cx="149.69" cy="692.87" r="1.87" fill="#d4dce4" opacity="0.48"/>
<circle cx="140.26" cy="673.43" r="1.82" fill="#c0c8d4" opacity="0.69"/>
<circle cx="147.89" cy="695.88" r="0.98" fill="#b0bccc" opacity="0.46"/>
<circle cx="145.91" cy="678.86" r="1.98" fill="#d4dce4" opacity="0.41"/>
<circle cx="138.72" cy="679.84" r="1.96" fill="#a8b4c8" opacity="0.54"/>
<circle cx="135.52" cy="680.30" r="1.92" fill="#c0c8d4" opacity="0.64"/>
<circle cx="130.05" cy="703.89" r="1.25" fill="#d4dce4" opacity="0.33"/>
<circle cx="150.43" cy="682.94" r="1.25" fill="#b0bccc" opacity="0.40"/>
<circle cx="152.17" cy="687.07" r="1.72" fill="#d4dce4" opacity="0.32"/>
<circle cx="123.59" cy="690.53" r="1.00" fill="#b0bccc" opacity="0.40"/>
<circle cx="119.35" cy="710.61" r="1.13" fill="#c0c8d4" opacity="0.40"/>
<circle cx="155.36" cy="710.32" r="0.99" fill="#b0bccc" opacity="0.38"/>
<circle cx="149.95" cy="671.73" r="1.14" fill="#b0bccc" opacity="0.63"/>
<circle cx="115.61" cy="681.51" r="1.61" fill="#a8b4c8" opacity="0.63"/>
<circle cx="134.38" cy="699.07" r="1.22" fill="#a8b4c8" opacity="0.64"/>
<circle cx="154.23" cy="691.24" r="1.06" fill="#b0bccc" opacity="0.44"/>
<circle cx="113.99" cy="697.60" r="0.78" fill="#d4dce4" opacity="0.65"/>
<circle cx="136.72" cy="712.36" r="0.70" fill="#a8b4c8" opacity="0.38"/>
<path d="M134.0,683.2Q134.9,684.7 133.6,686.5Q132.4,688.4 131.3,688.9Q130.1,689.4 128.4,688.6Q126.7,687.9 125.9,685.9Q125.0,684.0 125.6,683.5Q126.2,682.9 128.3,681.9Q130.5,680.9 131.8,681.3Q133.2,681.6 134.0,683.2Z" fill="none" stroke="#98a4b8" stroke-width="0.8" opacity="0.4"/>
<path d="M147.5,711.2Q148.7,713.0 147.2,715.4Q145.8,717.7 144.2,719.1Q142.5,720.5 139.3,718.6Q136.1,716.7 135.4,714.6Q134.7,712.4 135.8,711.1Q136.8,709.7 139.8,708.4Q142.7,707.0 144.5,708.2Q146.3,709.4 147.5,711.2Z" fill="none" stroke="#98a4b8" stroke-width="0.8" opacity="0.4"/>
<path d="M159.7,683.0Q160.1,683.7 159.2,685.9Q158.4,688.2 157.0,688.5Q155.5,688.8 154.3,688.4Q153.0,688.0 152.3,686.7Q151.5,685.4 152.3,683.4Q153.0,681.3 154.4,680.9Q155.8,680.5 157.6,681.5Q159.4,682.4 159.7,683.0Z" fill="none" stroke="#98a4b8" stroke-width="0.8" opacity="0.4"/>
<path d="M122.6,681.8Q124.0,685.5 123.2,686.8Q122.4,688.0 119.0,689.1Q115.7,690.1 114.5,689.9Q113.2,689.7 112.0,687.5Q110.8,685.4 112.0,681.6Q113.1,677.9 114.5,677.3Q115.9,676.7 118.5,677.4Q121.2,678.1 122.6,681.8Z" fill="none" stroke="#98a4b8" stroke-width="0.8" opacity="0.4"/>
<path d="M158.4,688.7Q158.8,691.0 158.5,692.4Q158.2,693.8 154.9,695.7Q151.5,697.6 150.2,696.2Q148.8,694.8 147.7,692.7Q146.6,690.6 147.8,688.1Q149.0,685.7 150.1,684.8Q151.2,683.8 154.6,685.1Q158.1,686.4 158.4,688.7Z" fill="none" stroke="#98a4b8" stroke-width="0.8" opacity="0.4"/>
<path d="M118.3,707.7Q119.9,710.5 119.0,712.4Q118.1,714.3 115.4,715.3Q112.8,716.3 110.5,715.1Q108.2,713.9 107.3,712.1Q106.4,710.3 107.4,708.7Q108.4,707.0 111.5,705.8Q114.6,704.5 115.7,704.8Q116.8,705.0 118.3,707.7Z" fill="none" stroke="#98a4b8" stroke-width="0.8" opacity="0.4"/>
<path d="M160.9,673.3Q161.4,674.9 160.9,676.2Q160.5,677.5 159.0,678.1Q157.5,678.7 156.2,678.2Q154.9,677.8 153.7,675.9Q152.5,674.0 153.4,672.5Q154.3,671.0 155.5,671.0Q156.6,670.9 158.5,671.3Q160.4,671.7 160.9,673.3Z" fill="none" stroke="#98a4b8" stroke-width="0.8" opacity="0.4"/>
<path d="M157.5,669.9Q158.1,671.4 157.3,674.1Q156.5,676.7 154.3,677.1Q152.2,677.5 151.3,676.5Q150.5,675.5 149.5,673.6Q148.6,671.7 149.2,670.4Q149.8,669.1 151.4,668.4Q153.1,667.6 155.1,668.0Q157.0,668.5 157.5,669.9Z" fill="none" stroke="#98a4b8" stroke-width="0.8" opacity="0.4"/>
<path d="M148.9,683.9Q149.3,685.7 148.7,687.0Q148.2,688.2 147.1,688.8Q146.0,689.5 143.7,688.3Q141.4,687.2 141.0,686.2Q140.6,685.2 141.3,683.1Q142.0,681.0 144.0,680.4Q146.1,679.8 147.3,680.9Q148.5,682.1 148.9,683.9Z" fill="none" stroke="#98a4b8" stroke-width="0.8" opacity="0.4"/>
<path d="M133.3,677.6Q133.4,679.0 133.5,681.7Q133.5,684.3 130.9,685.3Q128.3,686.3 125.1,685.4Q121.8,684.5 121.0,682.8Q120.2,681.0 121.5,678.0Q122.9,674.9 125.2,674.2Q127.6,673.4 130.4,674.8Q133.2,676.2 133.3,677.6Z" fill="none" stroke="#98a4b8" stroke-width="0.8" opacity="0.4"/>
<path d="M141.0,691.0Q141.2,692.4 140.8,694.3Q140.5,696.3 139.5,697.1Q138.4,697.9 136.5,697.6Q134.5,697.3 133.4,696.3Q132.3,695.2 132.3,693.0Q132.3,690.7 133.5,689.8Q134.7,689.0 136.7,688.5Q138.6,688.0 139.7,688.8Q140.8,689.6 141.0,691.0Z" fill="#6a78aa"/>
<path d="M126.6,679.1Q127.0,680.6 126.0,682.6Q124.9,684.6 124.3,685.2Q123.7,685.9 121.4,685.5Q119.1,685.0 118.6,684.1Q118.1,683.3 117.5,681.5Q116.9,679.8 118.0,678.1Q119.0,676.5 120.5,676.3Q122.0,676.1 124.1,676.8Q126.1,677.5 126.6,679.1Z" fill="#b0bccc" opacity="0.8"/>
<path d="M128.3,699.9Q128.3,700.8 127.8,702.6Q127.3,704.5 125.9,704.7Q124.5,704.9 123.5,705.0Q122.5,705.1 121.8,703.8Q121.1,702.6 120.8,701.1Q120.5,699.6 121.2,699.1Q121.8,698.5 123.3,697.7Q124.7,696.8 126.5,697.9Q128.3,699.1 128.3,699.9Z" fill="#aab6ca" opacity="0.8"/>
<path d="M148.7,704.5Q149.1,705.7 148.8,706.2Q148.4,706.7 147.5,707.5Q146.7,708.3 145.5,707.9Q144.3,707.4 143.7,706.9Q143.0,706.3 143.3,705.0Q143.6,703.8 143.9,703.3Q144.2,702.8 145.7,702.7Q147.2,702.7 147.7,703.0Q148.3,703.3 148.7,704.5Z" fill="#a8b4c8" opacity="0.7"/>
</g>
</g>
<rect x="114.10" y="671.10" width="41.70" height="41.40" fill="none" stroke="#484848" stroke-width="1.3"/>
<clipPath id="mc21"><rect x="158.60" y="671.10" width="41.10" height="41.40"/></clipPath>
<g clip-path="url(#mc21)">
<rect x="157.60" y="670.10" width="43.10" height="43.40" fill="#c2ccd8"/>
<g filter="url(#mb)">
<circle cx="181.22" cy="685.11" r="1.80" fill="#a8b4c8" opacity="0.33"/>
<circle cx="197.56" cy="687.15" r="0.72" fill="#b0bccc" opacity="0.34"/>
<circle cx="176.77" cy="679.86" r="1.15" fill="#c0c8d4" opacity="0.43"/>
<circle cx="183.80" cy="688.31" r="1.65" fill="#c0c8d4" opacity="0.69"/>
<circle cx="167.06" cy="704.13" r="1.58" fill="#d4dce4" opacity="0.52"/>
<circle cx="175.81" cy="682.18" r="1.68" fill="#c0c8d4" opacity="0.68"/>
<circle cx="177.96" cy="676.34" r="1.10" fill="#a8b4c8" opacity="0.53"/>
<circle cx="185.41" cy="687.34" r="1.50" fill="#b0bccc" opacity="0.59"/>
<circle cx="195.94" cy="707.31" r="1.04" fill="#a8b4c8" opacity="0.62"/>
<circle cx="181.40" cy="677.19" r="1.51" fill="#c0c8d4" opacity="0.49"/>
<circle cx="197.91" cy="698.72" r="1.12" fill="#d4dce4" opacity="0.57"/>
<circle cx="158.26" cy="702.87" r="1.22" fill="#c0c8d4" opacity="0.66"/>
<circle cx="163.46" cy="676.64" r="1.89" fill="#b0bccc" opacity="0.59"/>
<circle cx="190.35" cy="683.46" r="0.71" fill="#b0bccc" opacity="0.68"/>
<circle cx="179.79" cy="670.46" r="0.93" fill="#c0c8d4" opacity="0.45"/>
<circle cx="160.44" cy="701.81" r="1.03" fill="#b0bccc" opacity="0.35"/>
<circle cx="162.46" cy="677.28" r="0.74" fill="#c0c8d4" opacity="0.65"/>
<circle cx="166.30" cy="697.62" r="1.84" fill="#d4dce4" opacity="0.68"/>
<circle cx="167.38" cy="705.87" r="0.70" fill="#b0bccc" opacity="0.62"/>
<circle cx="182.30" cy="683.76" r="1.59" fill="#b0bccc" opacity="0.66"/>
<circle cx="175.36" cy="695.08" r="0.91" fill="#c0c8d4" opacity="0.57"/>
<circle cx="176.34" cy="686.52" r="1.35" fill="#b0bccc" opacity="0.56"/>
<circle cx="174.38" cy="676.63" r="1.15" fill="#c0c8d4" opacity="0.46"/>
<circle cx="179.74" cy="673.84" r="0.96" fill="#c0c8d4" opacity="0.66"/>
<circle cx="176.69" cy="679.74" r="1.00" fill="#c0c8d4" opacity="0.37"/>
<circle cx="185.54" cy="698.41" r="0.92" fill="#b0bccc" opacity="0.68"/>
<circle cx="177.24" cy="697.47" r="1.90" fill="#c0c8d4" opacity="0.58"/>
<circle cx="159.94" cy="710.42" r="1.00" fill="#d4dce4" opacity="0.35"/>
<circle cx="187.88" cy="696.24" r="1.63" fill="#b0bccc" opacity="0.62"/>
<circle cx="171.30" cy="685.78" r="0.89" fill="#d4dce4" opacity="0.63"/>
<circle cx="167.46" cy="679.65" r="1.53" fill="#a8b4c8" opacity="0.52"/>
<circle cx="171.38" cy="690.13" r="0.97" fill="#b0bccc" opacity="0.59"/>
<circle cx="190.40" cy="712.65" r="0.79" fill="#a8b4c8" opacity="0.33"/>
<circle cx="192.45" cy="674.59" r="1.86" fill="#d4dce4" opacity="0.35"/>
<circle cx="169.47" cy="708.85" r="1.68" fill="#a8b4c8" opacity="0.61"/>
<circle cx="171.34" cy="673.03" r="1.52" fill="#a8b4c8" opacity="0.62"/>
<circle cx="189.61" cy="685.96" r="1.55" fill="#a8b4c8" opacity="0.42"/>
<circle cx="194.12" cy="696.95" r="1.40" fill="#d4dce4" opacity="0.66"/>
<circle cx="192.25" cy="677.69" r="0.72" fill="#d4dce4" opacity="0.43"/>
<circle cx="166.74" cy="689.03" r="1.70" fill="#d4dce4" opacity="0.46"/>
<circle cx="173.86" cy="692.39" r="1.78" fill="#d4dce4" opacity="0.64"/>
<circle cx="168.14" cy="701.10" r="1.11" fill="#a8b4c8" opacity="0.51"/>
<circle cx="181.59" cy="681.13" r="1.66" fill="#d4dce4" opacity="0.63"/>
<circle cx="188.56" cy="680.64" r="1.52" fill="#c0c8d4" opacity="0.56"/>
<circle cx="200.54" cy="671.94" r="0.84" fill="#c0c8d4" opacity="0.61"/>
<circle cx="158.05" cy="710.21" r="1.45" fill="#a8b4c8" opacity="0.46"/>
<circle cx="182.53" cy="673.08" r="0.82" fill="#b0bccc" opacity="0.34"/>
<circle cx="184.45" cy="683.08" r="0.92" fill="#a8b4c8" opacity="0.66"/>
<circle cx="180.97" cy="677.11" r="1.18" fill="#d4dce4" opacity="0.31"/>
<circle cx="179.55" cy="677.18" r="0.70" fill="#c0c8d4" opacity="0.58"/>
<circle cx="190.78" cy="704.25" r="1.49" fill="#a8b4c8" opacity="0.38"/>
<circle cx="199.36" cy="680.96" r="1.06" fill="#b0bccc" opacity="0.56"/>
<circle cx="161.24" cy="698.18" r="0.81" fill="#b0bccc" opacity="0.53"/>
<circle cx="181.79" cy="693.68" r="1.71" fill="#d4dce4" opacity="0.48"/>
<circle cx="186.39" cy="711.35" r="1.96" fill="#d4dce4" opacity="0.38"/>
<circle cx="171.51" cy="682.29" r="1.01" fill="#d4dce4" opacity="0.30"/>
<circle cx="198.53" cy="685.81" r="1.36" fill="#a8b4c8" opacity="0.53"/>
<circle cx="187.64" cy="680.38" r="1.28" fill="#d4dce4" opacity="0.69"/>
<circle cx="162.42" cy="711.11" r="1.75" fill="#d4dce4" opacity="0.35"/>
<circle cx="182.41" cy="695.94" r="0.73" fill="#c0c8d4" opacity="0.51"/>
<path d="M194.2,688.5Q195.7,690.5 195.1,693.4Q194.6,696.2 192.6,697.0Q190.7,697.7 188.0,696.6Q185.2,695.4 184.1,693.1Q182.9,690.8 183.6,689.5Q184.3,688.1 187.4,687.2Q190.5,686.3 191.6,686.4Q192.7,686.5 194.2,688.5Z" fill="none" stroke="#98a4b8" stroke-width="0.8" opacity="0.4"/>
<path d="M165.9,707.2Q166.6,709.2 165.6,710.9Q164.7,712.5 163.7,712.7Q162.7,713.0 160.8,712.9Q159.0,712.8 158.3,710.4Q157.7,707.9 158.1,707.1Q158.5,706.3 159.8,705.3Q161.0,704.4 163.1,704.8Q165.2,705.1 165.9,707.2Z" fill="none" stroke="#98a4b8" stroke-width="0.8" opacity="0.4"/>
<path d="M193.4,709.8Q193.8,712.7 192.9,715.0Q192.1,717.3 190.5,718.1Q188.8,718.8 185.9,717.5Q182.9,716.1 181.9,713.6Q180.9,711.1 181.2,709.2Q181.4,707.3 184.7,706.4Q188.0,705.5 190.6,706.2Q193.1,706.8 193.4,709.8Z" fill="none" stroke="#98a4b8" stroke-width="0.8" opacity="0.4"/>
<path d="M162.6,687.2Q163.1,689.0 162.4,690.4Q161.7,691.9 160.2,692.3Q158.7,692.7 156.6,692.2Q154.6,691.7 153.9,690.1Q153.3,688.5 154.0,686.4Q154.6,684.2 156.4,683.7Q158.3,683.2 160.2,684.3Q162.2,685.4 162.6,687.2Z" fill="none" stroke="#98a4b8" stroke-width="0.8" opacity="0.4"/>
<path d="M184.0,669.5Q184.9,671.5 184.2,673.0Q183.6,674.5 182.4,675.1Q181.2,675.7 179.4,674.7Q177.5,673.7 177.5,672.8Q177.4,671.9 177.8,670.2Q178.2,668.5 180.0,667.8Q181.8,667.1 182.5,667.3Q183.2,667.5 184.0,669.5Z" fill="none" stroke="#98a4b8" stroke-width="0.8" opacity="0.4"/>
<path d="M175.8,690.3Q176.8,693.0 176.1,694.3Q175.3,695.6 172.7,697.1Q170.1,698.7 167.7,698.1Q165.3,697.4 164.3,695.1Q163.2,692.7 163.8,690.0Q164.3,687.2 167.5,685.7Q170.8,684.1 172.8,685.9Q174.7,687.7 175.8,690.3Z" fill="none" stroke="#98a4b8" stroke-width="0.8" opacity="0.4"/>
<path d="M202.4,672.8Q203.4,674.4 202.5,677.0Q201.6,679.5 200.0,679.7Q198.4,679.9 196.6,678.7Q194.9,677.4 194.3,676.8Q193.8,676.2 194.1,674.3Q194.4,672.4 196.3,671.0Q198.2,669.6 199.8,670.4Q201.4,671.1 202.4,672.8Z" fill="none" stroke="#98a4b8" stroke-width="0.8" opacity="0.4"/>
<path d="M199.6,680.8Q200.2,683.0 198.6,685.7Q197.0,688.5 195.8,689.1Q194.6,689.7 191.1,688.8Q187.6,687.9 187.0,686.1Q186.5,684.2 187.8,680.5Q189.1,676.8 191.7,676.7Q194.3,676.5 196.6,677.6Q199.0,678.7 199.6,680.8Z" fill="none" stroke="#98a4b8" stroke-width="0.8" opacity="0.4"/>
<path d="M202.0,701.5Q203.4,703.3 202.4,705.8Q201.5,708.3 200.0,708.8Q198.5,709.2 195.2,708.4Q191.8,707.5 191.4,705.2Q191.1,702.8 191.8,701.5Q192.6,700.2 195.1,698.8Q197.6,697.3 199.2,698.5Q200.7,699.7 202.0,701.5Z" fill="none" stroke="#98a4b8" stroke-width="0.8" opacity="0.4"/>
<path d="M202.8,709.0Q203.3,711.6 203.3,712.7Q203.3,713.7 200.2,715.1Q197.0,716.4 195.0,715.1Q192.9,713.9 192.0,711.4Q191.1,708.9 192.3,707.7Q193.5,706.5 196.4,705.4Q199.4,704.2 200.9,705.3Q202.4,706.3 202.8,709.0Z" fill="none" stroke="#98a4b8" stroke-width="0.8" opacity="0.4"/>
<path d="M191.4,682.9Q191.6,683.9 191.2,685.8Q190.8,687.7 189.7,688.3Q188.6,688.9 187.2,688.5Q185.9,688.1 184.9,686.8Q183.9,685.6 183.8,684.7Q183.7,683.9 184.9,682.2Q186.2,680.4 186.8,680.2Q187.4,679.9 189.3,680.9Q191.3,681.9 191.4,682.9Z" fill="#7482b0"/>
<path d="M167.9,700.0Q167.9,701.9 167.9,702.7Q168.0,703.5 166.9,704.4Q165.9,705.4 164.5,705.2Q163.0,705.1 162.0,704.0Q161.1,702.8 160.8,701.4Q160.5,700.1 161.9,698.8Q163.3,697.5 164.4,697.6Q165.4,697.7 166.7,697.8Q167.9,698.0 167.9,700.0Z" fill="#7a88b0"/>
<path d="M179.0,695.6Q179.5,696.6 178.9,698.0Q178.3,699.4 177.9,699.4Q177.5,699.5 176.5,699.6Q175.5,699.7 174.7,699.1Q174.0,698.5 173.6,697.6Q173.2,696.7 173.8,695.6Q174.3,694.4 176.0,694.3Q177.6,694.3 178.1,694.4Q178.6,694.5 179.0,695.6Z" fill="#a0acc4" opacity="0.8"/>
<path d="M194.0,702.5Q194.1,703.3 193.8,704.5Q193.5,705.8 193.2,705.9Q192.8,706.1 191.7,705.7Q190.6,705.4 189.6,704.5Q188.6,703.6 188.7,703.1Q188.9,702.7 189.6,701.7Q190.2,700.8 191.2,700.4Q192.3,700.0 193.1,700.8Q193.9,701.6 194.0,702.5Z" fill="#b0bccc" opacity="0.8"/>
<path d="M175.7,700.6Q176.0,700.8 175.8,701.5Q175.5,702.1 175.2,702.2Q174.9,702.3 174.5,702.1Q174.1,702.0 173.8,701.9Q173.6,701.7 173.6,701.2Q173.6,700.7 173.8,700.4Q174.0,700.1 174.5,700.0Q175.0,700.0 175.2,700.1Q175.4,700.3 175.7,700.6Z" fill="#445" opacity="0.6"/>
</g>
</g>
<rect x="158.60" y="671.10" width="41.10" height="41.40" fill="none" stroke="#484848" stroke-width="1.3"/>
<clipPath id="mc22"><rect x="202.50" y="671.10" width="40.80" height="41.40"/></clipPath>
<g clip-path="url(#mc22)">
<rect x="201.50" y="670.10" width="42.80" height="43.40" fill="#b9c5d4"/>
<g filter="url(#mb)">
<circle cx="224.57" cy="682.65" r="0.74" fill="#d4dce4" opacity="0.69"/>
<circle cx="203.57" cy="686.43" r="0.87" fill="#b0bccc" opacity="0.48"/>
<circle cx="244.02" cy="713.18" r="1.02" fill="#b0bccc" opacity="0.70"/>
<circle cx="240.39" cy="705.52" r="1.39" fill="#c0c8d4" opacity="0.69"/>
<circle cx="229.51" cy="693.33" r="0.79" fill="#b0bccc" opacity="0.40"/>
<circle cx="225.59" cy="682.24" r="1.26" fill="#b0bccc" opacity="0.57"/>
<circle cx="228.84" cy="708.95" r="0.85" fill="#c0c8d4" opacity="0.67"/>
<circle cx="207.04" cy="683.49" r="1.11" fill="#b0bccc" opacity="0.36"/>
<circle cx="231.43" cy="675.24" r="0.74" fill="#a8b4c8" opacity="0.37"/>
<circle cx="229.02" cy="690.59" r="1.13" fill="#c0c8d4" opacity="0.65"/>
<circle cx="242.09" cy="692.67" r="0.79" fill="#b0bccc" opacity="0.49"/>
<circle cx="222.29" cy="710.57" r="1.03" fill="#a8b4c8" opacity="0.66"/>
<circle cx="239.06" cy="677.48" r="0.94" fill="#d4dce4" opacity="0.50"/>
<circle cx="219.48" cy="679.89" r="0.98" fill="#a8b4c8" opacity="0.67"/>
<circle cx="239.96" cy="705.47" r="1.09" fill="#c0c8d4" opacity="0.56"/>
<circle cx="240.84" cy="683.18" r="1.76" fill="#c0c8d4" opacity="0.45"/>
<circle cx="223.67" cy="701.40" r="1.94" fill="#a8b4c8" opacity="0.31"/>
<circle cx="209.58" cy="703.62" r="1.43" fill="#a8b4c8" opacity="0.64"/>
<circle cx="232.55" cy="705.81" r="1.39" fill="#c0c8d4" opacity="0.56"/>
<circle cx="207.67" cy="695.92" r="1.50" fill="#a8b4c8" opacity="0.41"/>
<circle cx="236.73" cy="676.11" r="1.83" fill="#c0c8d4" opacity="0.51"/>
<circle cx="233.58" cy="684.52" r="0.73" fill="#c0c8d4" opacity="0.53"/>
<circle cx="221.88" cy="676.30" r="1.25" fill="#b0bccc" opacity="0.45"/>
<circle cx="233.98" cy="703.10" r="1.70" fill="#b0bccc" opacity="0.66"/>
<circle cx="216.15" cy="690.87" r="1.28" fill="#b0bccc" opacity="0.44"/>
<circle cx="242.03" cy="690.81" r="1.65" fill="#b0bccc" opacity="0.40"/>
<circle cx="222.22" cy="674.69" r="0.96" fill="#b0bccc" opacity="0.34"/>
<circle cx="206.40" cy="676.99" r="1.37" fill="#b0bccc" opacity="0.66"/>
<circle cx="230.35" cy="677.29" r="1.81" fill="#a8b4c8" opacity="0.51"/>
<circle cx="214.51" cy="696.04" r="0.89" fill="#d4dce4" opacity="0.38"/>
<circle cx="228.20" cy="706.48" r="0.89" fill="#b0bccc" opacity="0.54"/>
<circle cx="211.03" cy="698.27" r="0.89" fill="#d4dce4" opacity="0.42"/>
<circle cx="210.13" cy="671.20" r="1.76" fill="#a8b4c8" opacity="0.30"/>
<circle cx="218.60" cy="682.04" r="1.62" fill="#c0c8d4" opacity="0.41"/>
<circle cx="205.70" cy="702.41" r="1.30" fill="#b0bccc" opacity="0.49"/>
<circle cx="239.87" cy="680.45" r="1.43" fill="#c0c8d4" opacity="0.55"/>
<circle cx="210.40" cy="670.10" r="0.85" fill="#a8b4c8" opacity="0.31"/>
<circle cx="234.77" cy="685.31" r="1.37" fill="#a8b4c8" opacity="0.59"/>
<circle cx="234.49" cy="697.37" r="1.23" fill="#d4dce4" opacity="0.59"/>
<circle cx="208.92" cy="696.31" r="0.71" fill="#b0bccc" opacity="0.43"/>
<circle cx="208.96" cy="671.36" r="1.28" fill="#a8b4c8" opacity="0.58"/>
<circle cx="241.79" cy="678.37" r="1.41" fill="#b0bccc" opacity="0.65"/>
<circle cx="228.87" cy="697.46" r="0.84" fill="#c0c8d4" opacity="0.42"/>
<circle cx="239.46" cy="687.20" r="1.05" fill="#b0bccc" opacity="0.56"/>
<circle cx="219.68" cy="675.65" r="1.44" fill="#a8b4c8" opacity="0.67"/>
<circle cx="204.83" cy="697.05" r="1.50" fill="#c0c8d4" opacity="0.30"/>
<circle cx="208.33" cy="698.53" r="1.70" fill="#d4dce4" opacity="0.51"/>
<circle cx="232.31" cy="677.84" r="1.37" fill="#d4dce4" opacity="0.43"/>
<circle cx="202.33" cy="698.29" r="0.82" fill="#b0bccc" opacity="0.50"/>
<circle cx="238.50" cy="700.58" r="1.52" fill="#d4dce4" opacity="0.63"/>
<circle cx="227.64" cy="679.91" r="0.79" fill="#b0bccc" opacity="0.43"/>
<circle cx="203.09" cy="703.19" r="1.91" fill="#d4dce4" opacity="0.32"/>
<circle cx="202.85" cy="692.73" r="0.83" fill="#d4dce4" opacity="0.70"/>
<circle cx="208.59" cy="703.55" r="1.07" fill="#b0bccc" opacity="0.65"/>
<circle cx="238.97" cy="678.01" r="2.00" fill="#a8b4c8" opacity="0.50"/>
<circle cx="209.39" cy="672.28" r="0.99" fill="#d4dce4" opacity="0.58"/>
<circle cx="217.32" cy="701.89" r="0.96" fill="#a8b4c8" opacity="0.69"/>
<circle cx="230.82" cy="706.25" r="1.36" fill="#b0bccc" opacity="0.40"/>
<circle cx="242.74" cy="696.20" r="1.95" fill="#c0c8d4" opacity="0.66"/>
<circle cx="229.33" cy="671.23" r="1.30" fill="#d4dce4" opacity="0.58"/>
<path d="M226.2,711.3Q227.7,713.9 227.2,715.4Q226.8,717.0 224.4,718.0Q222.0,719.0 220.4,718.4Q218.8,717.8 217.4,716.0Q216.1,714.2 216.7,711.7Q217.3,709.1 219.0,708.8Q220.6,708.4 222.7,708.6Q224.8,708.7 226.2,711.3Z" fill="none" stroke="#98a4b8" stroke-width="0.8" opacity="0.4"/>
<path d="M224.9,668.4Q225.3,669.4 224.7,671.2Q224.1,673.0 222.8,673.7Q221.6,674.5 219.6,674.1Q217.7,673.7 216.7,672.0Q215.7,670.3 216.4,668.6Q217.0,666.8 218.4,665.7Q219.8,664.5 222.1,665.9Q224.5,667.3 224.9,668.4Z" fill="none" stroke="#98a4b8" stroke-width="0.8" opacity="0.4"/>
<path d="M241.6,696.4Q242.8,699.8 241.3,701.6Q239.8,703.5 238.0,704.2Q236.2,705.0 233.6,703.7Q231.0,702.5 230.2,699.6Q229.5,696.8 230.1,695.2Q230.7,693.6 233.3,692.7Q235.9,691.9 238.1,692.4Q240.4,693.0 241.6,696.4Z" fill="none" stroke="#98a4b8" stroke-width="0.8" opacity="0.4"/>
<path d="M214.1,701.3Q215.0,702.9 214.7,705.0Q214.5,707.1 212.2,707.6Q209.9,708.0 208.2,707.2Q206.4,706.5 206.2,705.6Q205.9,704.7 206.0,702.6Q206.2,700.5 208.3,699.9Q210.4,699.2 211.8,699.5Q213.2,699.7 214.1,701.3Z" fill="none" stroke="#98a4b8" stroke-width="0.8" opacity="0.4"/>
<path d="M212.2,689.4Q213.5,692.0 212.8,693.6Q212.2,695.3 210.1,695.9Q208.1,696.6 206.6,696.1Q205.2,695.7 203.7,693.3Q202.2,690.9 202.9,689.8Q203.7,688.7 206.5,687.3Q209.3,685.8 210.1,686.3Q210.9,686.8 212.2,689.4Z" fill="none" stroke="#98a4b8" stroke-width="0.8" opacity="0.4"/>
<path d="M246.2,701.0Q246.7,702.7 245.5,704.5Q244.4,706.4 243.5,706.6Q242.6,706.7 239.9,706.0Q237.3,705.2 236.8,703.1Q236.3,701.1 236.9,700.0Q237.6,698.9 239.2,697.6Q240.8,696.4 243.2,697.9Q245.7,699.3 246.2,701.0Z" fill="none" stroke="#98a4b8" stroke-width="0.8" opacity="0.4"/>
<path d="M219.8,679.4Q220.2,680.2 219.5,682.6Q218.8,685.0 217.9,685.4Q216.9,685.9 215.4,685.5Q213.9,685.1 213.1,683.6Q212.4,682.0 212.6,680.4Q212.7,678.9 214.8,677.6Q216.8,676.4 218.0,677.5Q219.3,678.5 219.8,679.4Z" fill="none" stroke="#98a4b8" stroke-width="0.8" opacity="0.4"/>
<path d="M227.5,708.7Q228.4,710.2 228.0,712.5Q227.6,714.8 224.5,715.9Q221.5,717.0 219.3,716.2Q217.0,715.4 216.2,712.9Q215.4,710.3 216.5,708.4Q217.6,706.5 219.4,706.2Q221.1,706.0 223.9,706.6Q226.7,707.2 227.5,708.7Z" fill="none" stroke="#98a4b8" stroke-width="0.8" opacity="0.4"/>
<path d="M241.5,683.2Q242.4,686.1 241.3,688.8Q240.1,691.4 238.3,692.2Q236.4,692.9 234.4,692.0Q232.5,691.2 230.6,688.8Q228.8,686.4 230.7,683.2Q232.7,679.9 234.8,679.5Q236.9,679.2 238.8,679.7Q240.6,680.3 241.5,683.2Z" fill="none" stroke="#98a4b8" stroke-width="0.8" opacity="0.4"/>
<path d="M221.5,709.8Q221.9,712.1 220.2,713.7Q218.4,715.4 217.1,716.1Q215.8,716.8 213.8,716.5Q211.8,716.3 210.3,713.4Q208.7,710.5 209.4,708.7Q210.1,706.8 212.8,705.5Q215.4,704.3 218.2,705.9Q221.0,707.5 221.5,709.8Z" fill="none" stroke="#98a4b8" stroke-width="0.8" opacity="0.4"/>
<path d="M234.9,693.4Q235.3,695.7 235.0,697.0Q234.8,698.3 233.0,699.0Q231.2,699.7 230.0,699.4Q228.9,699.1 227.9,698.1Q226.9,697.2 227.5,695.9Q228.0,694.6 228.6,692.9Q229.1,691.2 230.4,690.6Q231.7,690.1 233.1,690.6Q234.5,691.1 234.9,693.4Z" fill="#5a68a2"/>
<path d="M215.1,692.0Q215.6,693.2 215.2,694.2Q214.8,695.3 214.3,695.6Q213.7,695.9 212.0,695.7Q210.3,695.5 210.1,694.9Q210.0,694.4 209.7,693.1Q209.4,691.8 209.8,691.0Q210.3,690.2 211.5,690.3Q212.8,690.4 213.7,690.6Q214.7,690.8 215.1,692.0Z" fill="#8090b8"/>
<path d="M225.8,679.2Q226.0,680.7 225.7,681.9Q225.4,683.0 223.9,684.2Q222.3,685.5 221.2,684.8Q220.0,684.1 219.0,683.0Q218.0,682.0 218.7,680.9Q219.4,679.7 220.1,678.9Q220.9,678.0 221.7,677.9Q222.5,677.7 224.0,677.7Q225.5,677.7 225.8,679.2Z" fill="#9aa8c4" opacity="0.8"/>
<path d="M212.2,703.9Q213.1,704.4 212.7,705.7Q212.2,706.9 211.1,708.3Q210.0,709.6 208.6,709.3Q207.2,709.1 206.1,707.9Q205.0,706.8 204.9,704.9Q204.8,703.1 205.9,702.2Q207.0,701.4 208.1,701.1Q209.2,700.8 210.2,702.1Q211.3,703.3 212.2,703.9Z" fill="#98a6c0" opacity="0.8"/>
<path d="M239.2,704.8Q239.7,705.5 239.4,706.6Q239.0,707.7 238.3,708.4Q237.5,709.0 236.4,709.4Q235.3,709.7 234.4,708.1Q233.4,706.5 233.2,705.3Q233.0,704.2 234.1,703.7Q235.2,703.3 236.5,702.9Q237.9,702.5 238.2,703.3Q238.6,704.1 239.2,704.8Z" fill="#a6b2c8" opacity="0.8"/>
<path d="M223.0,699.9Q223.7,701.1 223.4,702.1Q223.1,703.1 221.9,703.4Q220.7,703.7 219.6,703.8Q218.5,703.9 218.0,703.2Q217.5,702.5 217.5,701.3Q217.4,700.0 218.6,699.3Q219.7,698.7 220.7,698.4Q221.8,698.2 222.1,698.4Q222.3,698.7 223.0,699.9Z" fill="#c8d0dc" opacity="0.8"/>
<path d="M214.3,676.4Q214.5,677.5 214.2,678.1Q213.9,678.7 213.6,678.9Q213.3,679.2 212.2,679.0Q211.2,678.9 211.0,678.4Q210.9,678.0 210.7,677.1Q210.5,676.2 211.2,675.8Q211.9,675.3 212.2,675.2Q212.4,675.2 213.2,675.3Q214.0,675.4 214.3,676.4Z" fill="#7a6858" opacity="0.6"/>
</g>
</g>
<rect x="202.50" y="671.10" width="40.80" height="41.40" fill="none" stroke="#484848" stroke-width="1.3"/>
<text x="9.40" y="305.42" font-size="11.8" font-weight="bold" fill="#000" stroke="#000" style="stroke-width:0.4px">F</text>
<line x1="51.00" y1="413.55" x2="51.00" y2="320.90" stroke="#333" stroke-width="1.15"/>
<line x1="48.00" y1="413.00" x2="51.00" y2="413.00" stroke="#333" stroke-width="1.1"/>
<text x="45.20" y="415.43" font-size="6.8" text-anchor="end" fill="#262626" stroke="#262626">0</text>
<line x1="48.00" y1="394.70" x2="51.00" y2="394.70" stroke="#333" stroke-width="1.1"/>
<text x="45.20" y="397.13" font-size="6.8" text-anchor="end" fill="#262626" stroke="#262626">500</text>
<line x1="48.00" y1="376.40" x2="51.00" y2="376.40" stroke="#333" stroke-width="1.1"/>
<text x="45.20" y="378.83" font-size="6.8" text-anchor="end" fill="#262626" stroke="#262626">1000</text>
<line x1="48.00" y1="358.10" x2="51.00" y2="358.10" stroke="#333" stroke-width="1.1"/>
<text x="45.20" y="360.53" font-size="6.8" text-anchor="end" fill="#262626" stroke="#262626">1500</text>
<line x1="48.00" y1="339.80" x2="51.00" y2="339.80" stroke="#333" stroke-width="1.1"/>
<text x="45.20" y="342.23" font-size="6.8" text-anchor="end" fill="#262626" stroke="#262626">2000</text>
<line x1="48.00" y1="321.50" x2="51.00" y2="321.50" stroke="#333" stroke-width="1.1"/>
<text x="45.20" y="323.93" font-size="6.8" text-anchor="end" fill="#262626" stroke="#262626">2500</text>
<line x1="50.50" y1="413.00" x2="160.00" y2="413.00" stroke="#333" stroke-width="1.1"/>
<line x1="57.40" y1="413.00" x2="57.40" y2="415.50" stroke="#333" stroke-width="1.0"/>
<text x="57.40" y="425.76" font-size="6.3" text-anchor="middle" fill="#262626" stroke="#262626">1</text>
<line x1="67.93" y1="413.00" x2="67.93" y2="415.50" stroke="#333" stroke-width="1.0"/>
<text x="67.93" y="425.76" font-size="6.3" text-anchor="middle" fill="#262626" stroke="#262626">2</text>
<line x1="78.46" y1="413.00" x2="78.46" y2="415.50" stroke="#333" stroke-width="1.0"/>
<text x="78.46" y="425.76" font-size="6.3" text-anchor="middle" fill="#262626" stroke="#262626">3</text>
<line x1="88.99" y1="413.00" x2="88.99" y2="415.50" stroke="#333" stroke-width="1.0"/>
<text x="88.99" y="425.76" font-size="6.3" text-anchor="middle" fill="#262626" stroke="#262626">4</text>
<line x1="99.52" y1="413.00" x2="99.52" y2="415.50" stroke="#333" stroke-width="1.0"/>
<text x="99.52" y="425.76" font-size="6.3" text-anchor="middle" fill="#262626" stroke="#262626">5</text>
<line x1="110.05" y1="413.00" x2="110.05" y2="415.50" stroke="#333" stroke-width="1.0"/>
<text x="110.05" y="425.76" font-size="6.3" text-anchor="middle" fill="#262626" stroke="#262626">6</text>
<line x1="120.58" y1="413.00" x2="120.58" y2="415.50" stroke="#333" stroke-width="1.0"/>
<text x="120.58" y="425.76" font-size="6.3" text-anchor="middle" fill="#262626" stroke="#262626">7</text>
<line x1="131.11" y1="413.00" x2="131.11" y2="415.50" stroke="#333" stroke-width="1.0"/>
<text x="131.11" y="425.76" font-size="6.3" text-anchor="middle" fill="#262626" stroke="#262626">8</text>
<line x1="141.64" y1="413.00" x2="141.64" y2="415.50" stroke="#333" stroke-width="1.0"/>
<text x="141.64" y="425.76" font-size="6.3" text-anchor="middle" fill="#262626" stroke="#262626">9</text>
<line x1="152.17" y1="413.00" x2="152.17" y2="415.50" stroke="#333" stroke-width="1.0"/>
<text x="152.17" y="425.76" font-size="6.3" text-anchor="middle" fill="#262626" stroke="#262626">10</text>
<text x="160.50" y="425.76" font-size="6.3" text-anchor="start" fill="#262626" stroke="#262626">Days</text>
<text transform="translate(20.4,366.4) rotate(-90)" font-size="9.2" fill="#262626" text-anchor="middle" y="3.3" textLength="67.8" lengthAdjust="spacingAndGlyphs" stroke="#262626">Tumor volume (mm<tspan font-size="5.5" dy="-3.3">3</tspan><tspan dy="3.3">)</tspan></text>
<line x1="53.30" y1="302.20" x2="62.20" y2="302.20" stroke="#9488cc" stroke-width="1.2"/>
<path d="M55.40,302.20 L57.70,299.90 L60.00,302.20 L57.70,304.50Z" fill="#9488cc"/>
<text x="66.30" y="304.49" font-size="6.4" text-anchor="start" fill="#333" textLength="15.79" lengthAdjust="spacingAndGlyphs" stroke="#333">shCtrl</text>
<line x1="53.30" y1="312.40" x2="62.20" y2="312.40" stroke="#1f4e8b" stroke-width="1.2"/>
<rect x="55.70" y="310.40" width="4.00" height="4.00" fill="#1f4e8b"/>
<text x="66.30" y="314.69" font-size="6.4" text-anchor="start" fill="#333" textLength="34.28" lengthAdjust="spacingAndGlyphs" stroke="#333">shZDHHC21</text>
<line x1="53.30" y1="322.60" x2="62.20" y2="322.60" stroke="#ec8d80" stroke-width="1.2"/>
<path d="M55.50,324.60 L57.70,320.30 L59.90,324.60Z" fill="#ec8d80"/>
<text x="66.30" y="324.89" font-size="6.4" text-anchor="start" fill="#333" textLength="28.73" lengthAdjust="spacingAndGlyphs" stroke="#333">shCtrl+WT</text>
<line x1="53.30" y1="332.80" x2="62.20" y2="332.80" stroke="#c2163f" stroke-width="1.2"/>
<circle cx="57.70" cy="332.80" r="2.00" fill="#c2163f"/>
<text x="66.30" y="335.09" font-size="6.4" text-anchor="start" fill="#333" textLength="47.22" lengthAdjust="spacingAndGlyphs" stroke="#333">shZDHHC21+WT</text>
<line x1="53.30" y1="343.00" x2="62.20" y2="343.00" stroke="#b7dba3" stroke-width="1.2"/>
<path d="M55.40,343.00 L57.70,340.70 L60.00,343.00 L57.70,345.30Z" fill="#b7dba3"/>
<text x="66.30" y="345.29" font-size="6.4" text-anchor="start" fill="#333" textLength="37.82" lengthAdjust="spacingAndGlyphs" stroke="#333">shCtrl+C120S</text>
<line x1="53.30" y1="353.20" x2="62.20" y2="353.20" stroke="#3ea63c" stroke-width="1.2"/>
<rect x="55.70" y="351.20" width="4.00" height="4.00" fill="#3ea63c"/>
<text x="66.30" y="355.49" font-size="6.4" text-anchor="start" fill="#333" textLength="56.31" lengthAdjust="spacingAndGlyphs" stroke="#333">shZDHHC21+C120S</text>
<polyline points="57.40,407.51 67.93,404.58 78.46,402.75 88.99,400.92 99.52,398.36 110.05,395.80 120.58,393.24 131.11,391.04 141.64,388.48 152.17,386.28" stroke="#3ea63c" stroke-width="0.9" fill="none"/>
<line x1="57.40" y1="407.84" x2="57.40" y2="407.18" stroke="#3ea63c" stroke-width="0.8"/>
<line x1="56.00" y1="407.18" x2="58.80" y2="407.18" stroke="#3ea63c" stroke-width="0.8"/>
<line x1="56.00" y1="407.84" x2="58.80" y2="407.84" stroke="#3ea63c" stroke-width="0.8"/>
<rect x="55.50" y="405.61" width="3.80" height="3.80" fill="#3ea63c"/>
<line x1="67.93" y1="405.09" x2="67.93" y2="404.08" stroke="#3ea63c" stroke-width="0.8"/>
<line x1="66.53" y1="404.08" x2="69.33" y2="404.08" stroke="#3ea63c" stroke-width="0.8"/>
<line x1="66.53" y1="405.09" x2="69.33" y2="405.09" stroke="#3ea63c" stroke-width="0.8"/>
<rect x="66.03" y="402.68" width="3.80" height="3.80" fill="#3ea63c"/>
<line x1="78.46" y1="403.37" x2="78.46" y2="402.14" stroke="#3ea63c" stroke-width="0.8"/>
<line x1="77.06" y1="402.14" x2="79.86" y2="402.14" stroke="#3ea63c" stroke-width="0.8"/>
<line x1="77.06" y1="403.37" x2="79.86" y2="403.37" stroke="#3ea63c" stroke-width="0.8"/>
<rect x="76.56" y="400.85" width="3.80" height="3.80" fill="#3ea63c"/>
<line x1="88.99" y1="401.65" x2="88.99" y2="400.20" stroke="#3ea63c" stroke-width="0.8"/>
<line x1="87.59" y1="400.20" x2="90.39" y2="400.20" stroke="#3ea63c" stroke-width="0.8"/>
<line x1="87.59" y1="401.65" x2="90.39" y2="401.65" stroke="#3ea63c" stroke-width="0.8"/>
<rect x="87.09" y="399.02" width="3.80" height="3.80" fill="#3ea63c"/>
<line x1="99.52" y1="399.24" x2="99.52" y2="397.48" stroke="#3ea63c" stroke-width="0.8"/>
<line x1="98.12" y1="397.48" x2="100.92" y2="397.48" stroke="#3ea63c" stroke-width="0.8"/>
<line x1="98.12" y1="399.24" x2="100.92" y2="399.24" stroke="#3ea63c" stroke-width="0.8"/>
<rect x="97.62" y="396.46" width="3.80" height="3.80" fill="#3ea63c"/>
<line x1="110.05" y1="396.83" x2="110.05" y2="394.77" stroke="#3ea63c" stroke-width="0.8"/>
<line x1="108.65" y1="394.77" x2="111.45" y2="394.77" stroke="#3ea63c" stroke-width="0.8"/>
<line x1="108.65" y1="396.83" x2="111.45" y2="396.83" stroke="#3ea63c" stroke-width="0.8"/>
<rect x="108.15" y="393.90" width="3.80" height="3.80" fill="#3ea63c"/>
<line x1="120.58" y1="394.42" x2="120.58" y2="392.05" stroke="#3ea63c" stroke-width="0.8"/>
<line x1="119.18" y1="392.05" x2="121.98" y2="392.05" stroke="#3ea63c" stroke-width="0.8"/>
<line x1="119.18" y1="394.42" x2="121.98" y2="394.42" stroke="#3ea63c" stroke-width="0.8"/>
<rect x="118.68" y="391.34" width="3.80" height="3.80" fill="#3ea63c"/>
<line x1="131.11" y1="392.36" x2="131.11" y2="389.72" stroke="#3ea63c" stroke-width="0.8"/>
<line x1="129.71" y1="389.72" x2="132.51" y2="389.72" stroke="#3ea63c" stroke-width="0.8"/>
<line x1="129.71" y1="392.36" x2="132.51" y2="392.36" stroke="#3ea63c" stroke-width="0.8"/>
<rect x="129.21" y="389.14" width="3.80" height="3.80" fill="#3ea63c"/>
<line x1="141.64" y1="389.95" x2="141.64" y2="387.01" stroke="#3ea63c" stroke-width="0.8"/>
<line x1="140.24" y1="387.01" x2="143.04" y2="387.01" stroke="#3ea63c" stroke-width="0.8"/>
<line x1="140.24" y1="389.95" x2="143.04" y2="389.95" stroke="#3ea63c" stroke-width="0.8"/>
<rect x="139.74" y="386.58" width="3.80" height="3.80" fill="#3ea63c"/>
<line x1="152.17" y1="387.89" x2="152.17" y2="384.68" stroke="#3ea63c" stroke-width="0.8"/>
<line x1="150.77" y1="384.68" x2="153.57" y2="384.68" stroke="#3ea63c" stroke-width="0.8"/>
<line x1="150.77" y1="387.89" x2="153.57" y2="387.89" stroke="#3ea63c" stroke-width="0.8"/>
<rect x="150.27" y="384.38" width="3.80" height="3.80" fill="#3ea63c"/>
<polyline points="57.40,407.14 67.93,403.85 78.46,401.65 88.99,399.09 99.52,396.53 110.05,393.60 120.58,391.04 131.11,389.21 141.64,385.92 152.17,383.72" stroke="#1f4e8b" stroke-width="0.9" fill="none"/>
<line x1="57.40" y1="407.50" x2="57.40" y2="406.79" stroke="#1f4e8b" stroke-width="0.8"/>
<line x1="56.00" y1="406.79" x2="58.80" y2="406.79" stroke="#1f4e8b" stroke-width="0.8"/>
<line x1="56.00" y1="407.50" x2="58.80" y2="407.50" stroke="#1f4e8b" stroke-width="0.8"/>
<rect x="55.50" y="405.24" width="3.80" height="3.80" fill="#1f4e8b"/>
<line x1="67.93" y1="404.40" x2="67.93" y2="403.30" stroke="#1f4e8b" stroke-width="0.8"/>
<line x1="66.53" y1="403.30" x2="69.33" y2="403.30" stroke="#1f4e8b" stroke-width="0.8"/>
<line x1="66.53" y1="404.40" x2="69.33" y2="404.40" stroke="#1f4e8b" stroke-width="0.8"/>
<rect x="66.03" y="401.95" width="3.80" height="3.80" fill="#1f4e8b"/>
<line x1="78.46" y1="402.33" x2="78.46" y2="400.97" stroke="#1f4e8b" stroke-width="0.8"/>
<line x1="77.06" y1="400.97" x2="79.86" y2="400.97" stroke="#1f4e8b" stroke-width="0.8"/>
<line x1="77.06" y1="402.33" x2="79.86" y2="402.33" stroke="#1f4e8b" stroke-width="0.8"/>
<rect x="76.56" y="399.75" width="3.80" height="3.80" fill="#1f4e8b"/>
<line x1="88.99" y1="399.93" x2="88.99" y2="398.26" stroke="#1f4e8b" stroke-width="0.8"/>
<line x1="87.59" y1="398.26" x2="90.39" y2="398.26" stroke="#1f4e8b" stroke-width="0.8"/>
<line x1="87.59" y1="399.93" x2="90.39" y2="399.93" stroke="#1f4e8b" stroke-width="0.8"/>
<rect x="87.09" y="397.19" width="3.80" height="3.80" fill="#1f4e8b"/>
<line x1="99.52" y1="397.52" x2="99.52" y2="395.54" stroke="#1f4e8b" stroke-width="0.8"/>
<line x1="98.12" y1="395.54" x2="100.92" y2="395.54" stroke="#1f4e8b" stroke-width="0.8"/>
<line x1="98.12" y1="397.52" x2="100.92" y2="397.52" stroke="#1f4e8b" stroke-width="0.8"/>
<rect x="97.62" y="394.63" width="3.80" height="3.80" fill="#1f4e8b"/>
<line x1="110.05" y1="394.77" x2="110.05" y2="392.44" stroke="#1f4e8b" stroke-width="0.8"/>
<line x1="108.65" y1="392.44" x2="111.45" y2="392.44" stroke="#1f4e8b" stroke-width="0.8"/>
<line x1="108.65" y1="394.77" x2="111.45" y2="394.77" stroke="#1f4e8b" stroke-width="0.8"/>
<rect x="108.15" y="391.70" width="3.80" height="3.80" fill="#1f4e8b"/>
<line x1="120.58" y1="392.36" x2="120.58" y2="389.72" stroke="#1f4e8b" stroke-width="0.8"/>
<line x1="119.18" y1="389.72" x2="121.98" y2="389.72" stroke="#1f4e8b" stroke-width="0.8"/>
<line x1="119.18" y1="392.36" x2="121.98" y2="392.36" stroke="#1f4e8b" stroke-width="0.8"/>
<rect x="118.68" y="389.14" width="3.80" height="3.80" fill="#1f4e8b"/>
<line x1="131.11" y1="390.64" x2="131.11" y2="387.78" stroke="#1f4e8b" stroke-width="0.8"/>
<line x1="129.71" y1="387.78" x2="132.51" y2="387.78" stroke="#1f4e8b" stroke-width="0.8"/>
<line x1="129.71" y1="390.64" x2="132.51" y2="390.64" stroke="#1f4e8b" stroke-width="0.8"/>
<rect x="129.21" y="387.31" width="3.80" height="3.80" fill="#1f4e8b"/>
<line x1="141.64" y1="387.54" x2="141.64" y2="384.29" stroke="#1f4e8b" stroke-width="0.8"/>
<line x1="140.24" y1="384.29" x2="143.04" y2="384.29" stroke="#1f4e8b" stroke-width="0.8"/>
<line x1="140.24" y1="387.54" x2="143.04" y2="387.54" stroke="#1f4e8b" stroke-width="0.8"/>
<rect x="139.74" y="384.02" width="3.80" height="3.80" fill="#1f4e8b"/>
<line x1="152.17" y1="385.48" x2="152.17" y2="381.96" stroke="#1f4e8b" stroke-width="0.8"/>
<line x1="150.77" y1="381.96" x2="153.57" y2="381.96" stroke="#1f4e8b" stroke-width="0.8"/>
<line x1="150.77" y1="385.48" x2="153.57" y2="385.48" stroke="#1f4e8b" stroke-width="0.8"/>
<rect x="150.27" y="381.82" width="3.80" height="3.80" fill="#1f4e8b"/>
<polyline points="57.40,405.68 67.93,401.65 78.46,398.36 88.99,394.70 99.52,390.31 110.05,385.55 120.58,381.52 131.11,377.13 141.64,372.74 152.17,369.08" stroke="#b7dba3" stroke-width="0.9" fill="none"/>
<line x1="57.40" y1="406.12" x2="57.40" y2="405.24" stroke="#b7dba3" stroke-width="0.8"/>
<line x1="56.00" y1="405.24" x2="58.80" y2="405.24" stroke="#b7dba3" stroke-width="0.8"/>
<line x1="56.00" y1="406.12" x2="58.80" y2="406.12" stroke="#b7dba3" stroke-width="0.8"/>
<path d="M55.20,405.68 L57.40,403.48 L59.60,405.68 L57.40,407.88Z" fill="#b7dba3"/>
<line x1="67.93" y1="402.33" x2="67.93" y2="400.97" stroke="#b7dba3" stroke-width="0.8"/>
<line x1="66.53" y1="400.97" x2="69.33" y2="400.97" stroke="#b7dba3" stroke-width="0.8"/>
<line x1="66.53" y1="402.33" x2="69.33" y2="402.33" stroke="#b7dba3" stroke-width="0.8"/>
<path d="M65.73,401.65 L67.93,399.45 L70.13,401.65 L67.93,403.85Z" fill="#b7dba3"/>
<line x1="78.46" y1="399.24" x2="78.46" y2="397.48" stroke="#b7dba3" stroke-width="0.8"/>
<line x1="77.06" y1="397.48" x2="79.86" y2="397.48" stroke="#b7dba3" stroke-width="0.8"/>
<line x1="77.06" y1="399.24" x2="79.86" y2="399.24" stroke="#b7dba3" stroke-width="0.8"/>
<path d="M76.26,398.36 L78.46,396.16 L80.66,398.36 L78.46,400.56Z" fill="#b7dba3"/>
<line x1="88.99" y1="395.80" x2="88.99" y2="393.60" stroke="#b7dba3" stroke-width="0.8"/>
<line x1="87.59" y1="393.60" x2="90.39" y2="393.60" stroke="#b7dba3" stroke-width="0.8"/>
<line x1="87.59" y1="395.80" x2="90.39" y2="395.80" stroke="#b7dba3" stroke-width="0.8"/>
<path d="M86.79,394.70 L88.99,392.50 L91.19,394.70 L88.99,396.90Z" fill="#b7dba3"/>
<line x1="99.52" y1="391.67" x2="99.52" y2="388.95" stroke="#b7dba3" stroke-width="0.8"/>
<line x1="98.12" y1="388.95" x2="100.92" y2="388.95" stroke="#b7dba3" stroke-width="0.8"/>
<line x1="98.12" y1="391.67" x2="100.92" y2="391.67" stroke="#b7dba3" stroke-width="0.8"/>
<path d="M97.32,390.31 L99.52,388.11 L101.72,390.31 L99.52,392.51Z" fill="#b7dba3"/>
<line x1="110.05" y1="387.20" x2="110.05" y2="383.90" stroke="#b7dba3" stroke-width="0.8"/>
<line x1="108.65" y1="383.90" x2="111.45" y2="383.90" stroke="#b7dba3" stroke-width="0.8"/>
<line x1="108.65" y1="387.20" x2="111.45" y2="387.20" stroke="#b7dba3" stroke-width="0.8"/>
<path d="M107.85,385.55 L110.05,383.35 L112.25,385.55 L110.05,387.75Z" fill="#b7dba3"/>
<line x1="120.58" y1="383.41" x2="120.58" y2="379.64" stroke="#b7dba3" stroke-width="0.8"/>
<line x1="119.18" y1="379.64" x2="121.98" y2="379.64" stroke="#b7dba3" stroke-width="0.8"/>
<line x1="119.18" y1="383.41" x2="121.98" y2="383.41" stroke="#b7dba3" stroke-width="0.8"/>
<path d="M118.38,381.52 L120.58,379.32 L122.78,381.52 L120.58,383.72Z" fill="#b7dba3"/>
<line x1="131.11" y1="379.28" x2="131.11" y2="374.98" stroke="#b7dba3" stroke-width="0.8"/>
<line x1="129.71" y1="374.98" x2="132.51" y2="374.98" stroke="#b7dba3" stroke-width="0.8"/>
<line x1="129.71" y1="379.28" x2="132.51" y2="379.28" stroke="#b7dba3" stroke-width="0.8"/>
<path d="M128.91,377.13 L131.11,374.93 L133.31,377.13 L131.11,379.33Z" fill="#b7dba3"/>
<line x1="141.64" y1="375.16" x2="141.64" y2="370.32" stroke="#b7dba3" stroke-width="0.8"/>
<line x1="140.24" y1="370.32" x2="143.04" y2="370.32" stroke="#b7dba3" stroke-width="0.8"/>
<line x1="140.24" y1="375.16" x2="143.04" y2="375.16" stroke="#b7dba3" stroke-width="0.8"/>
<path d="M139.44,372.74 L141.64,370.54 L143.84,372.74 L141.64,374.94Z" fill="#b7dba3"/>
<line x1="152.17" y1="371.72" x2="152.17" y2="366.44" stroke="#b7dba3" stroke-width="0.8"/>
<line x1="150.77" y1="366.44" x2="153.57" y2="366.44" stroke="#b7dba3" stroke-width="0.8"/>
<line x1="150.77" y1="371.72" x2="153.57" y2="371.72" stroke="#b7dba3" stroke-width="0.8"/>
<path d="M149.97,369.08 L152.17,366.88 L154.37,369.08 L152.17,371.28Z" fill="#b7dba3"/>
<polyline points="57.40,406.05 67.93,402.39 78.46,399.82 88.99,396.53 99.52,392.50 110.05,387.75 120.58,384.45 131.11,380.79 141.64,375.30 152.17,370.91" stroke="#c2163f" stroke-width="0.9" fill="none"/>
<line x1="57.40" y1="406.46" x2="57.40" y2="405.63" stroke="#c2163f" stroke-width="0.8"/>
<line x1="56.00" y1="405.63" x2="58.80" y2="405.63" stroke="#c2163f" stroke-width="0.8"/>
<line x1="56.00" y1="406.46" x2="58.80" y2="406.46" stroke="#c2163f" stroke-width="0.8"/>
<circle cx="57.40" cy="406.05" r="1.90" fill="#c2163f"/>
<line x1="67.93" y1="403.02" x2="67.93" y2="401.75" stroke="#c2163f" stroke-width="0.8"/>
<line x1="66.53" y1="401.75" x2="69.33" y2="401.75" stroke="#c2163f" stroke-width="0.8"/>
<line x1="66.53" y1="403.02" x2="69.33" y2="403.02" stroke="#c2163f" stroke-width="0.8"/>
<circle cx="67.93" cy="402.39" r="1.90" fill="#c2163f"/>
<line x1="78.46" y1="400.61" x2="78.46" y2="399.03" stroke="#c2163f" stroke-width="0.8"/>
<line x1="77.06" y1="399.03" x2="79.86" y2="399.03" stroke="#c2163f" stroke-width="0.8"/>
<line x1="77.06" y1="400.61" x2="79.86" y2="400.61" stroke="#c2163f" stroke-width="0.8"/>
<circle cx="78.46" cy="399.82" r="1.90" fill="#c2163f"/>
<line x1="88.99" y1="397.52" x2="88.99" y2="395.54" stroke="#c2163f" stroke-width="0.8"/>
<line x1="87.59" y1="395.54" x2="90.39" y2="395.54" stroke="#c2163f" stroke-width="0.8"/>
<line x1="87.59" y1="397.52" x2="90.39" y2="397.52" stroke="#c2163f" stroke-width="0.8"/>
<circle cx="88.99" cy="396.53" r="1.90" fill="#c2163f"/>
<line x1="99.52" y1="393.73" x2="99.52" y2="391.27" stroke="#c2163f" stroke-width="0.8"/>
<line x1="98.12" y1="391.27" x2="100.92" y2="391.27" stroke="#c2163f" stroke-width="0.8"/>
<line x1="98.12" y1="393.73" x2="100.92" y2="393.73" stroke="#c2163f" stroke-width="0.8"/>
<circle cx="99.52" cy="392.50" r="1.90" fill="#c2163f"/>
<line x1="110.05" y1="389.26" x2="110.05" y2="386.23" stroke="#c2163f" stroke-width="0.8"/>
<line x1="108.65" y1="386.23" x2="111.45" y2="386.23" stroke="#c2163f" stroke-width="0.8"/>
<line x1="108.65" y1="389.26" x2="111.45" y2="389.26" stroke="#c2163f" stroke-width="0.8"/>
<circle cx="110.05" cy="387.75" r="1.90" fill="#c2163f"/>
<line x1="120.58" y1="386.16" x2="120.58" y2="382.74" stroke="#c2163f" stroke-width="0.8"/>
<line x1="119.18" y1="382.74" x2="121.98" y2="382.74" stroke="#c2163f" stroke-width="0.8"/>
<line x1="119.18" y1="386.16" x2="121.98" y2="386.16" stroke="#c2163f" stroke-width="0.8"/>
<circle cx="120.58" cy="384.45" r="1.90" fill="#c2163f"/>
<line x1="131.11" y1="382.72" x2="131.11" y2="378.86" stroke="#c2163f" stroke-width="0.8"/>
<line x1="129.71" y1="378.86" x2="132.51" y2="378.86" stroke="#c2163f" stroke-width="0.8"/>
<line x1="129.71" y1="382.72" x2="132.51" y2="382.72" stroke="#c2163f" stroke-width="0.8"/>
<circle cx="131.11" cy="380.79" r="1.90" fill="#c2163f"/>
<line x1="141.64" y1="377.56" x2="141.64" y2="373.04" stroke="#c2163f" stroke-width="0.8"/>
<line x1="140.24" y1="373.04" x2="143.04" y2="373.04" stroke="#c2163f" stroke-width="0.8"/>
<line x1="140.24" y1="377.56" x2="143.04" y2="377.56" stroke="#c2163f" stroke-width="0.8"/>
<circle cx="141.64" cy="375.30" r="1.90" fill="#c2163f"/>
<line x1="152.17" y1="373.44" x2="152.17" y2="368.38" stroke="#c2163f" stroke-width="0.8"/>
<line x1="150.77" y1="368.38" x2="153.57" y2="368.38" stroke="#c2163f" stroke-width="0.8"/>
<line x1="150.77" y1="373.44" x2="153.57" y2="373.44" stroke="#c2163f" stroke-width="0.8"/>
<circle cx="152.17" cy="370.91" r="1.90" fill="#c2163f"/>
<polyline points="57.40,405.31 67.93,400.56 78.46,395.80 88.99,391.04 99.52,383.72 110.05,379.33 120.58,374.94 131.11,366.15 141.64,359.56 152.17,354.07" stroke="#9488cc" stroke-width="0.9" fill="none"/>
<line x1="57.40" y1="405.78" x2="57.40" y2="404.85" stroke="#9488cc" stroke-width="0.8"/>
<line x1="56.00" y1="404.85" x2="58.80" y2="404.85" stroke="#9488cc" stroke-width="0.8"/>
<line x1="56.00" y1="405.78" x2="58.80" y2="405.78" stroke="#9488cc" stroke-width="0.8"/>
<path d="M55.20,405.31 L57.40,403.11 L59.60,405.31 L57.40,407.51Z" fill="#9488cc"/>
<line x1="67.93" y1="401.30" x2="67.93" y2="399.81" stroke="#9488cc" stroke-width="0.8"/>
<line x1="66.53" y1="399.81" x2="69.33" y2="399.81" stroke="#9488cc" stroke-width="0.8"/>
<line x1="66.53" y1="401.30" x2="69.33" y2="401.30" stroke="#9488cc" stroke-width="0.8"/>
<path d="M65.73,400.56 L67.93,398.36 L70.13,400.56 L67.93,402.76Z" fill="#9488cc"/>
<line x1="78.46" y1="396.83" x2="78.46" y2="394.77" stroke="#9488cc" stroke-width="0.8"/>
<line x1="77.06" y1="394.77" x2="79.86" y2="394.77" stroke="#9488cc" stroke-width="0.8"/>
<line x1="77.06" y1="396.83" x2="79.86" y2="396.83" stroke="#9488cc" stroke-width="0.8"/>
<path d="M76.26,395.80 L78.46,393.60 L80.66,395.80 L78.46,398.00Z" fill="#9488cc"/>
<line x1="88.99" y1="392.36" x2="88.99" y2="389.72" stroke="#9488cc" stroke-width="0.8"/>
<line x1="87.59" y1="389.72" x2="90.39" y2="389.72" stroke="#9488cc" stroke-width="0.8"/>
<line x1="87.59" y1="392.36" x2="90.39" y2="392.36" stroke="#9488cc" stroke-width="0.8"/>
<path d="M86.79,391.04 L88.99,388.84 L91.19,391.04 L88.99,393.24Z" fill="#9488cc"/>
<line x1="99.52" y1="385.48" x2="99.52" y2="381.96" stroke="#9488cc" stroke-width="0.8"/>
<line x1="98.12" y1="381.96" x2="100.92" y2="381.96" stroke="#9488cc" stroke-width="0.8"/>
<line x1="98.12" y1="385.48" x2="100.92" y2="385.48" stroke="#9488cc" stroke-width="0.8"/>
<path d="M97.32,383.72 L99.52,381.52 L101.72,383.72 L99.52,385.92Z" fill="#9488cc"/>
<line x1="110.05" y1="381.35" x2="110.05" y2="377.31" stroke="#9488cc" stroke-width="0.8"/>
<line x1="108.65" y1="377.31" x2="111.45" y2="377.31" stroke="#9488cc" stroke-width="0.8"/>
<line x1="108.65" y1="381.35" x2="111.45" y2="381.35" stroke="#9488cc" stroke-width="0.8"/>
<path d="M107.85,379.33 L110.05,377.13 L112.25,379.33 L110.05,381.53Z" fill="#9488cc"/>
<line x1="120.58" y1="377.22" x2="120.58" y2="372.65" stroke="#9488cc" stroke-width="0.8"/>
<line x1="119.18" y1="372.65" x2="121.98" y2="372.65" stroke="#9488cc" stroke-width="0.8"/>
<line x1="119.18" y1="377.22" x2="121.98" y2="377.22" stroke="#9488cc" stroke-width="0.8"/>
<path d="M118.38,374.94 L120.58,372.74 L122.78,374.94 L120.58,377.14Z" fill="#9488cc"/>
<line x1="131.11" y1="368.96" x2="131.11" y2="363.34" stroke="#9488cc" stroke-width="0.8"/>
<line x1="129.71" y1="363.34" x2="132.51" y2="363.34" stroke="#9488cc" stroke-width="0.8"/>
<line x1="129.71" y1="368.96" x2="132.51" y2="368.96" stroke="#9488cc" stroke-width="0.8"/>
<path d="M128.91,366.15 L131.11,363.95 L133.31,366.15 L131.11,368.35Z" fill="#9488cc"/>
<line x1="141.64" y1="362.77" x2="141.64" y2="356.36" stroke="#9488cc" stroke-width="0.8"/>
<line x1="140.24" y1="356.36" x2="143.04" y2="356.36" stroke="#9488cc" stroke-width="0.8"/>
<line x1="140.24" y1="362.77" x2="143.04" y2="362.77" stroke="#9488cc" stroke-width="0.8"/>
<path d="M139.44,359.56 L141.64,357.36 L143.84,359.56 L141.64,361.76Z" fill="#9488cc"/>
<line x1="152.17" y1="357.61" x2="152.17" y2="350.54" stroke="#9488cc" stroke-width="0.8"/>
<line x1="150.77" y1="350.54" x2="153.57" y2="350.54" stroke="#9488cc" stroke-width="0.8"/>
<line x1="150.77" y1="357.61" x2="153.57" y2="357.61" stroke="#9488cc" stroke-width="0.8"/>
<path d="M149.97,354.07 L152.17,351.87 L154.37,354.07 L152.17,356.27Z" fill="#9488cc"/>
<polyline points="57.40,404.58 67.93,397.99 78.46,391.77 88.99,385.55 99.52,378.60 110.05,371.46 120.58,365.79 131.11,358.83 141.64,352.61 152.17,346.02" stroke="#ec8d80" stroke-width="0.9" fill="none"/>
<line x1="57.40" y1="405.09" x2="57.40" y2="404.08" stroke="#ec8d80" stroke-width="0.8"/>
<line x1="56.00" y1="404.08" x2="58.80" y2="404.08" stroke="#ec8d80" stroke-width="0.8"/>
<line x1="56.00" y1="405.09" x2="58.80" y2="405.09" stroke="#ec8d80" stroke-width="0.8"/>
<path d="M55.30,406.48 L57.40,402.38 L59.50,406.48Z" fill="#ec8d80"/>
<line x1="67.93" y1="398.89" x2="67.93" y2="397.09" stroke="#ec8d80" stroke-width="0.8"/>
<line x1="66.53" y1="397.09" x2="69.33" y2="397.09" stroke="#ec8d80" stroke-width="0.8"/>
<line x1="66.53" y1="398.89" x2="69.33" y2="398.89" stroke="#ec8d80" stroke-width="0.8"/>
<path d="M65.83,399.89 L67.93,395.79 L70.03,399.89Z" fill="#ec8d80"/>
<line x1="78.46" y1="393.05" x2="78.46" y2="390.50" stroke="#ec8d80" stroke-width="0.8"/>
<line x1="77.06" y1="390.50" x2="79.86" y2="390.50" stroke="#ec8d80" stroke-width="0.8"/>
<line x1="77.06" y1="393.05" x2="79.86" y2="393.05" stroke="#ec8d80" stroke-width="0.8"/>
<path d="M76.36,393.67 L78.46,389.57 L80.56,393.67Z" fill="#ec8d80"/>
<line x1="88.99" y1="387.20" x2="88.99" y2="383.90" stroke="#ec8d80" stroke-width="0.8"/>
<line x1="87.59" y1="383.90" x2="90.39" y2="383.90" stroke="#ec8d80" stroke-width="0.8"/>
<line x1="87.59" y1="387.20" x2="90.39" y2="387.20" stroke="#ec8d80" stroke-width="0.8"/>
<path d="M86.89,387.45 L88.99,383.35 L91.09,387.45Z" fill="#ec8d80"/>
<line x1="99.52" y1="380.66" x2="99.52" y2="376.53" stroke="#ec8d80" stroke-width="0.8"/>
<line x1="98.12" y1="376.53" x2="100.92" y2="376.53" stroke="#ec8d80" stroke-width="0.8"/>
<line x1="98.12" y1="380.66" x2="100.92" y2="380.66" stroke="#ec8d80" stroke-width="0.8"/>
<path d="M97.42,380.50 L99.52,376.40 L101.62,380.50Z" fill="#ec8d80"/>
<line x1="110.05" y1="373.95" x2="110.05" y2="368.97" stroke="#ec8d80" stroke-width="0.8"/>
<line x1="108.65" y1="368.97" x2="111.45" y2="368.97" stroke="#ec8d80" stroke-width="0.8"/>
<line x1="108.65" y1="373.95" x2="111.45" y2="373.95" stroke="#ec8d80" stroke-width="0.8"/>
<path d="M107.95,373.36 L110.05,369.26 L112.15,373.36Z" fill="#ec8d80"/>
<line x1="120.58" y1="368.62" x2="120.58" y2="362.95" stroke="#ec8d80" stroke-width="0.8"/>
<line x1="119.18" y1="362.95" x2="121.98" y2="362.95" stroke="#ec8d80" stroke-width="0.8"/>
<line x1="119.18" y1="368.62" x2="121.98" y2="368.62" stroke="#ec8d80" stroke-width="0.8"/>
<path d="M118.48,367.69 L120.58,363.59 L122.68,367.69Z" fill="#ec8d80"/>
<line x1="131.11" y1="362.08" x2="131.11" y2="355.58" stroke="#ec8d80" stroke-width="0.8"/>
<line x1="129.71" y1="355.58" x2="132.51" y2="355.58" stroke="#ec8d80" stroke-width="0.8"/>
<line x1="129.71" y1="362.08" x2="132.51" y2="362.08" stroke="#ec8d80" stroke-width="0.8"/>
<path d="M129.01,360.73 L131.11,356.63 L133.21,360.73Z" fill="#ec8d80"/>
<line x1="141.64" y1="356.23" x2="141.64" y2="348.99" stroke="#ec8d80" stroke-width="0.8"/>
<line x1="140.24" y1="348.99" x2="143.04" y2="348.99" stroke="#ec8d80" stroke-width="0.8"/>
<line x1="140.24" y1="356.23" x2="143.04" y2="356.23" stroke="#ec8d80" stroke-width="0.8"/>
<path d="M139.54,354.51 L141.64,350.41 L143.74,354.51Z" fill="#ec8d80"/>
<line x1="152.17" y1="350.04" x2="152.17" y2="342.00" stroke="#ec8d80" stroke-width="0.8"/>
<line x1="150.77" y1="342.00" x2="153.57" y2="342.00" stroke="#ec8d80" stroke-width="0.8"/>
<line x1="150.77" y1="350.04" x2="153.57" y2="350.04" stroke="#ec8d80" stroke-width="0.8"/>
<path d="M150.07,347.92 L152.17,343.82 L154.27,347.92Z" fill="#ec8d80"/>
<line x1="57.40" y1="390.20" x2="57.40" y2="396.30" stroke="#961e3e" stroke-width="1.0"/>
<path d="M55.60,395.10 L57.40,398.30 L59.20,395.10Z" fill="#961e3e"/>
<line x1="78.46" y1="378.00" x2="78.46" y2="384.20" stroke="#961e3e" stroke-width="1.0"/>
<path d="M76.66,383.00 L78.46,386.20 L80.26,383.00Z" fill="#961e3e"/>
<line x1="88.99" y1="371.00" x2="88.99" y2="376.90" stroke="#961e3e" stroke-width="1.0"/>
<path d="M87.19,375.70 L88.99,378.90 L90.79,375.70Z" fill="#961e3e"/>
<line x1="110.05" y1="358.50" x2="110.05" y2="364.80" stroke="#961e3e" stroke-width="1.0"/>
<path d="M108.25,363.60 L110.05,366.80 L111.85,363.60Z" fill="#961e3e"/>
<line x1="131.11" y1="345.80" x2="131.11" y2="351.50" stroke="#961e3e" stroke-width="1.0"/>
<path d="M129.31,350.30 L131.11,353.50 L132.91,350.30Z" fill="#961e3e"/>
<polyline points="157.00,354.30 159.70,354.30 159.70,383.30" stroke="#222" stroke-width="0.9" fill="none"/>
<polyline points="164.50,369.40 167.50,369.40 167.50,383.30" stroke="#222" stroke-width="0.9" fill="none"/>
<polyline points="157.00,383.30 171.80,383.30 171.80,388.20 169.40,388.20" stroke="#222" stroke-width="0.9" fill="none"/>
<text transform="translate(163.50,372.40) rotate(90)" x="0" y="2.51" font-size="7" text-anchor="middle" fill="#2a2a2a" letter-spacing="2.6" stroke="#2a2a2a">**</text>
<text transform="translate(170.90,376.80) rotate(90)" x="0" y="2.51" font-size="7" text-anchor="middle" fill="#d83a62" stroke="#d83a62">***</text>
<text transform="translate(175.70,385.00) rotate(90)" x="0" y="1.86" font-size="5.2" text-anchor="middle" fill="#5aa87a" stroke="#5aa87a">n.s.</text>
<text x="192.50" y="305.52" font-size="11.8" font-weight="bold" fill="#000" stroke="#000" style="stroke-width:0.4px">G</text>
<line x1="235.40" y1="400.55" x2="235.40" y2="318.80" stroke="#333" stroke-width="1.15"/>
<line x1="232.40" y1="400.00" x2="235.40" y2="400.00" stroke="#333" stroke-width="1.1"/>
<text x="229.60" y="402.43" font-size="6.8" text-anchor="end" fill="#262626" stroke="#262626">0</text>
<line x1="232.40" y1="379.85" x2="235.40" y2="379.85" stroke="#333" stroke-width="1.1"/>
<text x="229.60" y="382.28" font-size="6.8" text-anchor="end" fill="#262626" stroke="#262626">0.5</text>
<line x1="232.40" y1="359.70" x2="235.40" y2="359.70" stroke="#333" stroke-width="1.1"/>
<text x="229.60" y="362.13" font-size="6.8" text-anchor="end" fill="#262626" stroke="#262626">1.0</text>
<line x1="232.40" y1="339.55" x2="235.40" y2="339.55" stroke="#333" stroke-width="1.1"/>
<text x="229.60" y="341.98" font-size="6.8" text-anchor="end" fill="#262626" stroke="#262626">1.5</text>
<line x1="232.40" y1="319.40" x2="235.40" y2="319.40" stroke="#333" stroke-width="1.1"/>
<text x="229.60" y="321.83" font-size="6.8" text-anchor="end" fill="#262626" stroke="#262626">2.0</text>
<line x1="234.90" y1="400.00" x2="330.40" y2="400.00" stroke="#333" stroke-width="1.1"/>
<text transform="translate(212.0,359.7) rotate(-90)" font-size="9.2" fill="#262626" text-anchor="middle" y="3.3" textLength="50.7" lengthAdjust="spacingAndGlyphs" stroke="#262626">Tumor weight (g)</text>
<rect x="241.20" y="339.55" width="10.00" height="60.45" fill="#8f84c6"/>
<line x1="246.20" y1="346.40" x2="246.20" y2="332.70" stroke="#222" stroke-width="0.8"/>
<line x1="243.20" y1="332.70" x2="249.20" y2="332.70" stroke="#222" stroke-width="0.8"/>
<line x1="243.20" y1="346.40" x2="249.20" y2="346.40" stroke="#222" stroke-width="0.8"/>
<circle cx="246.20" cy="325.44" r="1.35" fill="#111"/>
<circle cx="246.20" cy="334.71" r="1.35" fill="#111"/>
<circle cx="246.20" cy="347.61" r="1.35" fill="#111"/>
<circle cx="246.20" cy="358.49" r="1.35" fill="#111"/>
<circle cx="246.20" cy="337.54" r="1.35" fill="#111"/>
<line x1="246.20" y1="400.00" x2="246.20" y2="402.30" stroke="#333" stroke-width="1.0"/>
<rect x="254.00" y="366.95" width="10.00" height="33.05" fill="#1f4e8b"/>
<line x1="259.00" y1="370.18" x2="259.00" y2="363.73" stroke="#222" stroke-width="0.8"/>
<line x1="256.00" y1="363.73" x2="262.00" y2="363.73" stroke="#222" stroke-width="0.8"/>
<line x1="256.00" y1="370.18" x2="262.00" y2="370.18" stroke="#222" stroke-width="0.8"/>
<circle cx="257.00" cy="362.92" r="1.35" fill="#111"/>
<circle cx="261.00" cy="362.92" r="1.35" fill="#111"/>
<circle cx="259.00" cy="367.76" r="1.35" fill="#111"/>
<circle cx="259.00" cy="370.98" r="1.35" fill="#111"/>
<circle cx="259.00" cy="375.82" r="1.35" fill="#111"/>
<line x1="259.00" y1="400.00" x2="259.00" y2="402.30" stroke="#333" stroke-width="1.0"/>
<rect x="271.20" y="334.31" width="10.00" height="65.69" fill="#e88a7d"/>
<line x1="276.20" y1="337.54" x2="276.20" y2="331.09" stroke="#222" stroke-width="0.8"/>
<line x1="273.20" y1="331.09" x2="279.20" y2="331.09" stroke="#222" stroke-width="0.8"/>
<line x1="273.20" y1="337.54" x2="279.20" y2="337.54" stroke="#222" stroke-width="0.8"/>
<circle cx="273.70" cy="330.68" r="1.35" fill="#111"/>
<circle cx="276.20" cy="331.49" r="1.35" fill="#111"/>
<circle cx="278.70" cy="330.28" r="1.35" fill="#111"/>
<circle cx="276.20" cy="337.54" r="1.35" fill="#111"/>
<circle cx="276.20" cy="347.61" r="1.35" fill="#111"/>
<line x1="276.20" y1="400.00" x2="276.20" y2="402.30" stroke="#333" stroke-width="1.0"/>
<rect x="283.80" y="348.42" width="10.00" height="51.58" fill="#c5173b"/>
<line x1="288.80" y1="353.25" x2="288.80" y2="343.58" stroke="#222" stroke-width="0.8"/>
<line x1="285.80" y1="343.58" x2="291.80" y2="343.58" stroke="#222" stroke-width="0.8"/>
<line x1="285.80" y1="353.25" x2="291.80" y2="353.25" stroke="#222" stroke-width="0.8"/>
<circle cx="288.80" cy="330.68" r="1.35" fill="#111"/>
<circle cx="286.80" cy="347.61" r="1.35" fill="#111"/>
<circle cx="290.80" cy="347.61" r="1.35" fill="#111"/>
<circle cx="288.80" cy="352.45" r="1.35" fill="#111"/>
<circle cx="288.80" cy="357.69" r="1.35" fill="#111"/>
<line x1="288.80" y1="400.00" x2="288.80" y2="402.30" stroke="#333" stroke-width="1.0"/>
<rect x="301.20" y="355.67" width="10.00" height="44.33" fill="#b9dca4"/>
<line x1="306.20" y1="360.51" x2="306.20" y2="350.83" stroke="#222" stroke-width="0.8"/>
<line x1="303.20" y1="350.83" x2="309.20" y2="350.83" stroke="#222" stroke-width="0.8"/>
<line x1="303.20" y1="360.51" x2="309.20" y2="360.51" stroke="#222" stroke-width="0.8"/>
<circle cx="306.20" cy="345.60" r="1.35" fill="#111"/>
<circle cx="306.20" cy="351.64" r="1.35" fill="#111"/>
<circle cx="306.20" cy="356.48" r="1.35" fill="#111"/>
<circle cx="306.20" cy="361.72" r="1.35" fill="#111"/>
<circle cx="306.20" cy="364.54" r="1.35" fill="#111"/>
<line x1="306.20" y1="400.00" x2="306.20" y2="402.30" stroke="#333" stroke-width="1.0"/>
<rect x="314.20" y="368.57" width="10.00" height="31.43" fill="#3ca53b"/>
<line x1="319.20" y1="373.40" x2="319.20" y2="363.73" stroke="#222" stroke-width="0.8"/>
<line x1="316.20" y1="363.73" x2="322.20" y2="363.73" stroke="#222" stroke-width="0.8"/>
<line x1="316.20" y1="373.40" x2="322.20" y2="373.40" stroke="#222" stroke-width="0.8"/>
<circle cx="319.20" cy="353.66" r="1.35" fill="#111"/>
<circle cx="319.20" cy="363.73" r="1.35" fill="#111"/>
<circle cx="319.20" cy="369.77" r="1.35" fill="#111"/>
<circle cx="319.20" cy="375.01" r="1.35" fill="#111"/>
<circle cx="319.20" cy="381.87" r="1.35" fill="#111"/>
<line x1="319.20" y1="400.00" x2="319.20" y2="402.30" stroke="#333" stroke-width="1.0"/>
<text x="228.00" y="410.76" font-size="6.3" text-anchor="end" fill="#262626" stroke="#262626">shZDHHC21</text>
<line x1="244.50" y1="410.30" x2="247.90" y2="410.30" stroke="#555" stroke-width="0.75"/>
<text x="259.00" y="412.35" font-size="6" text-anchor="middle" fill="#262626" stroke="#262626">+</text>
<line x1="274.50" y1="410.30" x2="277.90" y2="410.30" stroke="#555" stroke-width="0.75"/>
<text x="288.80" y="412.35" font-size="6" text-anchor="middle" fill="#262626" stroke="#262626">+</text>
<line x1="304.50" y1="410.30" x2="307.90" y2="410.30" stroke="#555" stroke-width="0.75"/>
<text x="319.20" y="412.35" font-size="6" text-anchor="middle" fill="#262626" stroke="#262626">+</text>
<line x1="240.00" y1="416.50" x2="263.00" y2="416.50" stroke="#333" stroke-width="1.0"/>
<line x1="271.40" y1="416.50" x2="293.80" y2="416.50" stroke="#333" stroke-width="1.0"/>
<line x1="300.00" y1="416.50" x2="324.00" y2="416.50" stroke="#333" stroke-width="1.0"/>
<text x="251.70" y="425.63" font-size="6.5" text-anchor="middle" fill="#262626" stroke="#262626">Vector</text>
<text x="282.50" y="425.63" font-size="6.5" text-anchor="middle" fill="#262626" stroke="#262626">WT</text>
<text x="311.70" y="425.63" font-size="6.5" text-anchor="middle" fill="#262626" stroke="#262626">C120S</text>
<polyline points="246.30,320.50 246.30,317.00 258.00,317.00" stroke="#333" stroke-width="0.9" fill="none"/>
<line x1="258.00" y1="304.20" x2="258.00" y2="327.50" stroke="#333" stroke-width="0.9"/>
<polyline points="258.00,311.30 288.00,311.30 288.00,314.40" stroke="#333" stroke-width="0.9" fill="none"/>
<polyline points="258.00,304.20 319.60,304.20 319.60,307.20" stroke="#333" stroke-width="0.9" fill="none"/>
<text x="252.00" y="318.01" font-size="7" text-anchor="middle" fill="#262626" stroke="#262626">**</text>
<text x="272.30" y="312.51" font-size="7" text-anchor="middle" fill="#262626" stroke="#262626">*</text>
<text x="288.00" y="301.42" font-size="6.2" text-anchor="middle" fill="#262626" stroke="#262626">n.s.</text>
<text x="344.30" y="305.52" font-size="11.8" font-weight="bold" fill="#000" stroke="#000" style="stroke-width:0.4px">H</text>
<text x="406.00" y="310.54" font-size="8.5" text-anchor="middle" fill="#262626" stroke="#262626">HL60</text>
<text x="486.00" y="310.54" font-size="8.5" text-anchor="middle" fill="#262626" stroke="#262626">NB4</text>
<line x1="379.90" y1="400.35" x2="379.90" y2="317.20" stroke="#333" stroke-width="1.15"/>
<line x1="376.90" y1="399.80" x2="379.90" y2="399.80" stroke="#333" stroke-width="1.1"/>
<text x="374.10" y="402.23" font-size="6.8" text-anchor="end" fill="#262626" stroke="#262626">0</text>
<line x1="376.90" y1="383.40" x2="379.90" y2="383.40" stroke="#333" stroke-width="1.1"/>
<text x="374.10" y="385.83" font-size="6.8" text-anchor="end" fill="#262626" stroke="#262626">10</text>
<line x1="376.90" y1="367.00" x2="379.90" y2="367.00" stroke="#333" stroke-width="1.1"/>
<text x="374.10" y="369.43" font-size="6.8" text-anchor="end" fill="#262626" stroke="#262626">20</text>
<line x1="376.90" y1="350.60" x2="379.90" y2="350.60" stroke="#333" stroke-width="1.1"/>
<text x="374.10" y="353.03" font-size="6.8" text-anchor="end" fill="#262626" stroke="#262626">30</text>
<line x1="376.90" y1="334.20" x2="379.90" y2="334.20" stroke="#333" stroke-width="1.1"/>
<text x="374.10" y="336.63" font-size="6.8" text-anchor="end" fill="#262626" stroke="#262626">40</text>
<line x1="376.90" y1="317.80" x2="379.90" y2="317.80" stroke="#333" stroke-width="1.1"/>
<text x="374.10" y="320.23" font-size="6.8" text-anchor="end" fill="#262626" stroke="#262626">50</text>
<line x1="379.40" y1="399.80" x2="433.60" y2="399.80" stroke="#333" stroke-width="1.1"/>
<rect x="383.20" y="378.48" width="8.20" height="21.32" fill="#4a5766"/>
<line x1="387.30" y1="380.12" x2="387.30" y2="376.84" stroke="#222" stroke-width="0.8"/>
<line x1="384.84" y1="376.84" x2="389.76" y2="376.84" stroke="#222" stroke-width="0.8"/>
<line x1="384.84" y1="380.12" x2="389.76" y2="380.12" stroke="#222" stroke-width="0.8"/>
<circle cx="385.10" cy="379.30" r="1.25" fill="#111"/>
<circle cx="387.30" cy="377.50" r="1.25" fill="#111"/>
<circle cx="389.50" cy="378.48" r="1.25" fill="#111"/>
<line x1="387.30" y1="399.80" x2="387.30" y2="402.10" stroke="#333" stroke-width="1.0"/>
<text x="387.30" y="412.43" font-size="6.8" text-anchor="middle" fill="#262626" stroke="#262626">0</text>
<rect x="392.90" y="367.82" width="8.20" height="31.98" fill="#d9c7e1"/>
<line x1="397.00" y1="370.28" x2="397.00" y2="365.36" stroke="#222" stroke-width="0.8"/>
<line x1="394.54" y1="365.36" x2="399.46" y2="365.36" stroke="#222" stroke-width="0.8"/>
<line x1="394.54" y1="370.28" x2="399.46" y2="370.28" stroke="#222" stroke-width="0.8"/>
<circle cx="394.80" cy="369.05" r="1.25" fill="#111"/>
<circle cx="397.00" cy="366.34" r="1.25" fill="#111"/>
<circle cx="399.20" cy="367.82" r="1.25" fill="#111"/>
<line x1="397.00" y1="399.80" x2="397.00" y2="402.10" stroke="#333" stroke-width="1.0"/>
<text x="397.00" y="363.19" font-size="6.8" text-anchor="middle" fill="#2a2a2a" stroke="#2a2a2a">**</text>
<text x="397.00" y="412.43" font-size="6.8" text-anchor="middle" fill="#262626" stroke="#262626">10</text>
<rect x="402.60" y="353.88" width="8.20" height="45.92" fill="#a983b8"/>
<line x1="406.70" y1="358.80" x2="406.70" y2="348.96" stroke="#222" stroke-width="0.8"/>
<line x1="404.24" y1="348.96" x2="409.16" y2="348.96" stroke="#222" stroke-width="0.8"/>
<line x1="404.24" y1="358.80" x2="409.16" y2="358.80" stroke="#222" stroke-width="0.8"/>
<circle cx="404.50" cy="356.34" r="1.25" fill="#111"/>
<circle cx="406.70" cy="350.93" r="1.25" fill="#111"/>
<circle cx="408.90" cy="353.88" r="1.25" fill="#111"/>
<line x1="406.70" y1="399.80" x2="406.70" y2="402.10" stroke="#333" stroke-width="1.0"/>
<text x="406.70" y="346.79" font-size="6.8" text-anchor="middle" fill="#2a2a2a" stroke="#2a2a2a">**</text>
<text x="406.70" y="412.43" font-size="6.8" text-anchor="middle" fill="#262626" stroke="#262626">20</text>
<rect x="412.10" y="345.68" width="8.20" height="54.12" fill="#7d4a8e"/>
<line x1="416.20" y1="353.06" x2="416.20" y2="338.30" stroke="#222" stroke-width="0.8"/>
<line x1="413.74" y1="338.30" x2="418.66" y2="338.30" stroke="#222" stroke-width="0.8"/>
<line x1="413.74" y1="353.06" x2="418.66" y2="353.06" stroke="#222" stroke-width="0.8"/>
<circle cx="414.00" cy="349.37" r="1.25" fill="#111"/>
<circle cx="416.20" cy="341.25" r="1.25" fill="#111"/>
<circle cx="418.40" cy="345.68" r="1.25" fill="#111"/>
<line x1="416.20" y1="399.80" x2="416.20" y2="402.10" stroke="#333" stroke-width="1.0"/>
<text x="416.20" y="336.13" font-size="6.8" text-anchor="middle" fill="#2a2a2a" stroke="#2a2a2a">**</text>
<text x="416.20" y="412.43" font-size="6.8" text-anchor="middle" fill="#262626" stroke="#262626">40</text>
<rect x="421.60" y="344.04" width="8.20" height="55.76" fill="#5c1a68"/>
<line x1="425.70" y1="348.14" x2="425.70" y2="339.94" stroke="#222" stroke-width="0.8"/>
<line x1="423.24" y1="339.94" x2="428.16" y2="339.94" stroke="#222" stroke-width="0.8"/>
<line x1="423.24" y1="348.14" x2="428.16" y2="348.14" stroke="#222" stroke-width="0.8"/>
<circle cx="423.50" cy="346.09" r="1.25" fill="#111"/>
<circle cx="425.70" cy="341.58" r="1.25" fill="#111"/>
<circle cx="427.90" cy="344.04" r="1.25" fill="#111"/>
<line x1="425.70" y1="399.80" x2="425.70" y2="402.10" stroke="#333" stroke-width="1.0"/>
<text x="425.70" y="337.77" font-size="6.8" text-anchor="middle" fill="#2a2a2a" stroke="#2a2a2a">***</text>
<text x="425.70" y="412.43" font-size="6.8" text-anchor="middle" fill="#262626" stroke="#262626">60</text>
<line x1="380.80" y1="416.40" x2="432.60" y2="416.40" stroke="#333" stroke-width="1.0"/>
<text x="406.50" y="425.96" font-size="6.3" text-anchor="middle" fill="#262626" stroke="#262626">2BP (μM)</text>
<line x1="457.90" y1="400.35" x2="457.90" y2="317.20" stroke="#333" stroke-width="1.15"/>
<line x1="454.90" y1="399.80" x2="457.90" y2="399.80" stroke="#333" stroke-width="1.1"/>
<text x="452.10" y="402.23" font-size="6.8" text-anchor="end" fill="#262626" stroke="#262626">0</text>
<line x1="454.90" y1="383.40" x2="457.90" y2="383.40" stroke="#333" stroke-width="1.1"/>
<text x="452.10" y="385.83" font-size="6.8" text-anchor="end" fill="#262626" stroke="#262626">10</text>
<line x1="454.90" y1="367.00" x2="457.90" y2="367.00" stroke="#333" stroke-width="1.1"/>
<text x="452.10" y="369.43" font-size="6.8" text-anchor="end" fill="#262626" stroke="#262626">20</text>
<line x1="454.90" y1="350.60" x2="457.90" y2="350.60" stroke="#333" stroke-width="1.1"/>
<text x="452.10" y="353.03" font-size="6.8" text-anchor="end" fill="#262626" stroke="#262626">30</text>
<line x1="454.90" y1="334.20" x2="457.90" y2="334.20" stroke="#333" stroke-width="1.1"/>
<text x="452.10" y="336.63" font-size="6.8" text-anchor="end" fill="#262626" stroke="#262626">40</text>
<line x1="454.90" y1="317.80" x2="457.90" y2="317.80" stroke="#333" stroke-width="1.1"/>
<text x="452.10" y="320.23" font-size="6.8" text-anchor="end" fill="#262626" stroke="#262626">50</text>
<line x1="457.40" y1="399.80" x2="511.00" y2="399.80" stroke="#333" stroke-width="1.1"/>
<rect x="461.80" y="390.78" width="8.20" height="9.02" fill="#4a5766"/>
<line x1="465.90" y1="392.42" x2="465.90" y2="389.14" stroke="#222" stroke-width="0.8"/>
<line x1="463.44" y1="389.14" x2="468.36" y2="389.14" stroke="#222" stroke-width="0.8"/>
<line x1="463.44" y1="392.42" x2="468.36" y2="392.42" stroke="#222" stroke-width="0.8"/>
<circle cx="463.70" cy="391.60" r="1.25" fill="#111"/>
<circle cx="465.90" cy="389.80" r="1.25" fill="#111"/>
<circle cx="468.10" cy="390.78" r="1.25" fill="#111"/>
<line x1="465.90" y1="399.80" x2="465.90" y2="402.10" stroke="#333" stroke-width="1.0"/>
<text x="465.90" y="412.43" font-size="6.8" text-anchor="middle" fill="#262626" stroke="#262626">0</text>
<rect x="471.50" y="375.20" width="8.20" height="24.60" fill="#d9c7e1"/>
<line x1="475.60" y1="382.58" x2="475.60" y2="367.82" stroke="#222" stroke-width="0.8"/>
<line x1="473.14" y1="367.82" x2="478.06" y2="367.82" stroke="#222" stroke-width="0.8"/>
<line x1="473.14" y1="382.58" x2="478.06" y2="382.58" stroke="#222" stroke-width="0.8"/>
<circle cx="473.40" cy="378.89" r="1.25" fill="#111"/>
<circle cx="475.60" cy="370.77" r="1.25" fill="#111"/>
<circle cx="477.80" cy="375.20" r="1.25" fill="#111"/>
<line x1="475.60" y1="399.80" x2="475.60" y2="402.10" stroke="#333" stroke-width="1.0"/>
<text x="475.60" y="365.65" font-size="6.8" text-anchor="middle" fill="#2a2a2a" stroke="#2a2a2a">*</text>
<text x="475.60" y="412.43" font-size="6.8" text-anchor="middle" fill="#262626" stroke="#262626">10</text>
<rect x="481.20" y="368.64" width="8.20" height="31.16" fill="#a983b8"/>
<line x1="485.30" y1="374.38" x2="485.30" y2="362.90" stroke="#222" stroke-width="0.8"/>
<line x1="482.84" y1="362.90" x2="487.76" y2="362.90" stroke="#222" stroke-width="0.8"/>
<line x1="482.84" y1="374.38" x2="487.76" y2="374.38" stroke="#222" stroke-width="0.8"/>
<circle cx="483.10" cy="371.51" r="1.25" fill="#111"/>
<circle cx="485.30" cy="365.20" r="1.25" fill="#111"/>
<circle cx="487.50" cy="368.64" r="1.25" fill="#111"/>
<line x1="485.30" y1="399.80" x2="485.30" y2="402.10" stroke="#333" stroke-width="1.0"/>
<text x="485.30" y="360.73" font-size="6.8" text-anchor="middle" fill="#2a2a2a" stroke="#2a2a2a">**</text>
<text x="485.30" y="412.43" font-size="6.8" text-anchor="middle" fill="#262626" stroke="#262626">20</text>
<rect x="490.40" y="345.68" width="8.20" height="54.12" fill="#7d4a8e"/>
<line x1="494.50" y1="361.26" x2="494.50" y2="330.10" stroke="#222" stroke-width="0.8"/>
<line x1="492.04" y1="330.10" x2="496.96" y2="330.10" stroke="#222" stroke-width="0.8"/>
<line x1="492.04" y1="361.26" x2="496.96" y2="361.26" stroke="#222" stroke-width="0.8"/>
<circle cx="492.30" cy="353.47" r="1.25" fill="#111"/>
<circle cx="494.50" cy="336.33" r="1.25" fill="#111"/>
<circle cx="496.70" cy="345.68" r="1.25" fill="#111"/>
<line x1="494.50" y1="399.80" x2="494.50" y2="402.10" stroke="#333" stroke-width="1.0"/>
<text x="494.50" y="327.93" font-size="6.8" text-anchor="middle" fill="#2a2a2a" stroke="#2a2a2a">**</text>
<text x="494.50" y="412.43" font-size="6.8" text-anchor="middle" fill="#262626" stroke="#262626">40</text>
<rect x="500.10" y="333.38" width="8.20" height="66.42" fill="#5c1a68"/>
<line x1="504.20" y1="335.84" x2="504.20" y2="330.92" stroke="#222" stroke-width="0.8"/>
<line x1="501.74" y1="330.92" x2="506.66" y2="330.92" stroke="#222" stroke-width="0.8"/>
<line x1="501.74" y1="335.84" x2="506.66" y2="335.84" stroke="#222" stroke-width="0.8"/>
<circle cx="502.00" cy="334.61" r="1.25" fill="#111"/>
<circle cx="504.20" cy="331.90" r="1.25" fill="#111"/>
<circle cx="506.40" cy="333.38" r="1.25" fill="#111"/>
<line x1="504.20" y1="399.80" x2="504.20" y2="402.10" stroke="#333" stroke-width="1.0"/>
<text x="504.20" y="328.75" font-size="6.8" text-anchor="middle" fill="#2a2a2a" stroke="#2a2a2a">***</text>
<text x="504.20" y="412.43" font-size="6.8" text-anchor="middle" fill="#262626" stroke="#262626">60</text>
<line x1="458.90" y1="416.40" x2="511.00" y2="416.40" stroke="#333" stroke-width="1.0"/>
<text x="485.00" y="425.96" font-size="6.3" text-anchor="middle" fill="#262626" stroke="#262626">2BP (μM)</text>
<text transform="translate(357.3,357.2) rotate(-90)" font-size="9.2" fill="#262626" text-anchor="middle" y="3.3" textLength="33.3" lengthAdjust="spacingAndGlyphs" stroke="#262626">CD11b (%)</text>
<text x="344.20" y="452.72" font-size="11.8" font-weight="bold" fill="#000" stroke="#000" style="stroke-width:0.4px">K</text>
<text x="406.70" y="453.24" font-size="8.5" text-anchor="middle" fill="#262626" stroke="#262626">HL60</text>
<text x="485.00" y="453.24" font-size="8.5" text-anchor="middle" fill="#262626" stroke="#262626">NB4</text>
<line x1="378.50" y1="543.65" x2="378.50" y2="460.65" stroke="#333" stroke-width="1.15"/>
<line x1="375.50" y1="543.10" x2="378.50" y2="543.10" stroke="#333" stroke-width="1.1"/>
<text x="372.70" y="545.53" font-size="6.8" text-anchor="end" fill="#262626" stroke="#262626">0</text>
<line x1="375.50" y1="515.82" x2="378.50" y2="515.82" stroke="#333" stroke-width="1.1"/>
<text x="372.70" y="518.25" font-size="6.8" text-anchor="end" fill="#262626" stroke="#262626">20</text>
<line x1="375.50" y1="488.53" x2="378.50" y2="488.53" stroke="#333" stroke-width="1.1"/>
<text x="372.70" y="490.97" font-size="6.8" text-anchor="end" fill="#262626" stroke="#262626">40</text>
<line x1="375.50" y1="461.25" x2="378.50" y2="461.25" stroke="#333" stroke-width="1.1"/>
<text x="372.70" y="463.68" font-size="6.8" text-anchor="end" fill="#262626" stroke="#262626">60</text>
<line x1="378.00" y1="543.10" x2="434.20" y2="543.10" stroke="#333" stroke-width="1.1"/>
<rect x="382.70" y="530.82" width="8.00" height="12.28" fill="#4a5766"/>
<line x1="386.70" y1="532.87" x2="386.70" y2="528.78" stroke="#222" stroke-width="0.8"/>
<line x1="384.30" y1="528.78" x2="389.10" y2="528.78" stroke="#222" stroke-width="0.8"/>
<line x1="384.30" y1="532.87" x2="389.10" y2="532.87" stroke="#222" stroke-width="0.8"/>
<circle cx="384.50" cy="531.85" r="1.25" fill="#111"/>
<circle cx="386.70" cy="529.59" r="1.25" fill="#111"/>
<circle cx="388.90" cy="530.82" r="1.25" fill="#111"/>
<line x1="386.70" y1="543.10" x2="386.70" y2="545.40" stroke="#333" stroke-width="1.0"/>
<text x="386.70" y="556.23" font-size="6.8" text-anchor="middle" fill="#262626" stroke="#262626">0</text>
<rect x="393.10" y="521.27" width="8.00" height="21.83" fill="#d9c7e1"/>
<line x1="397.10" y1="524.00" x2="397.10" y2="518.55" stroke="#222" stroke-width="0.8"/>
<line x1="394.70" y1="518.55" x2="399.50" y2="518.55" stroke="#222" stroke-width="0.8"/>
<line x1="394.70" y1="524.00" x2="399.50" y2="524.00" stroke="#222" stroke-width="0.8"/>
<circle cx="394.90" cy="522.64" r="1.25" fill="#111"/>
<circle cx="397.10" cy="519.64" r="1.25" fill="#111"/>
<circle cx="399.30" cy="521.27" r="1.25" fill="#111"/>
<line x1="397.10" y1="543.10" x2="397.10" y2="545.40" stroke="#333" stroke-width="1.0"/>
<text x="397.10" y="516.38" font-size="6.8" text-anchor="middle" fill="#2a2a2a" stroke="#2a2a2a">**</text>
<text x="397.10" y="556.23" font-size="6.8" text-anchor="middle" fill="#262626" stroke="#262626">10</text>
<rect x="402.50" y="504.22" width="8.00" height="38.88" fill="#a983b8"/>
<line x1="406.50" y1="508.31" x2="406.50" y2="500.13" stroke="#222" stroke-width="0.8"/>
<line x1="404.10" y1="500.13" x2="408.90" y2="500.13" stroke="#222" stroke-width="0.8"/>
<line x1="404.10" y1="508.31" x2="408.90" y2="508.31" stroke="#222" stroke-width="0.8"/>
<circle cx="404.30" cy="506.27" r="1.25" fill="#111"/>
<circle cx="406.50" cy="501.77" r="1.25" fill="#111"/>
<circle cx="408.70" cy="504.22" r="1.25" fill="#111"/>
<line x1="406.50" y1="543.10" x2="406.50" y2="545.40" stroke="#333" stroke-width="1.0"/>
<text x="406.50" y="497.96" font-size="6.8" text-anchor="middle" fill="#2a2a2a" stroke="#2a2a2a">***</text>
<text x="406.50" y="556.23" font-size="6.8" text-anchor="middle" fill="#262626" stroke="#262626">20</text>
<rect x="412.30" y="484.44" width="8.00" height="58.66" fill="#7d4a8e"/>
<line x1="416.30" y1="489.90" x2="416.30" y2="478.98" stroke="#222" stroke-width="0.8"/>
<line x1="413.90" y1="478.98" x2="418.70" y2="478.98" stroke="#222" stroke-width="0.8"/>
<line x1="413.90" y1="489.90" x2="418.70" y2="489.90" stroke="#222" stroke-width="0.8"/>
<circle cx="414.10" cy="487.17" r="1.25" fill="#111"/>
<circle cx="416.30" cy="481.17" r="1.25" fill="#111"/>
<circle cx="418.50" cy="484.44" r="1.25" fill="#111"/>
<line x1="416.30" y1="543.10" x2="416.30" y2="545.40" stroke="#333" stroke-width="1.0"/>
<text x="416.30" y="476.82" font-size="6.8" text-anchor="middle" fill="#2a2a2a" stroke="#2a2a2a">***</text>
<text x="416.30" y="556.23" font-size="6.8" text-anchor="middle" fill="#262626" stroke="#262626">40</text>
<rect x="421.90" y="480.35" width="8.00" height="62.75" fill="#5c1a68"/>
<line x1="425.90" y1="483.08" x2="425.90" y2="477.62" stroke="#222" stroke-width="0.8"/>
<line x1="423.50" y1="477.62" x2="428.30" y2="477.62" stroke="#222" stroke-width="0.8"/>
<line x1="423.50" y1="483.08" x2="428.30" y2="483.08" stroke="#222" stroke-width="0.8"/>
<circle cx="423.70" cy="481.71" r="1.25" fill="#111"/>
<circle cx="425.90" cy="478.71" r="1.25" fill="#111"/>
<circle cx="428.10" cy="480.35" r="1.25" fill="#111"/>
<line x1="425.90" y1="543.10" x2="425.90" y2="545.40" stroke="#333" stroke-width="1.0"/>
<text x="425.90" y="475.45" font-size="6.8" text-anchor="middle" fill="#2a2a2a" stroke="#2a2a2a">***</text>
<text x="425.90" y="556.23" font-size="6.8" text-anchor="middle" fill="#262626" stroke="#262626">60</text>
<line x1="380.20" y1="559.60" x2="433.00" y2="559.60" stroke="#333" stroke-width="1.0"/>
<text x="406.00" y="568.76" font-size="6.3" text-anchor="middle" fill="#262626" stroke="#262626">2BP (μM)</text>
<line x1="457.50" y1="543.65" x2="457.50" y2="460.65" stroke="#333" stroke-width="1.15"/>
<line x1="454.50" y1="543.10" x2="457.50" y2="543.10" stroke="#333" stroke-width="1.1"/>
<text x="451.70" y="545.53" font-size="6.8" text-anchor="end" fill="#262626" stroke="#262626">0</text>
<line x1="454.50" y1="526.73" x2="457.50" y2="526.73" stroke="#333" stroke-width="1.1"/>
<text x="451.70" y="529.16" font-size="6.8" text-anchor="end" fill="#262626" stroke="#262626">10</text>
<line x1="454.50" y1="510.36" x2="457.50" y2="510.36" stroke="#333" stroke-width="1.1"/>
<text x="451.70" y="512.79" font-size="6.8" text-anchor="end" fill="#262626" stroke="#262626">20</text>
<line x1="454.50" y1="493.99" x2="457.50" y2="493.99" stroke="#333" stroke-width="1.1"/>
<text x="451.70" y="496.42" font-size="6.8" text-anchor="end" fill="#262626" stroke="#262626">30</text>
<line x1="454.50" y1="477.62" x2="457.50" y2="477.62" stroke="#333" stroke-width="1.1"/>
<text x="451.70" y="480.05" font-size="6.8" text-anchor="end" fill="#262626" stroke="#262626">40</text>
<line x1="454.50" y1="461.25" x2="457.50" y2="461.25" stroke="#333" stroke-width="1.1"/>
<text x="451.70" y="463.68" font-size="6.8" text-anchor="end" fill="#262626" stroke="#262626">50</text>
<line x1="457.00" y1="543.10" x2="511.70" y2="543.10" stroke="#333" stroke-width="1.1"/>
<rect x="461.30" y="534.10" width="8.00" height="9.00" fill="#4a5766"/>
<line x1="465.30" y1="535.24" x2="465.30" y2="532.95" stroke="#222" stroke-width="0.8"/>
<line x1="462.90" y1="532.95" x2="467.70" y2="532.95" stroke="#222" stroke-width="0.8"/>
<line x1="462.90" y1="535.24" x2="467.70" y2="535.24" stroke="#222" stroke-width="0.8"/>
<circle cx="463.10" cy="534.67" r="1.25" fill="#111"/>
<circle cx="465.30" cy="533.41" r="1.25" fill="#111"/>
<circle cx="467.50" cy="534.10" r="1.25" fill="#111"/>
<line x1="465.30" y1="543.10" x2="465.30" y2="545.40" stroke="#333" stroke-width="1.0"/>
<text x="465.30" y="556.23" font-size="6.8" text-anchor="middle" fill="#262626" stroke="#262626">0</text>
<rect x="471.00" y="522.64" width="8.00" height="20.46" fill="#d9c7e1"/>
<line x1="475.00" y1="532.46" x2="475.00" y2="512.82" stroke="#222" stroke-width="0.8"/>
<line x1="472.60" y1="512.82" x2="477.40" y2="512.82" stroke="#222" stroke-width="0.8"/>
<line x1="472.60" y1="532.46" x2="477.40" y2="532.46" stroke="#222" stroke-width="0.8"/>
<circle cx="472.80" cy="527.55" r="1.25" fill="#111"/>
<circle cx="475.00" cy="516.74" r="1.25" fill="#111"/>
<circle cx="477.20" cy="522.64" r="1.25" fill="#111"/>
<line x1="475.00" y1="543.10" x2="475.00" y2="545.40" stroke="#333" stroke-width="1.0"/>
<text x="475.00" y="510.65" font-size="6.8" text-anchor="middle" fill="#2a2a2a" stroke="#2a2a2a">*</text>
<text x="475.00" y="556.23" font-size="6.8" text-anchor="middle" fill="#262626" stroke="#262626">10</text>
<rect x="480.80" y="520.18" width="8.00" height="22.92" fill="#a983b8"/>
<line x1="484.80" y1="522.64" x2="484.80" y2="517.73" stroke="#222" stroke-width="0.8"/>
<line x1="482.40" y1="517.73" x2="487.20" y2="517.73" stroke="#222" stroke-width="0.8"/>
<line x1="482.40" y1="522.64" x2="487.20" y2="522.64" stroke="#222" stroke-width="0.8"/>
<circle cx="482.60" cy="521.41" r="1.25" fill="#111"/>
<circle cx="484.80" cy="518.71" r="1.25" fill="#111"/>
<circle cx="487.00" cy="520.18" r="1.25" fill="#111"/>
<line x1="484.80" y1="543.10" x2="484.80" y2="545.40" stroke="#333" stroke-width="1.0"/>
<text x="484.80" y="515.56" font-size="6.8" text-anchor="middle" fill="#2a2a2a" stroke="#2a2a2a">***</text>
<text x="484.80" y="556.23" font-size="6.8" text-anchor="middle" fill="#262626" stroke="#262626">20</text>
<rect x="490.40" y="507.09" width="8.00" height="36.01" fill="#7d4a8e"/>
<line x1="494.40" y1="515.27" x2="494.40" y2="498.90" stroke="#222" stroke-width="0.8"/>
<line x1="492.00" y1="498.90" x2="496.80" y2="498.90" stroke="#222" stroke-width="0.8"/>
<line x1="492.00" y1="515.27" x2="496.80" y2="515.27" stroke="#222" stroke-width="0.8"/>
<circle cx="492.20" cy="511.18" r="1.25" fill="#111"/>
<circle cx="494.40" cy="502.18" r="1.25" fill="#111"/>
<circle cx="496.60" cy="507.09" r="1.25" fill="#111"/>
<line x1="494.40" y1="543.10" x2="494.40" y2="545.40" stroke="#333" stroke-width="1.0"/>
<text x="494.40" y="496.74" font-size="6.8" text-anchor="middle" fill="#2a2a2a" stroke="#2a2a2a">**</text>
<text x="494.40" y="556.23" font-size="6.8" text-anchor="middle" fill="#262626" stroke="#262626">40</text>
<rect x="500.20" y="481.71" width="8.00" height="61.39" fill="#5c1a68"/>
<line x1="504.20" y1="496.45" x2="504.20" y2="466.98" stroke="#222" stroke-width="0.8"/>
<line x1="501.80" y1="466.98" x2="506.60" y2="466.98" stroke="#222" stroke-width="0.8"/>
<line x1="501.80" y1="496.45" x2="506.60" y2="496.45" stroke="#222" stroke-width="0.8"/>
<circle cx="502.00" cy="489.08" r="1.25" fill="#111"/>
<circle cx="504.20" cy="472.87" r="1.25" fill="#111"/>
<circle cx="506.40" cy="481.71" r="1.25" fill="#111"/>
<line x1="504.20" y1="543.10" x2="504.20" y2="545.40" stroke="#333" stroke-width="1.0"/>
<text x="504.20" y="464.81" font-size="6.8" text-anchor="middle" fill="#2a2a2a" stroke="#2a2a2a">**</text>
<text x="504.20" y="556.23" font-size="6.8" text-anchor="middle" fill="#262626" stroke="#262626">60</text>
<line x1="458.50" y1="559.60" x2="511.25" y2="559.60" stroke="#333" stroke-width="1.0"/>
<text x="484.60" y="568.76" font-size="6.3" text-anchor="middle" fill="#262626" stroke="#262626">2BP (μM)</text>
<text transform="translate(357.0,500.5) rotate(-90)" font-size="9.2" fill="#262626" text-anchor="middle" y="3.3" textLength="28.5" lengthAdjust="spacingAndGlyphs" stroke="#262626">CD14 (%)</text>
<text x="8.00" y="452.72" font-size="11.8" font-weight="bold" fill="#000" stroke="#000" style="stroke-width:0.4px">I</text>
<line x1="37.50" y1="544.05" x2="37.50" y2="460.00" stroke="#333" stroke-width="1.15"/>
<line x1="34.50" y1="543.50" x2="37.50" y2="543.50" stroke="#333" stroke-width="1.1"/>
<text x="31.70" y="545.93" font-size="6.8" text-anchor="end" fill="#262626" stroke="#262626">0</text>
<line x1="34.50" y1="522.77" x2="37.50" y2="522.77" stroke="#333" stroke-width="1.1"/>
<text x="31.70" y="525.21" font-size="6.8" text-anchor="end" fill="#262626" stroke="#262626">20</text>
<line x1="34.50" y1="502.05" x2="37.50" y2="502.05" stroke="#333" stroke-width="1.1"/>
<text x="31.70" y="504.48" font-size="6.8" text-anchor="end" fill="#262626" stroke="#262626">40</text>
<line x1="34.50" y1="481.32" x2="37.50" y2="481.32" stroke="#333" stroke-width="1.1"/>
<text x="31.70" y="483.76" font-size="6.8" text-anchor="end" fill="#262626" stroke="#262626">60</text>
<line x1="34.50" y1="460.60" x2="37.50" y2="460.60" stroke="#333" stroke-width="1.1"/>
<text x="31.70" y="463.03" font-size="6.8" text-anchor="end" fill="#262626" stroke="#262626">80</text>
<line x1="37.00" y1="543.50" x2="144.40" y2="543.50" stroke="#333" stroke-width="1.1"/>
<text transform="translate(15.1,500.3) rotate(-90)" font-size="9.2" fill="#262626" text-anchor="middle" y="3.3" textLength="33.4" lengthAdjust="spacingAndGlyphs" stroke="#262626">CD11b (%)</text>
<rect x="41.70" y="540.39" width="8.80" height="3.11" fill="#4a5766"/>
<line x1="46.10" y1="542.46" x2="46.10" y2="538.32" stroke="#222" stroke-width="0.8"/>
<line x1="43.46" y1="538.32" x2="48.74" y2="538.32" stroke="#222" stroke-width="0.8"/>
<line x1="43.46" y1="542.46" x2="48.74" y2="542.46" stroke="#222" stroke-width="0.8"/>
<circle cx="44.10" cy="541.43" r="1.30" fill="#111"/>
<circle cx="46.10" cy="538.53" r="1.30" fill="#111"/>
<circle cx="48.10" cy="540.39" r="1.30" fill="#111"/>
<line x1="46.10" y1="543.50" x2="46.10" y2="545.80" stroke="#333" stroke-width="1.0"/>
<line x1="44.40" y1="553.60" x2="47.80" y2="553.60" stroke="#555" stroke-width="0.75"/>
<rect x="53.10" y="490.65" width="8.80" height="52.85" fill="#5e1f6b"/>
<line x1="57.50" y1="502.05" x2="57.50" y2="479.25" stroke="#222" stroke-width="0.8"/>
<line x1="54.86" y1="479.25" x2="60.14" y2="479.25" stroke="#222" stroke-width="0.8"/>
<line x1="54.86" y1="502.05" x2="60.14" y2="502.05" stroke="#222" stroke-width="0.8"/>
<circle cx="55.50" cy="496.35" r="1.30" fill="#111"/>
<circle cx="57.50" cy="480.39" r="1.30" fill="#111"/>
<circle cx="59.50" cy="490.65" r="1.30" fill="#111"/>
<line x1="57.50" y1="543.50" x2="57.50" y2="545.80" stroke="#333" stroke-width="1.0"/>
<text x="57.50" y="555.65" font-size="6" text-anchor="middle" fill="#262626" stroke="#262626">+</text>
<text x="57.50" y="476.49" font-size="6.8" text-anchor="middle" fill="#2a2a2a" stroke="#2a2a2a">**</text>
<rect x="66.30" y="537.80" width="8.80" height="5.70" fill="#4a5766"/>
<line x1="70.70" y1="538.32" x2="70.70" y2="537.28" stroke="#222" stroke-width="0.8"/>
<line x1="68.06" y1="537.28" x2="73.34" y2="537.28" stroke="#222" stroke-width="0.8"/>
<line x1="68.06" y1="538.32" x2="73.34" y2="538.32" stroke="#222" stroke-width="0.8"/>
<circle cx="68.70" cy="538.06" r="1.30" fill="#111"/>
<circle cx="70.70" cy="537.33" r="1.30" fill="#111"/>
<circle cx="72.70" cy="537.80" r="1.30" fill="#111"/>
<line x1="70.70" y1="543.50" x2="70.70" y2="545.80" stroke="#333" stroke-width="1.0"/>
<line x1="69.00" y1="553.60" x2="72.40" y2="553.60" stroke="#555" stroke-width="0.75"/>
<rect x="77.50" y="494.80" width="8.80" height="48.70" fill="#5e1f6b"/>
<line x1="81.90" y1="498.94" x2="81.90" y2="490.65" stroke="#222" stroke-width="0.8"/>
<line x1="79.26" y1="490.65" x2="84.54" y2="490.65" stroke="#222" stroke-width="0.8"/>
<line x1="79.26" y1="498.94" x2="84.54" y2="498.94" stroke="#222" stroke-width="0.8"/>
<circle cx="79.90" cy="496.87" r="1.30" fill="#111"/>
<circle cx="81.90" cy="491.07" r="1.30" fill="#111"/>
<circle cx="83.90" cy="494.80" r="1.30" fill="#111"/>
<line x1="81.90" y1="543.50" x2="81.90" y2="545.80" stroke="#333" stroke-width="1.0"/>
<text x="81.90" y="555.65" font-size="6" text-anchor="middle" fill="#262626" stroke="#262626">+</text>
<text x="81.90" y="487.89" font-size="6.8" text-anchor="middle" fill="#2a2a2a" stroke="#2a2a2a">***</text>
<rect x="90.80" y="530.03" width="8.80" height="13.47" fill="#4a5766"/>
<line x1="95.20" y1="532.62" x2="95.20" y2="527.44" stroke="#222" stroke-width="0.8"/>
<line x1="92.56" y1="527.44" x2="97.84" y2="527.44" stroke="#222" stroke-width="0.8"/>
<line x1="92.56" y1="532.62" x2="97.84" y2="532.62" stroke="#222" stroke-width="0.8"/>
<circle cx="93.20" cy="531.32" r="1.30" fill="#111"/>
<circle cx="95.20" cy="527.70" r="1.30" fill="#111"/>
<circle cx="97.20" cy="530.03" r="1.30" fill="#111"/>
<line x1="95.20" y1="543.50" x2="95.20" y2="545.80" stroke="#333" stroke-width="1.0"/>
<line x1="93.50" y1="553.60" x2="96.90" y2="553.60" stroke="#555" stroke-width="0.75"/>
<rect x="102.70" y="513.45" width="8.80" height="30.05" fill="#5e1f6b"/>
<line x1="107.10" y1="519.67" x2="107.10" y2="507.23" stroke="#222" stroke-width="0.8"/>
<line x1="104.46" y1="507.23" x2="109.74" y2="507.23" stroke="#222" stroke-width="0.8"/>
<line x1="104.46" y1="519.67" x2="109.74" y2="519.67" stroke="#222" stroke-width="0.8"/>
<circle cx="105.10" cy="516.56" r="1.30" fill="#111"/>
<circle cx="107.10" cy="507.85" r="1.30" fill="#111"/>
<circle cx="109.10" cy="513.45" r="1.30" fill="#111"/>
<line x1="107.10" y1="543.50" x2="107.10" y2="545.80" stroke="#333" stroke-width="1.0"/>
<text x="107.10" y="555.65" font-size="6" text-anchor="middle" fill="#262626" stroke="#262626">+</text>
<text x="107.10" y="504.47" font-size="6.8" text-anchor="middle" fill="#2a2a2a" stroke="#2a2a2a">*</text>
<rect x="115.20" y="532.10" width="8.80" height="11.40" fill="#4a5766"/>
<line x1="119.60" y1="532.62" x2="119.60" y2="531.58" stroke="#222" stroke-width="0.8"/>
<line x1="116.96" y1="531.58" x2="122.24" y2="531.58" stroke="#222" stroke-width="0.8"/>
<line x1="116.96" y1="532.62" x2="122.24" y2="532.62" stroke="#222" stroke-width="0.8"/>
<circle cx="117.60" cy="532.36" r="1.30" fill="#111"/>
<circle cx="119.60" cy="531.63" r="1.30" fill="#111"/>
<circle cx="121.60" cy="532.10" r="1.30" fill="#111"/>
<line x1="119.60" y1="543.50" x2="119.60" y2="545.80" stroke="#333" stroke-width="1.0"/>
<line x1="117.90" y1="553.60" x2="121.30" y2="553.60" stroke="#555" stroke-width="0.75"/>
<rect x="127.30" y="507.23" width="8.80" height="36.27" fill="#5e1f6b"/>
<line x1="131.70" y1="509.82" x2="131.70" y2="504.64" stroke="#222" stroke-width="0.8"/>
<line x1="129.06" y1="504.64" x2="134.34" y2="504.64" stroke="#222" stroke-width="0.8"/>
<line x1="129.06" y1="509.82" x2="134.34" y2="509.82" stroke="#222" stroke-width="0.8"/>
<circle cx="129.70" cy="508.53" r="1.30" fill="#111"/>
<circle cx="131.70" cy="504.90" r="1.30" fill="#111"/>
<circle cx="133.70" cy="507.23" r="1.30" fill="#111"/>
<line x1="131.70" y1="543.50" x2="131.70" y2="545.80" stroke="#333" stroke-width="1.0"/>
<text x="131.70" y="555.65" font-size="6" text-anchor="middle" fill="#262626" stroke="#262626">+</text>
<text x="131.70" y="501.88" font-size="6.8" text-anchor="middle" fill="#2a2a2a" stroke="#2a2a2a">***</text>
<text x="28.00" y="555.26" font-size="6.3" text-anchor="middle" fill="#262626" stroke="#262626">2BP</text>
<line x1="41.70" y1="559.60" x2="62.50" y2="559.60" stroke="#333" stroke-width="1.0"/>
<line x1="68.30" y1="559.60" x2="88.75" y2="559.60" stroke="#333" stroke-width="1.0"/>
<line x1="92.30" y1="559.60" x2="111.70" y2="559.60" stroke="#333" stroke-width="1.0"/>
<line x1="115.20" y1="559.60" x2="135.40" y2="559.60" stroke="#333" stroke-width="1.0"/>
<text transform="translate(52.60,567.3) rotate(-32)" font-size="6.3" fill="#262626" text-anchor="end" stroke="#262626">MV411</text>
<text transform="translate(77.40,567.3) rotate(-32)" font-size="6.3" fill="#262626" text-anchor="end" stroke="#262626">OCI-AML3</text>
<text transform="translate(101.60,567.3) rotate(-32)" font-size="6.3" fill="#262626" text-anchor="end" stroke="#262626">THP-1</text>
<text transform="translate(126.30,567.3) rotate(-32)" font-size="6.3" fill="#262626" text-anchor="end" stroke="#262626">Kasumi-1</text>
<text x="156.50" y="452.82" font-size="11.8" font-weight="bold" fill="#000" stroke="#000" style="stroke-width:0.4px">J</text>
<line x1="189.00" y1="543.65" x2="189.00" y2="460.00" stroke="#333" stroke-width="1.15"/>
<line x1="186.00" y1="543.10" x2="189.00" y2="543.10" stroke="#333" stroke-width="1.1"/>
<text x="183.20" y="545.53" font-size="6.8" text-anchor="end" fill="#262626" stroke="#262626">0</text>
<line x1="186.00" y1="526.60" x2="189.00" y2="526.60" stroke="#333" stroke-width="1.1"/>
<text x="183.20" y="529.03" font-size="6.8" text-anchor="end" fill="#262626" stroke="#262626">10</text>
<line x1="186.00" y1="510.10" x2="189.00" y2="510.10" stroke="#333" stroke-width="1.1"/>
<text x="183.20" y="512.53" font-size="6.8" text-anchor="end" fill="#262626" stroke="#262626">20</text>
<line x1="186.00" y1="493.60" x2="189.00" y2="493.60" stroke="#333" stroke-width="1.1"/>
<text x="183.20" y="496.03" font-size="6.8" text-anchor="end" fill="#262626" stroke="#262626">30</text>
<line x1="186.00" y1="477.10" x2="189.00" y2="477.10" stroke="#333" stroke-width="1.1"/>
<text x="183.20" y="479.53" font-size="6.8" text-anchor="end" fill="#262626" stroke="#262626">40</text>
<line x1="186.00" y1="460.60" x2="189.00" y2="460.60" stroke="#333" stroke-width="1.1"/>
<text x="183.20" y="463.03" font-size="6.8" text-anchor="end" fill="#262626" stroke="#262626">50</text>
<line x1="188.50" y1="543.10" x2="331.25" y2="543.10" stroke="#333" stroke-width="1.1"/>
<text transform="translate(166.3,500.2) rotate(-90)" font-size="9.2" fill="#262626" text-anchor="middle" y="3.3" textLength="33.3" lengthAdjust="spacingAndGlyphs" stroke="#262626">CD11b (%)</text>
<rect x="192.70" y="523.30" width="7.60" height="19.80" fill="#4a5766"/>
<line x1="196.50" y1="524.62" x2="196.50" y2="521.98" stroke="#222" stroke-width="0.8"/>
<line x1="194.22" y1="521.98" x2="198.78" y2="521.98" stroke="#222" stroke-width="0.8"/>
<line x1="194.22" y1="524.62" x2="198.78" y2="524.62" stroke="#222" stroke-width="0.8"/>
<circle cx="194.70" cy="523.96" r="1.25" fill="#111"/>
<circle cx="196.50" cy="522.11" r="1.25" fill="#111"/>
<circle cx="198.30" cy="523.30" r="1.25" fill="#111"/>
<line x1="196.50" y1="543.10" x2="196.50" y2="545.40" stroke="#333" stroke-width="1.0"/>
<line x1="194.80" y1="553.60" x2="198.20" y2="553.60" stroke="#555" stroke-width="0.75"/>
<rect x="203.10" y="501.03" width="7.60" height="42.07" fill="#f6b91a"/>
<line x1="206.90" y1="509.28" x2="206.90" y2="492.78" stroke="#222" stroke-width="0.8"/>
<line x1="204.62" y1="492.78" x2="209.18" y2="492.78" stroke="#222" stroke-width="0.8"/>
<line x1="204.62" y1="509.28" x2="209.18" y2="509.28" stroke="#222" stroke-width="0.8"/>
<circle cx="205.10" cy="505.15" r="1.25" fill="#111"/>
<circle cx="206.90" cy="493.60" r="1.25" fill="#111"/>
<circle cx="208.70" cy="501.03" r="1.25" fill="#111"/>
<line x1="206.90" y1="543.10" x2="206.90" y2="545.40" stroke="#333" stroke-width="1.0"/>
<text x="206.90" y="555.65" font-size="6" text-anchor="middle" fill="#262626" stroke="#262626">+</text>
<text x="206.90" y="490.41" font-size="6.8" text-anchor="middle" fill="#2a2a2a" stroke="#2a2a2a">*</text>
<rect x="215.60" y="525.77" width="7.60" height="17.33" fill="#4a5766"/>
<line x1="219.40" y1="528.25" x2="219.40" y2="523.30" stroke="#222" stroke-width="0.8"/>
<line x1="217.12" y1="523.30" x2="221.68" y2="523.30" stroke="#222" stroke-width="0.8"/>
<line x1="217.12" y1="528.25" x2="221.68" y2="528.25" stroke="#222" stroke-width="0.8"/>
<circle cx="217.60" cy="527.01" r="1.25" fill="#111"/>
<circle cx="219.40" cy="523.55" r="1.25" fill="#111"/>
<circle cx="221.20" cy="525.77" r="1.25" fill="#111"/>
<line x1="219.40" y1="543.10" x2="219.40" y2="545.40" stroke="#333" stroke-width="1.0"/>
<line x1="217.70" y1="553.60" x2="221.10" y2="553.60" stroke="#555" stroke-width="0.75"/>
<rect x="226.00" y="490.30" width="7.60" height="52.80" fill="#f6b91a"/>
<line x1="229.80" y1="494.43" x2="229.80" y2="486.18" stroke="#222" stroke-width="0.8"/>
<line x1="227.52" y1="486.18" x2="232.08" y2="486.18" stroke="#222" stroke-width="0.8"/>
<line x1="227.52" y1="494.43" x2="232.08" y2="494.43" stroke="#222" stroke-width="0.8"/>
<circle cx="228.00" cy="492.36" r="1.25" fill="#111"/>
<circle cx="229.80" cy="486.59" r="1.25" fill="#111"/>
<circle cx="231.60" cy="490.30" r="1.25" fill="#111"/>
<line x1="229.80" y1="543.10" x2="229.80" y2="545.40" stroke="#333" stroke-width="1.0"/>
<text x="229.80" y="555.65" font-size="6" text-anchor="middle" fill="#262626" stroke="#262626">+</text>
<text x="229.80" y="483.81" font-size="6.8" text-anchor="middle" fill="#2a2a2a" stroke="#2a2a2a">***</text>
<rect x="238.50" y="531.55" width="7.60" height="11.55" fill="#4a5766"/>
<line x1="242.30" y1="535.68" x2="242.30" y2="527.43" stroke="#222" stroke-width="0.8"/>
<line x1="240.02" y1="527.43" x2="244.58" y2="527.43" stroke="#222" stroke-width="0.8"/>
<line x1="240.02" y1="535.68" x2="244.58" y2="535.68" stroke="#222" stroke-width="0.8"/>
<circle cx="240.50" cy="533.61" r="1.25" fill="#111"/>
<circle cx="242.30" cy="527.84" r="1.25" fill="#111"/>
<circle cx="244.10" cy="531.55" r="1.25" fill="#111"/>
<line x1="242.30" y1="543.10" x2="242.30" y2="545.40" stroke="#333" stroke-width="1.0"/>
<line x1="240.60" y1="553.60" x2="244.00" y2="553.60" stroke="#555" stroke-width="0.75"/>
<rect x="248.75" y="475.45" width="7.60" height="67.65" fill="#f6b91a"/>
<line x1="252.55" y1="482.88" x2="252.55" y2="468.03" stroke="#222" stroke-width="0.8"/>
<line x1="250.27" y1="468.03" x2="254.83" y2="468.03" stroke="#222" stroke-width="0.8"/>
<line x1="250.27" y1="482.88" x2="254.83" y2="482.88" stroke="#222" stroke-width="0.8"/>
<circle cx="250.75" cy="479.16" r="1.25" fill="#111"/>
<circle cx="252.55" cy="468.77" r="1.25" fill="#111"/>
<circle cx="254.35" cy="475.45" r="1.25" fill="#111"/>
<line x1="252.55" y1="543.10" x2="252.55" y2="545.40" stroke="#333" stroke-width="1.0"/>
<text x="252.55" y="555.65" font-size="6" text-anchor="middle" fill="#262626" stroke="#262626">+</text>
<text x="252.55" y="465.66" font-size="6.8" text-anchor="middle" fill="#2a2a2a" stroke="#2a2a2a">***</text>
<rect x="261.50" y="533.20" width="7.60" height="9.90" fill="#4a5766"/>
<line x1="265.30" y1="536.50" x2="265.30" y2="529.90" stroke="#222" stroke-width="0.8"/>
<line x1="263.02" y1="529.90" x2="267.58" y2="529.90" stroke="#222" stroke-width="0.8"/>
<line x1="263.02" y1="536.50" x2="267.58" y2="536.50" stroke="#222" stroke-width="0.8"/>
<circle cx="263.50" cy="534.85" r="1.25" fill="#111"/>
<circle cx="265.30" cy="530.23" r="1.25" fill="#111"/>
<circle cx="267.10" cy="533.20" r="1.25" fill="#111"/>
<line x1="265.30" y1="543.10" x2="265.30" y2="545.40" stroke="#333" stroke-width="1.0"/>
<line x1="263.60" y1="553.60" x2="267.00" y2="553.60" stroke="#555" stroke-width="0.75"/>
<rect x="271.70" y="477.93" width="7.60" height="65.18" fill="#f6b91a"/>
<line x1="275.50" y1="482.88" x2="275.50" y2="472.98" stroke="#222" stroke-width="0.8"/>
<line x1="273.22" y1="472.98" x2="277.78" y2="472.98" stroke="#222" stroke-width="0.8"/>
<line x1="273.22" y1="482.88" x2="277.78" y2="482.88" stroke="#222" stroke-width="0.8"/>
<circle cx="273.70" cy="480.40" r="1.25" fill="#111"/>
<circle cx="275.50" cy="473.47" r="1.25" fill="#111"/>
<circle cx="277.30" cy="477.93" r="1.25" fill="#111"/>
<line x1="275.50" y1="543.10" x2="275.50" y2="545.40" stroke="#333" stroke-width="1.0"/>
<text x="275.50" y="555.65" font-size="6" text-anchor="middle" fill="#262626" stroke="#262626">+</text>
<text x="275.50" y="470.61" font-size="6.8" text-anchor="middle" fill="#2a2a2a" stroke="#2a2a2a">***</text>
<rect x="284.40" y="522.48" width="7.60" height="20.62" fill="#4a5766"/>
<line x1="288.20" y1="529.90" x2="288.20" y2="515.05" stroke="#222" stroke-width="0.8"/>
<line x1="285.92" y1="515.05" x2="290.48" y2="515.05" stroke="#222" stroke-width="0.8"/>
<line x1="285.92" y1="529.90" x2="290.48" y2="529.90" stroke="#222" stroke-width="0.8"/>
<circle cx="286.40" cy="526.19" r="1.25" fill="#111"/>
<circle cx="288.20" cy="515.79" r="1.25" fill="#111"/>
<circle cx="290.00" cy="522.48" r="1.25" fill="#111"/>
<line x1="288.20" y1="543.10" x2="288.20" y2="545.40" stroke="#333" stroke-width="1.0"/>
<line x1="286.50" y1="553.60" x2="289.90" y2="553.60" stroke="#555" stroke-width="0.75"/>
<rect x="294.80" y="487.83" width="7.60" height="55.27" fill="#f6b91a"/>
<line x1="298.60" y1="504.33" x2="298.60" y2="471.33" stroke="#222" stroke-width="0.8"/>
<line x1="296.32" y1="471.33" x2="300.88" y2="471.33" stroke="#222" stroke-width="0.8"/>
<line x1="296.32" y1="504.33" x2="300.88" y2="504.33" stroke="#222" stroke-width="0.8"/>
<circle cx="296.80" cy="496.08" r="1.25" fill="#111"/>
<circle cx="298.60" cy="472.98" r="1.25" fill="#111"/>
<circle cx="300.40" cy="487.83" r="1.25" fill="#111"/>
<line x1="298.60" y1="543.10" x2="298.60" y2="545.40" stroke="#333" stroke-width="1.0"/>
<text x="298.60" y="555.65" font-size="6" text-anchor="middle" fill="#262626" stroke="#262626">+</text>
<text x="298.60" y="468.96" font-size="6.8" text-anchor="middle" fill="#2a2a2a" stroke="#2a2a2a">*</text>
<rect x="307.70" y="526.60" width="7.60" height="16.50" fill="#4a5766"/>
<line x1="311.50" y1="529.08" x2="311.50" y2="524.12" stroke="#222" stroke-width="0.8"/>
<line x1="309.22" y1="524.12" x2="313.78" y2="524.12" stroke="#222" stroke-width="0.8"/>
<line x1="309.22" y1="529.08" x2="313.78" y2="529.08" stroke="#222" stroke-width="0.8"/>
<circle cx="309.70" cy="527.84" r="1.25" fill="#111"/>
<circle cx="311.50" cy="524.37" r="1.25" fill="#111"/>
<circle cx="313.30" cy="526.60" r="1.25" fill="#111"/>
<line x1="311.50" y1="543.10" x2="311.50" y2="545.40" stroke="#333" stroke-width="1.0"/>
<line x1="309.80" y1="553.60" x2="313.20" y2="553.60" stroke="#555" stroke-width="0.75"/>
<rect x="317.50" y="497.73" width="7.60" height="45.38" fill="#f6b91a"/>
<line x1="321.30" y1="502.68" x2="321.30" y2="492.78" stroke="#222" stroke-width="0.8"/>
<line x1="319.02" y1="492.78" x2="323.58" y2="492.78" stroke="#222" stroke-width="0.8"/>
<line x1="319.02" y1="502.68" x2="323.58" y2="502.68" stroke="#222" stroke-width="0.8"/>
<circle cx="319.50" cy="500.20" r="1.25" fill="#111"/>
<circle cx="321.30" cy="493.27" r="1.25" fill="#111"/>
<circle cx="323.10" cy="497.73" r="1.25" fill="#111"/>
<line x1="321.30" y1="543.10" x2="321.30" y2="545.40" stroke="#333" stroke-width="1.0"/>
<text x="321.30" y="555.65" font-size="6" text-anchor="middle" fill="#262626" stroke="#262626">+</text>
<text x="321.30" y="490.41" font-size="6.8" text-anchor="middle" fill="#2a2a2a" stroke="#2a2a2a">**</text>
<text x="178.00" y="555.26" font-size="6.3" text-anchor="middle" fill="#262626" stroke="#262626">TM</text>
<line x1="191.70" y1="559.60" x2="211.70" y2="559.60" stroke="#333" stroke-width="1.0"/>
<line x1="214.60" y1="559.60" x2="234.60" y2="559.60" stroke="#333" stroke-width="1.0"/>
<line x1="237.50" y1="559.60" x2="257.35" y2="559.60" stroke="#333" stroke-width="1.0"/>
<line x1="260.50" y1="559.60" x2="280.30" y2="559.60" stroke="#333" stroke-width="1.0"/>
<line x1="283.40" y1="559.60" x2="303.40" y2="559.60" stroke="#333" stroke-width="1.0"/>
<line x1="306.70" y1="559.60" x2="326.10" y2="559.60" stroke="#333" stroke-width="1.0"/>
<text transform="translate(202.40,567.3) rotate(-32)" font-size="6.3" fill="#262626" text-anchor="end" stroke="#262626">HL60</text>
<text transform="translate(225.30,567.3) rotate(-32)" font-size="6.3" fill="#262626" text-anchor="end" stroke="#262626">NB4</text>
<text transform="translate(248.12,567.3) rotate(-32)" font-size="6.3" fill="#262626" text-anchor="end" stroke="#262626">MV411</text>
<text transform="translate(271.10,567.3) rotate(-32)" font-size="6.3" fill="#262626" text-anchor="end" stroke="#262626">OCI-AML3</text>
<text transform="translate(294.10,567.3) rotate(-32)" font-size="6.3" fill="#262626" text-anchor="end" stroke="#262626">THP-1</text>
<text transform="translate(317.10,567.3) rotate(-32)" font-size="6.3" fill="#262626" text-anchor="end" stroke="#262626">Kasumi-1</text>
<text x="7.80" y="608.72" font-size="11.8" font-weight="bold" fill="#000" stroke="#000" style="stroke-width:0.4px">L</text>
<text x="135.60" y="608.96" font-size="6.3" text-anchor="middle" fill="#262626" stroke="#262626">2BP (μM)</text>
<line x1="27.00" y1="613.70" x2="243.30" y2="613.70" stroke="#333" stroke-width="1.0"/>
<text x="48.00" y="622.46" font-size="6.3" text-anchor="middle" fill="#262626" stroke="#262626">Ctrl</text>
<text x="91.30" y="622.46" font-size="6.3" text-anchor="middle" fill="#262626" stroke="#262626">10</text>
<text x="135.60" y="622.46" font-size="6.3" text-anchor="middle" fill="#262626" stroke="#262626">20</text>
<text x="178.70" y="622.46" font-size="6.3" text-anchor="middle" fill="#262626" stroke="#262626">40</text>
<text x="222.50" y="622.46" font-size="6.3" text-anchor="middle" fill="#262626" stroke="#262626">60</text>
<text transform="translate(18.75,648.00) rotate(-90)" x="0" y="2.26" font-size="6.3" text-anchor="middle" fill="#262626" stroke="#262626">HL60</text>
<text transform="translate(18.75,691.30) rotate(-90)" x="0" y="2.26" font-size="6.3" text-anchor="middle" fill="#262626" stroke="#262626">NB4</text>
<line x1="286.30" y1="702.85" x2="286.30" y2="619.60" stroke="#333" stroke-width="1.15"/>
<line x1="283.30" y1="702.30" x2="286.30" y2="702.30" stroke="#333" stroke-width="1.1"/>
<text x="280.50" y="704.73" font-size="6.8" text-anchor="end" fill="#262626" stroke="#262626">0</text>
<line x1="283.30" y1="685.88" x2="286.30" y2="685.88" stroke="#333" stroke-width="1.1"/>
<text x="280.50" y="688.31" font-size="6.8" text-anchor="end" fill="#262626" stroke="#262626">10</text>
<line x1="283.30" y1="669.46" x2="286.30" y2="669.46" stroke="#333" stroke-width="1.1"/>
<text x="280.50" y="671.89" font-size="6.8" text-anchor="end" fill="#262626" stroke="#262626">20</text>
<line x1="283.30" y1="653.04" x2="286.30" y2="653.04" stroke="#333" stroke-width="1.1"/>
<text x="280.50" y="655.47" font-size="6.8" text-anchor="end" fill="#262626" stroke="#262626">30</text>
<line x1="283.30" y1="636.62" x2="286.30" y2="636.62" stroke="#333" stroke-width="1.1"/>
<text x="280.50" y="639.05" font-size="6.8" text-anchor="end" fill="#262626" stroke="#262626">40</text>
<line x1="283.30" y1="620.20" x2="286.30" y2="620.20" stroke="#333" stroke-width="1.1"/>
<text x="280.50" y="622.63" font-size="6.8" text-anchor="end" fill="#262626" stroke="#262626">50</text>
<line x1="285.80" y1="702.30" x2="340.20" y2="702.30" stroke="#333" stroke-width="1.1"/>
<rect x="290.40" y="692.45" width="8.00" height="9.85" fill="#4a5766"/>
<line x1="294.40" y1="695.40" x2="294.40" y2="689.49" stroke="#222" stroke-width="0.8"/>
<line x1="292.00" y1="689.49" x2="296.80" y2="689.49" stroke="#222" stroke-width="0.8"/>
<line x1="292.00" y1="695.40" x2="296.80" y2="695.40" stroke="#222" stroke-width="0.8"/>
<circle cx="292.20" cy="693.93" r="1.25" fill="#111"/>
<circle cx="294.40" cy="690.67" r="1.25" fill="#111"/>
<circle cx="296.60" cy="692.45" r="1.25" fill="#111"/>
<rect x="299.80" y="677.67" width="8.00" height="24.63" fill="#d9c7e1"/>
<line x1="303.80" y1="681.77" x2="303.80" y2="673.56" stroke="#222" stroke-width="0.8"/>
<line x1="301.40" y1="673.56" x2="306.20" y2="673.56" stroke="#222" stroke-width="0.8"/>
<line x1="301.40" y1="681.77" x2="306.20" y2="681.77" stroke="#222" stroke-width="0.8"/>
<circle cx="301.60" cy="679.72" r="1.25" fill="#111"/>
<circle cx="303.80" cy="675.21" r="1.25" fill="#111"/>
<circle cx="306.00" cy="677.67" r="1.25" fill="#111"/>
<text x="303.80" y="671.40" font-size="6.8" text-anchor="middle" fill="#2a2a2a" stroke="#2a2a2a">**</text>
<rect x="309.20" y="666.18" width="8.00" height="36.12" fill="#a983b8"/>
<line x1="313.20" y1="667.49" x2="313.20" y2="664.86" stroke="#222" stroke-width="0.8"/>
<line x1="310.80" y1="664.86" x2="315.60" y2="664.86" stroke="#222" stroke-width="0.8"/>
<line x1="310.80" y1="667.49" x2="315.60" y2="667.49" stroke="#222" stroke-width="0.8"/>
<circle cx="311.00" cy="666.83" r="1.25" fill="#111"/>
<circle cx="313.20" cy="665.39" r="1.25" fill="#111"/>
<circle cx="315.40" cy="666.18" r="1.25" fill="#111"/>
<text x="313.20" y="662.70" font-size="6.8" text-anchor="middle" fill="#2a2a2a" stroke="#2a2a2a">***</text>
<rect x="318.70" y="649.76" width="8.00" height="52.54" fill="#7d4a8e"/>
<line x1="322.70" y1="651.07" x2="322.70" y2="648.44" stroke="#222" stroke-width="0.8"/>
<line x1="320.30" y1="648.44" x2="325.10" y2="648.44" stroke="#222" stroke-width="0.8"/>
<line x1="320.30" y1="651.07" x2="325.10" y2="651.07" stroke="#222" stroke-width="0.8"/>
<circle cx="320.50" cy="650.41" r="1.25" fill="#111"/>
<circle cx="322.70" cy="648.97" r="1.25" fill="#111"/>
<circle cx="324.90" cy="649.76" r="1.25" fill="#111"/>
<text x="322.70" y="646.28" font-size="6.8" text-anchor="middle" fill="#2a2a2a" stroke="#2a2a2a">***</text>
<rect x="328.60" y="639.90" width="8.00" height="62.40" fill="#5c1a68"/>
<line x1="332.60" y1="647.29" x2="332.60" y2="632.51" stroke="#222" stroke-width="0.8"/>
<line x1="330.20" y1="632.51" x2="335.00" y2="632.51" stroke="#222" stroke-width="0.8"/>
<line x1="330.20" y1="647.29" x2="335.00" y2="647.29" stroke="#222" stroke-width="0.8"/>
<circle cx="330.40" cy="643.60" r="1.25" fill="#111"/>
<circle cx="332.60" cy="635.47" r="1.25" fill="#111"/>
<circle cx="334.80" cy="639.90" r="1.25" fill="#111"/>
<text x="332.60" y="630.35" font-size="6.8" text-anchor="middle" fill="#2a2a2a" stroke="#2a2a2a">***</text>
<text x="313.30" y="712.16" font-size="6.3" text-anchor="middle" fill="#262626" stroke="#262626">HL60</text>
<line x1="364.60" y1="702.85" x2="364.60" y2="619.60" stroke="#333" stroke-width="1.15"/>
<line x1="361.60" y1="702.30" x2="364.60" y2="702.30" stroke="#333" stroke-width="1.1"/>
<text x="358.80" y="704.73" font-size="6.8" text-anchor="end" fill="#262626" stroke="#262626">0</text>
<line x1="361.60" y1="685.88" x2="364.60" y2="685.88" stroke="#333" stroke-width="1.1"/>
<text x="358.80" y="688.31" font-size="6.8" text-anchor="end" fill="#262626" stroke="#262626">10</text>
<line x1="361.60" y1="669.46" x2="364.60" y2="669.46" stroke="#333" stroke-width="1.1"/>
<text x="358.80" y="671.89" font-size="6.8" text-anchor="end" fill="#262626" stroke="#262626">20</text>
<line x1="361.60" y1="653.04" x2="364.60" y2="653.04" stroke="#333" stroke-width="1.1"/>
<text x="358.80" y="655.47" font-size="6.8" text-anchor="end" fill="#262626" stroke="#262626">30</text>
<line x1="361.60" y1="636.62" x2="364.60" y2="636.62" stroke="#333" stroke-width="1.1"/>
<text x="358.80" y="639.05" font-size="6.8" text-anchor="end" fill="#262626" stroke="#262626">40</text>
<line x1="361.60" y1="620.20" x2="364.60" y2="620.20" stroke="#333" stroke-width="1.1"/>
<text x="358.80" y="622.63" font-size="6.8" text-anchor="end" fill="#262626" stroke="#262626">50</text>
<line x1="364.10" y1="702.30" x2="420.30" y2="702.30" stroke="#333" stroke-width="1.1"/>
<rect x="368.60" y="696.55" width="8.00" height="5.75" fill="#4a5766"/>
<line x1="372.60" y1="700.66" x2="372.60" y2="692.45" stroke="#222" stroke-width="0.8"/>
<line x1="370.20" y1="692.45" x2="375.00" y2="692.45" stroke="#222" stroke-width="0.8"/>
<line x1="370.20" y1="700.66" x2="375.00" y2="700.66" stroke="#222" stroke-width="0.8"/>
<circle cx="370.40" cy="698.61" r="1.25" fill="#111"/>
<circle cx="372.60" cy="694.09" r="1.25" fill="#111"/>
<circle cx="374.80" cy="696.55" r="1.25" fill="#111"/>
<rect x="378.40" y="680.95" width="8.00" height="21.35" fill="#d9c7e1"/>
<line x1="382.40" y1="685.06" x2="382.40" y2="676.85" stroke="#222" stroke-width="0.8"/>
<line x1="380.00" y1="676.85" x2="384.80" y2="676.85" stroke="#222" stroke-width="0.8"/>
<line x1="380.00" y1="685.06" x2="384.80" y2="685.06" stroke="#222" stroke-width="0.8"/>
<circle cx="380.20" cy="683.01" r="1.25" fill="#111"/>
<circle cx="382.40" cy="678.49" r="1.25" fill="#111"/>
<circle cx="384.60" cy="680.95" r="1.25" fill="#111"/>
<text x="382.40" y="674.68" font-size="6.8" text-anchor="middle" fill="#2a2a2a" stroke="#2a2a2a">**</text>
<rect x="388.20" y="671.10" width="8.00" height="31.20" fill="#a983b8"/>
<line x1="392.20" y1="674.39" x2="392.20" y2="667.82" stroke="#222" stroke-width="0.8"/>
<line x1="389.80" y1="667.82" x2="394.60" y2="667.82" stroke="#222" stroke-width="0.8"/>
<line x1="389.80" y1="674.39" x2="394.60" y2="674.39" stroke="#222" stroke-width="0.8"/>
<circle cx="390.00" cy="672.74" r="1.25" fill="#111"/>
<circle cx="392.20" cy="669.13" r="1.25" fill="#111"/>
<circle cx="394.40" cy="671.10" r="1.25" fill="#111"/>
<text x="392.20" y="665.65" font-size="6.8" text-anchor="middle" fill="#2a2a2a" stroke="#2a2a2a">***</text>
<rect x="397.70" y="656.32" width="8.00" height="45.98" fill="#7d4a8e"/>
<line x1="401.70" y1="659.61" x2="401.70" y2="653.04" stroke="#222" stroke-width="0.8"/>
<line x1="399.30" y1="653.04" x2="404.10" y2="653.04" stroke="#222" stroke-width="0.8"/>
<line x1="399.30" y1="659.61" x2="404.10" y2="659.61" stroke="#222" stroke-width="0.8"/>
<circle cx="399.50" cy="657.97" r="1.25" fill="#111"/>
<circle cx="401.70" cy="654.35" r="1.25" fill="#111"/>
<circle cx="403.90" cy="656.32" r="1.25" fill="#111"/>
<text x="401.70" y="650.87" font-size="6.8" text-anchor="middle" fill="#2a2a2a" stroke="#2a2a2a">***</text>
<rect x="407.20" y="633.34" width="8.00" height="68.96" fill="#5c1a68"/>
<line x1="411.20" y1="645.65" x2="411.20" y2="621.02" stroke="#222" stroke-width="0.8"/>
<line x1="408.80" y1="621.02" x2="413.60" y2="621.02" stroke="#222" stroke-width="0.8"/>
<line x1="408.80" y1="645.65" x2="413.60" y2="645.65" stroke="#222" stroke-width="0.8"/>
<circle cx="409.00" cy="639.49" r="1.25" fill="#111"/>
<circle cx="411.20" cy="625.95" r="1.25" fill="#111"/>
<circle cx="413.40" cy="633.34" r="1.25" fill="#111"/>
<text x="411.20" y="618.86" font-size="6.8" text-anchor="middle" fill="#2a2a2a" stroke="#2a2a2a">***</text>
<text x="392.50" y="710.76" font-size="6.3" text-anchor="middle" fill="#262626" stroke="#262626">NB4</text>
<text transform="translate(264.2,659.6) rotate(-90)" font-size="9" fill="#262626" text-anchor="middle" y="3.2" textLength="56.3" lengthAdjust="spacingAndGlyphs" stroke="#262626">NBT reduction (%)</text>
<rect x="423.60" y="618.40" width="5.60" height="5.60" fill="#4a5766"/>
<text x="432.40" y="623.42" font-size="6.2" text-anchor="start" fill="#262626" stroke="#262626">Ctrl</text>
<rect x="423.60" y="628.50" width="5.60" height="5.60" fill="#d9c7e1"/>
<text x="432.40" y="633.52" font-size="6.2" text-anchor="start" fill="#262626" stroke="#262626">2BP (10 μM)</text>
<rect x="423.60" y="638.60" width="5.60" height="5.60" fill="#a983b8"/>
<text x="432.40" y="643.62" font-size="6.2" text-anchor="start" fill="#262626" stroke="#262626">2BP (20 μM)</text>
<rect x="423.60" y="648.70" width="5.60" height="5.60" fill="#7d4a8e"/>
<text x="432.40" y="653.72" font-size="6.2" text-anchor="start" fill="#262626" stroke="#262626">2BP (40 μM)</text>
<rect x="423.60" y="658.80" width="5.60" height="5.60" fill="#5c1a68"/>
<text x="432.40" y="663.82" font-size="6.2" text-anchor="start" fill="#262626" stroke="#262626">2BP (60 μM)</text>
<rect x="0.5" y="0.5" width="519" height="719" fill="none" stroke="#4a4a4a" stroke-width="1.2"/>
</svg></body></html>
